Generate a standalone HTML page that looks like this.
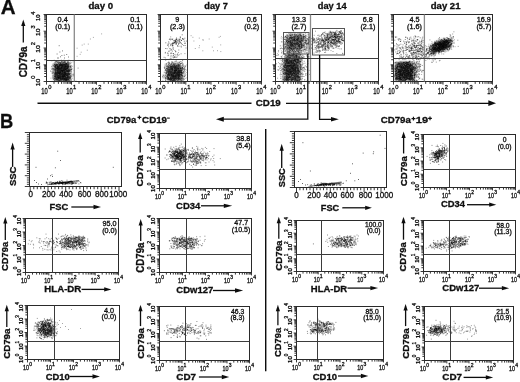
<!DOCTYPE html>
<html><head><meta charset="utf-8"><style>
html,body{margin:0;padding:0;background:#fff;}
svg{display:block;font-family:"Liberation Sans", sans-serif;}
text{stroke:#111;stroke-width:0.3px;}
</style></head><body>
<svg width="520" height="382" viewBox="0 0 520 382" font-family='"Liberation Sans", sans-serif'>
<rect width="520" height="382" fill="#fff"/>
<defs><filter id="gb" x="0" y="0" width="520" height="382" filterUnits="userSpaceOnUse"><feGaussianBlur stdDeviation="0.45"/></filter></defs>
<g filter="url(#gb)">
<defs><filter id="bl" x="-20%" y="-20%" width="140%" height="140%"><feGaussianBlur stdDeviation="1.1"/></filter><filter id="bl2" x="-20%" y="-20%" width="140%" height="140%"><feGaussianBlur stdDeviation="0.6"/></filter></defs>
<path d="M53.5,81 L53.5,66 Q54,62 58,62 L66,62 Q70,62.5 70,66 L70,81 Z" fill="#444" fill-opacity="0.5" filter="url(#bl)"/>
<path d="M60.9 65.9h1M55.3 70.7h1M52.8 76.3h1M61.6 64h1M53.6 79h1M64.5 77.1h1M54.2 78.3h1M58.5 69.5h1M62.9 66.5h1M59.8 73.3h1M57.6 75.5h1M57.9 73.1h1M62 80.1h1M53.8 67.9h1M63.8 70h1M59.9 73.2h1M57.3 69.1h1M61.2 75.7h1M65.1 77h1M70 80.2h1M65.8 76.2h1M57.5 66.4h1M63.6 77.2h1M58.5 64.2h1M58.5 68.2h1M63.8 65.8h1M68.5 79.9h1M58.5 69.8h1M63 79.9h1M63.7 70.7h1M67.5 71h1M55.1 68.9h1M55.6 73.4h1M62.1 76.8h1M56.9 75.9h1M67.9 65.8h1M52.7 73h1M59.5 79h1M57.4 78.2h1M60.9 69.4h1M62.3 80.3h1M63.3 74.5h1M67.1 74.3h1M60.8 76.5h1M66.4 77.3h1M63.2 69h1M58.6 71.4h1M61.8 67.1h1M60.3 79.7h1M63.2 78h1M63.9 69.8h1M56.3 65.5h1M58.3 75.2h1M68.7 71.1h1M62.9 62.5h1M65.5 68.4h1M55.4 71.7h1M56.2 66h1M67.2 62.3h1M55.3 70.4h1M64.8 69.4h1M72 78.2h1M66 75.9h1M51.6 66.3h1M64.6 78.1h1M57.4 72.9h1M67.6 79h1M71 69.2h1M69.2 63.9h1M69.6 78.8h1M51.7 73h1M56.8 76.8h1M65.3 80.6h1M67.6 79.2h1M54 80.3h1M56.1 66h1M54.3 64.8h1M63.6 72.7h1M62.3 68.1h1M60.9 70.9h1M57.1 74.9h1M59.2 64.8h1M62.8 78.8h1M61.4 73.3h1M60.5 77.9h1M60.8 67.7h1M68.4 64.3h1M67.3 71.7h1M63.5 71.1h1M59.2 68.3h1M60.9 70.8h1M59.9 60.4h1M69.6 63.4h1M58.4 66.6h1M55.2 67.4h1M64.4 79.3h1M51 66.4h1M62.9 76.5h1M69.2 70.9h1M56.7 72.7h1M62 72.6h1M64.9 80.2h1M59.8 77.9h1M58.6 72.6h1M56.1 79.9h1M69.8 73.9h1M64.9 73.2h1M62.2 65.5h1M59.7 70.1h1M66 65.4h1M58.9 72.7h1M64.1 66.4h1M68.7 80.3h1M65.4 79.9h1M58.2 65.9h1M65.7 65.6h1M67.4 62.3h1M57.1 75.6h1M71.7 75.8h1M60.1 68.6h1M59.3 76.3h1M67.1 71.5h1M59.3 77.2h1M55.4 74.4h1M63.3 73.2h1M58.1 66.7h1M72.6 61.9h1M67.9 77.8h1M51.8 73.6h1M67.9 67.4h1M66.6 68.9h1M60.8 69.6h1M61.5 65.1h1M63.1 70.6h1M55.5 72.8h1M69.8 78.1h1M63.7 76.4h1M68.1 67.9h1M62.8 76.6h1M55.4 79.1h1M57 72.1h1M66.8 77.1h1M58.7 78.5h1M64.5 71.1h1M65.5 63.1h1M65.9 78.3h1M56.4 78.3h1M57.4 66.7h1M61.5 68.1h1M57.9 72.7h1M65.6 70.1h1M63.1 61.1h1M58.8 70.5h1M55.8 71.8h1M65.5 80.1h1M53.3 66.1h1M57.9 77h1M57.5 62.1h1M69.5 77.9h1M59.1 77.1h1M60.8 79.8h1M57 67.9h1M62.6 70.4h1M70.2 66.5h1M55.5 71.9h1M67.7 78.5h1M57.1 80h1M65.1 74.5h1M60.4 65.3h1M57.3 68.4h1M62 71.1h1M66.1 79.9h1M66.9 64.2h1M51.7 69h1M57.6 77.7h1M67.9 80h1M60 73.1h1M55.1 64.6h1M69.1 70.4h1M60.4 62.5h1M67 68.7h1M61.7 71.8h1M60.7 72.4h1M60.5 69.3h1M56.3 64.6h1M62.4 66.2h1M58.4 72.6h1M60.4 69.7h1M66 75.5h1M64.8 67.5h1M57.6 62.3h1M64.1 74.4h1M56.6 68.6h1M61.4 65.1h1M57.3 71.3h1M68.3 77.2h1M62.5 76.1h1M59.8 74.8h1M64.2 69.9h1M58.8 74.9h1M56.5 74.3h1M68.1 77h1M61.7 68h1M53.2 72.4h1M52.8 68.5h1M60.9 79.1h1M64.3 72.7h1M63.7 79.3h1M63.4 73.2h1M65 67h1M56.8 72.8h1M63.3 67.8h1M54.1 70h1M67.8 76.1h1M65.7 80.6h1M51.4 71.8h1M68.2 78.9h1M62.4 78.9h1M63.7 75.1h1M67.9 66.8h1M60.9 77.9h1M61.3 67.3h1M66.8 66.4h1M68.3 72h1M62.7 72.7h1M68.8 65h1M53.8 75h1M71.6 68.9h1M61.2 67.5h1M68.2 79.7h1M59.7 77.1h1M54.4 72.4h1M65 69.6h1M68.6 73.6h1M70.3 73.6h1M57.6 79.1h1M68.6 70.8h1M67.5 65.6h1M65.7 68.8h1M60.7 65.1h1M58.8 65.3h1M63.4 63.1h1M55.6 64.4h1M60.2 77.3h1M59.3 74.6h1M61.2 64.7h1M67.1 76.1h1M57.9 72.2h1M59.8 72.8h1M58.9 65.3h1M64.7 64.3h1M66.8 73.8h1M62.2 75.4h1M54.6 76.6h1M65.1 66.3h1M64.6 65.4h1M60.6 74.6h1M55.7 77.8h1M59.7 69.2h1M59.4 72.8h1M61.5 63.2h1M54.3 66.5h1M60.3 74.1h1M67.1 66.9h1M70.8 75.8h1M59.2 64.7h1M51.8 73.1h1M56.7 79.4h1M63.1 80.6h1M54.1 80.6h1M62.5 64.4h1M59.6 67h1M54.2 70.2h1M65.1 66.4h1M61.4 78.6h1M68.4 78.1h1M71.2 71.9h1M64.9 69.5h1M62.1 69h1M55.6 64.8h1M60.3 76.9h1M60.2 68.4h1M67.2 74.6h1M56.3 76.1h1M53.9 69.1h1M56.9 68.5h1M64.6 62.4h1M64.9 72.3h1M63.3 77h1M67.2 69.1h1M63.8 75.9h1M58 63.7h1M59.1 73.7h1M68 73.6h1M58.4 67.9h1M66.1 77.7h1M55.2 66.7h1M67.6 79.4h1M65.1 70.5h1M65.3 80.1h1M62.1 70.6h1M59.7 79.3h1M52.9 70.3h1M60.3 72.3h1M66.3 74h1M54.6 74.3h1M65.1 66.3h1M66.7 79.4h1M67.8 71.2h1M67.7 76h1M59.7 78.3h1M58.7 80.7h1M61.8 76.8h1M69.4 77.5h1M59.2 65.9h1M65.7 78.7h1M53 77.7h1M63.4 69.8h1M63.1 74.6h1M60.6 77.4h1M66.2 77.8h1M62 75.4h1M70.7 71.7h1M60.1 66.7h1M59.7 71.8h1M56.1 77.7h1M59.1 79.8h1M68.8 80.4h1M55.1 73.8h1M70.1 75.5h1M69.8 76.1h1M59.4 72.2h1M63.1 63h1M67.7 66.1h1M65.5 66.5h1M60.1 78.9h1M68.2 73.1h1M67.7 74.8h1M58.4 73.1h1M65.5 73.7h1M59.6 72.1h1M66.6 79h1M67.4 61.4h1M63.2 76.2h1M56.3 65.9h1M62.6 73.8h1M62.5 64.8h1M64.8 69.3h1M65.8 63.7h1M52.8 69.4h1M66.5 75.6h1M59.1 73.6h1M57.3 72.2h1M57.9 69.8h1M69.3 66.2h1M66.6 79.1h1M51.9 64.2h1M58.8 62.3h1M56.7 65.8h1M64.4 69.5h1M58.8 65.9h1M64.9 76.6h1M63.1 65.2h1M68.4 72h1M64.8 67.2h1M65 71.1h1M59.4 68.6h1M64.3 72.9h1M69.7 69.9h1M56.2 67.3h1M57.4 77.2h1M56.8 71h1M57.4 72h1M70.8 79h1M58.1 66.8h1M61.1 68h1M55.8 79.6h1M61.1 62.1h1M64.4 70.4h1M64.6 69.5h1M58 62.9h1M57.9 67.8h1M59.9 78.3h1M61.8 66.1h1M61.2 67.2h1M58 77.5h1M65.8 64.4h1M53.4 64.9h1M65.9 79.3h1M64.1 66.8h1M62 66.2h1M63.1 67.6h1M55.5 67.7h1M56.8 66.4h1M58.7 67.5h1M53.7 65h1M56 64h1M57.6 64.1h1M63.5 78.3h1M62.5 62.4h1M62.8 75.4h1M66.8 72.1h1M64.5 74.2h1M53.8 60.7h1M63.9 72.5h1M61.6 65.5h1M66.6 66.5h1M54.8 65.7h1M65.5 80.4h1M61.7 64h1M62 65.6h1M62.9 70.5h1M62.7 76.7h1M66 64.7h1M66.5 78.9h1M58.6 71.3h1M61.2 68.2h1M56 75.5h1M63.5 64.4h1M54.5 78.3h1M56.5 73.4h1M57.5 78.8h1M58.1 71.7h1M56.4 68.7h1M61 70.4h1M61.4 75.9h1M61.6 65h1M61.7 65.7h1M58 80.4h1M52.9 71.4h1M57.4 72h1M68 71.5h1M63.7 64.4h1M65.8 66.6h1M56.3 65h1M64.3 78.7h1M62.5 75.8h1M54.8 67h1M60.8 66.1h1M58.5 74h1M54.7 74.7h1M65.1 74.8h1M59.9 65.2h1M56.9 67.6h1M55.5 80.4h1M56.1 73.5h1M57.8 75.4h1M58.5 72.2h1M58.5 77.2h1M67.1 73.5h1M62.6 67.3h1M54.9 77h1M64.4 79.5h1M71.1 65.6h1M57.9 76.8h1M55.1 64.9h1M59.3 74.9h1M64.7 64.2h1M60.8 61.3h1M67.2 68.2h1M65.6 70.1h1M62.3 76.7h1M52.2 65.8h1M68.9 69h1M60.4 76.4h1M64.4 64.2h1M67.7 79.4h1M54.4 69.6h1M58.3 77.1h1M63.7 68.2h1M70.5 69.8h1M56.5 70.8h1M63.1 78.2h1M64.3 74.6h1M55.6 67.2h1M55.4 78.3h1M67.5 70.6h1M60.5 66.2h1M65.9 63.3h1M56.7 61.1h1M68.5 70.4h1M56.2 68.8h1M64.7 69.1h1M65.2 63.3h1M67.2 76.6h1M67.9 60.2h1M58.5 69.8h1M66 66.8h1M65.5 74.7h1M64.9 78.8h1M59.3 73.6h1M67.1 64.2h1M54.7 70h1M66.4 68.3h1M68.8 74.5h1M59.8 75.6h1M54.9 66.8h1M56.2 78.9h1M69.4 70h1M61 61.4h1M66.9 73.4h1M54 69.8h1M67.5 65h1M67.2 75.8h1M67.3 66.6h1M56.2 64.7h1M59.2 67.8h1M57.5 67.9h1M55.2 65.8h1M61.6 73.3h1M55.3 75.1h1M54.7 66.9h1M63.7 79.4h1M70.2 63.8h1M52.2 76.3h1M55 73h1M60.8 79.3h1M69.4 76.3h1M66.9 67.4h1M63.2 64.8h1M61.7 65.5h1M56.9 62.5h1M58.2 77.5h1M65.9 76h1M55.9 65.4h1M56.8 74.7h1M56.1 72.2h1M63.9 73.7h1M66.3 80.8h1M54.9 76.7h1M65.5 60.9h1M68.2 76.6h1M64 62.1h1M64.8 62.6h1M55.1 63.8h1M58.4 72.6h1M58.6 71.8h1M59.8 69.6h1M61.8 70.9h1M66.2 74.7h1M61.6 78.1h1M60.8 70.8h1M66.8 71.6h1M50.9 60.9h1M65.1 73.7h1M72.7 73.7h1M57.7 80.1h1M58.6 73h1M65 73h1M65 74.8h1M59.1 77h1M63.6 76.2h1M68.3 78.3h1M56.9 79.9h1M60.7 64h1M66.7 79.5h1M62.7 76.2h1M54.7 61.9h1M62.8 77.8h1M56.7 72.6h1M70.9 79.2h1M67.2 80.5h1M67.4 63.5h1M67.1 70.2h1M61.3 67.5h1M66.2 68.7h1M62.6 79.9h1M66.2 78.3h1M54.3 67h1M58.8 69.1h1M64.7 64.9h1M64.3 80.3h1M58 69.7h1M68.5 74.7h1M62 76.1h1M66.1 79.5h1M59.6 64.9h1M60.2 70.6h1M61.2 73.4h1M65.4 64.2h1M65.8 79.8h1M65.1 74.8h1M51.9 77.7h1M57.8 71.6h1M56.3 68.8h1M63.3 67.6h1M66.3 80.3h1M58.9 69.3h1M70.2 70.5h1M54.1 64.9h1M66.6 68h1M70 74.9h1M69.1 60.3h1M71.6 76.1h1M63.1 79.7h1M64.7 79.8h1M54.4 68.4h1M64.2 66.7h1M59.1 65h1M56.6 67.6h1M63.2 72.8h1M61.9 77.2h1M64.1 71.2h1M64.5 69h1M63.5 75.7h1M65.3 63.7h1M64.7 75.8h1M53 66h1M63.4 78.7h1M59.9 63h1M68.5 79.8h1M52.4 70.8h1M59.3 73.3h1M57.3 77.5h1M62.3 76.3h1M64.6 71.2h1M61.9 73.1h1M61.3 77.1h1M57.3 76.7h1M53.3 79.5h1M63.2 71.4h1M66.5 64.6h1M55.9 68.7h1M66.7 80.3h1M67.3 79.6h1M68.3 78.2h1M60.1 62.7h1M63.1 74.8h1M67 77.5h1M63.2 80.6h1M65.3 73.3h1M59.7 65.3h1M62.8 68.2h1M60.5 72.3h1M56.1 78.6h1M66.1 64.7h1M70.6 70h1M62.4 71.2h1M62.6 65.6h1M59.9 77.5h1M70.1 77.5h1M67.4 74.4h1M66.7 65.3h1M64.9 79.7h1M58.5 80.1h1M60.9 64.3h1M63.1 69.8h1M67.2 75.2h1M63.3 77.9h1M62.2 74h1M60.3 76.3h1M63.8 75h1M63.7 68.9h1M67.7 74.2h1M68.2 66.7h1M59.5 69.6h1M66.5 65.9h1M64.1 60.7h1M65.5 73.7h1M57.9 67.5h1M65.2 68.3h1M56.7 73.5h1M61.9 71.8h1M63.4 74.6h1M54.4 66.4h1M63.5 65.8h1M65.1 68.5h1M66.7 75.5h1M58.8 76.4h1M71.1 62.7h1M69.9 77.1h1M65 79.4h1M64.2 78.1h1M59.2 74.8h1M63.1 66.5h1M58.8 67h1M65.1 74.5h1M53.9 78.6h1M69.4 66.8h1M56.6 66.5h1M62.2 79h1M69.9 73.5h1M62 71.5h1M53 68.8h1M64.9 64.5h1M60.3 75.3h1M61.8 76.9h1M67.5 65.9h1M58.8 67.1h1M60.2 78.1h1M63.5 62h1M59.2 64.7h1M53.5 74.7h1M65.1 63h1M68.3 66.3h1M58.2 63.8h1M65.8 74.5h1M67.1 63.3h1M55.1 65.5h1M58.1 67.1h1M63.6 67.8h1M66.7 67.8h1M56.6 76h1M62 64.7h1M53.9 62.9h1M67.9 66h1M65.2 72.1h1M69 78.6h1M66.5 70.8h1M63.9 70.1h1M55.6 73.1h1M57 66.1h1M61.4 65h1M65.3 66.2h1M54.6 79.4h1M52.3 72.6h1M62.7 75h1M63.6 78.1h1M62 70.1h1M59.6 78.7h1M62.5 79.5h1M57.6 79.1h1M68.7 80.2h1M55.6 78.7h1M59.6 76.1h1M69.1 73.8h1M62.1 73.2h1M57.2 75h1M59.8 80.8h1M71 76.1h1M66.7 73.6h1M66.4 74h1M55.8 77.7h1M57 64.8h1M64.2 75.7h1M55.6 66.8h1M67.4 70.6h1M66.6 79.4h1M64.1 76.3h1M58.7 70.1h1M64.2 78.3h1M67 65.1h1M67.3 62.1h1M60.2 64.4h1M58.6 69h1M64.5 66.1h1M68.5 73.3h1M65.5 66.2h1M67.3 68.7h1M69.1 62.4h1M61.2 75h1M68.4 73.6h1M51.7 71.4h1M60.9 71.5h1M67 71.3h1M55.5 70.4h1M62.3 78.1h1M66.1 63.6h1M64 79.2h1M64.7 72.9h1M69.5 66.3h1M59.8 64.1h1M62.8 78.3h1M64.4 76.5h1M65.5 66.7h1M55.9 67h1M59.7 65.4h1M67.1 65.1h1M57 67.3h1M59.4 62.2h1M67.6 79.2h1M61.2 74.3h1M68.1 69.7h1M67.4 77.9h1M57.4 77.3h1M63.3 69.2h1M62.4 67.4h1M56.7 70.7h1M58.5 77.6h1M58.8 68.7h1M63.8 80.6h1M67.6 67.6h1M61.1 65.6h1M57.9 68.1h1M64.9 79.3h1M65 75h1M65.4 79h1M65 79h1M67.1 78.2h1M66.7 69h1M65 71.4h1M61 68h1M65.1 69.4h1M65.8 80.8h1M65.7 69.7h1M59.7 78.2h1M57 71.8h1M63.9 75.7h1M61.9 70.7h1M56.3 74.7h1M59.2 68.8h1M56.8 80.4h1M66.1 78.1h1M57.4 77.5h1M55.8 61.6h1M68.8 77.8h1M58.5 68.5h1M59.3 75.8h1M55.3 62.2h1M65.1 65.3h1M60 79.9h1M70.8 80.4h1M70.7 67.2h1M58.7 68.8h1M70.1 79h1M59.1 65.3h1M68.9 74.8h1M63.6 69.6h1M71 73.8h1M58.1 67.1h1M64 74.3h1M53.6 69h1M61.1 78.9h1M53.5 64.3h1M62.3 68.2h1M66.3 78.7h1M55 71.4h1M70.2 61h1M57.4 62.3h1M60.2 78.9h1M56.9 77.8h1M63.5 60.7h1M58.2 78.7h1M57.9 68.2h1M57.2 78.9h1M69.6 68.7h1M62.3 67h1M63 77.1h1M58.6 71.1h1M63.9 80.2h1M69 74.5h1M62.1 63.8h1M62 63.2h1M58.3 77.3h1M59.7 76.6h1M65.2 77.2h1M58.4 75.2h1M61.5 71.2h1M57.5 65.3h1M55.4 72.3h1M60.7 64.2h1M63 70.3h1M57.6 73.3h1M61.1 64.4h1M57.5 64.5h1M57 79.3h1M64.2 74.9h1M54.3 64.8h1M60.6 69.6h1M71.3 69.1h1M55.4 69.2h1M62.7 71.2h1M58.9 77.5h1M62.7 68.7h1M60.2 65.1h1M61.1 74.9h1M58.9 73.4h1M57.4 76.6h1M57.9 77.9h1M63.6 74.8h1M61.6 61.9h1M63.3 74.7h1M62.2 73.2h1M62 74.6h1M57.6 69.2h1M61.9 75.8h1M55.9 73.1h1M65.8 66h1M54.1 76.1h1M57.6 65.8h1M66.5 68.4h1M65.3 77.6h1M65.2 68.2h1M63.2 79.5h1M64.3 66.6h1M56.7 70.5h1M58.3 62.7h1M58.4 77.2h1M59.2 72.5h1M54.6 76.5h1M55 66h1M60.8 69h1M62.1 70h1M52.4 68.8h1M61.6 67.4h1M63.9 79.6h1M64.3 64.8h1M55.5 72.3h1M54.8 66.3h1M66.9 68.1h1M62.2 71h1M50.8 68.2h1M62.2 71.3h1M55.8 61.7h1M59.2 79.1h1M56.7 78.1h1M58.8 65.9h1M69.6 80h1M55.2 69.4h1M55.7 75.1h1M54.7 72.6h1M54.9 70.3h1M66.1 70.7h1M68.7 76.8h1M58.6 66h1M61.7 61.2h1M62.4 62.1h1M56.2 77.5h1M68.6 69.7h1M67.7 67h1M57.1 67.9h1M67.9 64.2h1M60 63.5h1M67.4 80.4h1M58.8 63h1M54.5 71.4h1M57.1 71.8h1M63.8 70.6h1M54.6 63.1h1M62.5 75.2h1M66.8 78.5h1M57 64.5h1M71 72h1M62.1 79.5h1M57.7 73.6h1M58.6 71.2h1M54 76h1M55.7 74.8h1M63.6 65.8h1M65.2 74.6h1M67.5 71.3h1M61.2 74.5h1M65.8 64h1M59.9 75h1M54.5 75.5h1M57.5 60.5h1M54.6 71.2h1M53.6 73.8h1M67.7 74.4h1M63 75h1M58.5 77.8h1M66.8 70.8h1M65.4 77.9h1M58.6 63.9h1M69.8 71.8h1M58.7 68.8h1M62 76.7h1M62.4 76.5h1M58.8 80.3h1M58.3 77.6h1M55.6 79.1h1M57.8 78.8h1M60.5 65.5h1M56.3 70.8h1M64.5 74h1M69.1 75.4h1M68.2 72.4h1M55.7 78.6h1M63.3 66.6h1M52 75.2h1M68.1 72.6h1M60.2 80h1M68.1 70.1h1M66 79.7h1M55.2 61.8h1M54.4 77.4h1M65.8 76.9h1M59.5 72.4h1M70.6 67.8h1M68.9 71.2h1M57.6 65.3h1M56.7 74.7h1M66.1 70.6h1M67.9 64.4h1M57.2 76.2h1M65 74.8h1M64.2 68h1M58.4 75.6h1M67 70.2h1M61.5 79.6h1M59.1 62.4h1M69.7 72.7h1M63.7 60.3h1M57.4 66.8h1M57.9 75.4h1M68.3 71.4h1M57.6 77.1h1M64.4 77.2h1M63.5 75.3h1M65.2 65.7h1M66.8 72.5h1M71.3 80.2h1M62.1 74.1h1M57.7 69.3h1M67.4 62.5h1M61.4 64.7h1M68.4 70.4h1M54 65.3h1M70.7 76.9h1M56.4 68.8h1M69.1 74.9h1M69.1 77h1M58.9 73.5h1M66.4 75.1h1M67.9 75.3h1M64.3 67.2h1M64 73.6h1M64.9 65.3h1M56.5 64.1h1M60.5 80.4h1M64.9 76.3h1M55.5 70.6h1M69.7 66.8h1M60.3 77.6h1M60.6 71.1h1M57.7 80h1M68.5 76.4h1M58.8 66.7h1M59.6 72.2h1M60.1 72.3h1M57.8 77.2h1M61 60.1h1M61.8 74.7h1M65.7 71.3h1M61.2 68.2h1M56.6 73.4h1M61.9 62.2h1M66.3 80h1M66.4 67.8h1M57.3 66.2h1M55.4 79.1h1M57.3 66.7h1M63.3 60.2h1M62 77.5h1M55.7 73.6h1M66.5 77.9h1M66.2 74.1h1M57.1 70.8h1M62.7 63.3h1M65.2 80h1M55 65.4h1M59 62.9h1M60 67.7h1M66.9 66h1M65.6 67.6h1M61.1 73.2h1M58.1 61.2h1M63 73.2h1M64.4 75.3h1M62.8 79.7h1M63.4 75.8h1M62.5 70.7h1M56.7 78.4h1M60.9 74.7h1M64.1 68.7h1M61.7 78.9h1M62.4 76.2h1M57.3 79.8h1M67.8 66.1h1M56.6 69.1h1M60 71.6h1M64 68.1h1M57.8 73.6h1M67.8 74.1h1M61.8 70.5h1M55.1 75.1h1M55 76.6h1M57.8 75.7h1M59 78.4h1M55.7 76.9h1M58.9 78.7h1M64.5 79.1h1M54.3 74.1h1M50.4 78.2h1M51.1 69.6h1M62.2 78.7h1M69.7 78.5h1M57.8 77.1h1M55.4 61.1h1M65.3 66.6h1M61.2 70.2h1M62.8 69.7h1M57.1 75.8h1M60 74.9h1M55.1 65.2h1M67.5 77.4h1M70 66.8h1M57.3 70.6h1M69.7 68h1M60.9 77.5h1M60.5 73.3h1M54.9 75.5h1M66 79.2h1M68.3 62.9h1M57.5 70.1h1M56.9 73.3h1M60.2 74.2h1M55.7 69.7h1M64.5 78.1h1M68.3 70.1h1M62.4 71.2h1M66.8 70.6h1M53.6 63.5h1M65.5 68.1h1M70.2 77h1M67.4 66.4h1M67.5 66.8h1M62.2 66.5h1M69.6 78.6h1M58.8 74.2h1M58.6 65.6h1M60.9 76h1M56.1 75.3h1M53.9 66.5h1M61 70.4h1M52 69.1h1M59 65.8h1M52.8 72.3h1M58.2 69.1h1M59.7 70.6h1M62.4 77.5h1M67.2 76.4h1M61.8 76.3h1M64.2 65h1M67.9 77.3h1M64.4 69.7h1M65.4 63.6h1M58.6 80.6h1M64.5 60.8h1M59.1 75.6h1M60.2 70.8h1M58.7 69.8h1M64.3 64.5h1M66.2 73.4h1M59.3 72.7h1M66.3 67.3h1M54.6 76h1M63 69.3h1M68.5 63.3h1M61.2 66.6h1M64.4 79.9h1M59.7 74.2h1M64.6 76h1M58.3 76.7h1M56.5 61.3h1M60.4 68.2h1M56.9 69.4h1M65.5 65h1M67.4 69.8h1M58.3 68h1M57.7 72.2h1M61.1 65.6h1M56.5 69.1h1M59.4 67.8h1M55.1 68.8h1M59.6 79.5h1M63.4 64.5h1M54.8 74.7h1M68 70h1M56 76.5h1M68.3 71.4h1M67.4 71.4h1M66.1 63.8h1M61.2 68.2h1M63.8 62.1h1M62.2 74.4h1M56.3 64.7h1M65.1 76.5h1M58.3 73.6h1M55.4 73.3h1M70.1 65.6h1M60.7 65.2h1M69.3 77.6h1M66.8 74.9h1M60.7 66.3h1M62.7 73.9h1M62.7 78.6h1M68.7 77.3h1M63.9 79.1h1M63.3 67.1h1M66.5 64h1M54.9 76.9h1M67.7 65.4h1M66.1 66.3h1M62.4 65.8h1M65.8 75.2h1M54.2 73.5h1M62.2 68.6h1M54.9 80.2h1M65.4 78.3h1M58.6 68.4h1M55.1 68.2h1M64 64.2h1M59.8 64.1h1M62.4 65h1M66.2 79.6h1M61.5 76.7h1M58.7 73.6h1M70.2 69.6h1M63.4 68.9h1M64.9 66.8h1M55.4 73.2h1M56.5 61.6h1M67.1 77.9h1M58.2 75.9h1M59.6 71.5h1M53.2 69.4h1M56 79.5h1M67.9 64.2h1M57.5 66.8h1M60.3 63.1h1M60.7 64.9h1M64 67.9h1M54.4 76.8h1M58.2 78.8h1M58 68.1h1M67.9 61.8h1M59.5 64.8h1M60.4 71.4h1M58.6 71.2h1M53.6 77.3h1M64 62.2h1M65.4 67h1M64.4 64.4h1M60 65.1h1M53.9 64.5h1M59.8 64.3h1M65.2 78h1M58.9 80.5h1M58.1 67.3h1M52.7 65.6h1M60 68.1h1M62 66.1h1M68.2 75h1M57.3 75.3h1M62 64.3h1M58.3 60.8h1M62.9 77h1M63.9 73.1h1M67.9 63.1h1M58.6 72.9h1M64.8 72.8h1M70.1 69.4h1M63.1 64.4h1M61.1 66.6h1M63.5 68.4h1M63.4 64.9h1M62.4 70.1h1M54.9 73.8h1M57.1 72.8h1M57.2 79.9h1M57.9 71h1M61.7 73.2h1M64.1 72.7h1M67.6 64.9h1M55.1 67.3h1M54.5 76.8h1M67.7 62.9h1M66.8 67h1M60.3 67.1h1M63.4 72.8h1M61.9 79h1M64.8 67.6h1M57.1 69.2h1M69.9 62.8h1M60 66.2h1M69.3 67.2h1M65.3 69.8h1M70.6 70.3h1M68.2 76.8h1M67.1 68h1M66 71.7h1M66 71.4h1M63.8 65.4h1M63.4 63.1h1M63.4 76.2h1M60.7 69.7h1M62.1 79.9h1M60.1 73h1M62.6 69.2h1M63.5 71.1h1M61.2 73.8h1M66.5 70.9h1M62.8 70h1M65.5 80.2h1M67.7 68.1h1M61.2 74.7h1M57.6 80.2h1M55 67.8h1M62.5 69.9h1M65.8 64.7h1M63.8 65.1h1M61.9 75.1h1M63.3 68.6h1M60.1 74h1M59.3 64.2h1M65.2 73.3h1M59.2 74.2h1M54 80.1h1M66.6 75h1M58.6 68h1M55.7 64.6h1M60.8 70.6h1M62 78.6h1M71.3 68.2h1M54.7 72.4h1M63.7 76.4h1M64.5 72.6h1M67.7 80.7h1M55.3 75h1M59.2 73.4h1M60.7 70.2h1M63.9 72.8h1M57.6 73.4h1M64.5 67.1h1M62.8 71.7h1M62.9 64.3h1M54.9 77.8h1M53.7 60.2h1M69.7 77.2h1M61 73.6h1M67.4 61.3h1M57.2 67.3h1M65.6 71.9h1M65.9 70.1h1M55.5 76.7h1M62.2 60.7h1M63.6 72.1h1M54.4 76h1M65.9 69.5h1M58.8 71.9h1M62 78.1h1M58.8 70.3h1M66.6 73.8h1M54.3 76.6h1M64.2 76.5h1M67.5 75.4h1M59.4 75.8h1M54.9 66.2h1M57.4 65.8h1" stroke="#000" stroke-width="1" stroke-opacity="0.28"/>
<path d="M58.9 73.5h1M63.5 75.5h1M63.5 78.5h1M61 67.8h1M61.9 72.7h1M68.7 69.9h1M62.7 76.9h1M60.3 68.5h1M62.9 67.8h1M68.2 77.6h1M62.5 76.7h1M68.8 76.9h1M57.8 78.1h1M65.3 80.5h1M55.1 73h1M56.4 73.3h1M59.8 65.4h1M63.6 68.6h1M62 71.6h1M56.1 71.1h1M60.5 73.9h1M65.7 78.4h1M63.6 76.1h1M64.1 68.4h1M67.2 76.2h1M64.9 69.1h1M59 73.9h1M64.5 64.5h1M64.4 72.4h1M66.9 67.5h1M63.7 65.8h1M57 71.2h1M62.8 71.1h1M66.4 69.9h1M60.5 75.1h1M65.2 66.5h1M63.8 70.3h1M61.5 67.2h1M63.9 78.7h1M65.6 71.3h1M65 78.6h1M60.6 65h1M57.6 68.4h1M68.1 72.2h1M67.6 74.7h1M67.3 71.5h1M58.5 66.6h1M64 73.5h1M55.3 79.8h1M63 77.2h1M61.1 80.1h1M61.5 67.8h1M66.8 79.1h1M59.1 76.3h1M61.8 70.2h1M65.9 75.5h1M64.5 76.8h1M54.9 72.9h1M59.2 77.8h1M60 69h1M62.8 75.2h1M59.9 69.6h1M63.2 73.2h1M58.8 70.2h1M54.4 67.4h1M57.9 73.6h1M61.5 67.8h1M60.7 78.1h1M65.6 67.6h1M58.5 74.6h1M59.7 70.5h1M59.6 71.7h1M58.2 69.5h1M67.3 68.7h1M53.6 73.2h1M63.6 78.7h1M66.8 72.2h1M59.8 75.3h1M64.8 79.3h1M64.7 74.1h1M65.8 64h1M64.2 68.7h1M62 70h1M62.4 66.5h1M66.8 69h1M60.4 74.2h1M59.7 72.7h1M53.1 75.6h1M54.2 73.5h1M63 65.9h1M63.8 64h1M61.5 69.7h1M62 78.1h1M63.2 64.1h1M61.6 66.6h1M59.2 66.6h1M58.3 77.7h1M64.9 66.8h1M63.2 74.8h1M65.4 77.4h1M62.3 73.3h1M56.8 67.7h1M67.3 74.1h1M66.2 71.8h1M64.7 74.1h1M66.7 67.6h1M59.3 78.1h1M64.9 75.8h1M58.7 75.8h1M66 68.2h1M65.2 73h1M64 67.8h1M65.5 69.2h1M59.2 68.6h1M67.3 66h1M55.8 68.4h1M59.7 71.1h1M55.1 79.1h1M55.4 78.3h1M57.5 70.5h1M61.4 70.4h1M60.3 72.7h1M69.1 73.7h1M54.7 76.1h1M61.3 78.9h1M58.7 73.4h1M56.6 77.7h1M64.6 69.4h1M60.6 72.4h1M60.7 64.6h1M59.5 70.3h1M66.1 74.8h1M63.7 77h1M66.2 70.1h1M69.7 76h1M58.4 67.3h1M56.9 74h1M61 76.1h1M64.4 78.1h1M57.8 77.5h1M64.3 71.8h1M60.4 76.1h1M64.6 62h1M57.3 72.9h1M57.1 76.2h1M63.9 66.9h1M63.5 76.6h1M67 75.7h1M60.5 63.8h1M62.3 70.3h1M61.9 74h1M56.3 74.8h1M63.9 67.1h1M64.7 73.6h1M59.8 69.9h1M63.8 75.3h1M58.5 75.5h1M59.4 67.3h1M57.3 66.2h1M69.2 69.9h1M60 78.4h1M56.8 68.3h1M60.6 79.1h1M55 73.5h1M64.1 78.9h1M61.4 70.2h1M64.6 73.5h1M64.5 75.1h1M61.2 68.4h1M63.2 70.1h1M61.3 67.7h1M65.5 70.1h1M61.3 67h1M67.6 71.4h1M62.8 72.8h1M60.9 80h1M67.6 73.5h1M58.2 74.2h1M56.6 72.3h1M61.3 67.3h1M62.4 64.8h1M57.4 76.7h1M61.4 70.6h1M55.9 80.6h1M58.8 71.5h1M59.7 77.7h1M63.4 76h1M65.1 71.8h1M68.4 68.8h1M57.6 77.2h1M57.1 69.7h1M57.3 68.6h1M66.8 77.8h1M60.7 79.9h1M56.7 77.8h1M58.1 67.1h1M55.1 69.3h1M64.4 67h1M58.5 69.6h1M65.9 63.7h1M65.6 73.1h1M63.4 76.9h1M65.5 66h1M66.1 63.4h1M65 68.4h1M59.5 76.9h1M61.4 68.2h1M59.8 72.1h1M68.2 73.3h1M68.9 78.3h1M64.2 75.3h1M68.3 68.7h1M62.9 70.1h1M57.8 72.5h1M62.4 64.2h1M56.6 65h1M60.2 68.6h1M57.4 66.7h1M60.7 68.6h1M67.7 70h1M60.5 80.8h1M61.8 66.3h1M55.1 69.1h1M68.8 74h1M69 71.3h1M67.1 76.6h1M63.4 72.4h1M64.1 74.1h1M65.3 68.4h1M66.5 65.7h1M59.7 75.8h1M66.1 72.3h1M64.2 74.9h1M63.7 70.9h1M59.9 63.8h1M57.4 70.4h1M60.5 80.7h1M57.7 78.6h1M62.3 72.9h1M67.9 67.2h1M63.6 71.1h1M54.9 72.1h1M60.7 76.8h1M64.4 72.8h1M61.8 65.9h1M58.2 74h1M60.6 68h1M56.5 68.5h1M64.3 63.9h1M59.4 77h1M65 73.3h1M62.2 72h1M59.3 74h1M59.7 76.7h1M59.2 78h1M59 73.2h1M65 66h1M60 65h1M65.7 70h1M58 77.1h1M54 78.5h1M60.7 71.4h1M66.5 77.4h1M58 77.2h1M64.7 66.1h1M68.4 73.8h1M55.6 70h1M56.8 74.4h1M55.4 65.6h1M57.2 74.7h1M57.4 70h1M56.3 72.6h1M59.8 68.7h1M58.2 68.8h1M68.4 70.6h1M59.9 71.9h1M65.9 68.4h1M56.8 68h1M64.7 67.2h1M64.9 77.9h1M61.7 77.1h1M55.3 77.6h1M59.3 66.9h1M56.3 76.5h1M57.7 73.2h1M64.2 79.9h1M60.3 70.7h1M59.1 80.7h1M60 67.1h1M54.2 74.4h1M65 69.5h1M67.1 77.6h1M60.3 76.6h1M65.9 66.8h1M64.8 72h1M57.5 72.2h1M64.1 75.7h1M64.6 77.6h1M62 68.8h1M66.7 77.6h1" stroke="#000" stroke-width="1" stroke-opacity="0.28"/>
<path d="M71.6 74.5h1M61.4 71h1M66.5 68.6h1M69.9 67.1h1M52.3 60.7h1M70.3 76.9h1M56.5 79.3h1M60.6 71h1M51.9 68.1h1M62.5 73.2h1M58 78.5h1M71.6 66.3h1M64.5 61.5h1M64.6 65.3h1M60.8 73h1M60.2 78.9h1M56.6 68.7h1M64 71.6h1M63.6 70.4h1M56.4 76.3h1M62.4 77.9h1M70.9 69.5h1M56.9 68.8h1M57.5 58.4h1M73 74.6h1M77.6 68.1h1M65.9 73.7h1M61.4 78.5h1M61.9 71.4h1M57 66.9h1M73 75.8h1M67.2 76.1h1M60.5 62.4h1M66.1 79.9h1M62.6 74.4h1M52.6 78.3h1M63.9 72.7h1M53.3 79.2h1M60.6 65.2h1M57.7 70.4h1M62.6 65.8h1M55.7 74.7h1M59.1 76.9h1M73.7 70.6h1M68.6 74h1M55.3 67.9h1M50 71.1h1M68.6 70.2h1M67.5 66.8h1M69.6 71.2h1M61.9 75.8h1" stroke="#000" stroke-width="1" stroke-opacity="0.45"/>
<path d="M58.7 45.7h1M59.4 52h1M62 50.9h1M56.6 54h1M61.4 55.5h1M63.8 55.2h1M66.2 54.5h1M60 56.8h1M64 58h1M57.5 57.7h1M68 57h1" stroke="#000" stroke-width="1" stroke-opacity="0.5"/>
<path d="M76.6 48.2h1M81.7 45.1h1M83.7 44.1h1M87.8 44.1h1M86.8 50.2h1M80.7 52.2h1M79.7 54.3h1M89.9 39h1M92.9 37.4h1M101.1 33.9h1M76.6 56.3h1M75.5 81h1" stroke="#000" stroke-width="1" stroke-opacity="0.35"/>
<path d="M167,81 L167,70 Q168,64.5 174.5,64.5 Q181.5,64.5 182.5,70 L182.5,81 Z" fill="#3a3a3a" fill-opacity="0.5" filter="url(#bl)"/>
<path d="M178.3 75.9h1M174.1 79.8h1M170.2 76.2h1M168.8 66.6h1M172.1 73.7h1M166.9 70.2h1M178.2 66.3h1M170.3 78.9h1M166 72.6h1M168.6 79.7h1M183.8 68h1M177.6 63.4h1M174.3 78.8h1M171.5 71.1h1M170.6 67.2h1M168.1 77.7h1M178 65.6h1M176.6 73.9h1M182.2 67.3h1M178 75h1M165.3 70.1h1M165.9 64.8h1M175.3 61.9h1M171 74.5h1M175.3 74.7h1M176.4 67.9h1M166.6 65.6h1M175.3 78.5h1M169.8 75h1M178.9 74.8h1M181.7 75.2h1M174.6 66.5h1M183.4 65.6h1M168.8 76.1h1M175.7 75.4h1M176.8 75.7h1M170.1 66.3h1M176.7 69.8h1M178.8 73.7h1M162.6 77.6h1M180.5 78h1M173.8 72.1h1M175.4 70h1M176.5 68.2h1M177.6 80.7h1M172.2 67.6h1M169.7 80.1h1M165.7 77h1M170.2 68.8h1M177.5 75.7h1M172.9 73.4h1M184.2 76.7h1M174.3 77.1h1M175.6 68.4h1M179.5 70.7h1M181.5 69.3h1M171.6 62.4h1M175.5 76.1h1M175.1 75.4h1M180.4 68.5h1M175.5 68.1h1M170.5 68.1h1M180.8 72.7h1M171.9 79.1h1M167.4 66.2h1M170.1 67.1h1M171.3 71.9h1M177 69.6h1M174.7 63h1M167.6 67.9h1M174.7 76.4h1M167.9 62.6h1M168.2 62.3h1M179 79.1h1M169.6 64.1h1M177.1 73.8h1M173.6 66.4h1M164.8 79.1h1M177.2 71.8h1M173.4 76.5h1M170.8 74.5h1M180 73h1M171.8 78.2h1M174.8 77.9h1M168.2 74.6h1M181.7 79.8h1M167.2 69.6h1M170.9 70.1h1M179.7 67.7h1M174.7 70.3h1M174.2 71h1M178.5 78.2h1M179.5 66.7h1M175.5 66.4h1M176.6 78.8h1M171.9 62.9h1M177.3 74.3h1M176.3 73.6h1M180.9 75.6h1M175.2 67.1h1M171.7 70.6h1M175.7 75.4h1M164.9 80.6h1M175.7 72.5h1M173.9 80.5h1M166 68.2h1M174.5 78.4h1M179.8 73.4h1M178.8 70.8h1M173.5 78.7h1M180.9 71.3h1M181.1 78.6h1M178.1 71.3h1M167.1 76.2h1M170.8 74.2h1M177.4 67.8h1M172.4 80.1h1M173 75.8h1M171.9 69.1h1M179.1 71.5h1M175.2 79.5h1M167.1 66.7h1M172.7 69.8h1M172.9 66.3h1M181.9 68.1h1M167.4 74.2h1M171.9 69h1M178.6 70.2h1M171.2 64.1h1M177.9 66h1M175.8 78.2h1M176 70.8h1M172 72.5h1M166.1 71h1M174.5 80.5h1M175.7 73.8h1M177.4 77.5h1M172.4 62.8h1M169.5 69.4h1M178.4 76.6h1M168.3 77.2h1M179.1 65.7h1M179.9 69.3h1M179.4 71h1M166.5 70.1h1M174.3 75.7h1M165.1 75.5h1M182.2 76.1h1M181.1 74.7h1M178.3 66.2h1M174.3 76.1h1M171.3 78h1M180.6 69.1h1M181.4 72.9h1M179.4 73.1h1M175.4 76.7h1M171.6 70.1h1M167.9 78.5h1M177 72.9h1M179.1 75.3h1M176.7 73.5h1M176 72.2h1M167.7 66.1h1M174.6 73.5h1M173.8 71.8h1M181.9 68.3h1M166.8 77.6h1M177.9 77h1M177.5 77.6h1M170.5 66.9h1M171.6 72.1h1M185.9 77.9h1M172 69.4h1M177.1 66.3h1M171.3 65.7h1M178.4 77.2h1M165.8 64.2h1M169.2 67.8h1M175.3 66.7h1M166.6 78.4h1M166.9 68.1h1M174.2 73.8h1M168.9 79.4h1M173.9 79.4h1M181 80.6h1M184.5 71.6h1M179.7 74.1h1M173.4 78.3h1M172.7 76.3h1M172.6 75.7h1M182 67.8h1M172.6 78.4h1M180.5 63.7h1M171 79.4h1M173.1 63.4h1M178.3 70.3h1M163.3 75.2h1M175 76h1M181.5 72.2h1M170.4 74.8h1M167.3 71.6h1M176.2 74.2h1M169.5 76.1h1M179.4 64.8h1M171.2 76.3h1M172.6 74.7h1M182.1 75.2h1M178.9 68h1M174.4 72.4h1M176.4 77.1h1M183.4 68.4h1M179.1 80.1h1M178.3 76.9h1M170.6 67.8h1M169.9 77.7h1M168.6 71.1h1M184 75.8h1M178.5 67.6h1M180.2 69.8h1M178 73.3h1M180.6 63.5h1M173.2 76.8h1M175.1 78.4h1M181.6 68h1M176.3 69.1h1M170.5 68.2h1M173.4 80.6h1M175.6 73.8h1M184.5 71.9h1M177.7 78.5h1M182.4 66h1M181.9 67.7h1M180.7 74.9h1M173.1 79.8h1M174.2 78.6h1M177.5 72.2h1M172.8 66.2h1M172.9 73.8h1M180.9 68.4h1M178.3 79.2h1M180.5 74.6h1M176.3 65.8h1M174.5 71.3h1M174.8 68.9h1M178.4 65.3h1M169.1 79.4h1M174.5 76.8h1M170 71h1M175 72.2h1M181.8 69.7h1M182.9 72.6h1M181.7 73.5h1M182.1 67.8h1M171.7 68.2h1M171.6 70.9h1M175.1 75.7h1M167.5 77.9h1M176.2 70.7h1M174.6 67.1h1M176.8 68h1M173.8 64.7h1M169.8 70.6h1M178.3 75.8h1M164.7 78.1h1M182.8 73.3h1M167.6 73.8h1M168.2 66.9h1M182.4 78.6h1M181.7 65.6h1M175.9 73.5h1M168.9 63.6h1M179.8 75.1h1M169.6 79.6h1M170.8 63h1M178.1 70.6h1M173.3 63.5h1M172.9 66.5h1M173.4 75.5h1M171.8 77h1M165.1 69.8h1M169.8 77.3h1M184.8 65.5h1M177.7 68.5h1M174.3 71h1M169.6 74.4h1M171.6 61.5h1M168.2 74.7h1M171.1 80h1M175.9 78.8h1M177.1 74.8h1M171.6 66.9h1M174.4 66.1h1M171.5 75.9h1M172.9 66.6h1M167.4 70.1h1M167 77.7h1M179.6 67.2h1M178.7 72.2h1M181.2 70.7h1M165.7 78.3h1M179 65.9h1M175.1 76.2h1M173.3 73.9h1M167.1 78.1h1M173.2 80.7h1M180.1 70.2h1M171.2 71.7h1M167.3 72.6h1M176.7 70.9h1M174.5 68.4h1M170.4 78.2h1M178.5 71.3h1M172.3 69.1h1M177.5 73.7h1M176.4 66.8h1M177.9 70h1M168.8 78.7h1M173.5 72.6h1M171.3 80h1M174.3 73.6h1M172.1 74.4h1M164.5 72.2h1M173.3 74h1M181.7 69.4h1M166.7 72h1M166.5 67.3h1M167.2 79.5h1M179.1 76.5h1M168.9 71.7h1M174.1 63.2h1M178.6 76.7h1M179.6 70.6h1M181.5 73.4h1M176.3 69.4h1M173.6 78.6h1M174.9 66.2h1M178.6 73.8h1M174 63.8h1M178.7 73.9h1M172.9 78.5h1M169.1 62.6h1M170.1 78h1M178.6 64.8h1M167.2 76h1M174.7 69.1h1M184.5 68.3h1M171.1 75.9h1M170.1 73h1M181.1 72.6h1M166.2 66.7h1M171.3 71.2h1M177.4 64.7h1M166.3 71.1h1M177.5 75.8h1M180 63.4h1M178.2 74.6h1M168.4 78.7h1M179.2 74.5h1M174.9 75.7h1M171.2 75h1M178 75.5h1M174 66h1M172.6 76h1M174.3 66.8h1M175.1 78.1h1M175.6 74.1h1M173.8 67.5h1M168 79.1h1M176.4 66.8h1M169.7 80h1M172.9 67.4h1M166.7 76.6h1M179.2 77.9h1M180.5 72.7h1M170.7 69h1M170.6 75h1M175.4 73.9h1M179.2 65.9h1M180.1 68.7h1M178.3 74.8h1M164.6 77.3h1M183.7 79.7h1M172.3 70h1M173.4 80.4h1M177 69.8h1M172.8 74.9h1M175.5 70h1M163.7 74.1h1M177.4 72.7h1M178.1 68h1M177.2 64.3h1M168.3 61.3h1M171.2 66.3h1M175.3 72.4h1M175.1 74.2h1M176 79.7h1M182.3 80.1h1M167.8 68.8h1M172.6 76.1h1M166 68.9h1M174.8 64h1M180.1 72.5h1M178.4 76.2h1M177.4 74.1h1M167.4 74.5h1M167.9 77.1h1M169.7 67.1h1M166.8 76.8h1M170.9 72.5h1M173.9 68.5h1M173.4 62.6h1M170.9 66.6h1M171.8 62.7h1M178.9 62.6h1M182.5 66.9h1M179.1 78.5h1M180.5 72.3h1M168.6 80.1h1M170.6 74.5h1M181.6 68.3h1M171 67.8h1M169.8 69.9h1M175.8 76h1M174.7 71h1M179.3 69h1M175.8 69.3h1M173.3 71.6h1M179 76.2h1M178.4 71.1h1M171 74.8h1M171.1 77.1h1M170.9 77.6h1M171.4 69.6h1M178 77.7h1M174.5 77.3h1M178.2 76.9h1M173.8 73.5h1M177.7 69.3h1M181.8 78.2h1M169.2 68.6h1M172.3 69.3h1M174.1 79.8h1M175.1 75h1M169.3 73.3h1M179 79.1h1M175.5 69.6h1M168.4 73.8h1M163.6 72.2h1M175.6 72.9h1M171.5 69.3h1M179.8 66.9h1M181.2 72.8h1M172.2 72.6h1M170.4 77.1h1M175.2 71.8h1M178 78.8h1M177.8 68.3h1M168.3 74.5h1M179.2 79.1h1M172.5 65.8h1M172.8 73.9h1M175.6 74.1h1M166.8 75.4h1M178.3 69.9h1M178.6 74.1h1M167.9 78.7h1M180.4 61.5h1M175.9 65.6h1M180.1 65.5h1M172.2 76.4h1M179.7 72.1h1M176.1 70.8h1M173.5 65.1h1M182 62.7h1M171.5 79.1h1M166.6 79.7h1M179.8 71.6h1M171.2 68.3h1M165.1 79.8h1M176.1 67.9h1M170.2 66h1M171 63.3h1M173.1 72.7h1M167.7 69.7h1M166.3 72.3h1M170.7 72.6h1M179.7 72.3h1M174.6 77.1h1M167.9 71.9h1M182.2 63.9h1M178.4 70h1M181.6 70.6h1M179.6 72.3h1M175.4 69h1M170.4 71.9h1M170.2 76.3h1M179.2 75.6h1M172.2 71.3h1M173.9 65.8h1M173.1 79.6h1M179.5 76.9h1M166.5 68.6h1M181.5 62h1M177.6 64.8h1M169.3 69.7h1M169.6 71.2h1M179.3 77.1h1M170.4 78.2h1M181 74.6h1M171 69.1h1M181 70.2h1M174.3 70.6h1M176.4 62.7h1M175.8 70.1h1M178.2 72.3h1M173.4 69h1M175.7 70.5h1M176.6 76.7h1M181.7 76.1h1M179.7 75.8h1M179.8 61.6h1M173.7 65.5h1M171.8 73h1M177.9 79.1h1M175.6 65.3h1M174.6 68.8h1M177.3 63.1h1M176.1 66.1h1M170.4 80.3h1M171.1 78.1h1M183.3 73.8h1M181.1 70.2h1M170.6 78h1M176.1 77.5h1M169.6 73.5h1M173.6 73.4h1M170.3 66.9h1M173.5 67.8h1M171.2 72.9h1M171.9 75.7h1M174.5 71.5h1M182.5 80h1M170.8 76.4h1M179 63.8h1M171.7 66.2h1M180.6 73.9h1M178.2 77h1M175.5 67.9h1M171.8 74h1M180.3 76.5h1M172.6 75.2h1M171.4 73.6h1M169.3 70.3h1M174.7 69.2h1M171 76.7h1M178.6 68.1h1M175 67.9h1M167.9 67h1M172.3 77.8h1M170 78.7h1M168.5 69h1M182.2 65.7h1M175.1 68.1h1M172.9 71h1M174.5 65.3h1M179.8 74.9h1M171.3 61.7h1M174.9 71.1h1M174.7 78.9h1M168.1 70.5h1M171.1 75.4h1M181.3 67.3h1M179.7 64.6h1M172.6 66.9h1M184.3 70.1h1M174 69.7h1M176.7 63.1h1M165.6 69h1M169.1 73.6h1M176.1 69.6h1M172.1 68.9h1M171.5 69.1h1M173.3 76.4h1M166.4 73.2h1M164 76.8h1M171.9 68.2h1M178.9 78.7h1M178.4 79.6h1M177.3 68.2h1M170.1 67.9h1M172.3 76.4h1M168 67.3h1M164.6 64.2h1M175.4 76.6h1M178.4 72.1h1M179.5 72.5h1M169.9 65.7h1M167.2 62.7h1M182.5 63.9h1M164.7 77.9h1M169.3 78.8h1M175 79.9h1M172.9 78.7h1M172.6 75.4h1M168.8 65.7h1M173.3 65h1M168 73.6h1M169.9 73.9h1M167.7 69.2h1M175 70h1M172.1 75.6h1M177.5 64h1M181.2 72.3h1M170.9 79.4h1M175.6 63.9h1M177.8 62.3h1M174.5 72.7h1M166.3 76.7h1M178.7 69.2h1M178.1 68.4h1M169.8 72.1h1M167.2 72.4h1M177 76.8h1M180.7 65.9h1M173.7 77.6h1M173.4 76.3h1M170.7 66.5h1M176.8 76h1M179.8 66.3h1M166.6 68.3h1M172.6 72.2h1M168.8 74.5h1M165.8 66.3h1M169.5 79.2h1M173.8 73.1h1M172.3 76.1h1M178.3 72.4h1M172.5 76.8h1M174.2 71.3h1M178.2 71.7h1M181.6 72.3h1M180.1 67.8h1M167.4 75.9h1M168 77.2h1M180 70.3h1M177.5 79.7h1M174.6 70.5h1M177.5 75.4h1M176.9 71.6h1M166.1 72.9h1M179.7 68.7h1M170.2 73.2h1M168.3 75.6h1M179.7 65h1M169 69.6h1M167.6 70.8h1M172.7 77.1h1M182.7 76.4h1M176.2 77.4h1M177.5 75.4h1M177 65.8h1M171.8 78.5h1M175.7 76.5h1M166.7 74.7h1M177 74.7h1M175.1 64h1M186.2 70.1h1M170.5 74.9h1M177.6 65.2h1M174.1 76.6h1M170 69.8h1M169.1 67.4h1M171.7 63.9h1M168.9 79.3h1M178.6 71h1M166.9 74.3h1M169.6 79.1h1M170.7 79.7h1M178.6 70.5h1M183 71.3h1M172.1 73.9h1M182 64.2h1M172.3 80.5h1M182.8 64.3h1M174.7 80.2h1M181.2 67.9h1M175.9 68.6h1M171.9 78.8h1M172.4 70.6h1M168.8 69.9h1M183.1 78.3h1M168.5 62.9h1M178 68.2h1M173.9 67.7h1M178.2 76.2h1M169.6 67.7h1M169.5 74.3h1M179.3 69.2h1M164.5 70.4h1M169.5 75.8h1M166.7 66.6h1M174.7 77.1h1M171.6 66.4h1M173.1 74h1M179.4 68.2h1M166.6 68.2h1M174.6 75.2h1M171.9 72.4h1M165 80.7h1M176 75.1h1M180.5 74.7h1M175.4 72.4h1M176.7 77.7h1M181 79.7h1M174.8 77h1M179.2 70.8h1M173.7 78.2h1M181.8 75.8h1M182.8 72.1h1M169.7 80h1M173.5 68.8h1M168 77.2h1M179.7 72.6h1M173.7 79.2h1M182.4 79h1M168.2 65.2h1M172 67.9h1M169.4 64.3h1M178.5 69.1h1M173.2 79.3h1M177.3 70.6h1M169.6 77.1h1M176 70.4h1M177.8 72h1M180.1 80.1h1M170.9 66.8h1M175.2 75.9h1M172.3 67.4h1M178.9 73.9h1M172.9 76.7h1M169.8 77.3h1M172.1 76.1h1M175.4 78.3h1M172.5 80.2h1M170.9 75.7h1M168.2 72.7h1M171.6 73.9h1M178.6 72.5h1M171.6 69.7h1M166.5 76.6h1M168.5 72.2h1M175.8 70.9h1M175.6 70.2h1M184.2 70.2h1M175.7 72.5h1M171.8 66h1M173.9 70.5h1M175.5 78.8h1M165.3 75.2h1M173.8 70.6h1M168.7 71h1M173.8 74.8h1M168.5 74.4h1M176.9 72.3h1M175.6 67.4h1M167.6 71.3h1M176.5 68.4h1M182 76.8h1M170.1 80.2h1M180.8 78.5h1M169.9 73.2h1M167.6 64.8h1M178.2 79.4h1M177.1 70.3h1M174 77.6h1M171.6 68.7h1M170.8 67.9h1M175.6 65.2h1M180.2 78.2h1M174.7 74.7h1M168.5 62.8h1M179.8 76.7h1M181.6 70.5h1M180.9 69.8h1M180.4 78.9h1M182.5 76.8h1M178.4 67.3h1M168.2 78.7h1M181.9 67.7h1M179 62.6h1M179 72.9h1M174.9 67.3h1M178.3 76.9h1M177.5 74.4h1M178.2 74.3h1M175.6 78.2h1M168.1 67.1h1M184 67.9h1M175.1 67.2h1M168.5 75.5h1M173.8 73.1h1M177.4 68.3h1M176.4 66.1h1M170.3 78.3h1M180 68h1M174.4 73.5h1M169.1 65.5h1M168.2 68h1M171.8 66.4h1M177.6 76h1M171.7 64.2h1M168.4 65.3h1M170.1 72.1h1M173 74h1M175.2 66.3h1M168.8 78.9h1M178.1 73.7h1M179.1 75.9h1M169.9 66.9h1M177.9 70.4h1M171.5 74.3h1M177.4 80.7h1M173.8 70.2h1M172.3 77.9h1M177.6 65.7h1M172.7 77.4h1M177.6 80.4h1M175.2 77.7h1M183.1 68.7h1M167.7 66.5h1M170.2 79h1M184.8 78.4h1M176.9 80.7h1M166.6 63.9h1M179.5 71.4h1M174.2 76h1M182.4 75.5h1M177.7 78.2h1M174.6 77.1h1M175.6 75.4h1M168 74.1h1M177.2 75.1h1M165.6 72.7h1M176.7 73.6h1M174.7 72.9h1M177.8 72.7h1M172.5 69.8h1M179.8 78.3h1M165.2 78.2h1M184 74.1h1M169 72.7h1M168.6 79.4h1M176.1 67.4h1M166.9 79.2h1M168.4 75.7h1M182.4 78.1h1M177.6 79h1M172.3 78.8h1M179 72.9h1M178.9 73.2h1M182.2 74.9h1M175.5 76.8h1M178.1 78.1h1M177.8 75.7h1M170.6 80.6h1M173.5 77.9h1M181.3 70.7h1M167.4 77.8h1M170.5 78.4h1M183.6 66.3h1M177.9 63.8h1M170.9 68.5h1M181 71.6h1M174.6 71.9h1M178.7 70.1h1M170.6 69.7h1M176.9 67.4h1M171.2 67.2h1M180.5 74.8h1M166.9 68.2h1M171.7 80.4h1M180.1 70.7h1M168 78.9h1M176.5 74.6h1M170.3 79.3h1M178.4 71.1h1M167.9 78.2h1M178.5 66.6h1M171.1 71.5h1M180.8 72.8h1M175.9 70h1M172 65.3h1M177.8 75.2h1M171.9 80.6h1M162.5 76.3h1M174.3 71.3h1M164.4 65.3h1M169.1 63.9h1M165.7 70h1M177.3 78.4h1M175.3 80.7h1M167.2 71.4h1M177.1 72.5h1M175.8 63.8h1M179 65.8h1M173.8 64.7h1M180.2 63.9h1M177.1 73h1M178.1 66.3h1M171.1 74.5h1M171.2 63.4h1M180.7 75.7h1M175.3 69.8h1M182.9 79.9h1M168.3 72.9h1M174.4 80.4h1M176.6 68.7h1M172.3 74.9h1M168.1 64.4h1M165.3 72.3h1M172.5 62.1h1M180.2 80.2h1M175.5 70h1M171.5 68.4h1M174.7 69.4h1M174.3 68.2h1M172.2 80.3h1M168.6 68.1h1M177.2 68.3h1M177.5 65.4h1M164.7 67.9h1M167.5 78.6h1M181.3 77.4h1M178 72.1h1M175 71.3h1M168.5 78.8h1M175.8 68h1M176.3 61.4h1M173.9 72.5h1M171 78.7h1M173.5 72.5h1M168.7 70.5h1M167.7 73.3h1M184.7 75.3h1M175.8 65h1M180.6 72.3h1M169.4 75.4h1M169.6 71.3h1M175.2 67.2h1M170.2 66.5h1M175.2 65.8h1M172.9 79.9h1M166.5 76.1h1M170.3 78.6h1M173 76.8h1M167.8 72.1h1M181.2 66.3h1M168.3 63.3h1M167.1 76h1M179.4 78.4h1M171.7 67.4h1M174.5 72.5h1M168.6 71.8h1M179.1 74.9h1M164.9 70.4h1M164.9 69.6h1M179.7 74.4h1M165.9 73.3h1M173.6 78.4h1M181.1 72.8h1M170.3 69.2h1M176.2 75.7h1M178.9 75.8h1M181.3 72.1h1M180.7 62.3h1M170.5 79.4h1M177.3 76.6h1M182.2 73.6h1M178 74.4h1M175.6 74.4h1M178.2 75.1h1M181.2 80.6h1M183.6 68.2h1M176.4 71.1h1M176.5 76.8h1M170.4 72h1M170.9 73.1h1M181.5 68.2h1M172.1 68.5h1M175.8 72.7h1M173.2 63.8h1M182.2 77.7h1M175.4 72h1M174.1 66.4h1M176.2 76.1h1M168.5 72.5h1M182.8 69.1h1M184.3 76.3h1M176.3 75h1M172.9 77.4h1" stroke="#000" stroke-width="1" stroke-opacity="0.28"/>
<path d="M173.2 67.3h1M179.2 70.8h1M163.9 67.7h1M179.3 71.5h1M173.7 76h1M169.9 64.1h1M174.1 68.9h1M174.2 68.4h1M170.1 64.6h1M167.4 78.8h1M178 68.9h1M168.6 75.4h1M172.3 70.9h1M165.4 74.9h1M184.8 73.4h1M186.2 72.5h1M175.2 76.9h1M170.3 72.7h1M177.5 68.8h1M176.9 78.6h1M167.9 71.9h1M176.6 68.6h1M180 79.4h1M171.3 74h1M170.9 71.9h1M177 71.8h1M175.4 70.2h1M181 77.8h1M171 75.7h1M173.3 77.1h1M162.4 80.3h1M178.1 77.4h1M175.6 78.1h1M180.7 76.7h1M173 71.9h1M174.8 71.6h1M170 65.7h1M174 67.7h1M172.5 65.7h1M167 70.4h1M174.1 78.5h1M177.3 74.4h1M172.9 76.3h1M177.5 65h1M178.2 71.6h1M165.7 68.5h1M178.4 77.9h1M173.9 79.5h1M178.9 64.2h1M168.5 74.7h1M169.6 69.3h1M176.2 71.1h1M170.7 64.9h1M185.9 65h1M172.1 78.8h1M173.9 67.4h1M168.2 79.1h1M178.8 61.8h1M166.8 76.2h1M183.5 69.7h1M179.8 63.8h1M165.2 65.7h1M177.2 73.8h1M178.5 62.8h1M183.7 70.4h1M164.4 72.4h1M175.7 79.6h1M170 68.3h1M175.3 73.1h1M169.2 75.6h1M181 70.7h1M171.6 69.9h1M177.4 71.9h1M176.9 78.8h1M172.7 71h1M173.7 72.9h1M172.7 77.6h1M176.6 66.1h1M179.7 74.8h1M181.1 75.5h1M174 66.9h1M179.9 79.5h1M169.4 72.2h1M177 71.8h1M176.5 70.4h1M170.7 79.4h1M164.8 76.1h1M169.9 72.7h1M170.6 73.4h1M170.9 74h1M166.3 66.5h1M173.5 76h1M172.2 76.9h1M164.1 66.9h1M168.7 65.9h1M165.4 70h1M173.9 74h1M182.9 66.3h1M168.3 68.2h1M182.2 65h1M168.5 63.5h1M175.8 77.2h1M168.8 78.9h1M175.1 67.8h1M177.4 79.6h1M181.4 75.4h1M181.7 72.5h1M173.7 68h1M167.5 69.6h1M163.8 67.3h1M167.9 71.5h1M166.6 71.9h1M174.3 77h1M172.9 64.8h1M178.7 74.8h1M171.9 77.2h1M185.4 74.7h1M172 73.8h1M167.6 66.9h1M180.1 71.5h1M167.5 77.9h1M180.9 63.5h1M178.1 78.2h1M184.8 75.3h1M178.7 73.2h1M178.5 69.2h1M167.5 69.3h1M170.7 80h1M169.5 70.3h1M174.1 75.8h1M177.9 66.2h1M168 64.6h1M180.9 71.2h1M175.4 72.6h1M166.1 63.4h1M172.2 75.4h1M174.9 63.8h1M171.7 74.4h1M180 70.6h1M178.1 74.2h1M175.6 70.3h1M176.5 78.8h1M174.4 70.7h1M178.1 64.5h1M180.5 63.7h1M181.1 74.5h1M171.7 68.8h1M175.3 70.4h1M164.8 78.5h1M165.9 71.6h1M165.8 78.1h1M166.5 68.7h1M168.5 73.7h1M177.5 78.4h1M170.3 75.4h1M173 75.4h1M174 72.4h1M172.5 75.4h1M175 67.1h1M162.7 78.1h1M178.6 72.1h1M180.9 72.3h1M173.7 70.2h1M173.2 69.1h1M180.3 77.6h1M177.9 64.6h1M176.1 73.7h1M172.8 75.1h1M173.6 74.8h1M174.4 71.1h1M183.9 72.4h1M177.9 77.9h1M169.2 71.6h1M169.6 71.7h1M167.9 77.5h1M174.5 65.8h1M177.1 67.1h1M166.5 75h1M174.7 68.6h1M178.4 75.2h1M175.4 78.3h1M176.1 79.6h1M176.4 74.5h1M185.1 69.5h1M173.7 70.2h1M164.5 76h1M173.2 67.8h1M171.5 75.5h1M172.3 77h1M176 65.9h1M168.1 77.3h1M179.2 72.8h1M182.6 72.4h1M172.9 72.5h1" stroke="#000" stroke-width="1" stroke-opacity="0.28"/>
<path d="M174.5 72h1M165.7 63.9h1M184.4 67h1M170.6 78.2h1M166.6 65.6h1M164.6 67h1M183.8 76.7h1M179.2 75h1M178.6 65h1M169.6 71.1h1M164.1 68.6h1M177.5 73.3h1M162.1 76.7h1M181.3 73.3h1M171.1 64.4h1M180.1 68.5h1M166.9 75.1h1M175.7 60.9h1M165.8 73.5h1M172.3 77h1M185.1 66.6h1M173.1 64.5h1M163.4 75.8h1M177.4 72.7h1M176.6 75.4h1M174 73.1h1M183.7 79.1h1M183.3 71.6h1M174.5 61.4h1M171.5 66.2h1M165.8 70.7h1M173.9 65h1M173.3 73.2h1M165.2 60.2h1M167.8 75.3h1M171.4 68.9h1M174.4 76.2h1M167.9 74.1h1M178.3 72.3h1M165.1 73.9h1M171.4 70.6h1M184.1 69.7h1M182.1 60.6h1M182.6 69.2h1M168.2 69.9h1M162.5 75.1h1M165.1 77.8h1M175.4 70.1h1M178.1 68.6h1M172.8 80.2h1M174.4 70.5h1M168.9 74.9h1" stroke="#000" stroke-width="1" stroke-opacity="0.45"/>
<path d="M177.1 54h1M169.8 58.8h1M175.4 51.7h1M178.3 50h1M167.5 53.4h1M167.2 53h1M171.9 51.1h1M172.4 48.1h1M163.6 57.3h1M175.6 57.5h1M170.6 55.7h1M170.9 59h1M167.7 55h1M170.4 56.9h1M172.4 45.8h1M171 49.4h1M173.9 57.5h1M167.7 55.6h1M168.4 51.5h1M172.8 59.1h1M173.9 56.6h1M170.4 53.1h1M174.5 54.4h1M172.8 55.5h1M177.5 55.5h1M169.3 48.6h1M172.8 49.4h1M164.9 52.4h1M180.6 53.8h1M172.8 53.5h1M172.8 47.9h1M173.2 57.3h1M173.2 55.1h1M172.4 57h1M168 45h1M170.4 53.7h1M174.5 50.5h1M172.9 53.6h1M175 51.7h1M174.6 57.1h1M171.2 53.1h1M170.5 50.6h1M169.9 49h1" stroke="#000" stroke-width="1" stroke-opacity="0.45"/>
<path d="M180.2 42.6h1M176.2 42.5h1M177 46h1M180.9 40.5h1M180 37.2h1M174.4 40.5h1M178.3 40.4h1M173 40.8h1M170 39.8h1M172.1 43.8h1M177.9 43.8h1M184.6 43.1h1M168.2 41.9h1M183.8 41.2h1M178.5 42.3h1M170.2 44.3h1M176 39.6h1M178.4 46.2h1M175.8 38.9h1M176.1 39.8h1M165.3 42.8h1M178.4 39.2h1M176.2 41.8h1M174.4 41.4h1M175.1 41.6h1M175.9 43.5h1M174.3 40.3h1M178.9 39.9h1M185.8 41.1h1M178 44.1h1M178.5 41.3h1M175 39.9h1M172.1 45h1M165.2 48.5h1M180.9 40.4h1M184.6 45.5h1M181.7 34.8h1M167.1 45.3h1M170.9 44h1M174.5 43.3h1M174.9 42.2h1M168.5 43.2h1M172.2 45.4h1M173.2 43.7h1M179.1 41.1h1M172.4 43h1M175.7 44h1M171.9 39.6h1M179.5 42h1M181.8 44.5h1M167.5 44.1h1M176.9 42h1M180.6 46.2h1M175.3 41.7h1M179.3 43.3h1M175.6 44.2h1M182.6 39.4h1M182.1 38.8h1M182.2 38.5h1M172.2 39h1M174.6 42h1M175.4 41h1M174.9 40.7h1M174.2 42.5h1M173.4 42.7h1M170.9 39.2h1M179.6 39.1h1M176.4 39.1h1M168.9 39.5h1M171.8 45.9h1M172.6 43h1M174.1 42.4h1M170.2 45.6h1M176.9 40.4h1M179.7 37.1h1M172.5 43.3h1M183.3 39.2h1M184.4 43.4h1M171.8 43.9h1" stroke="#000" stroke-width="1" stroke-opacity="0.5"/>
<path d="M170.2 36.9h1M176 37.9h1M168.6 50.8h1M168.2 46.8h1M164.8 53.1h1M169.5 38.5h1M164.9 57.9h1M178.7 54.7h1M177.9 52.6h1M176.7 56.9h1M177.1 45.8h1M181 43.5h1M184.4 53.6h1M183.1 45.5h1M184.3 38.2h1M166.6 48.7h1M176.7 54.5h1M180.8 47.1h1M179.4 39.3h1M175.4 55.9h1M169.7 59.3h1M185.5 48h1" stroke="#000" stroke-width="1" stroke-opacity="0.4"/>
<path d="M202.3 50.8h1M198.6 47.7h1M198.8 38.1h1M220.2 44.9h1M194.8 48.5h1M199 45.7h1M211.8 47.1h1M202.4 39.7h1M218.6 37.3h1M217 50.7h1M193.4 41h1M208.7 39h1M190.6 35.7h1M220.3 51.6h1M219.9 36.4h1M202.7 40.2h1M192.4 37.3h1M213 50.8h1" stroke="#000" stroke-width="1" stroke-opacity="0.35"/>
<path d="M283,81 L283,64 Q285,58 287,54 L300,54 Q300,60 301,66 L301,81 Z" fill="#3a3a3a" fill-opacity="0.45" filter="url(#bl)"/>
<path d="M286,50 Q285,42 287,37 Q290,34 297,34 Q304,34.5 305,38 Q304,44 300,47 Q295,51 290,51 Z" fill="#3a3a3a" fill-opacity="0.45" filter="url(#bl)"/>
<path d="M286.3 70.4h1M290.3 63.3h1M290.9 69.4h1M300.1 61.5h1M290.9 71.4h1M280.7 74.5h1M294.6 73.3h1M287 79.6h1M292.6 66.4h1M297.4 70.4h1M287.3 69.6h1M292.1 63.9h1M290.2 73.5h1M289.8 67.3h1M293.5 74.4h1M296.7 64.4h1M294.2 67.9h1M286.7 71.2h1M284.2 59.8h1M288.1 65.9h1M287.4 66.6h1M282.8 79.6h1M298.2 76.9h1M297.2 76.4h1M284 78.2h1M295.5 74.2h1M300.3 66.6h1M298 60.1h1M294.6 74h1M287.6 70.9h1M294.9 80.1h1M293.8 73.4h1M290.5 67.1h1M287.5 60.5h1M288.4 63.7h1M291.9 73.5h1M298 79.7h1M287.2 61.3h1M297.5 73.5h1M285.8 66.6h1M292.6 63.9h1M296.9 66.1h1M286 76.1h1M286.6 63.8h1M301.9 75.1h1M288.1 74.1h1M294.6 71h1M293.9 64.1h1M294.1 65.2h1M286.6 73.4h1M285.4 72.5h1M283.6 67.6h1M290.4 61.9h1M294.3 75.7h1M295.2 61.6h1M287.4 63.3h1M283.9 60.6h1M287.4 66h1M292.9 62.8h1M302.2 68.4h1M290 77.6h1M288.2 63.2h1M301.1 60.7h1M289.5 80.1h1M284.3 63.1h1M293.9 60.4h1M289.2 75.9h1M290.9 79.2h1M290.9 65.8h1M295.2 68.2h1M299 80.1h1M293.6 63.9h1M292.5 63.7h1M286.9 80.4h1M286.9 78.6h1M294.2 60.1h1M289.7 71.9h1M296.9 69.7h1M283.7 60.9h1M290.5 74.5h1M288.5 77.6h1M296.1 74.4h1M286.8 60.1h1M288.5 70.4h1M288.4 73.1h1M293.3 70.5h1M296.6 66.8h1M302 62h1M288.1 63.1h1M297.8 65.2h1M285.7 63.8h1M300.8 79h1M286.8 62.7h1M286.8 73.8h1M286.2 72.4h1M294.9 69.6h1M290.3 79.4h1M286.3 69.7h1M294 60.2h1M289.5 65.7h1M296.7 78.9h1M295.8 68.6h1M292.8 75.6h1M297.5 77.2h1M293.9 77.8h1M292.6 79.1h1M286.6 60.3h1M288.3 71.3h1M299.6 79.8h1M285.3 78.7h1M300.5 67.4h1M299.2 66.6h1M295.2 65.1h1M297.2 67.7h1M294 73.1h1M287.1 66.1h1M292.5 67.1h1M288.1 60.8h1M290.2 76.9h1M287.2 74.4h1M285.1 79.3h1M284.2 80.4h1M286 59.7h1M288.5 70.3h1M287.4 79h1M292.6 68.7h1M293.3 65.3h1M293.1 72.8h1M298.3 78h1M300 61.6h1M294.4 59.8h1M291.8 60.1h1M293.4 72.5h1M287.1 77.1h1M293.1 70.2h1M285.2 65.4h1M285.6 71.4h1M298.6 70.1h1M286.5 62.1h1M290.2 60.8h1M287.2 70.7h1M293.9 72.1h1M293.9 78.5h1M289.6 76.4h1M293.4 79.9h1M295.8 61.9h1M296.5 68.9h1M298.5 74.2h1M300 66.2h1M291.2 78h1M290.7 66.1h1M298 74.1h1M290.6 80.3h1M294.1 62.2h1M286.3 66.9h1M297.8 60.6h1M289.1 61.4h1M293.4 65.1h1M292.5 63h1M296.7 77.9h1M300 71.1h1M288.5 70.4h1M296.9 80.3h1M301.6 74.6h1M286.2 70.4h1M298.4 77.2h1M292.9 76h1M298.8 80.6h1M295.2 63.3h1M287.2 62.5h1M294.1 71.4h1M296.1 70.6h1M298.6 79.4h1M290.9 61.9h1M293.4 71.1h1M296.9 68.5h1M293.9 70h1M295.8 78h1M283.7 70.5h1M296.6 75.3h1M288.8 61.9h1M289.6 73.6h1M295.3 67.2h1M284.9 63.2h1M295.3 78.3h1M295.1 79.8h1M290.5 72.6h1M299.5 63.7h1M296.3 76.1h1M284 70.7h1M290.3 76h1M296.9 62.1h1M295.1 67.4h1M293.4 66.9h1M286.5 78.1h1M286.5 65.5h1M291.2 75.3h1M286.4 78.3h1M287.3 72.3h1M290.6 68h1M293 63.8h1M294 68h1M286.4 73.7h1M292.3 71.7h1M292.2 70.9h1M290.7 70.4h1M287.3 74.8h1M296.6 66.7h1M294.2 78.7h1M297.1 69.3h1M285.5 64.5h1M290.7 62.6h1M294.9 62h1M295.3 65.5h1M289.1 72.6h1M294.7 68.8h1M290.4 71.7h1M293.1 78.6h1M292.4 60.6h1M290.3 67h1M294.2 71h1M296.8 70.5h1M290.1 65.6h1M294.1 67.5h1M293.7 72.2h1M286.8 65.1h1M293.6 69.9h1M300.5 69.4h1M303 68h1M303.7 69.8h1M286.4 65.6h1M297.6 68.2h1M281.9 76.5h1M284.1 67h1M290.8 62.3h1M298.2 77.4h1M298.1 63.1h1M286.5 79.4h1M295.2 77.6h1M289.4 72h1M286.4 74.4h1M288.4 77.2h1M295.4 72.6h1M296.7 65.4h1M281.5 60.8h1M285.7 73.2h1M293.5 73.6h1M290.1 71.8h1M287.2 76.2h1M292.4 67.1h1M286.2 71.6h1M288.1 65.6h1M289.5 69.2h1M288.9 75.4h1M283.4 65.7h1M296.6 67.4h1M285.1 65.7h1M291.7 65.1h1M290.4 65.6h1M284.6 70.5h1M293.1 76.7h1M298 72.1h1M299.9 76.6h1M296.2 64.7h1M292.9 72.5h1M289 69.5h1M291.2 80.6h1M296.9 65.9h1M291.8 69.1h1M289.3 76.5h1M290.7 62h1M292.6 79.5h1M291.8 69h1M289 73.8h1M297.9 75.7h1M296.4 67.2h1M282.7 59.5h1M282.4 68.8h1M282.5 63.9h1M297.8 70.1h1M296.4 78.4h1M299.3 77.2h1M287.5 65.4h1M287.5 79h1M289.9 65.5h1M296.9 73.3h1M297.4 62.9h1M288.2 69h1M287.8 75.4h1M282.4 75.6h1M298.3 69.5h1M297.7 76.5h1M294.2 74h1M287.9 62.9h1M288.5 72.5h1M289.5 68.3h1M287.1 68.3h1M294.4 77h1M287.7 65.5h1M291.8 71.9h1M290 64.6h1M292.6 78.6h1M286 65.9h1M284.2 74.3h1M288.7 62.1h1M298.3 68.4h1M296.6 59.5h1M284.7 80.7h1M287.8 73.3h1M286.7 71.5h1M297.6 66.8h1M293.2 79.5h1M285.2 65.1h1M290.3 69.3h1M292.4 67.2h1M284.3 67.3h1M302.7 70.5h1M292.4 80.4h1M289.7 71h1M297.5 80.4h1M292 66.3h1M289.3 63.2h1M285.8 59.7h1M283.5 80.6h1M301.9 70.7h1M287.9 68.4h1M295.7 59.8h1M282.6 71.8h1M286.3 61.5h1M301.4 71.9h1M293 68.3h1M286.3 79.8h1M286.3 73.8h1M294.3 73.8h1M295.6 79.8h1M292.7 70.4h1M288.9 74.2h1M292.5 72.6h1M286.6 77.6h1M297.4 68.6h1M300.1 67.9h1M290.8 61.5h1M287 73.3h1M291.7 65.7h1M299.7 62.2h1M295.3 77.3h1M286.4 78.5h1M287.8 65.6h1M289.5 69.6h1M284.7 61.6h1M285.7 77.4h1M286.3 63.9h1M293.7 73.4h1M281.9 77.4h1M286.8 63.2h1M294.4 76.2h1M289.7 70.7h1M296.5 76h1M292.5 65.4h1M290.8 68.5h1M284.7 64.2h1M288.1 67.4h1M284.5 64.8h1M298.7 64.4h1M289.4 71.5h1M293.9 64.8h1M301.6 69.7h1M292.7 75.5h1M295.7 64.7h1M285.1 73.7h1M286.5 68.1h1M287.9 72.2h1M283.3 79.1h1M293.4 77.1h1M290 61.3h1M291.6 68.3h1M287.7 66.8h1M287.6 69.1h1M291.5 69.2h1M284.9 74.3h1M286.5 76.4h1M299.9 69.6h1M298.4 65.2h1M292.5 60.2h1M288.3 68.6h1M300.9 61.6h1M287.2 74.7h1M289.3 67.7h1M290.7 72.8h1M289 60.3h1M290.3 72.6h1M295.8 76.7h1M286.4 68.3h1M288 79.7h1M293.5 77h1M286 60.9h1M285.4 73.2h1M294.1 80.6h1M295.3 66.3h1M293.2 69.4h1M294.2 64h1M294.4 70h1M295.3 70.9h1M288.7 79.6h1M286 61.9h1M298.6 73.4h1M296.3 63.4h1M290 64.9h1M288.1 71.6h1M282.3 60.9h1M283.3 69.7h1M292.2 68.1h1M291.8 67.2h1M290.6 72h1M284.8 76.5h1M294.8 71.1h1M300.2 75.2h1M286.4 74.1h1M289.4 60.5h1M292.5 73.5h1M296.7 69h1M294 65.6h1M290.6 64.5h1M291.3 67.1h1M280.2 66h1M285.6 67.5h1M293 70.3h1M295.3 71.6h1M300.2 74.5h1M299.9 68.6h1M297.8 62.3h1M291.7 73.9h1M294.4 64.7h1M286.6 72.8h1M290.1 73.8h1M296.2 63.4h1M286.7 63.5h1M289.3 68.1h1M299.5 74.7h1M288.6 66.2h1M290.6 77.5h1M286.8 78.7h1M294.1 80.2h1M297.8 70.5h1M286.4 79.8h1M288.5 72.5h1M292.1 66.6h1M294 63.6h1M297.5 63.6h1M287.3 74.9h1M295.3 72.5h1M287.4 73.5h1M287.9 78.8h1M286.1 69.2h1M285.6 67.7h1M291.4 59.5h1M287.2 71h1M289 64.3h1M288.5 71.6h1M288.4 73.1h1M285.6 75h1M297.2 74.5h1M289.1 66.4h1M292.1 77.8h1M297.1 72.6h1M295.1 61.5h1M298.7 72.9h1M298.2 61.7h1M291.3 78.5h1M297.2 68.8h1M294.3 65.8h1M286 67.9h1M286 78.2h1M288.6 62.6h1M292.1 67.8h1M293.9 69.5h1M296.5 66.8h1M288.7 71.5h1M298.4 62h1M287.5 75h1M280 66.7h1M289.1 69.7h1M282.6 70.4h1M291.6 78.8h1M295.9 64.6h1M291.1 75.4h1M295.3 72.5h1M283.3 77.2h1M280.7 60.3h1M292.9 70.7h1M291.7 63.9h1M288.6 70.9h1M297.7 60h1M294.5 73.8h1M293.5 73.3h1M299.8 79.5h1M284.7 76.7h1M288.2 75.4h1M293 72h1M299.7 77.2h1M290.7 71.5h1M295.2 68.7h1M287.1 65.3h1M292.1 78.9h1M288 77.2h1M297.1 76.6h1M288.1 80.2h1M299.3 77.7h1M284.8 64.7h1M289.5 73h1M294.1 76.1h1M285.7 78.1h1M286.2 75.7h1M295.2 61.5h1M289.2 65.7h1M292.2 62.3h1M290.4 78.1h1M289.9 70.5h1M291.6 68.7h1M300 65.6h1M299.2 77.7h1M286.9 68.7h1M296.6 72.4h1M287.7 68.6h1M291.8 71.6h1M287.1 63.6h1M285.9 61.1h1M285.1 80.1h1M292.4 60h1M289.2 77h1M291.1 70.3h1M283.4 66.5h1M287.7 66.2h1M300.4 64.6h1M288.1 74.4h1M287.5 76.3h1M296.9 77h1M282.2 71.6h1M284.2 72.4h1M286.3 79.9h1M297.6 60.8h1M297.5 62.9h1M298.3 77.2h1M291.7 70.5h1M287.8 76.6h1M292 68.4h1M287.2 65.6h1M289 76.8h1M290.6 64.2h1M294.6 66.7h1M297.4 73.8h1M284.6 67.5h1M297.2 74.4h1M289.2 62h1M291.1 75.3h1M286.8 77h1M297.6 70.2h1M293.9 75.8h1M290.3 72.2h1M295.1 75.7h1M289.5 69.6h1M289.6 79.4h1M290.8 71.1h1M289.8 76.4h1M286.3 65.9h1M302.5 69.5h1M289.5 77.8h1M287.6 67.1h1M285.8 73.2h1M295.2 76.3h1M294.6 80.1h1M288.9 72.7h1M296.7 70h1M289.8 77.9h1M296.1 59.9h1M290.8 79.1h1M290.2 78.6h1M294.2 70.5h1M291.8 66.5h1M286.4 65.1h1M286 76.2h1M288.3 63.5h1M297.9 71h1M292.8 68.6h1M296.5 76.7h1M289.6 66.8h1M293.6 60.5h1M293.3 79.4h1M294 76.8h1M295.2 72.1h1M288.1 67.1h1M288.9 65.3h1M297.3 65.3h1M297.1 62h1M290.6 67.8h1M294.3 61.6h1M283.9 66.9h1M293.3 62h1M291 68.4h1M294.1 74.1h1M292.6 77.5h1M288.6 65.7h1M292 77.8h1M292.7 63.1h1M298.5 72.1h1M283.5 69.7h1M286.2 79.8h1M297.2 76h1M295.2 69.7h1M293.1 65.3h1M283.7 72.7h1M295.9 62.3h1M294.1 68.4h1M291 65.6h1M285.9 78.1h1M296.6 77.8h1M293 71h1M296.3 69h1M291.4 68.4h1M298.4 71.7h1M289.4 68.2h1M288.9 77.8h1M285.3 72.1h1M289.5 73.8h1M294.2 79.2h1M284.1 63.4h1M291.9 74.4h1M284 66.3h1M282.9 62.4h1M285 67.3h1M298.8 79.8h1M291.1 64.7h1M293.9 60.9h1M290.1 61.1h1M299.8 65.4h1M293.5 70.8h1M295 77.9h1M287.4 68h1M292 73h1M287.5 71.5h1M289.5 77.6h1M285.9 70.6h1M283.9 69.6h1M296.5 76.9h1M287.6 63.7h1M285.3 68.5h1M289.5 65.2h1M291.6 63.8h1M291.4 76.2h1M297.5 70.2h1M281.2 64.7h1M282.8 79.7h1M292.5 67.5h1M297.8 73.5h1M288 62.9h1M283.9 80.1h1M294.8 72.8h1M295.9 62.2h1M283.7 78.7h1M293.4 64.1h1M293.7 61.3h1M284.8 80.1h1M286 60.1h1M282.3 66.9h1M299.7 61.5h1M289.1 77.6h1M288.2 65.5h1M293.5 61.1h1M295 76.2h1M285.8 77.8h1M294.3 69.2h1M293.6 70.7h1M287.6 77.7h1M284.4 61.3h1M290.5 70.1h1M286.3 69.9h1M297.9 59.5h1M290.5 64.2h1M296 74h1M282.7 63.6h1M295.6 73.6h1M299.3 79.1h1M290.9 79.4h1M285.2 71.6h1M283 73.6h1M290.6 62.9h1M286.9 77.9h1M279.9 70.5h1M287.1 65.8h1M290.1 72.1h1M290.5 66h1M286.7 64.3h1M299.3 63.2h1M284.5 78.3h1M290.5 62.3h1M286.3 73.3h1M286.9 64.9h1M290.6 72.7h1M285.1 73.7h1M285.4 67.1h1M286.4 67.3h1M297.8 78.8h1M298.7 71.9h1M286.2 69.4h1M288.5 77.3h1M296 79.8h1M296.9 80.8h1M285.7 77.3h1M290.7 79.1h1M293.2 73.5h1M296.6 61.8h1M286.3 68.1h1M293.6 67.4h1M293.4 72.3h1M296.6 73.3h1M296.7 61.9h1M288.6 62h1M288.7 62.8h1M295.9 73.1h1M292.3 64.4h1M289.9 74.3h1M294.4 75.9h1M288.7 63.8h1M293.6 71.5h1M293.6 78.1h1M300.2 78.7h1M294.1 73.3h1M288.8 63.5h1M300.1 61.6h1M286.5 66.4h1M291.6 67.3h1M289.6 64.4h1M287.5 63.2h1M285.8 62h1M295.3 79.7h1M288.6 73.8h1M287.4 71.1h1M300.8 76.6h1M298.5 64.8h1M288.9 75.4h1M298.8 63.8h1M292.8 67.4h1M287.8 68.1h1M288.8 62.8h1M293.2 68.8h1M281 69.8h1M294.8 71.4h1M288 80.3h1M292.4 62.6h1M300.5 69.9h1M293.1 69.7h1M298.3 76.8h1M285.2 63.7h1M292.9 63h1M285.4 79.2h1M296.4 75.8h1M298 71.8h1M284.1 65.3h1M290.2 73.7h1M292 71.7h1M283.6 65h1M289.6 70h1M292.6 75.1h1M289.4 76.4h1M301.5 62.8h1M282.7 69.2h1M301.7 59.6h1M291.5 67.4h1M291.3 77.1h1M282.5 73.7h1M291.1 72.2h1M291.5 79.5h1M294.4 71.3h1M295.2 67.6h1M295.2 68.7h1M291.9 67.6h1M297 72.9h1M290.7 67.9h1M286.3 71h1M286.9 76.8h1M289.8 69.4h1M288.4 71.8h1M295.6 74h1M286.6 80.6h1M290 80.8h1M292.4 68.1h1M296.8 60.9h1M293.5 68.3h1M285.9 70.3h1M285.7 73.7h1M299.9 61.2h1M290.3 73.4h1M288.8 79.7h1M293.5 64.2h1M289 75.9h1M286.4 66h1M288.7 79.8h1M293.5 65.6h1M288.8 71.8h1M286.2 71.7h1M284.6 73.3h1M291.1 72h1M294.7 59.4h1M292.8 64.5h1M288.6 72.3h1M296.4 70.4h1M292.6 74.4h1M299 71.2h1M291.4 74.9h1M289.9 72.4h1M295.1 69.8h1M284.7 79.3h1M297.3 70.8h1M286.4 59.4h1M284.2 77.6h1M296.1 67.2h1M289.2 69.7h1M300.7 76.7h1M291.2 73.9h1M286.3 72.4h1M295.2 73.4h1M290.2 77.6h1M297.8 75.3h1M295.1 68.3h1M298 79h1M288.7 64h1M293.5 67h1M299.1 80.1h1M290 71h1M288.1 74h1M291.7 74.8h1M297 71.6h1M298 76.2h1M292.9 73.4h1M290.5 64.9h1M285.8 79.5h1M290.7 64.8h1M285.1 63.6h1M291.9 72.1h1M284.8 69.9h1M295.3 76.2h1M297.7 76.5h1M290.5 71h1M290.4 75.3h1M302.2 76.5h1M282.9 65.5h1M299.4 79.9h1M298.2 77.1h1M283.5 60.7h1M292.2 74h1M284.8 60.4h1M284.2 70.9h1M292.9 65.9h1M295.2 61.8h1M299.3 76.6h1M285 74.1h1M299.9 79.1h1M295.1 60h1M280.1 78.4h1M294.5 70.5h1M289.3 65.4h1M295.4 78.8h1M296.2 63.3h1M292.3 61.7h1M288.8 66.2h1M286.7 77.4h1M288.6 63.4h1M291.2 71.7h1M294.7 68.6h1M296.6 67.6h1M294.3 64.5h1M280.6 63.9h1M291 77.3h1M289.2 76.9h1M291.3 74h1M282.4 72.9h1M295.9 67.7h1M297 71.3h1M285.4 65.8h1M292.7 71.1h1M295.5 70.6h1M285.5 67.4h1M298.2 74.3h1M295 66.2h1M293.8 63.1h1M293 60.5h1M285.8 77.2h1M288.5 76.9h1M288.4 70.6h1M280.4 71h1M290.2 73.8h1M284.5 62.6h1M294.4 77h1M296.5 75.9h1M287.2 61.8h1M296.1 76.9h1M299 71.5h1M297.4 75.3h1M296.4 80.4h1M290.1 72.3h1M286.3 66.8h1M292.9 77.5h1M290.1 72.2h1M288.2 74.5h1M289.7 61.5h1M283.8 72.9h1M294.8 71.2h1M297.6 60.2h1M296.9 77.9h1M293.4 60.8h1M295.4 79.2h1M293.6 60.8h1M297.5 77.7h1M297 77h1M292.6 65.4h1M290.9 77h1M289.2 76.4h1M297.6 66h1M298.1 69.7h1M291.6 73.9h1M297.7 62.8h1M293.3 65.1h1M288.9 74.5h1M285.3 77.9h1M286.1 80.4h1M291.2 70.7h1M297.5 70.8h1M287.7 78.4h1M284 69.7h1M296.2 80h1M283.4 73.3h1M292.8 63.4h1M281.5 69h1M298 78.7h1M292.7 68.2h1M299.7 72.6h1M296.4 73.3h1M283.5 73.3h1M289.1 70.2h1M284.9 79.4h1M298.5 68.9h1M281.7 72.1h1M296.2 63.2h1M285.3 68.8h1M294.7 64.4h1M291.4 66.2h1M284.8 67.5h1M297.6 74h1M285.5 80.1h1M286.4 62.3h1M299.6 71.6h1M300.6 73.7h1M295.9 63.8h1M302.6 67.4h1M294.2 69.7h1M292.1 79.7h1M294.4 78.7h1M283.5 79.8h1M291 67.2h1M290.5 71.5h1M294.2 79.6h1M290.9 61.9h1M282.1 64.8h1M292.5 67h1M289.2 66.7h1M292.7 61.6h1M284 59.8h1M286 69.2h1M295.1 70.8h1M286.6 72.3h1M289.2 60.8h1M287 62.7h1M287.8 77.4h1M295 74.4h1M286.4 64h1M283 69.9h1M296.6 67h1M288.4 63.4h1M287.8 79.1h1M295 74.9h1M284.6 68.4h1M298.6 71.3h1M285.7 78.7h1M297.8 60.6h1M298.6 77.5h1M290.5 66h1M285.6 68.7h1M299.1 78.3h1M297.7 80.2h1M295.2 70.2h1M292.1 78.1h1M286.6 80.2h1M295 72.1h1M292.8 68.5h1M284.8 73.1h1M283.2 73.5h1M291.3 60.9h1M292.7 61.7h1M295.6 71.4h1M297.3 65.2h1M299.9 69.2h1M297.4 63.4h1M285.3 70.4h1M295.2 68.4h1M293.3 59.5h1M292.5 69.2h1M295.7 71.4h1M286.5 76.4h1M291.9 66h1M298 71h1M293.9 68.1h1M295.4 75h1M293.7 70.1h1M287.3 65.8h1M296.6 80.3h1M286.5 75.8h1M291.6 72h1M296 75h1M292.1 70h1M284.2 59.8h1M293 68.8h1M282 69.7h1M296.7 59.5h1M293.8 75.3h1M285.8 75.7h1M296.5 59.7h1M287.1 80.2h1M293.9 66.9h1M291.2 80.6h1M286.4 60.8h1M285 72.8h1M292.1 67.6h1M289.7 73.6h1M293.8 73.3h1M302.3 76.5h1M281.9 60h1M295 77.9h1M289.1 64.8h1M291.3 79.1h1M292.1 79.6h1M286 75.4h1M288 71.1h1M287.5 74.6h1M289.2 61.5h1M296.3 76.1h1M287.7 72.8h1M300.3 65.8h1M299.5 60h1M289.1 72.2h1M285.7 75h1M292.8 65.9h1M300.4 66.8h1M285 69.1h1M286.6 67.1h1M284.5 69.6h1M294.2 64.9h1M295.1 65.7h1M287.1 70.8h1M284.5 59.7h1M289.3 75h1M295.8 65.6h1M300 68.9h1M297.6 66.4h1M287.9 71.3h1M298.9 74.7h1M284.9 66.4h1M286.2 80.3h1M291.5 73.7h1M288.8 63.1h1M289.5 72.4h1M298.1 61.2h1M295.2 61.3h1M285.4 69.2h1M287.9 77.1h1M298.7 76.6h1M291.5 59.3h1M286.8 73.6h1M290.3 69.6h1M288.1 62.6h1M289.8 66.2h1M292.2 79.7h1M293.6 67.5h1M293.7 75.8h1M287.1 79.7h1M294.1 74.2h1M292.7 66.3h1M290 63.4h1M290.2 61.9h1M291.4 68.2h1M292.8 77.6h1M298.3 66.4h1M291.9 63.1h1M290 71.2h1M286.8 66.7h1M297.7 73.2h1M285.8 73.5h1M295.5 72.6h1M291.2 63.5h1M299.2 71.1h1M296.4 75.9h1M300 64.7h1M294.6 78.4h1M294.9 78.8h1M285.6 59.8h1M287 75.8h1M280.5 78.3h1M286 60.9h1M283.4 78.2h1M294.9 76.9h1M293.3 74.8h1M293 66.7h1M291.4 62.8h1M295.2 64.2h1M299.5 70.5h1M284.9 72.7h1M287.7 79.6h1M293 75.5h1M300.3 60.4h1M291 66.6h1M288 77.4h1M280.3 76.7h1M281.7 64.3h1M292 75h1M286.4 77h1M299.7 63.1h1M286.4 62.4h1M286.7 71.9h1M291.1 75.1h1M295.3 63.9h1M284.8 64.8h1M292.5 73.1h1M295.7 67.6h1M298.1 68.2h1M291 67.6h1M293.3 65.6h1M290.7 67.4h1M299.3 67.1h1M284.2 62.1h1M291.4 60.6h1M297.1 78.3h1M285.7 72h1M290 68.2h1M287.1 60.6h1M300.2 74.9h1M285.7 79.9h1M292 71.3h1M292.1 65.5h1M295.7 67.2h1M294.1 76.7h1M285.9 70.6h1M286 69.1h1M289.1 70.8h1M301.2 66.2h1M291.5 63.6h1M295.4 75h1M288.4 77.2h1M295.5 66.5h1M284.5 64.9h1M288.2 69.3h1M296.7 65.3h1M286 65.9h1M292.2 70h1M299.2 79.3h1M279.5 67h1M293.6 70h1M282.3 80.1h1M281.8 59.8h1M287.9 78.6h1M290.1 60.5h1M289.5 67.2h1M291.8 69.4h1M288.5 77.5h1M295.3 64.9h1M283.6 76.6h1M296.3 62.4h1M293.3 74.8h1M296.9 75.8h1M299.7 67.3h1M295.5 69.9h1M286.5 78.8h1M287 60h1M294.8 60.7h1M287.6 64.1h1M298 70.3h1M286.6 67.1h1M295.9 80h1M291.8 75h1M297.1 60.5h1M284.7 67.1h1M287.7 70h1M286.8 71.2h1M299.7 72.1h1M287.8 74.5h1M297.4 70.3h1M292.4 73.9h1M291.6 63.8h1M293.1 72.1h1M295.1 67.5h1M300.8 67.3h1M291.8 79.6h1M297 62h1M296.9 79.1h1M284.1 67.5h1M285.8 70h1M283.3 69h1M288.3 78.1h1M295.1 78.9h1M296.5 75.9h1M286.2 61.7h1M287.8 69.2h1M295.5 78.4h1M283.5 68h1M293.6 69.3h1M290.7 74.5h1M291.3 74.6h1M290.6 67.3h1M290.8 79.1h1M290 74.6h1M293.4 69.8h1M286.3 77.6h1M288.8 79.3h1M287.7 66.5h1M289.6 71h1M297.5 73.3h1M294.3 79.8h1M289.7 65.4h1M287.3 71.8h1M291.3 71.2h1M288 75.2h1M293.4 79.7h1M297.1 80.1h1M289.5 67.9h1M288.6 62.4h1M287.5 71.1h1M295.2 67.7h1M295.3 69.8h1M284.7 62.7h1M284.5 76.6h1M299.2 63.7h1M283.4 72.4h1M287.9 62.1h1M296.2 62.2h1M295 80.3h1M294.7 75.3h1M285.8 70.8h1M293.3 69.8h1M287 61.6h1M286.2 59.4h1M287.7 77.6h1M297.3 65.6h1M290.9 70.9h1M284.7 62.7h1M294.9 77.9h1M285.8 61.4h1M287.2 70.5h1M287.1 79.4h1M297.2 62.6h1M294.9 79.2h1M298.1 67.6h1M290.6 72.1h1M292.1 70.2h1M294.7 69.1h1M297.3 70.4h1M288.7 73.8h1M294.4 60.7h1M288.1 74.1h1M289.7 65.4h1M294.9 62h1M294.1 77.7h1M296.7 67.4h1M283.7 78h1M297.9 77.1h1M285.6 63.9h1M291.1 65.4h1M289.4 78.7h1M302.6 73.8h1M289.2 74.5h1M296.6 80.3h1M282.5 68.8h1M303.3 71h1M293 72.6h1M294 69.1h1M297.3 59.8h1M284.8 61h1M290.8 60.4h1M294.6 68.7h1M285.5 76.3h1M296.7 72.3h1M291.4 73.9h1M298.2 69.3h1M283.3 73.6h1M288.3 70h1M299.1 67.1h1M298.9 60.2h1M302.2 63.4h1M284.9 60.8h1M291.7 61.7h1M287.5 70.4h1M299.2 70.8h1M290.6 66.8h1M287.2 68.6h1M295 80h1M291.2 75.9h1M283.2 62.9h1M299.5 63.9h1M292.7 79h1M281.2 63h1M287.6 66.8h1M289.8 66.2h1M297 69h1M296.5 62.4h1M290.6 66.9h1M289.8 62.8h1M288.1 61.9h1M284.2 66.2h1M292.5 76.7h1M285.7 67h1M291.4 80.4h1M289.9 70.8h1M297.6 75.7h1M284.3 69.8h1M284.1 70.8h1M291.1 80.4h1M289.2 68.4h1M297.7 71.8h1M291.1 75.8h1M293.5 64.3h1M298 70.5h1M287.8 62.2h1M297.4 73.3h1M286.3 78.3h1M297.2 62.1h1M296.3 76.8h1M283.3 68.1h1M296 65.2h1M297.4 68.4h1M288.4 62.9h1M291.5 76.2h1M287.7 74.2h1M288.1 72h1M291.7 69.2h1M287 61.3h1M291.5 71.4h1M283.6 66.4h1M288.4 73.1h1M288 64.8h1M286.2 79.7h1M283.8 67.9h1M283.8 64.9h1M285.4 60.7h1" stroke="#000" stroke-width="1" stroke-opacity="0.28"/>
<path d="M299.3 49.3h1M290.9 46.2h1M292.6 37.6h1M297.7 38.2h1M301.3 48.8h1M298.6 48.9h1M289.2 35h1M301.8 36.2h1M295.9 37.1h1M297.2 43.1h1M301.2 43.1h1M299.8 41.9h1M302.8 35.6h1M288.6 43.3h1M290.4 45.2h1M306.1 53.3h1M297.1 45.8h1M294.3 44h1M301.7 41.3h1M299.8 41.2h1M286.1 41.5h1M297.9 48.2h1M289.8 38.5h1M304.2 44.4h1M288 41.8h1M290.6 47.1h1M292.8 38.2h1M292.2 42.5h1M286.4 49h1M304 49.2h1M305 33.6h1M292 44.4h1M286 41.3h1M292.1 40.4h1M284.8 43.5h1M298.9 47.9h1M307 50.4h1M300.2 44.6h1M302.5 36.4h1M295.6 34.8h1M294.7 34.9h1M293.2 43.6h1M305.3 38h1M300.3 38.4h1M289.3 44.6h1M298.6 41.6h1M300.5 47.6h1M289 49.7h1M299.9 51.3h1M295.9 44.1h1M290.1 37h1M284.9 37.7h1M294.2 39.3h1M297.8 43.7h1M296.5 50.8h1M299.3 48.5h1M301.1 46h1M297.6 46.5h1M296 41.3h1M298.9 46h1M303.3 40.7h1M309 41.1h1M291.9 45h1M299.6 41.4h1M289.5 47.5h1M293.8 43.4h1M304.5 38.6h1M289.4 50.7h1M305.2 40.2h1M297 40.5h1M286.3 46.9h1M293.5 42h1M299.8 34.8h1M292.5 47.7h1M285.9 44.3h1M300.5 50.6h1M289.8 35.2h1M284.9 47.3h1M306.4 43.5h1M306.5 41h1M297.4 42.4h1M283.8 44.9h1M299.5 47.7h1M285.1 36.9h1M291 41h1M301.2 45.2h1M306 43.9h1M295.2 41.1h1M307.7 42.1h1M293 45.9h1M297.3 49h1M301.7 48h1M296.6 39.2h1M298.4 44.5h1M291.7 50.2h1M290.1 45.1h1M291 35.4h1M299.1 46.4h1M293.4 42.3h1M301.1 43.4h1M283.8 48.9h1M291.5 47.5h1M299.7 44.1h1M293.5 45.7h1M293.2 44h1M299.8 48.5h1M298.1 41.4h1M305.2 39.9h1M283.5 41.6h1M299 41.2h1M296 41h1M291 39.3h1M290.3 41.7h1M285.9 39.2h1M296.7 37.2h1M287.2 41.2h1M300.6 36.2h1M291.8 39.4h1M279.8 48.8h1M304.8 49.1h1M297.1 36.2h1M284 48.8h1M295.2 49.2h1M298.3 37.9h1M283.6 45.2h1M296.9 33.1h1M303.1 39.6h1M292.7 45h1M295 45.5h1M284.3 41.9h1M299.1 41.2h1M294.9 36.4h1M284.6 44.8h1M290.3 44.2h1M289.5 38.7h1M293.7 37.8h1M305.3 40.6h1M295.5 40.4h1M302.8 45.3h1M289.8 44.2h1M302.3 45.2h1M297.3 39.7h1M284.9 36.2h1M298.5 48.1h1M293.1 47.6h1M296.9 48.8h1M290.1 35.7h1M305 37.3h1M305.9 50.6h1M289.4 39.2h1M301.3 46.2h1M285.3 40.9h1M290.4 42.3h1M289.8 41.3h1M292.1 41h1M297.1 47.3h1M290.8 42.8h1M305 43h1M286.2 34.3h1M297.2 37h1M294.4 39.4h1M289 45.4h1M308.7 39.7h1M291.8 46.8h1M303.3 33.8h1M301.7 41.2h1M288.7 33.8h1M300.9 35.6h1M290.6 46.5h1M294.3 36.4h1M293.1 40.4h1M291.5 45.1h1M297.3 52.8h1M299 46.6h1M300 41.2h1M290.4 38.2h1M294.2 39.6h1M287.4 38.8h1M288.5 43.1h1M297.7 45.1h1M296.6 44.3h1M290.1 37.3h1M292.9 48.4h1M300 42.6h1M301 36.3h1M294.5 44.1h1M286.7 46.7h1M304.8 42h1M309 46.3h1M301.6 38.2h1M289.7 48h1M293.8 39h1M299.5 39.2h1M288.5 38h1M286.9 40.6h1M299 46.9h1M298.1 37.1h1M289.8 41.2h1M291.2 37.6h1M296.6 36.4h1M294.5 36.6h1M294.5 34.4h1M299.4 42.4h1M306.4 44.8h1M300.9 47.2h1M293.2 38.9h1M287.7 39h1M300.5 32.9h1M297.3 40.4h1M297.4 45h1M301.5 44.6h1M294.7 38.7h1M289.3 42.3h1M301.7 45.6h1M304.2 40h1M290.7 46.5h1M301.2 47h1M288.4 45.3h1M294.7 48.4h1M285.1 39.5h1M304.1 44.3h1M300.4 41h1M291.9 34.9h1M295.5 46.2h1M291.7 44h1M305.6 42h1M303.3 45.7h1M301.2 46.7h1M294.8 42.7h1M293.1 43.1h1M286.5 49.6h1M293.5 43.4h1M296.1 39.5h1M295 40.6h1M290.4 48.4h1M301 38.4h1M287.3 47.2h1M291.4 42.7h1M303.2 36.8h1M294.3 42.3h1M291.3 34.6h1M284.9 46.8h1M284.8 46.2h1M288.2 41.1h1M305.1 36.9h1M299.9 39.3h1M290.4 37.2h1M300.2 42.4h1M291.1 49h1M303.6 47.4h1M295.7 36.8h1M302.4 40.6h1M287.8 39.1h1M285 36.8h1M290.2 35.6h1M291 41.1h1M300.3 43h1M284.2 46.9h1M288.7 43.8h1M303.9 42.9h1M288 41.8h1M298.5 39.8h1M301 40.5h1M288.8 39.8h1M298 43.7h1M290.5 48.8h1M304.6 47.1h1M297.5 40h1M300.2 38.9h1M297.2 42.9h1M306.7 47.3h1M296.5 37.3h1M282.6 44.1h1M293.5 47h1M282.4 37.6h1M295.3 35.5h1M300.6 48.2h1M289.6 39.8h1M281.7 45.9h1M291.3 44.8h1M289.1 48.2h1M293.9 48.7h1M300.6 39.9h1M294.4 43.1h1M290.4 45.6h1M296 43h1M300.7 35.6h1M299.8 41.5h1M294.9 41.1h1M285.9 41.9h1M299.3 41.9h1M300.3 40.5h1M285.8 43.3h1M297.6 49.1h1M287.1 42.6h1M288.2 49.2h1M285.9 39.9h1M302 47h1M297.7 46.4h1M289.6 43.4h1M294.8 47.5h1M294.5 44.3h1M306.5 38.5h1M281 36.6h1M290.1 37.8h1M291 47.1h1M299.1 44.5h1M295 46.7h1M308 37.6h1M299.5 48.9h1M283.6 37.8h1M301.4 47.4h1M294.1 44.6h1M290.5 42.8h1M292 40.9h1M293.9 39.8h1M303.5 45h1M299.3 37.1h1M296.2 40.6h1M286.1 48.8h1M301.1 46.9h1M297.8 37.4h1M288.8 42h1M288.6 41.9h1M294 39.4h1M294.7 43.8h1M289.4 40.2h1M301 38h1M291 36.8h1M292 42.3h1M304 42.8h1M295.8 48.2h1M292.2 42.6h1M304.9 48.3h1M294.8 51.6h1M295.9 44.1h1M294.4 36.2h1M299.3 41.7h1M289.4 38.4h1M298.7 45.2h1M288.1 41.2h1M298.1 34.1h1M301.1 44.2h1M305.6 46.6h1M297.9 51.1h1M303.4 46.5h1M293.8 45.9h1M288.3 41.7h1M291.2 38.6h1M294.5 41.2h1M297 44.5h1M296.9 39.7h1M298.7 50.3h1M307.8 40h1M294 39.8h1M290.2 34.6h1M297.8 48.9h1M293.3 46.2h1M298.9 45.2h1M297.9 40.1h1M291.5 38h1M286.8 41.1h1M300 46.5h1M299.7 42.3h1M293.5 40.7h1M292.8 39.9h1M292.7 36.5h1M294.6 38.4h1M291.2 38.6h1M294.1 37.7h1M302.1 49.1h1M289.5 37.8h1M304 36.8h1M294.6 40.8h1M289.8 42.5h1M290 45.2h1M283.8 44.3h1M303.5 37.2h1M306.5 45.9h1M300.4 49.1h1M286 41.8h1M287 43.7h1M291.2 40.8h1M286.7 35.7h1M291.3 44h1M285.2 36.7h1M300 46.1h1M284.1 37.9h1M287.4 42.4h1M287.1 39h1M300.8 37.5h1M306.5 47h1M303.2 34.5h1M294.8 37.9h1M289 38.9h1M290.9 43.8h1M307.6 43h1M302 40.6h1M297.7 36.6h1M287.4 35.4h1M281.6 39.1h1M298.3 38.5h1M296 49.2h1M296.1 35.4h1M303.3 37.8h1M291.4 43.8h1M286.3 44.8h1M291.6 49.3h1M297.8 47.3h1M291.5 45.4h1M289.6 47.4h1M286.2 44h1M289.1 37.3h1M300.3 37.9h1M286.6 37.8h1M290.7 37.1h1M297.5 43h1M305.3 50.1h1M294.3 44.1h1M291.6 37.4h1M294.2 34.8h1M303.5 43.2h1M294.1 41h1M298.3 38.7h1M290.3 48.1h1M293.4 36.5h1M286.6 45.1h1M293.9 33.8h1M293.7 38.5h1M287.9 51h1M300.1 35.2h1M289.9 41.3h1M302.8 39h1M292 42h1M293.9 37.6h1M288.6 49h1M295.1 48h1M298.9 46.8h1M297.4 37.8h1M305.3 42.6h1M286.1 37.3h1M296.9 39.9h1M292.2 43.3h1M293.6 40.7h1M296.5 46.9h1M300.4 35.5h1M301.1 38.3h1M292.6 37.8h1M299.7 35.4h1M293.7 45.2h1M292.5 45.7h1M299.6 45.1h1M295.9 44.1h1M299.6 36.5h1M286.4 37.2h1M294.5 40.3h1M300.6 48.5h1M294.2 42.2h1M299.1 41.7h1M295.4 44h1M296.8 40h1M301.2 43.5h1M297.1 39.8h1M306.3 44.3h1M286 37.3h1M288.6 36.3h1M290.1 40.7h1M294.5 35.2h1M286.5 36.8h1M287.6 45.3h1M298.5 38.9h1M297.7 37.7h1M288.5 40.7h1M288.3 46.7h1M287.2 40h1M295.6 46h1M285.8 40.4h1M286.8 48.2h1M306 38.2h1M291 46.2h1M287.8 42.1h1M301.7 34.2h1M290.5 45.8h1M292.4 38.9h1M291.3 38.5h1M291.2 36.7h1M287.5 45.4h1M302.2 44.2h1M296.5 46.4h1M298 38.7h1M284.6 42.4h1M289.5 42.7h1M297.6 50h1M294.9 47.4h1M300.5 45.3h1M298.6 40.4h1M295.6 39.5h1M300.8 47.9h1M298.7 50.4h1M302.5 40.3h1M302.8 49.9h1M300 48.2h1M287.3 43.9h1M285.8 38.8h1M297.5 41.6h1M294.7 43.7h1M294.5 36.7h1M288.5 40.2h1M298.3 38h1M296.3 42.3h1M283.8 39.4h1M292.1 41.4h1M283.3 44h1M301.9 46.4h1M297.8 38.5h1M293.5 45.8h1M295.3 45h1M288.2 36.6h1M304.4 42.9h1M299.3 46.5h1M287.7 44.8h1M303.6 49.5h1M302.6 50.1h1M296.8 36.6h1M301.1 36.8h1M300.9 44.4h1M289.9 40.5h1M285.8 47h1M305.5 43.9h1M290.6 44.7h1M300.1 35.5h1M302.6 34.8h1M294 50.6h1M287.2 43h1M294 43.4h1M293.1 40h1M303.8 42.6h1M301 42.9h1M306.1 49.3h1M293.9 39.6h1M301 38.1h1M292.9 37.1h1M296.7 39.3h1M290.9 43h1M305.2 35.5h1M300.9 45h1M294.7 44.8h1M282.5 48.5h1M301.1 47.5h1M304.3 38.4h1M284 44h1M289 47.3h1M292.3 39.3h1M300.5 47.2h1M303.6 45.4h1M303.4 46h1M303.4 47.7h1M303.7 36.1h1M300.1 38h1M293.5 36.4h1M283.3 39.5h1M304.3 41h1M293.8 47.1h1M287 44.1h1M303.4 48.5h1M301.2 47.2h1M301 48.2h1M289.6 41.3h1M302.9 46.2h1M285.1 36.2h1M300.7 47h1M289.5 41.4h1M299.8 43.4h1M281.4 41.5h1M289.8 42.9h1M297.1 51.5h1M300.7 40.7h1M299.4 39.2h1M292.1 33.1h1M292.9 44.2h1M305.1 36.3h1M301.7 40.9h1M305.6 43.5h1M293.6 37.3h1M301.5 38.7h1M286.6 39.9h1M303.6 46.9h1M290.5 33.9h1M292.1 43.2h1M283.7 36.9h1M294.8 46.8h1M289.6 43.2h1M284.8 44h1M301.5 44.2h1M297.8 35.8h1M287.2 36h1M305.5 35.4h1M300.4 41.9h1M298.3 40.2h1M288.2 33h1M304.7 51h1M291.2 38.1h1M293.7 48.3h1M297.5 43.6h1M289.4 50h1M298.3 49h1M296.1 34.4h1M286.8 42.5h1M294.2 47.5h1M303.8 46.3h1M299.4 34.5h1M284.5 48.3h1M298.1 39.9h1M289.8 40.5h1M298.8 35.4h1M289.8 35.5h1M298.7 44h1M285.9 47h1M298.2 45.4h1M297.9 41.6h1M291.2 38.9h1M296.5 38.4h1M289.7 42.6h1M284.2 39.5h1M301 51.7h1M289.3 47.2h1M307.9 39.1h1M285 46.6h1M293.7 34.3h1M296.1 39.6h1M298.4 45.8h1M289.2 46.7h1M286.5 45.7h1M302.9 37.3h1M286.6 45h1M286.2 40.3h1M286.9 37.3h1M299.8 34.7h1M293.4 43.6h1M282.8 40.9h1M280.6 38h1M302.7 43.9h1M296 43h1M290.6 45.2h1M306.5 47.4h1M288.4 41.5h1M293 44h1M305 43.5h1M297.5 42.7h1M284.3 47h1M302.8 49.8h1M295.7 47.9h1M301.3 51.2h1M298.8 46.8h1M294.2 38.1h1M285.9 41.7h1M291.9 45.7h1M299.5 34.9h1M296.5 48.8h1M301.8 45.9h1M290.4 43.8h1M296.8 37.9h1M289.6 51.3h1M300.6 41.9h1M298.7 48.6h1M287.9 48.2h1M297.2 45h1M284.9 36.5h1M301.4 45.2h1M300.1 41h1M296.9 43.9h1M289.1 49.3h1M295 43.3h1M291.7 41.9h1M300.8 44.6h1M302.4 47.6h1M301.1 39.6h1M298.4 40h1M309 47.8h1M295.5 40.3h1M308.1 43.5h1M303.6 46.9h1M283.8 47.4h1M307.1 36.2h1M296.2 39.6h1M296.7 39.3h1M288.3 45.7h1M296.8 41.3h1M300.3 38.9h1M291.7 37.8h1M296.3 35.3h1M296.3 34.6h1M299 45.9h1M307.1 52.2h1M290.3 46.2h1M306.4 41h1M303.1 38.6h1M301.1 46h1M298.2 36.1h1M299.6 47.9h1M306.9 49h1M288.8 39.1h1M291.3 48.4h1M290.7 39.9h1M298.6 45.3h1M304.1 36.4h1M301.5 45.5h1M297.8 46.6h1M290.2 45.7h1M299.8 44.1h1M288 46.3h1M303.9 49.4h1M292 45h1M287.6 43.5h1M297.6 47.8h1M287.2 47.5h1M284.4 50.2h1M299.1 40.6h1M294.7 47.6h1M290.1 37.2h1M306.6 34.1h1M291.5 48.6h1M292.4 34.7h1M287 34.7h1M305.5 44.8h1M303 43.6h1M293.9 44.8h1M291.1 44.2h1M295.8 43.7h1M291.6 37.9h1M288.9 37.9h1M306.7 46.4h1M301.2 47.3h1M309 44.7h1M302.3 39.1h1M297 40h1M298.4 42.7h1M297.9 36h1M291.6 44.6h1M292.2 37.4h1M286.5 35.3h1M303.1 34.9h1M298.2 35.6h1M302.7 40.3h1M295.6 43.6h1M292.9 40.3h1M301.4 47.5h1M293.5 38.7h1M305.6 40.6h1M301.6 41.3h1M298.8 42.7h1M302.9 39h1M289.6 42.5h1M292.3 48.4h1M290.5 33.6h1M286.7 38.5h1M293.1 40h1M298.9 45.8h1M298.9 33.9h1M300.7 45.6h1M286.9 40.4h1M297.4 38.5h1M292.3 40h1M292.4 46.7h1M293.9 40.8h1M294.9 36.1h1M295.2 42.1h1M297.6 40.1h1M288.7 43.8h1M295.3 37.6h1M288.5 35.3h1M297.1 38.7h1M297.5 42.9h1M288 45.3h1M300.5 33.9h1M294 40.9h1M285 39.3h1M290 35.7h1M294.9 33.1h1M296.3 42.5h1M298.9 37.8h1M304.9 39.8h1M290.8 48.3h1M287.4 36.1h1M291.1 43.5h1M298.1 49.8h1M287.8 40.2h1M302.7 36.8h1M304 36.5h1M300.8 50.3h1M298.8 34.9h1M304.7 49.6h1M305.1 41.3h1M297.7 43.6h1M290.5 41.8h1M288.3 34h1M304.5 39.9h1M292.5 45.8h1M296.5 38.6h1M301.2 42.4h1M290.1 43.4h1M303.9 38h1M308.4 37.6h1M305.7 43.9h1M303.3 36.4h1M288.9 46.7h1M299.7 34.2h1M299.2 36.6h1M287 38.2h1M280.8 41.9h1M299.4 44.9h1M285.1 42.8h1M298.1 46.3h1M296.7 49h1M290 46.7h1M292.7 39.5h1M295 45.2h1M288.9 44.6h1M293.5 39.6h1M294.5 43.6h1M296.7 40h1M304.2 49.6h1M283.9 39.5h1M297.8 43.5h1M285.8 40.9h1M290 44.4h1M292.1 34.6h1M293.9 39.6h1M304.5 34.9h1M301.3 46.1h1M299 49.8h1M291.8 35.4h1M299.1 44.4h1M299.1 42.9h1M292 40.1h1M298.2 44.4h1M300 33.4h1M303 36.9h1M303.1 34.7h1M289.3 47.6h1M301.3 40.8h1M301.9 37.8h1M290.2 37.6h1M283.8 49.3h1M289 37.5h1M299.2 47.8h1M294.6 40.4h1M295.9 39h1M287.5 39.1h1M295.2 45.9h1M291.1 40.3h1M292.4 41.2h1M297.2 42h1M300.4 36.3h1M289.8 33h1M286.1 35.6h1M290.7 35.1h1M289.2 34.3h1M293.3 46.4h1M288.3 39.3h1M302.1 39.7h1M301.5 32.9h1M291.7 45.9h1M292.2 44.6h1M288.8 47.5h1M293.3 37.3h1M296.6 38.8h1M304.9 46.2h1M296.9 36.5h1M293.3 49.5h1M291.3 40.3h1M297.5 34.2h1M284.7 47.9h1M292.5 47.1h1M287.9 48.2h1M289.8 38.1h1M296.5 42.5h1M289.1 46.2h1M286.4 37.2h1M293.3 41.4h1M299 45h1M303.4 45.1h1M296.1 43.4h1M305.3 35.4h1M298.8 33.3h1M296.8 44.6h1M287.5 47.9h1M303.9 47.9h1M307.2 44h1M294.4 41h1M292 46.5h1M297.3 35.5h1M291.7 37.7h1M305.8 48.5h1M283.5 46h1M306.1 44h1M286.4 41.4h1M296.1 41.2h1M303.4 45.3h1M288.3 41.5h1" stroke="#000" stroke-width="1" stroke-opacity="0.28"/>
<path d="M286.5 56.3h1M289.6 58.3h1M295.3 54.3h1M289 58h1M291.9 54.5h1M294.8 59h1M295.1 60.9h1M293 57.6h1M292.5 52.2h1M291.7 58.7h1M298 51.7h1M293.6 59h1M289 55.5h1M290.4 58.6h1M289.1 60.1h1M285.2 60.9h1M295 56.4h1M298.1 54.7h1M296.2 57.8h1M294.6 58.5h1M301 56.7h1M295.6 57.6h1M299.6 59.5h1M291.1 56h1M292.3 55.8h1M288.2 54.7h1M290.9 57.2h1M296.3 53.4h1M295.6 55.6h1M290.3 60.4h1M290.4 48.7h1M284.4 48.3h1M304.9 58.6h1M294.6 57h1M293.7 56.2h1M299.1 53.5h1M293.5 51.1h1M287.8 59.8h1M295.7 56.5h1M286.6 58.5h1M294 58.9h1M295.5 56.3h1M292.7 62.2h1M295.8 59.6h1M286 55.6h1M299.8 52.1h1M286.7 56.2h1M297.1 56h1M294.8 53.2h1M289.3 60.3h1M290.5 49.8h1M289.4 59.7h1M295.7 51.4h1M290.5 50h1M287 56h1M289.4 57.2h1M299.9 61.7h1M286.6 52.3h1M294.1 59.1h1M291.2 49h1M293.7 54.5h1M292.5 54.5h1M296.3 49.6h1M287.9 58.3h1M296.2 60.6h1M297 53.5h1M294.7 54.5h1M290.3 52h1M286.3 59.4h1M291.7 52.7h1M296.1 52.3h1M289.4 49.9h1M282.7 53.2h1M294.9 58.4h1M292.1 59.4h1M289 58.4h1M292.9 53.4h1M284.9 59.1h1M286.1 55.5h1M301.1 59.6h1M286.8 57h1M293.3 53.8h1M294.7 58.1h1M289.8 55.2h1M299.5 52.2h1M301.6 50.6h1M293.4 62.5h1M289.3 52h1M292.3 55.1h1M288.4 57h1M297.4 51.3h1M293.5 53.9h1M291.3 60.3h1M291.9 50h1M287 60.1h1M296.6 59.5h1M293.3 52.2h1M291 56.3h1M290.1 58h1M292.5 56.6h1M300.7 56.2h1M291 55.1h1M294 56.3h1M293.7 54.2h1M293.1 51.3h1M294.1 59.9h1M291.4 51.9h1M284.2 57.9h1M296.6 51.2h1M289.5 57.9h1M292 54.3h1M287.5 59.3h1M298.6 55.2h1M293.5 49.5h1M296 55.7h1M287.3 57.5h1M298.8 53.4h1M298.3 62.6h1M287.5 58.1h1M291.1 54.1h1M287.8 57.8h1M281.9 55.3h1M284.8 55.2h1M297.6 59h1M291.4 55.1h1M300.2 49.5h1M301.6 57.5h1M294.5 56.1h1M297.2 49.9h1M287.9 55.7h1M293.6 59.8h1M299.4 50.1h1M298.9 57.6h1M292.3 51.2h1M303.1 58.5h1M286.6 60.4h1M291.9 62h1M298.5 52.2h1M296.9 59.8h1M287.8 57.5h1M297.7 59.2h1M295.2 51.9h1M294.2 57.7h1M298.2 52.5h1M296 57.1h1M289.8 58.2h1M293.9 55.3h1M290.2 58.3h1M288.8 54.5h1M289.8 58h1M286.3 60.7h1M284.8 63.5h1M289.3 50.5h1M288.4 52.3h1M295.9 53.6h1M299.4 55.2h1M289 60.4h1M293 55.7h1M287.3 59.8h1M294.7 60h1M299.2 52.3h1M297.8 52.6h1M299.3 52.4h1M286.2 57.4h1M294.4 57.6h1M299.5 59.1h1M297 48.5h1M292.9 60.7h1M285.4 57.6h1M290.9 58.4h1M300.1 57.4h1M292.1 55.3h1M293.1 61h1M288.8 57.8h1M289.8 50.6h1M293.1 54.8h1M300.7 52.4h1M296.1 58.2h1M288.4 50.9h1M297.6 57h1M302.3 55.6h1M302.4 51.2h1M288.4 53.1h1M301.3 58.3h1M287.3 60.2h1M285.9 58h1M296.4 56.3h1M285 50.1h1M289.2 51.3h1M302.1 58.6h1M290.7 52h1M296.5 57.5h1M289.7 56h1M284 53.8h1M287.5 59h1M293.1 59.1h1M300.5 54.9h1M287.3 60.1h1M287 51.6h1M293 54.4h1M291.9 56h1M292.5 55.2h1M296.6 56.2h1M296.3 54.1h1M290.5 61.3h1M290.4 58.2h1M288.1 54.7h1M289.4 54.9h1M294.2 58.1h1M293.9 53.3h1M288.4 58.2h1M297.9 59.4h1M298.1 53.8h1M283.8 56.7h1M285.3 61.7h1M297.1 59.2h1M299.1 60.8h1M292.2 56h1M290.1 50.3h1M291.9 50.6h1M297.1 55h1M296.7 48h1M284.2 57h1M284.2 60.1h1M293.9 59h1M298.5 54.2h1M295.7 56.1h1M296.3 52.4h1M296.4 56.9h1M287.2 51.2h1M290.5 55.7h1M300.5 59.1h1M298.8 58.1h1M288.2 60.5h1M300 57.8h1M287.3 53.5h1M286.4 50.7h1M286.2 57h1M293.7 58.7h1M298.7 62h1M286.9 52.3h1M284.9 57.4h1M292.7 57.3h1M300.8 50.4h1M292.4 51.3h1M303.9 53h1M288 61.7h1M287.2 51.6h1M291.6 62.4h1M294.9 48.4h1M297 50.7h1M296.3 55.4h1M293.2 54.1h1M293.2 53.9h1M298 58.9h1M291 60.2h1M298.5 49.7h1M289.3 57.2h1M293.8 56.8h1M293.1 49.7h1M293.9 57.4h1M290.2 53.4h1M297 60h1M299.2 54.2h1M287.4 59.8h1M298.8 57.8h1M286.6 50.8h1M296.8 59.7h1M286.5 57.5h1M284.8 54.6h1M293 55.4h1M293.1 54.6h1M290.6 61h1M298.2 58.8h1M296.5 50.8h1M300.1 50.2h1M287 50h1M298.6 49.3h1M289.1 52.4h1M284.6 56.4h1M298.6 57h1M296 53.8h1M294.4 50.7h1M288.3 49.8h1M292.4 60.5h1M298.9 56.9h1M299.2 50.5h1M288 56.8h1M292.9 48.7h1M298.2 52.2h1M294.3 51h1M288.9 54.4h1M298.5 56.7h1M289.3 52.3h1M293.1 62h1M291 49.3h1M303.5 57.5h1M289.6 58h1M291.8 55.3h1M298.6 56.8h1M285.4 56h1M289.5 58.8h1M288.4 55.5h1M300.4 54h1M297.3 54h1M294.3 52.6h1M285.9 51.1h1M293.8 54.4h1M300.6 59h1M297.1 59.7h1M288.9 53.9h1M290.5 59.1h1M288.8 55.1h1M292.8 51.2h1M295.5 55.3h1M293.5 51.6h1M295.7 53.9h1M294.5 51.9h1M292.5 57.9h1M290.8 48.6h1M290.6 62.6h1M292.5 56.3h1M286.3 58h1M291.3 55.9h1M299.6 62.2h1M295.4 53.7h1M293.3 60.2h1M292.9 52.9h1M288.7 52.7h1M285.1 55.1h1M284.5 50.9h1M296 59.8h1M294.1 52.1h1M289.2 57.4h1M303.1 56h1M296.4 50.6h1M288 58.8h1M294.8 59.9h1M296.2 55.2h1M284 53.8h1M293 52.3h1M294.2 60.3h1M300.3 50.9h1M284.3 61.1h1M293.3 52.7h1M292.1 57.9h1M290 56.1h1M289.2 52.6h1M292.7 51.6h1M297.2 62.5h1M298.6 60.1h1M294.5 52.3h1M286.1 49.2h1M293.7 50.3h1M287.5 55.1h1M287.4 53.4h1M292.9 54.3h1M289.8 56.3h1M301.7 58.2h1M292.4 53h1M285.3 60.6h1M294.7 53.3h1M300.3 54.5h1M298.5 61.5h1M294.8 59.6h1M285.8 60.1h1M295.8 55.5h1M295.4 55.6h1M296.6 55.1h1M289 59.6h1M290.6 55.2h1M296 56.7h1M294.1 54.7h1M297 53.6h1M295.8 54.5h1M302.1 55h1M287.7 59.2h1M288.8 58.4h1M288.8 48.3h1M302.9 57.5h1M292.5 60.2h1M291.9 58.6h1M285.7 59.8h1M295.8 55h1M283.1 53.5h1M295 59.6h1M289.6 61.3h1M300.8 56.8h1M285.8 59.8h1M295.1 55.7h1M290 58.5h1M304.3 50.1h1M288.3 54.6h1M297.6 51.2h1M297.7 56.7h1M288.1 53.9h1M292.1 50.4h1M303.4 51.7h1M298.1 61h1M286.7 49.7h1M294 59.2h1M291.7 57.2h1M289.5 55.2h1M301.1 60h1M294.6 60.1h1M298.3 53.6h1M290.8 48.2h1M293.4 56.5h1M286.9 56.3h1M292 61.9h1M284.3 48.8h1M287.9 56.8h1M292.1 50.8h1M296.3 55.6h1M291.5 54.2h1M290.2 58.6h1M283.3 59h1M296 58h1M295.4 52h1M291.2 51.9h1M300.9 50.8h1M297.9 54.7h1M291.4 55.1h1M296.1 50.6h1M285.1 53.4h1M293 54.4h1M295.6 50.8h1M303.6 52.1h1M287.8 62.1h1M290.5 53.1h1M297.4 53.2h1M298.5 56.3h1M291.1 61.5h1M294.2 54.1h1M284.3 51.5h1M297.7 51.5h1M289.1 56.3h1M291.5 53.6h1M286.3 52.5h1M289.9 57.1h1M294.9 61.2h1M284.3 53.1h1M285.4 51.6h1M298.3 52h1M296.1 59.8h1M288 52h1M292.9 53.7h1M295.1 57.7h1M299.7 54.3h1M299.3 55.1h1" stroke="#000" stroke-width="1" stroke-opacity="0.26"/>
<path d="M287.5 67.2h1M291.9 70.7h1M294.9 70.8h1M287 71h1M302.3 58h1M284.9 44.5h1M281.7 57h1M296.7 48.9h1M287.2 59.5h1M289 53.4h1M290.3 48.8h1M288.8 74.4h1M306 67.2h1M296.2 80.5h1M298.1 72.1h1M286 62.7h1M279.6 59.7h1M286.3 77h1M290.5 62.7h1M290 68.9h1M298.6 57.3h1M288.6 51.5h1M296.5 72.4h1M292.2 44.5h1M285.6 61.9h1M297.5 80.4h1M295 67.6h1M291.8 75.1h1M287.4 53.3h1M298.8 37.2h1M298 72.9h1M284.7 51h1M289.3 70h1M301.8 56.2h1M303.8 67h1M292.8 54.3h1M300.9 69.5h1M288.5 59.6h1M296.9 48.5h1M299.1 61.4h1M289.1 77.1h1M288.3 55.2h1M304 79.9h1M279.5 68.1h1M301.2 45.8h1M292.4 64.2h1M295.3 44.9h1M290.4 54.6h1M301.3 58.4h1M294.4 65.6h1M294.1 55h1M299.4 48.9h1M295.3 66.5h1M297.9 46h1M292.3 60h1M299.5 78.5h1M293.7 73.8h1M303.6 45.1h1M286.7 70.2h1M296.7 68.2h1M295.2 74.2h1M290.9 53.5h1M301.3 65.9h1M289.9 71.8h1M306.8 64.5h1M288.4 67.5h1M286.2 53.1h1M294.3 63.5h1M295 64.9h1M300.2 68.1h1M285.7 74.7h1M304.2 68.6h1M291.2 68.6h1M293.4 56.8h1M302 73.9h1M293.6 80.7h1M286.7 78.2h1M291.4 76.7h1M289.9 61.1h1M299 72.3h1M290.2 58.3h1M283.1 51.8h1M300.1 73.5h1M296.3 57h1M288.2 80.7h1M300.8 73.6h1M278.6 69.6h1M286.8 73.4h1M287.7 51.7h1M294.8 51.6h1M296.4 65h1M291.1 60.9h1M297.8 68.2h1M296.1 58.5h1M300.1 64.5h1M292.8 74h1M293.3 66.2h1M291.1 64.2h1M292.8 78.4h1M297.3 57.2h1M290.8 66.2h1M281.2 53.3h1M291.2 75.9h1M278 62.6h1M293 53.9h1M282.5 60.2h1M286.3 63.3h1M301.7 72.8h1M285.2 64.7h1M299.1 47.7h1M291 51.2h1M295.8 68.7h1M289.5 68.8h1M290.4 62.7h1M291 60.8h1M289.9 76.2h1M288 64.2h1M292.9 71h1M290.7 69.4h1M294.3 64h1M301.5 68.3h1M294.8 69.5h1M290.1 69.6h1M287.4 47.5h1M293.8 48.7h1M297.3 59.1h1M307.7 63.6h1M290.2 63.1h1M283.5 65.3h1M286.6 45.6h1M287.6 61.9h1M298.3 50.9h1M299.7 61.8h1M300.6 64.9h1M292 79.8h1M287.6 59.2h1M298.1 58h1M292.4 45.8h1M300.9 73.6h1M301.2 40h1M294.9 75.8h1M302.9 38.3h1M286.1 73.3h1M302 60.4h1M282.4 51.6h1M304.5 63.2h1M290.7 45.2h1M281.5 74.5h1M286.4 79.8h1M294.2 63.7h1M298.1 58.6h1M298.1 45.7h1M288 78.1h1M303.3 63.3h1M287.9 80.6h1M290.6 59.3h1M292.2 68.2h1M285.9 62.2h1M291.1 80.2h1M295.4 55.8h1M288.3 66.1h1M290.8 73.7h1M276.9 53.7h1M302.1 47.3h1M294.1 35.1h1M289.1 71.2h1M302.8 74.6h1M278 54.6h1M286.7 48.5h1M288.3 65.5h1M283.5 53.3h1M281.6 42.2h1M297.5 59h1M299.3 62.2h1M295 38.2h1M284.4 54.6h1M297.2 64.6h1M295.1 51.8h1M291.3 79.6h1M295.9 44.8h1M294.6 78.8h1M306.5 38.2h1M289.4 65.5h1M287.7 56.4h1M281 57.8h1M295.2 60.5h1M301.5 57.6h1M298.2 65.1h1M287.1 69.3h1M294.5 58.5h1M300 67.8h1M300.6 41.1h1M295.7 71.7h1M296.5 71.7h1M282.5 68.3h1M291.4 68.1h1M295.9 74.6h1M293.4 66.1h1M293.7 65.9h1M296.1 47.8h1M290.8 61.6h1M294.2 63.3h1M280.8 70.4h1M287.6 52.3h1M294.6 72.7h1M294.4 68.9h1M295 69.9h1M292.4 49.8h1M292.6 54.7h1M294.7 63.3h1M289.5 41.5h1M284.9 70.8h1M290.6 63h1M292.7 69.2h1M280.9 50.9h1M296.8 79.8h1M281.2 65.2h1M295.5 77.4h1M280.8 56.4h1M281 47.9h1M287.6 32.5h1M291.1 62.5h1M301.8 45.3h1M304.2 58.4h1M295.3 62.5h1M292.1 49.7h1M294.6 70.9h1M300.8 42.7h1M285.5 65.9h1M295.5 66.8h1M301.1 69.1h1M287.6 42.1h1M288.5 52.1h1M286.2 69.5h1" stroke="#000" stroke-width="1" stroke-opacity="0.3"/>
<path d="M293.6 76.9h1M306.5 48.4h1M280.8 81.3h1M301.5 53h1M299.1 52.1h1M289 47.7h1M307.5 56.5h1M300.1 54.6h1M285.7 74.3h1M296.3 71.5h1M302.1 57.7h1M303.8 68.9h1M281.2 52.5h1M280.8 56.7h1M302 78.3h1M288.2 74.9h1M298.1 81h1M287.6 54.2h1M305.5 73.7h1M295.9 74.2h1M283.7 74.6h1M281.2 67.4h1M293.8 49h1M295.5 49.2h1M282.9 71.2h1M287.1 42.3h1M302.7 50.8h1M307.6 43.8h1M281.5 48.5h1M281.5 69h1M290.8 72.9h1M279.8 45.8h1M300.4 64.8h1M292.1 77.6h1M308.5 40.7h1M279.3 63.5h1M292.5 65.8h1M282.1 79h1M277.9 66.6h1M293.7 58.2h1M303.5 56.5h1M306.7 70h1M298.4 45.3h1M287.4 67.1h1M303.6 67.5h1M302.6 58.4h1M306 55.9h1M279.6 68.5h1M283 66.5h1M297.5 67.1h1M304.4 79.8h1M299.8 48.5h1M305.2 74.1h1M296.6 42h1M290.1 55.3h1M305.3 42.3h1M295.6 56.8h1M301.3 44.1h1M300.6 52.7h1M293.6 71.8h1M277.4 69.7h1M304.2 71.3h1M293.4 65.9h1M306.4 52.6h1M309 48.4h1M284.7 55.7h1M291.9 68.9h1M303.7 61.3h1M293 62.3h1M287.3 69.8h1M310 65.5h1M283.9 79.7h1M307.5 57h1M305.4 49.8h1M305.1 69.6h1M289.6 48.3h1M288.9 65.5h1M283.5 74.3h1M277.2 58.6h1M307.9 41.2h1M305.3 52.1h1M280.1 73h1M306.2 81.2h1M303.5 76.5h1M304.8 65.8h1M292.8 48.3h1M291.6 74h1M294.1 66h1M293.9 46.5h1M307 72.9h1M291.5 63.6h1M296.9 44h1M287.7 73.9h1M285.8 59.3h1M290.3 42.5h1M305.8 47.6h1M287.2 60.8h1M279.7 74.8h1M282.7 49.1h1M289 66.4h1M298.3 57.7h1M298.7 80.4h1M291.2 43h1M301.8 65h1M307.4 61.2h1M279.9 48.4h1M286.7 79.4h1M277.9 51.8h1M305.3 75.4h1M309.2 74.4h1M288.9 69.2h1M308.7 56.9h1M295.6 55.1h1M293.9 60.5h1M307 74.5h1M300.1 72.7h1M288.8 51.6h1M300.1 43.9h1M289.5 79.8h1M282.2 59.6h1M308.7 70.4h1M277.1 78.2h1M276.2 55.4h1M287.7 48.5h1M287.2 52.7h1M278.1 50.6h1M297.6 41h1M287.3 76.2h1M279.7 64.9h1M284.8 65.5h1M301.4 57.7h1M283.2 53.9h1M301.8 67.8h1M305.8 66.7h1M289 54.8h1M290.4 65.6h1M282 61.5h1M289.9 52.5h1M298.1 50.9h1M291.7 45.1h1M283.7 62.1h1M296.5 42.9h1M277.5 55.3h1M302.3 64.4h1M292.7 53.9h1M307.1 69.3h1M277.8 70.3h1M290.3 45h1M302.8 67.4h1M287.5 55.8h1M299.2 76.9h1M300.1 55h1M276.1 63.8h1M292.6 65.4h1M308.9 49h1M299.5 47h1M291.2 43.9h1M296.3 49.9h1M301.4 79.9h1M292.6 68.7h1" stroke="#000" stroke-width="1" stroke-opacity="0.4"/>
<path d="M313.7 41.3h1M302.9 36.9h1M310.8 47.4h1M307.9 44.4h1M312.8 42.9h1M301.2 39.3h1M308 42.7h1M304.9 42.4h1M310.5 44.5h1M309.7 37.1h1M313.7 39.6h1M306 39.9h1M307.4 39.8h1M306.8 43.7h1M309.8 38.8h1M308.9 36.9h1M313.7 35.3h1M312.8 40.2h1M309.5 47.3h1M310.7 44.9h1M305.6 36.4h1M312 45.7h1M308.3 43.2h1M311.4 44h1M313.4 38.7h1M307.8 34.7h1M307.7 42.8h1M303.1 45h1M310 36.8h1M312.4 40.8h1M305 37.8h1M313.4 39.7h1M313.1 39.2h1M312.2 39.9h1M306 40.6h1M311.5 38.4h1M312.9 40.3h1M308 42.1h1M310.2 41.6h1M305.2 40.6h1M308.2 39.7h1M306.8 43.9h1M312.9 37.9h1M310.1 41h1M311.5 38.6h1M311.1 48.5h1M309.5 41.9h1M307.3 38.5h1M309.2 37.5h1M306.5 45.4h1M307.6 40.3h1M307.2 39.3h1M302.9 41.8h1M307.6 43.4h1M311.8 38.9h1M305.8 41.6h1M308.7 38h1M309.3 41.9h1M306.6 42.3h1M310.6 41.2h1" stroke="#000" stroke-width="1" stroke-opacity="0.4"/>
<path d="M332.2 45.2h1M319.2 40.3h1M335 43.8h1M317.7 44.1h1M329.8 46h1M330.7 36h1M318.1 46.4h1M339 41.7h1M336.1 33.7h1M330.1 41.9h1M323.2 42.8h1M328.3 39.1h1M333.1 32.3h1M341.7 43.6h1M330.7 35.4h1M339.3 38.5h1M326.1 50h1M342.3 40.6h1M314.7 40.3h1M334.6 33.8h1M332.2 33h1M322.9 40.8h1M324.1 44.2h1M339.2 32.8h1M334.9 33.8h1M331.2 40.8h1M335.4 42h1M333 44.2h1M335.3 37.7h1M318.3 46.5h1M320.9 38.8h1M338.6 41.2h1M320.9 40.3h1M325.2 46.3h1M325.4 47h1M334.1 44h1M321.2 47h1M331.8 40.1h1M321.4 45.7h1M325.7 44.6h1M339 45.7h1M327.8 39.5h1M327.5 48.6h1M330.8 42.6h1M324.4 43.5h1M327.3 45.6h1M328.9 38.2h1M331.2 38.2h1M320.3 44h1M336.8 40.1h1M318 41.8h1M318.9 50.7h1M325 33.7h1M330.3 43.1h1M338.3 42.1h1M319.7 38.8h1M331.1 36.9h1M339.1 39.6h1M340.9 39.7h1M323.4 45.4h1M334.7 45.5h1M337.6 48.3h1M335.3 39.8h1M322.3 47h1M342.1 40.6h1M330.1 31.8h1M326.3 39.8h1M329.1 41.3h1M330.5 41.8h1M328.7 34h1M336.9 36.3h1M336.7 46.1h1M334.7 42.1h1M335.5 31.3h1M338.1 34.3h1M329.7 44.6h1M339.2 37.7h1M329.6 45.7h1M316.6 50.5h1M332.6 43.1h1M333.8 35.1h1M341.2 36.2h1M316.5 37.8h1M331.5 32.1h1M333.6 34h1M322.2 33.7h1M316.5 39.3h1M325.1 42.1h1M323.8 35.8h1M340.7 31.9h1M329.7 35.9h1M315.1 42.9h1M331.2 43.5h1M314.8 41.5h1M343.3 41.6h1M322 39.4h1M343 40.5h1M335.9 46.5h1M320.5 46.4h1M323.1 44.9h1M334.9 39.7h1M322.5 34.5h1M317.6 51.3h1M329.7 42.9h1M334 36.5h1M330 32.3h1M316.5 46.5h1M335.4 37.4h1M334.1 36.5h1M321 45.3h1M316.1 42.4h1M339.5 41.7h1M339.1 38.8h1M326.7 40.1h1M326.8 33.9h1M323.5 41.9h1M332.2 46.3h1M324.9 49.3h1M326.7 35.7h1M326.5 37h1M328.1 38.9h1M332.3 42.9h1M340.2 36.7h1M327 37.2h1M323.7 48.6h1M317.8 47.6h1M322.9 45.9h1M332.5 43.3h1M327 47.2h1M330.8 45.1h1M329.5 45h1M325.1 46.7h1M339.8 39.9h1M333.1 40.8h1M340.5 33.1h1M332.1 39.3h1M323.8 41.1h1M317.3 42.2h1M334 41.6h1M317.2 35.4h1M333.4 43.8h1M329.8 37.1h1M334.7 33h1M330.6 34.4h1M317.2 45.2h1M324.6 32h1M330.5 50.6h1M332.1 40.8h1M322.5 40.4h1M328.4 38.5h1M334 39.1h1M316.7 45.2h1M338.9 42.2h1M328.5 43.5h1M343.2 39.2h1M323 43.2h1M324 32.6h1M338.9 39.2h1M331 37h1M334.5 39.1h1M324.4 47.3h1M341.6 39.2h1M328.9 47.8h1M331.3 42.6h1M315.9 40.6h1M326.6 38.9h1M325.9 40.1h1M322.3 45.1h1M332.6 42.5h1M341.4 39h1M317.4 44.7h1M329.1 35.7h1M321.5 37.8h1M317.7 47.1h1M340.2 37.6h1M315.1 47.5h1M328.3 48.8h1M336 44h1M320.1 43.8h1M333.3 37.3h1M332.9 44.7h1M335 32.8h1M320.7 44.2h1M323.7 50.1h1M325.3 48.8h1M314.9 52h1M342.6 33.5h1M341.5 34.8h1M329 37.2h1M324.2 39.9h1M328.3 34.9h1M322.5 42.2h1M321.3 39.2h1M324.3 46h1M320.6 42.4h1M325.4 40.4h1M332.2 36.8h1M336.9 41.3h1M340.2 33.5h1M337.6 38.1h1M326.8 38.4h1M337.4 46.4h1M335.3 34.8h1M323.4 45h1M341.4 38.8h1M334.8 34.6h1M336.8 37.3h1M327.1 37.7h1M334 44.7h1M325.5 45.8h1M339.3 31.5h1M327.7 42.6h1M323.9 35.4h1M325.1 52.3h1M329.6 31.1h1M321.1 40.7h1M328.7 49h1M334.9 35.5h1M326.1 35.9h1M334.3 42.4h1M337.6 34.8h1M325.8 39.9h1M334.5 33.8h1M332.9 40.4h1M326.4 37.6h1M340.5 31.9h1M334.3 36.2h1M322 33.3h1M314.4 45.7h1M319.3 39.4h1M334.4 39.4h1M317.7 47.3h1M331.2 32.5h1M337 36.5h1M324.8 36.9h1M335.6 34.9h1M318.1 37.8h1M320.7 36.3h1M318.4 49.2h1M327.8 47.7h1M324.1 41.8h1M335.3 43.9h1M332.2 39.3h1M330.8 33h1M336.4 40.9h1M330.1 37.5h1M330.7 34.2h1M322.8 44h1M337.5 34.6h1M333.1 33h1M325 44.9h1M342.1 33h1M319.8 42.3h1M326.1 37.6h1M331.9 36.7h1M320.7 35.4h1M322.1 45.9h1M331.4 45.1h1M318.8 36.3h1M317.7 48.3h1M322.8 44.4h1M328 34.8h1M336.6 39.2h1M338.7 41.7h1M331.8 46.5h1M331.2 46.2h1M326.2 42.8h1M341.8 38.7h1M339.9 33.3h1M324.6 41.8h1M332.7 41.7h1M342 40.4h1M322.7 41h1M336 41.2h1M318.5 38.5h1M316.7 46.3h1M331.1 36.4h1M326.4 38.7h1M324.7 39.7h1M337.4 41h1M331.1 46.1h1M339.4 42.8h1M321.9 50.5h1M318.4 48.4h1M327.1 35.7h1M320.2 39.3h1M313.9 38.6h1M321.7 39.9h1M324.7 49.5h1M329.9 32.1h1M321.1 34.7h1M325.5 46.2h1M326.1 37.9h1M327.8 42.7h1M322.2 44.8h1M336.4 40h1M335.2 42.1h1M324.3 43.4h1M321.7 47.8h1M328.1 41.4h1M328.2 46.2h1M328 46.1h1M322.1 47.8h1M328.6 33.8h1M333.6 39.5h1M322.9 32.6h1M329.5 43.3h1M336 45.5h1M340.9 33.5h1M323 41h1M319.6 41.4h1M316 43h1M339.4 36.3h1M327 44.8h1M319.1 40.9h1M330.2 46.8h1M316.6 41.9h1M323.4 34h1M320.7 47.1h1M330 34h1M326.9 39.9h1M327.2 35.4h1M322.4 48.1h1M332.4 39.3h1M334 32.7h1M324.9 48.8h1M326.9 47.1h1M332.2 37.1h1M340.5 42.3h1M337 43.1h1M327.1 36.1h1M317.1 52h1M334.2 33.2h1M324.8 48.2h1M334 33.2h1M331.5 47.7h1M319.7 36.1h1M325.6 39.9h1M318.3 50.5h1M319.8 47.4h1M341 30.8h1M327.2 45.7h1M333 32.3h1M318.9 50.9h1M313.5 49.3h1M336.5 34.9h1M321.5 34.4h1M316.1 51.1h1M321.1 35h1M331.9 43.4h1M336 40.7h1M318.6 47h1M322.5 45.9h1M326.6 46.4h1M322 49.7h1M317.7 41.8h1M339.4 36.7h1M336.8 42.8h1M336.1 37.7h1M334.7 40.3h1M327.8 37.3h1M317.5 39.3h1M335.6 43.9h1M327.6 44.1h1M335.2 33.1h1M330.6 41.7h1M313.6 40h1M337.2 42h1M322.6 41.3h1M342.6 35.3h1M336.6 36h1M318.4 38.8h1M335.9 40.8h1M326.9 43.9h1M333.4 35.3h1M340.2 31.9h1M338.1 42.2h1M334.8 35.3h1M336.1 38.5h1M336.6 36.1h1M318.3 43.9h1M321.7 45.2h1M327.7 47.7h1M335.8 42.6h1M333.6 36.3h1M341.8 42.9h1M323.6 50h1M339.9 32.6h1M335.3 38.1h1M324.1 37.8h1M333.1 37.4h1M324.7 39.1h1M338.8 41.3h1M329.3 38.6h1M317.8 45.1h1M333.7 42h1M342.2 32.9h1M320.8 44.1h1M327.9 50.3h1M317.3 39.3h1M335.4 36.7h1M316 46.9h1M333.5 48.2h1M332.9 43.3h1M332.5 35.1h1M336.6 41.5h1M319.7 51h1M321.2 41.4h1M315.7 48.3h1M332.2 35.3h1M315.9 38.7h1M337.6 36.4h1M324.6 48.4h1M326.3 34h1M330.8 34.5h1M319.4 44.3h1M336.9 32.1h1M342.6 38.1h1M324.1 52.5h1M338.2 35.9h1M328.3 39.5h1M327.2 46.3h1M326.8 45.6h1M324.4 42.5h1M334.6 42.7h1M333.1 39.6h1M323.2 42.4h1M324.6 35.5h1M342.4 37.3h1M322.8 49.6h1M321.8 40.9h1M340.9 39.5h1M340.5 44h1M332.6 48.5h1M338.2 46h1M338.5 32.2h1M315.8 48.9h1M321.2 40.3h1M314.3 42.5h1M316.9 51h1M334.1 40.4h1M336.4 35.1h1M339.7 32.1h1M338.6 31.6h1M315.5 49.6h1M327.9 41.1h1M335.3 37.6h1M341.4 40.1h1M318.7 51.3h1M319.6 47.2h1M330.1 42.5h1M316.8 47.8h1M323.1 40.4h1M339.6 42h1M338.3 43h1M328.5 40.6h1M319.3 46.6h1M340.4 37.6h1M336.9 41.4h1M330.3 36.3h1M337.7 36.8h1M335.5 47.2h1M317.6 42.1h1M331.7 32.1h1M335 44.4h1M325.1 38h1M335.5 44h1M334.1 36.8h1M329.2 43.2h1M318 43.3h1M327.2 34.7h1M334.4 34.7h1M318.4 42.5h1M331.5 33.6h1M334.7 45.7h1M327.9 42.4h1M316.1 45.6h1M328 42.5h1M328.1 48.3h1M330.2 32.6h1M325.1 48.7h1M325.1 50.7h1M340.2 30.5h1M326.7 50.1h1M332.8 47.9h1M328.5 47h1M326.8 34.1h1M340 41.7h1M340.5 36.3h1M331.7 39.9h1M326.5 33.4h1M328.8 32.8h1M328 38.6h1M324.6 36.9h1M336.4 43.7h1M318.8 43.6h1M316.8 40.2h1M324 44.5h1M327.6 42.1h1M336.5 40.8h1" stroke="#000" stroke-width="1" stroke-opacity="0.4"/>
<path d="M324.7 39.2h1M318.8 43.9h1M338.5 33.9h1M334.2 40.3h1M334.1 34.8h1M332.1 43.3h1M333 37.3h1M327.5 36.3h1M341.5 36.4h1M329.6 40.5h1M324.3 38.3h1M334.5 42.5h1M327.2 39.1h1M335.8 34.2h1M338.1 33.9h1M331.9 36h1M337.3 36.9h1M343.1 40.5h1M318.2 39.4h1M335.2 36.9h1M327 43.1h1M336.5 37.1h1M334.6 38.5h1M327.8 44.7h1M338.3 40.7h1M334.1 40.3h1M328.1 37.2h1M334.1 34.9h1M341.4 40.4h1M325.7 39.7h1M332.4 39.9h1M335.6 34h1M330.2 44.5h1M337.8 36.9h1M324.5 47.7h1M330.9 40.1h1M339 36.8h1M336.4 30.4h1M334.6 32.2h1M338.7 31.8h1M333.5 43.7h1M326.8 42.1h1M329.8 37.7h1M329 37.5h1M340.6 37.6h1M327.7 39.8h1M332.6 36.2h1M330.4 40.2h1M338 39h1M339.3 37.3h1M337.9 40.1h1M332.5 35.8h1M326.8 41.6h1M322.8 39.9h1M324.8 43.3h1M335 39.3h1M335.2 39.3h1M331.2 42.5h1M322.4 39.7h1M327.9 42.5h1M322.2 40.6h1M336 41.7h1M338.3 38.8h1M337.2 34.5h1M334.5 41.2h1M333.3 39.5h1M338.6 41.4h1M322.3 40.2h1M336.8 38h1M327.9 39.5h1M330.6 42.1h1M329.8 38.9h1M328.8 37h1M333.9 34.6h1M334.8 38.2h1M341.7 37.1h1M332.4 40.2h1M329.5 40.7h1M324.9 40.4h1M333 39.4h1M336.3 35.6h1M339.4 43.5h1M338.9 36.2h1M334.6 34.7h1M335.4 37.2h1M339.2 32.8h1M343.1 34.6h1M329.8 37.7h1M331.2 39.3h1M313.7 41.9h1M337.4 38.4h1M338.1 34.9h1M342.1 33.1h1M330.8 38.3h1M323.5 36.1h1M334.1 34h1M331.9 37.8h1M330.8 33.3h1M330.8 42.9h1M338 40.2h1M341.1 33.9h1M330.9 41.4h1M338.2 39.8h1M338.1 38.7h1M322.2 38.5h1M336 37h1M325.3 38.1h1M334.1 37.3h1M321.3 37.3h1M332.9 39.2h1M332.5 34.6h1M341 35.4h1M326.7 34.5h1M334.9 37.5h1M318.3 35.2h1M324.9 43.8h1M324.7 41.1h1M333.3 41.3h1M334.8 36.7h1M324.3 41.5h1M338.1 39.9h1M335.5 32.2h1M328.4 41.2h1M330.2 36.7h1M331.5 39.3h1M328.5 39.5h1M321.9 46.4h1M334.1 36.5h1M334 43.5h1M320.6 42.3h1M328.6 38.7h1M326.8 40.6h1M335 36.8h1M326.1 40.4h1M325.5 39.7h1M326.7 36.8h1M335.5 47.7h1M339.2 34.5h1M340.2 36.1h1" stroke="#000" stroke-width="1" stroke-opacity="0.45"/>
<path d="M327.5 47.4h1M323.3 40.3h1M313.8 42.8h1M339 46.4h1M338.7 34.4h1M337.1 45.1h1M323.9 38.1h1M328.7 32.1h1M318.8 52.8h1M319.5 40.7h1M316.1 52.4h1M340.5 44.2h1M323.5 46.5h1M320.8 46.5h1M342.4 53.8h1M340.5 42.2h1M336.3 53.5h1M318.8 45.2h1M327.2 36h1M339.4 48.9h1M314.1 40h1M343.8 30.8h1M342 53.3h1M338 46.6h1M340.5 34.9h1M328.4 33.4h1M325 43.7h1M338 41.2h1M320 51.1h1M315 31.2h1M318.1 44.6h1M319 47.6h1M341 48.9h1M328.8 34.5h1M330.4 35.3h1M313.5 53.1h1M320.1 43.7h1M314.6 47.8h1M337.7 36.8h1M332.5 51.5h1" stroke="#000" stroke-width="1" stroke-opacity="0.4"/>
<path d="M395,81 L395,64 Q397,61.5 404,61.5 Q411,61.5 412.5,64 L413.5,81 Z" fill="#3a3a3a" fill-opacity="0.6" filter="url(#bl)"/>
<ellipse cx="440.5" cy="45.5" rx="9.5" ry="5.0" transform="rotate(-28 440.5 45.5)" fill="#3a3a3a" fill-opacity="0.7" filter="url(#bl)"/>
<path d="M399.2 75.2h1M409.7 80.4h1M398.5 63.4h1M397 66.8h1M395.3 78.5h1M409 79.2h1M397 68.5h1M402.7 80.2h1M410.9 71.5h1M406.8 76.3h1M414.3 72.5h1M400.5 75h1M400.1 75.7h1M405.2 80.3h1M403.1 74.2h1M397.9 63.5h1M407.4 63.7h1M407.3 73.6h1M397.8 76.7h1M412.7 71h1M416.2 71.8h1M409.4 65.9h1M398 72.8h1M404.4 63.2h1M409.4 66.7h1M409.8 74.5h1M397.7 70.7h1M412.5 78.9h1M402.8 69.3h1M414.3 78.1h1M406.7 78.5h1M411.5 77.1h1M407.3 77.3h1M412 66.1h1M395.5 65.4h1M409.9 78.2h1M408.1 70.5h1M396 71h1M403.9 71.6h1M405.5 74h1M407.1 78.4h1M410.9 66h1M411.4 75.7h1M400.8 75.7h1M406.6 64.8h1M413.2 66.5h1M409.9 64.6h1M399.5 71.3h1M415.2 74.7h1M413.8 74h1M408.4 68.5h1M410.1 65.4h1M401.1 75.8h1M409.8 65.2h1M404.2 73h1M413.5 79.1h1M402.4 70.3h1M401.4 69.4h1M407.7 79.2h1M415.4 68.4h1M400.4 69.6h1M395.8 78.4h1M409.7 76.8h1M407.5 64.7h1M399.8 80.3h1M406.1 77.5h1M412.1 71h1M412.5 78.3h1M407.9 69.9h1M402.3 76.8h1M400.5 74.2h1M412.2 65.3h1M405.9 76.5h1M406.5 79.1h1M417.1 67.1h1M395.8 64.4h1M405.4 66.2h1M403.5 69.2h1M404.2 62h1M405.4 72.7h1M404.7 71.4h1M406.8 71.3h1M405.6 79.5h1M414.7 65.2h1M396.3 70.8h1M402.4 76.7h1M402.8 77.1h1M410.4 69.6h1M417.6 64.5h1M407.6 71.7h1M414.3 77.8h1M403.9 62.9h1M406.2 74.7h1M403.6 76.7h1M409.6 63.7h1M407.5 68.9h1M403.4 79.9h1M398.5 78.3h1M399.5 67.4h1M403.9 76.9h1M418.6 65.7h1M410.6 72.1h1M403.9 74.6h1M399.8 76.3h1M406.9 70.7h1M406.6 67.2h1M397.5 74.1h1M411.6 79.1h1M400.5 64.7h1M408.3 75.3h1M411.9 80.5h1M410.7 65.9h1M404 77.2h1M404.1 72.6h1M398.3 79h1M399.5 76.4h1M401.3 67.9h1M405.2 80.2h1M394.7 79.3h1M402.9 71.6h1M401.6 63.5h1M401.2 70.7h1M402.2 67.4h1M405.8 66.3h1M395.8 80h1M406.2 62.9h1M404.8 70.9h1M394.8 79.9h1M403 68.3h1M398.4 78.3h1M406.3 66.3h1M403.2 67.7h1M399.9 78.4h1M415.5 76h1M403.8 72.7h1M397.1 71.7h1M399.9 74.3h1M409.2 79.4h1M402.7 66h1M397.4 65h1M408.6 75.3h1M410.5 73.7h1M408.2 72.4h1M411.6 75.6h1M405 77.9h1M404.8 73.2h1M409.4 79.6h1M405.8 70.3h1M412.3 72.9h1M403.9 76.3h1M412.1 72.3h1M414.6 78.1h1M404.2 77.5h1M399.5 63.7h1M397.8 69.8h1M406.4 65h1M413.3 67.1h1M401.6 73.4h1M401.2 72.9h1M402 75.7h1M402.9 75.8h1M397.4 66.4h1M408.5 75.1h1M412 75.7h1M401.7 65.6h1M402.4 80.4h1M401.9 78.2h1M412.1 72.2h1M408.7 70.6h1M415.7 67.9h1M398.3 74.9h1M405.4 67.2h1M409 72.6h1M396.5 66.3h1M411.9 77.4h1M402.8 79.7h1M398.9 66.4h1M409.5 71.4h1M409.5 77.2h1M406.5 72.7h1M412.2 63.5h1M404.2 75.5h1M400.3 73.8h1M397.9 78.4h1M413.8 77.9h1M401.2 76.8h1M405.2 65.5h1M406.9 76.3h1M400.4 70.3h1M401.1 79.3h1M408.7 63.2h1M396.4 76.3h1M404.6 69.6h1M399.5 66.4h1M396 70.5h1M410.2 67.9h1M401.2 74.3h1M394.5 74.3h1M412.2 77.4h1M407.6 66.8h1M403.9 70.5h1M396 73.2h1M416.3 77.3h1M395.2 69.5h1M410 70.2h1M396 69.7h1M399.6 65.4h1M407.7 71.1h1M396.7 79.8h1M403.2 67h1M405.8 71.9h1M396.2 78.3h1M400.3 66h1M407.6 66.5h1M407.4 71.4h1M410.4 79.2h1M394.9 74.4h1M411.6 62.3h1M402.2 70.6h1M400.1 71.4h1M405.1 77h1M411.6 61.5h1M402.3 72.7h1M407.7 74.6h1M399.9 66.1h1M406 69.3h1M406.5 73.7h1M401.3 71.7h1M401.1 79.3h1M401.4 64.4h1M415.3 72h1M408.1 78.9h1M410.4 65.1h1M396.9 75h1M395.1 68.7h1M402.7 73.2h1M410.1 64.5h1M416.1 62.4h1M401.8 66.4h1M415.1 69.2h1M415.3 70h1M397 78.6h1M413.1 75.2h1M409.6 74.6h1M408 68.4h1M396.6 67.9h1M402.6 63.6h1M413.5 69.7h1M406.5 75.9h1M397 72.8h1M395.7 74.1h1M398.5 76.5h1M406 70.8h1M408.6 76h1M405.7 67.5h1M396.6 65.1h1M394.5 63h1M412.6 69.6h1M402.3 70h1M400 80h1M399.9 73.7h1M402.4 77.6h1M408 62h1M399.3 65.8h1M407.9 71.9h1M411.3 73.9h1M400.4 73.4h1M410.8 78.5h1M419 78.3h1M399.4 67.6h1M406.4 79.7h1M407.5 64.9h1M402.5 74h1M402.7 77.6h1M404 80.5h1M402.4 67.2h1M412.7 77.6h1M403.6 77h1M415.9 76.5h1M405.4 62.3h1M405.7 78.7h1M401.8 74.4h1M404.6 68h1M400.4 66.2h1M411.6 68.8h1M408.2 69.4h1M409.1 78.4h1M415.4 76.2h1M398.4 72h1M408.4 75.9h1M405 69.4h1M408.1 71.1h1M409.1 72h1M399.6 67.2h1M398.9 74.5h1M399.9 74.1h1M406.4 69.5h1M408.7 78.9h1M400.9 69.6h1M398.8 67.1h1M403.4 77h1M400.5 66.1h1M402.3 70.1h1M409.1 69.7h1M410.8 74h1M402.4 64.2h1M402.2 67h1M407.7 70h1M397.8 69.8h1M411.7 70.9h1M410.8 70.8h1M395.3 67.1h1M399.2 75.3h1M407.7 63.5h1M408.3 62.5h1M399.3 73.7h1M399.3 75.9h1M396.1 77.6h1M399.2 64h1M396.7 73.8h1M410.2 76.9h1M414.4 67.1h1M407.8 72.1h1M403.8 75.9h1M398.7 79h1M415.9 75.1h1M403.9 78.5h1M412.3 69.3h1M413.2 68h1M401.4 79h1M419.1 67.6h1M409.7 72.8h1M396.2 71.1h1M398.6 64.3h1M405.4 79.7h1M398.7 69.6h1M410 65.1h1M398.5 70.3h1M405.7 73.2h1M410.5 74.9h1M405.7 71.2h1M407.2 68.4h1M408.6 78.8h1M396.9 66.3h1M408.3 76.3h1M396.6 67.1h1M396.5 78.5h1M403.7 74.1h1M414.1 68h1M408 78.8h1M402.4 80.7h1M398.4 71.5h1M403.7 68.1h1M395 72.5h1M399.3 66.4h1M412.3 62.1h1M395 77h1M403.6 65.9h1M412.3 64.1h1M402.5 71.6h1M411.3 78.6h1M403.8 65.1h1M412.3 67.6h1M406.7 67.5h1M410 68.8h1M406.3 75.4h1M402.6 62.5h1M414.2 74.5h1M404.4 70.3h1M405.4 63.5h1M398 65h1M409.2 72h1M401.4 68.9h1M408.8 76.4h1M399.9 68.4h1M406.2 74.6h1M407.3 66.3h1M400.8 64.2h1M411.3 69.5h1M412.5 75h1M408.7 80.3h1M402.2 72.6h1M395.8 73.8h1M406.2 62.8h1M403.5 64.5h1M398.6 74.4h1M397.8 78.4h1M412.5 67.7h1M399.5 70.6h1M402.9 62.3h1M407.6 72.3h1M402.7 77.1h1M419.4 68.2h1M404.8 74.8h1M410 65.5h1M396.6 77.1h1M399.1 71.3h1M397.9 64.2h1M404.3 74.3h1M414.8 69h1M400.4 70.8h1M403.3 64.7h1M405.9 71h1M407.6 74h1M408.1 78h1M406.9 66.6h1M404.8 77.2h1M409.7 72.1h1M409 73.1h1M396.4 77.5h1M397.5 74.7h1M408.2 73.7h1M406.1 79.4h1M395.8 79.9h1M415 73.7h1M394.7 71.3h1M397.5 64.5h1M410.3 78.3h1M398.7 71.3h1M400.4 73.8h1M413.6 71.8h1M402.4 76.5h1M396.7 69h1M409.1 61.5h1M407 78.4h1M408.3 78.2h1M394.7 62.7h1M399.2 77.4h1M405.5 70.6h1M409.8 66h1M396 71.4h1M406 71.5h1M396.4 67.6h1M395 65.9h1M409.3 73.5h1M395 70.8h1M409.4 76.1h1M417.3 69.8h1M406.8 62h1M408.3 73.7h1M408 73.9h1M412.8 64.9h1M396.4 75.3h1M408.8 79.2h1M402.3 74h1M411.6 72.2h1M398.1 72.6h1M409 75h1M400.9 65.1h1M404.8 70.7h1M410.5 77.2h1M401.8 75.4h1M408.8 74.2h1M398.1 66.4h1M401.7 70.1h1M408.8 70.9h1M403.4 78h1M401.4 77h1M402.8 70.8h1M418.6 74.8h1M405.3 62.3h1M398.3 65.8h1M402 66h1M399.9 71.2h1M414.9 74h1M398.8 66.6h1M398.5 78.7h1M396.4 71.8h1M407.5 72.5h1M411.9 80.3h1M398.5 72.9h1M395.4 79.5h1M401 80.2h1M404.8 65.2h1M415.6 72.4h1M410.7 62.9h1M411.9 75.1h1M417.2 71.9h1M399.5 79.5h1M400.5 74h1M410.5 74.5h1M407.4 75.4h1M401.3 75.6h1M399 79.9h1M401.3 65h1M413.2 68.4h1M395.9 67.4h1M404.1 71h1M402.5 67.8h1M402.1 69.2h1M404.3 64.3h1M397.4 72.5h1M413.8 73.9h1M415.5 65h1M410.8 67.6h1M403.8 70.4h1M400.2 80h1M412.5 66h1M399.5 79h1M398.9 80.2h1M411.7 68.2h1M400.4 65.1h1M404.1 78.1h1M411.5 76.8h1M405.5 67.6h1M414.1 75.2h1M399.9 74.4h1M411.4 75.3h1M410.3 63h1M398.7 66.2h1M410.7 76.6h1M395.5 74.6h1M404.5 68.4h1M406.9 66.9h1M397.7 77.6h1M413.4 72.6h1M403.1 68.2h1M401.7 66.1h1M408.4 77.9h1M404.7 67.2h1M399 69.1h1M409.8 63.7h1M398.5 79.4h1M403.9 77.2h1M414.4 70.7h1M395.1 75.5h1M404 69.7h1M403.1 62.5h1M406.2 68.3h1M405.6 61.4h1M408.9 76.4h1M399.6 78.7h1M396.6 66.6h1M404 65.3h1M399 79h1M407.7 76.8h1M402.1 67.7h1M396.7 77.8h1M404.4 67h1M411.6 70h1M406.1 70h1M395 73.6h1M405.6 75.3h1M414.1 77.3h1M413.7 72.3h1M408.1 78.8h1M400.5 66.4h1M406.6 73.9h1M397.3 79.5h1M399 70.6h1M403.8 70.6h1M412.3 68.6h1M405.4 66.2h1M404.9 69.4h1M410.3 63.7h1M397.4 68.8h1M400.3 77.5h1M414.1 70.3h1M414.8 80.4h1M405.8 64.6h1M394.9 74.3h1M411.3 74.9h1M411.7 72.4h1M406.9 65.8h1M399.5 71.9h1M405.3 68.1h1M403.3 78.2h1M395 66.8h1M402.8 78.8h1M403.4 68.2h1M402.4 74.5h1M412.7 67.1h1M405.3 72.3h1M412 68.8h1M407.3 74.4h1M405.2 74h1M406.5 65.9h1M399.4 72.1h1M406.8 63.1h1M399.6 69.5h1M394.7 66.2h1M412.3 72.5h1M410.2 71.7h1M406.8 74h1M411.6 69.1h1M414.1 73.8h1M409.8 76.5h1M405.4 79.4h1M405.7 79h1M406.8 73.2h1M403.7 78.1h1M414.6 67.6h1M414.8 64.1h1M404.5 78.7h1M405.9 67.3h1M397.1 77.9h1M415.2 64.7h1M410.4 71.5h1M418.2 77.2h1M404.9 75.3h1M413.2 73.3h1M409.7 73.6h1M399.2 78.9h1M416.2 66.2h1M396.8 69.2h1M403.6 73.6h1M404 69.2h1M400.2 74.7h1M399.2 76.5h1M414.6 72h1M413.6 69.7h1M396.7 73.2h1M407.7 74h1M414.3 64.6h1M405 71.8h1M404.9 76.7h1M414 68.9h1M407.4 71.6h1M398 68.1h1M414.5 70.4h1M401 67.5h1M412.5 78h1M406.6 79.3h1M399.8 77.9h1M406 65.3h1M409.5 64.4h1M400.7 67.4h1M396.9 76.3h1M398.4 71.7h1M398.6 71.5h1M401.4 74.6h1M394.9 73.8h1M405.3 72.2h1M407.6 75.1h1M400.6 68.8h1M409.8 70.8h1M414.5 62.1h1M400.7 71h1M405.9 66.2h1M407 69.9h1M401.9 64.9h1M407.9 66.9h1M406.8 69.2h1M412.2 80.2h1M412 73.2h1M401.7 68.3h1M398.1 72.3h1M397.7 62.2h1M409.4 63.4h1M403.4 65.2h1M401.2 77.3h1M405.2 73.6h1M409.6 75.5h1M402.8 71.6h1M402.8 70.5h1M398.4 62.8h1M411.9 65.9h1M398.8 73.9h1M395.5 75.2h1M417.4 61.3h1M409.8 65.7h1M400.1 66.9h1M406.7 66.7h1M395.7 73.3h1M410.1 75.6h1M404.8 63.6h1M413.1 66.5h1M412.3 61.7h1M417.1 76.9h1M404.9 66.3h1M414.8 73h1M400.6 67.6h1M410.3 69.9h1M408.3 63.4h1M397.2 72.4h1M399.9 73.8h1M406.5 68.8h1M410.3 68.8h1M397.8 62.7h1M405.6 65.6h1M421.1 74.5h1M412 76.4h1M404.9 63.4h1M406.6 68.9h1M413.2 64.2h1M404.2 65.5h1M405.2 66.8h1M407.5 70.2h1M401 74h1M407.7 76.9h1M396.4 63.5h1M414 75.4h1M401.3 67.9h1M407.5 75.6h1M404.5 68.5h1M404.2 79.2h1M407.3 71.7h1M412.5 75.8h1M404.7 65.4h1M409.3 69.1h1M419 78.3h1M403.9 64.9h1M396 75.9h1M410.4 62.9h1M406.5 63.4h1M395.2 71.5h1M408.3 66.1h1M400.6 72.2h1M403.3 79.5h1M409.6 78.6h1M401.8 62.2h1M404.3 67.3h1M401 70.8h1M406.8 75.8h1M413.3 73.4h1M402.5 73.2h1M410.5 72.4h1M402.3 72.2h1M396.8 67.9h1M398.6 70.2h1M402 75.6h1M408.5 68.5h1M415.9 62.4h1M395.8 71h1M403.2 71.8h1M409.9 66.5h1M402.2 68.4h1M403.4 77.4h1M395.6 62.6h1M396.3 77.7h1M399.7 67.5h1M413.3 62.7h1M400.6 78.9h1M410.3 76h1M406.6 77.6h1M403.4 75.1h1M403.5 66.6h1M403 72.2h1M403.2 69.5h1M410.8 70.2h1M406.6 66.4h1M408.4 72h1M405 80.3h1M400.1 64.9h1M395.5 78.2h1M409.8 69.5h1M410.5 71.9h1M415.7 68.3h1M400.1 65.1h1M410.5 75.6h1M399.2 64.3h1M410.2 80.8h1M401.8 78.1h1M399.2 74.4h1M410 75h1M400.9 66.9h1M394.5 68.7h1M402.7 66.8h1M406.8 66.8h1M399.5 78.6h1M408.1 65.4h1M415.9 69.7h1M397.2 72.6h1M415.4 66.2h1M400.4 63.8h1M395.8 73.6h1M403.2 77.3h1M409.7 73.6h1M403.8 74.6h1M414.1 75.5h1M407.8 68.4h1M396.3 79.6h1M404.8 65.6h1M404.5 63h1M398.8 71h1M401.1 77.5h1M412.1 79.4h1M398.6 76.7h1M406.9 64.2h1M414.5 70h1M405.9 71.7h1M404.1 74.1h1M410.6 65.8h1M405.2 66.1h1M396.5 74.5h1M399.5 69.7h1M407.3 68h1M402.4 73.5h1M399.2 77.9h1M400.5 70.8h1M394.9 75.1h1M411.5 64.3h1M410.8 67.6h1M397.4 69.5h1M413.6 75.1h1M408 64.3h1M403.2 62.9h1M415.8 64.1h1M401.7 75.9h1M413.1 79.4h1M414.5 67.7h1M402.1 78.4h1M406.7 73.4h1M399.9 69.2h1M407.9 71.4h1M401.9 64.8h1M410.9 65h1M414.3 75h1M403.3 66.9h1M395.4 77.3h1M401 71.2h1M410.6 78.7h1M404 62.3h1M402.9 80.5h1M418.3 63.1h1M412.7 68h1M399.4 76h1M400.2 72.7h1M397.3 62.8h1M397.2 64.2h1M409.9 70.1h1M409.1 72.8h1M411.8 66h1M400.1 73.2h1M401.2 63.2h1M403.8 73.5h1M399.8 70.8h1M408.1 64.4h1M399.1 69.4h1M396.5 76.3h1M407.4 63.9h1M413.8 75.5h1M400.1 72.8h1M406.2 64.6h1M397.6 71.5h1M401.4 79.9h1M404.2 69.8h1M404.1 72.2h1M396.4 73.7h1M410.4 79.5h1M394.4 69.6h1M394.6 66.3h1M412.4 68.3h1M406.8 67.1h1M402.6 67.6h1M416.1 80.4h1M407.7 78.2h1M402.4 74.1h1M398.2 72.3h1M404 64.5h1M409.3 69h1M412.6 79.7h1M403.8 73.8h1M395.9 65.1h1M395.5 62h1M407.1 72.6h1M402.2 65.9h1M415.2 66h1M397.2 77h1M411.7 70.4h1M397.4 66.8h1M396.5 76.4h1M398.2 74.4h1M400 78.2h1M402.9 71.2h1M396.3 76.9h1M416.4 62.2h1M401.9 75.7h1M405.9 73.2h1M401 69.7h1M406.1 74.1h1M401.9 68.3h1M404.7 73.4h1M418.7 69.5h1M410.4 74.2h1M406 66.1h1M405.5 78.7h1M398 74.4h1M408.7 65.9h1M406.1 73.9h1M406.9 78.5h1M397.6 78.7h1M406.8 78.3h1M406.8 69.5h1M407.3 77.8h1M408.4 74.1h1M405.2 77h1M415.4 74.9h1M409.3 67.4h1M406.3 68.1h1M411.9 72.2h1M402.7 71.9h1M400.6 67.9h1M399.9 79.5h1M406.8 68.8h1M395.8 72.7h1M403.6 80.6h1M406.5 67.8h1M400.8 67.2h1M405 71.1h1M409.1 67.4h1M409.1 77.1h1M408.7 74.4h1M398.9 63.2h1M404.4 63.5h1M397 65.9h1M395 65.1h1M408.3 67.4h1M397.1 72.6h1M405.4 74.7h1M413.6 70h1M404 68.5h1M410.4 71.9h1M399.1 64.9h1M405.4 61.8h1M412.5 71.3h1M405 75.3h1M397 65h1M406.6 70.9h1M396.7 66.7h1M395.4 77h1M404.9 68.3h1M411.8 75.5h1M414.5 68.2h1M402.5 73.2h1M395.5 68.2h1M408.1 74.5h1M411.4 73.9h1M407.1 71.2h1M409.5 67.2h1M396 73.7h1M404.8 66.5h1M410.6 68.4h1M410.3 75.3h1M401.2 68.8h1M404.4 67h1M402.4 64h1M409.6 75.2h1M408.6 63.9h1M399.8 62.2h1M401.6 80.5h1M410.7 70.6h1M405 75.8h1M409.1 77.7h1M400.6 74.7h1M407.9 73h1M408.6 61.4h1M401.8 71.1h1M402.6 75.9h1M404.6 79.8h1M410 74h1M404.6 75.7h1M413.5 75.8h1M407.4 76.2h1M410.2 75.4h1M403.6 70.7h1M399.5 80.7h1M401.8 69.2h1M403.7 66.2h1M403.8 64.7h1M414.9 74.5h1M400 63.3h1M411.1 68.4h1M406.8 77.7h1M395.3 72.7h1M398 80.1h1M402.2 64.9h1M414.3 79.5h1M398.9 76.9h1M400.9 72.6h1M404.1 75h1M394.9 69.5h1M400.8 67.5h1M404.9 78.1h1M402.3 74.7h1M412.6 71.4h1M398.8 73.7h1M398.9 76.6h1M401.7 70.2h1M413.2 80.3h1M406.7 70.7h1M398.2 69.7h1M410.2 78.8h1M416.6 69.9h1M395.1 68.3h1M409.5 77.9h1M405.3 74.7h1M399.1 71.7h1M398.2 75.7h1M402.9 77.6h1M400.1 71.6h1M400.4 77.3h1M410.5 69.2h1M418.1 67h1M397.3 66.6h1M413.3 67.6h1M401 79.7h1M400.4 72.1h1M410 64.9h1M395.8 70.6h1M404.3 65.8h1M400.3 64.9h1M410.9 79h1M402 74.8h1M405 63.2h1M411.4 75.6h1M395.3 75.3h1M396.7 67.7h1M410.1 79.7h1M405.5 75.7h1M409.9 67.2h1M410.6 68.8h1M413.6 70.1h1M398.3 76.8h1M406.6 69.4h1M405.2 70.4h1M410.8 66.7h1M410.9 75.2h1M397.5 74.4h1M407.1 74.4h1M409.2 67.5h1M409.4 71.7h1M399.6 78.1h1M404.7 78.3h1M407.9 72.4h1M399.1 65.6h1M414 71.1h1M411.7 69.1h1M410.5 75.7h1M406.2 76.3h1M401.1 73.8h1M399.6 65.8h1M396.7 65.1h1M414.3 80.2h1M406 63.3h1M399.7 78.1h1M394.7 67.6h1M413.5 80.1h1M412.4 63.1h1M420.2 69.8h1M394.3 76h1M403.2 72.2h1M409.3 75.5h1M408.6 72.6h1M405 72.2h1M415.6 65.4h1M396.8 74h1M407 75.6h1M401.4 63.5h1M408.3 64.6h1M401 75.4h1M404.5 76.8h1M400.9 67.5h1M404.1 75.5h1M394.4 77h1M405.5 70.8h1M418.7 62.9h1M402.6 80h1M399.8 78.8h1M408.2 76.2h1M413.9 80.4h1M409.8 69h1M409.9 72.3h1M401 77h1M398.3 72h1M398 76.5h1M407.4 67.3h1M412 69.9h1M405.4 79.5h1M405.2 72.9h1M414.6 68.7h1M404.8 71h1M396.8 63h1M394.3 68.4h1M407.9 70.8h1M400.9 66.2h1M395.6 79.2h1M406.3 77.1h1M399.8 77.6h1M409.7 64.8h1M410.9 65.8h1M408 73.9h1M407.7 62.1h1M416.3 77h1M406.9 75.9h1M412.5 72.9h1M415 64.8h1M410.6 71.2h1M406.7 70h1M405.3 65.6h1M407.7 74.1h1M404.4 69.1h1M402.4 63.4h1M405.2 77.5h1M405.5 69.2h1M401.3 75.7h1M401.9 75.4h1M406.5 75.6h1M404.4 74.4h1M399.9 68.7h1M400.8 62.8h1M399.5 72.1h1M402 74h1M398.5 80.4h1M416.9 72h1M411.6 71.6h1M412.1 71.3h1M407.8 67h1M409.9 73.8h1M408.1 74.9h1M395.9 78.3h1M411.8 66.6h1M404.7 68.4h1M398.5 73.9h1M398.9 77.9h1M403.7 67.6h1M402.3 72.8h1M408.8 72.1h1M413.6 78.7h1M403.4 72.4h1M413.9 74.2h1M410.6 71.1h1M403.6 70.2h1M402.5 74.9h1M401.4 79.4h1M400.9 68.4h1M409.1 66.8h1M399.4 68.9h1M398.1 71.1h1M398.8 77.6h1M394.5 71.6h1M409.3 70.6h1M399.8 69.5h1M406.3 62.8h1M396.5 75.2h1M409 66.3h1M405.3 63.8h1M395.7 69.1h1M409.4 62.4h1M409.4 61.5h1M401.7 76.4h1M403.7 72.1h1M402.1 80.4h1M407.9 66.9h1M408.8 66.9h1M399.7 78.6h1M408.5 71h1M402.9 77.1h1M413.8 74.8h1M402.4 71.9h1M395.3 77.9h1M409.7 68.4h1M398.7 70.9h1M411.2 70.9h1M414.1 73.9h1M394.3 75.4h1M406.9 77.8h1M407.4 64.9h1M413.5 76.2h1M406.2 76.6h1M400.2 74.1h1M400.8 71.5h1M408.9 78.4h1M400 71h1M400.3 73.2h1M398.7 63.7h1M408.9 62.1h1M404.9 66h1M406.7 73.4h1M406.4 65.7h1M408.3 64.7h1M418.6 67.8h1M405.3 68.4h1M402.8 75.9h1M408.3 70.3h1M400.2 79.4h1M405.9 73.8h1M417.8 74.7h1M402.9 68.4h1M405.5 75.6h1M399 64.7h1M400.6 70.7h1M397.4 64.3h1M399.8 71.3h1M408.8 66.1h1M409.3 78.5h1M404.4 74.5h1M416.4 80.6h1M418.9 66.5h1M409.4 61.4h1M405.9 62.5h1M407.8 72.4h1M410.3 75.5h1M403.7 70.4h1M404.8 67.9h1M399.4 63.2h1M411.9 78.5h1M403.3 66.2h1M409.1 61.6h1M398.4 74.9h1M394.7 71.4h1M399.5 72.5h1M417.3 66.6h1M395.1 71.8h1M412.9 68.9h1M406.7 73.7h1M402.2 66h1M415.9 61.7h1M407.9 72.9h1M395.2 70.8h1M412.1 78.9h1M396.3 77.9h1M406.2 64.4h1M395.7 68.4h1M414.5 64.7h1M405 75h1M395.4 73.6h1M403.5 72.9h1M398.6 64h1M408.3 79.8h1M410.5 73.6h1M401.8 69.9h1M401.4 62.2h1M399.3 71.8h1M404.1 68.2h1M401.8 63.4h1M409.6 69.7h1M409.5 69.2h1M405.9 65.1h1M403.4 79.4h1M411 77h1M410.7 71.9h1M398.4 70.2h1M412.2 69.2h1M405.1 71.8h1M404.3 69.1h1M398.1 63.2h1M413.3 79.6h1M400 77.6h1M403 63.4h1M409.9 69.2h1M406.8 73.3h1M415.9 80h1M408.9 79.7h1M411.6 67.3h1M401 71.4h1M410.6 70.1h1M406.5 70.4h1M399.4 74.8h1M404.8 79.6h1M405.8 75.5h1M410.1 80.1h1M402.2 74h1M406.6 71.1h1M398.5 63.8h1M404.2 62.6h1M411.6 65.3h1M416.8 70.4h1M408.5 78h1M398.3 80.6h1M410.8 65.3h1M405.5 67.3h1M403.3 72.6h1M400.7 80.5h1M406.2 67.5h1M401.7 68.8h1M413.2 68.3h1M412 73.1h1M397.2 77.8h1M401.4 72.8h1M409.7 69.3h1M399.5 68.1h1M412 74.1h1M409 72.8h1M414.9 68.5h1M394.6 62.7h1M399.6 70.4h1M410.6 69.8h1M407.7 75.9h1M410.6 70.7h1M414 68.9h1M396.2 68.2h1M406.2 76.8h1M402.2 78.1h1M406.8 74h1M407.9 70.5h1M398.5 75.7h1M405.7 74.9h1M406.4 78.8h1M415.9 71.8h1M409.2 74.7h1M399.7 77.1h1M398.2 72.7h1M404 68.8h1M406.1 73.7h1M416 67.2h1M400.1 75.3h1M407.7 76.3h1M406 78.3h1M413.3 74.8h1M397.6 79h1M410.8 77.5h1M415 72.2h1M400.2 79.6h1M398.2 71.6h1M410.9 77.5h1M397.8 69.5h1M402.3 78.2h1M398.7 71.4h1M403 71.2h1M398.4 71.3h1M408.2 65h1M411.6 63.2h1M404.9 69.5h1M413.8 75.2h1M404.2 80.1h1M400.1 77.9h1M407.1 70.5h1M402 70.2h1M396.3 62.1h1M410.2 71.9h1M404.3 77.5h1M400.8 79.1h1M398.4 72.7h1M410.6 80h1M414 70.3h1M411.6 76.2h1M403 67.6h1M408 69.6h1M401.8 75.6h1M412.7 79.7h1M408.5 65.8h1M409.6 75.2h1M414 62.5h1M409.2 77.2h1M399 78.1h1M411 73.6h1M399.5 61.4h1M398.7 69.9h1M398.7 62.9h1M411.6 67.8h1M398.1 78.2h1M401 66.6h1M407.2 73.2h1M399.5 62.9h1M395.3 78.5h1M398 64.7h1M415.7 72.7h1M420.6 70.3h1M401.4 66.3h1M408.5 72.7h1M409.1 65.5h1M401.1 74h1M405.9 71h1M414.8 67.9h1M395.8 73.1h1M396.8 79.5h1M404.7 72.7h1M401.5 70h1M395.5 79h1M411.8 66.8h1M407.5 73.3h1M412.6 68.9h1M408.1 74.8h1M409.9 68.5h1M400 72.5h1M399.7 75.1h1M409.3 73.1h1M404.9 79h1M399.7 76.8h1M399.6 73.7h1M394.9 62.9h1M400.7 78.9h1M406.8 67h1M414.3 67.8h1M410.7 65.2h1M404.8 64.3h1M397.1 78.8h1M398.1 69.5h1M409.2 76.8h1M412.6 63.5h1M397.3 70.2h1M406.3 62h1M400.4 67h1M404.3 79.7h1M398 71.6h1M411.7 76.3h1M402.9 72.4h1M409.7 69.4h1M413.5 76.9h1M400.8 66.4h1M407.5 74.8h1M405.3 70.4h1M405.5 62.3h1M407.8 66.2h1M398.5 69.6h1M400.7 69.1h1M413.4 71.5h1M418 77.4h1M405.9 77.9h1M399.6 75.4h1M410.6 74.2h1M410.2 71.1h1M396.8 68.8h1M419.4 78.1h1M395.1 69.6h1M400.2 74.4h1M413.8 78h1M410.8 76.6h1M411.9 77.5h1M400.5 63h1M410.7 75h1M400.1 70.8h1M401.3 76.8h1M417 67.4h1M402.4 67.8h1M408.2 67.8h1M403.8 67.4h1M397.8 66.4h1M416.7 75.6h1M411.5 69.6h1M398.6 75.8h1M412.7 72h1M412.9 69.3h1M415.6 72.8h1M411.4 67.7h1M397 67h1M414.2 76h1M406.1 76.6h1M411.4 69.7h1M410 74.3h1M406.7 72.1h1M403.9 72.5h1M415.9 71.4h1M398.8 73.3h1M408.8 73.3h1M405.8 65h1M401.2 74.8h1M401.9 65h1M401.8 67.7h1M398.9 78.1h1M410.7 61.6h1M407.7 72.8h1M406.8 62.6h1M398.3 67.8h1M413.9 80.5h1M415.4 74.9h1M396.9 75.7h1M413.8 67h1M406.6 62.7h1M401.2 63.6h1M395.3 78.6h1M402.1 79.4h1M399.1 72.8h1M419.1 74.4h1M400.6 64.3h1M398.6 66.6h1M405.1 69.4h1M402.1 74.9h1M411.6 65h1M404.7 77.8h1M398.4 75.9h1M399.2 78h1M414.2 65.2h1M406.4 77.3h1M398.3 74.6h1M404.1 75.6h1M394.5 70.1h1M395.9 68.4h1M395.4 73.2h1M403.1 73.6h1M400.4 72.1h1M404.3 70.8h1M396.5 69.8h1M408.6 65.5h1M405 72.9h1M400.5 75.8h1M408.2 78.3h1M411.6 74.2h1M411.9 72.2h1M409.4 73.4h1M405 66.4h1M400.5 79.6h1M406 75.4h1M416.5 74.9h1M402.9 66.4h1M407.2 63.1h1M403 66.5h1M394.4 76.3h1M408.3 67.7h1M417.4 63.9h1M416.3 63.7h1M394.4 68.1h1M402.6 73.6h1M395.9 76.3h1M399.5 72.6h1M418.6 68.8h1M408.3 62.9h1M410.3 75.6h1M412.5 70.8h1" stroke="#000" stroke-width="1" stroke-opacity="0.3"/>
<path d="M411.1 71.2h1M418.5 65h1M406.9 62.7h1M407.8 62.8h1M417.3 61.8h1M412.5 78.3h1M400.5 61.8h1M410.8 79.1h1M407.1 64.7h1M418.9 64.1h1M411.4 71h1M413.5 66.4h1M414.3 76.8h1M412.9 60.8h1M409.3 64.9h1M415.5 63.7h1M413.8 66.8h1M403.5 76.9h1M405.7 76.1h1M403.2 70.3h1M407.6 74.2h1M419.4 59.7h1M405.9 77.4h1M420.1 70.2h1M417.3 67.2h1M407.3 62.7h1M421.8 65.5h1M410.9 73.2h1M416.9 70h1M412.7 63.9h1M422.8 70.3h1M413.8 63.5h1M415.1 67.1h1M401.9 74.2h1M404.1 72.1h1M413.5 63.4h1M415.9 73.1h1M411.2 64.3h1M396.4 67.3h1M416.1 71.4h1M422.2 70.4h1M405.1 76.6h1M403.8 78.4h1M412.2 58.8h1M410.6 79.4h1M406.3 65.3h1M413.1 67.6h1M407 65h1M406.2 73.4h1M421.3 71.6h1M414.3 77.4h1M418.3 66.4h1M414.4 75.7h1M415 69.9h1M406.4 72.2h1M412.4 70.1h1M410 76.7h1M411.8 78.7h1M407.9 70.5h1M408.5 62.5h1M420.2 64.3h1M411.4 70.7h1M413.9 68.7h1M411.5 71.3h1M416.3 59h1M400.3 75.3h1M417.6 71.7h1M409 65h1M413.8 80.5h1M410.5 70.1h1M415.1 67.8h1M403.2 62.5h1M413.9 61h1M403.1 64.4h1M404.5 80.3h1M416.2 68.5h1M409.2 58.7h1M412.1 69.3h1M422.8 70.5h1M410.1 76.5h1M417.9 70h1M399.4 76.1h1M419 71.1h1M416.1 66.3h1M411.3 65.9h1M403 62.2h1M418.1 59.6h1M414.3 72.7h1M409.8 64.4h1M411.9 64.8h1M407 68.7h1M410.8 70.4h1M402.6 71.1h1M408.9 68.3h1M413.8 66h1M418.3 79.2h1M409.4 60.9h1M398.8 71.6h1M407.2 68.7h1M416.8 68.4h1M409.7 77.3h1M405.9 71.3h1M409.2 66h1M419.7 66.6h1M410.6 77.8h1M416.8 58.7h1M412.7 69.4h1M421.6 79.1h1M416.8 63.8h1M406.2 69h1M418 59h1M418.1 76.4h1M416.7 74.4h1M409.7 72.4h1M402.7 68.2h1M415.6 70.6h1M415.5 67.2h1M419.9 66.3h1M416.5 80.4h1M411.9 67h1M404.6 68.2h1M406.4 69.4h1M404.1 74.1h1M409 79.1h1M401 67h1M408 64.5h1M410.8 69.4h1M419.7 64.6h1M411.3 69h1M422.3 79.3h1M402.1 59.3h1M419.4 65.9h1M396.2 75.5h1M413.4 67.9h1M406.1 63.2h1M413.9 76.9h1M411.9 75.4h1M404 75h1M403.2 63.8h1M406.9 64.3h1M414.2 73.8h1M411.8 72.7h1M403.3 67.9h1M409.9 66.3h1M414.4 63.2h1M413.1 67.6h1M405.3 59.3h1M407.6 64.2h1M398.6 59.6h1M408.4 68h1M418.4 73.5h1M402.6 58.6h1M410.9 75.2h1M421.4 72.1h1M418.5 71.2h1M416.4 65.6h1M418.2 63.7h1" stroke="#000" stroke-width="1" stroke-opacity="0.4"/>
<path d="M403.2 41.2h1M413.4 54.5h1M417 50.3h1M396.7 48.1h1M397.6 39.2h1M413.9 53.2h1M396.2 53.9h1M405.7 47h1M411.7 50.4h1M402.2 57.7h1M409.4 58.1h1M411.9 57.4h1M416.2 46.2h1M414.9 47.3h1M400.1 41.5h1M410.1 58.5h1M410 50.4h1M398.6 39.1h1M411.4 50h1M419.4 48.8h1M408.6 50.3h1M405.9 50.3h1M395.3 52h1M414.3 47.6h1M411 47.3h1M404.7 48.1h1M409.3 55.9h1M399.8 39.3h1M399.2 55.8h1M405.4 37.2h1M399.8 41.5h1M410.3 53.1h1M414.7 52.7h1M416.6 57h1M400.5 56.4h1M418.5 53.2h1M405.1 37.3h1M417.4 42.9h1M405.7 48.9h1M409.8 45h1M407.6 56.3h1M395.4 58.8h1M418 51h1M421.8 38.2h1M405.7 52.8h1M421 45.7h1M412.5 59.4h1M422.4 46.8h1M413.1 41.9h1M416.1 45.9h1M407.6 57.5h1M413 40.6h1M408.9 51.2h1M412.1 48.3h1M416.1 41.3h1M420.2 47h1M397.9 53.7h1M397.4 44.9h1M419.1 41.2h1M400.4 54.3h1M408.7 57.6h1M410.4 53.1h1M403 54h1M404.4 50.6h1M403.1 50.8h1M396.5 46.8h1M422.9 53.1h1M396.2 37h1M401.9 48.1h1M400.2 51.3h1M396.8 53.4h1M412.3 55.9h1M421.7 57h1M398.1 45.9h1M416.8 39.7h1M406.8 49.3h1M396.4 49.2h1M402.9 57h1M406.8 37.8h1M412.6 58.1h1M405.5 41.7h1M394.3 40.2h1M402.5 44.9h1M413.9 46h1M398.6 47.7h1M413.4 37h1M417.4 51.8h1M418.5 42.6h1M411.4 55.8h1M398.2 40.2h1M402.4 58.5h1M411.5 54.4h1M421.2 46h1M406.2 44.5h1M422.5 42.3h1M417.7 54.4h1M407 38.7h1M414.1 43.6h1M398.7 38.7h1M406.1 42.4h1M400.9 49.8h1M413 52.4h1M403.3 53.2h1M411 55h1M399.7 51.9h1M422.3 37.1h1M407.2 47.4h1M399.7 47.7h1M416.5 54.9h1M403.8 42.1h1M412.8 39.2h1M410.3 37.2h1M401.3 57h1M396.5 44.8h1M405.8 43.7h1M413.6 40.6h1M397.1 53.5h1M409 55.6h1M399.6 48.3h1M406.2 49.3h1M400.4 44.2h1M395.5 48.9h1M411.6 40.4h1M414 42.6h1M407.3 56.2h1M415.8 55.2h1M417.8 51.9h1M414.7 50.4h1M421.3 51.5h1M417.3 39.7h1M408.6 56.6h1M400.9 57.9h1M413.4 44.8h1M394.3 49.9h1M419.7 57.4h1M415.6 58.5h1M416.8 49.3h1M400.4 40h1M408.8 39.2h1M398.8 50.4h1M404.8 39.5h1M399.1 45h1M404.7 46.3h1M395.1 37.4h1M417.4 43.7h1M400.8 54.9h1M402.9 48.9h1M399.9 48.8h1M408 58.7h1M420.8 43.7h1M397.5 50.8h1M412 44.1h1M409.4 51.4h1M409.2 38h1M408.1 42.8h1M415.9 47.1h1M408.1 46.1h1M422.6 40.5h1M421.3 54h1M408.9 39.5h1M394.3 45.8h1M399.3 58.4h1M402.6 47.4h1M401.7 46.8h1M401.7 47.9h1M421 41.5h1M414 45.8h1M416.4 59h1M410.6 38.9h1M421.7 40h1M396 43.7h1M414.2 47.3h1M415.1 36.9h1M416.7 36.9h1M414.3 38.8h1M418.2 36.7h1M418.3 51.3h1M394.8 36.8h1M397.1 51.9h1M402.9 50.8h1M418.4 43.7h1M405 57.6h1M413.6 45.3h1M415.1 36.7h1M419.7 37.8h1M399 53h1M415.4 52.1h1M421.4 41.6h1M413.5 43.8h1M419.6 50.9h1M405.3 54.6h1M411.6 45.9h1M403.2 56.2h1M415.1 40.8h1M422.5 50.5h1M399.5 57.3h1M403.6 59.5h1M423 57.5h1M405.8 47.2h1M407.9 42h1" stroke="#000" stroke-width="1" stroke-opacity="0.45"/>
<path d="M409.7 51.2h1M405.8 42.3h1M413.1 50.7h1M425.4 57.2h1M414.6 47.4h1M420.1 48.2h1M405.8 56.4h1M417.5 51.4h1M417.3 48.4h1M417.8 56.5h1M411.2 52.9h1M419.8 54.4h1M413 52.2h1M402.8 51.9h1M414.7 43.5h1M408.7 41.9h1M415 57.2h1M419.8 42h1M413.8 50.7h1M406.7 54.4h1M407.1 41.1h1M414.6 41.7h1M401.8 58h1M413.1 49h1M416.1 52.9h1M422.7 48h1M404.1 43.5h1M413.9 52.8h1M415.3 55.2h1M402.8 52.4h1M415.6 49.3h1M418.4 51h1M419.6 45.1h1M416.6 39.8h1M408.5 51h1M427.2 53.4h1M420.9 48.5h1M415.5 56.4h1M426.6 48.3h1M411.5 48.7h1M420.3 49.4h1M412.8 42.8h1M411.4 50.4h1M416.5 51.2h1M402.1 51.1h1M414.6 55.8h1M411.3 41.6h1M399.4 52h1M408.4 46.6h1M413.8 46.5h1M409.4 50.2h1M416.4 50.3h1M412.7 54.3h1M416.8 45.5h1M413.3 52.3h1M407 58.3h1M411 49.4h1M419.5 48.3h1M419 49h1M416.8 45.5h1M407.1 49.5h1M410.6 48.1h1M408.9 47.4h1M418 47.4h1M412.5 56h1M413.1 45.8h1M406.6 47.4h1M422.1 55.5h1M415.8 45.2h1M416.3 58h1M411.1 50.6h1M408.9 42.1h1M399.1 52.6h1M415.7 47.2h1M408.5 48.9h1M415.6 49.7h1M420.9 57.7h1M405.4 45.9h1M421.2 42.8h1M415.7 46.7h1M405.9 55.8h1M414.6 50.1h1M419.8 45.4h1M418.2 45.5h1M405.2 50.4h1M422.1 53.1h1M411 47.2h1M408.7 51.7h1M419.6 44.4h1M415.7 53.4h1M420.8 52.6h1M415 52.6h1M410.6 48.7h1M414.6 35.8h1M415 48.1h1M423.4 45h1M409.5 45.5h1M416.6 57.9h1M411.8 46.9h1M414.3 58.2h1M411.9 44.3h1M411.4 53.7h1M428.3 51.8h1M410.8 48.5h1M412.3 48h1M418.3 49.3h1M413.2 53.3h1M405.7 44.6h1M410.5 48.7h1M419.2 48.5h1M411.5 40.6h1M411.8 54h1M413.4 56.5h1M407.8 57.3h1M416.1 56.6h1M416 58.2h1M419.2 54.1h1M410.8 48.1h1M417.1 39.9h1M416.7 53.2h1M420.2 48.4h1M408.4 47.8h1M421.1 54.7h1M421.8 51.9h1M415.6 45.7h1M414.2 45.5h1M411.1 43.8h1M410 58.2h1M412.8 46.1h1M414.6 53.9h1M421 40.2h1M411.5 54h1M416.7 47.2h1M409.9 47.2h1M412.4 52.6h1M413 58h1" stroke="#000" stroke-width="1" stroke-opacity="0.45"/>
<path d="M422.9 47.3h1M422.7 54.4h1M416.2 59.7h1M421.3 44.1h1M427.4 57.4h1M414.7 58h1M423.3 54.9h1M424.8 56.6h1M425.2 45.8h1M421.7 49.6h1M424.6 51.2h1M426 49.9h1M418.2 53.8h1M427.3 53.2h1M429.3 54.4h1M428.5 56.9h1M423.3 54.2h1M417.2 51.1h1M419.2 51.4h1M419.8 52.9h1M425.5 56.8h1M418.6 56.7h1M428.1 52.9h1M424.2 53.1h1M425.8 49.2h1M424.4 58.7h1M421.1 51.4h1M428.6 50.4h1M429.5 51.2h1M420.9 46.7h1M426.7 49.2h1M420.3 51.1h1M425.7 54.8h1M426.4 53.4h1M415.3 57.6h1M421.2 51.7h1M418.1 45.1h1M418.7 45.8h1M420 50.2h1M419 61.3h1M424.2 47.7h1M425.4 54.7h1M424.1 51.7h1M425.8 55.1h1M426.6 53.9h1M425.8 51h1M422.4 49.7h1M425.3 54.2h1M425.6 55.2h1M426.9 52.4h1M421.9 48.4h1M430.7 55.9h1M423.9 52.4h1M420.9 55.7h1M424.2 56h1M425.6 51.1h1M419 51.3h1M422.8 49.3h1M420 58.7h1M420.4 54.8h1M418.5 49.2h1M416.6 51.4h1M426.2 49.1h1M421.8 46.9h1M421.9 55.9h1M430.3 49.3h1M419.7 45.2h1M418.2 56h1M421.9 47.4h1" stroke="#000" stroke-width="1" stroke-opacity="0.45"/>
<path d="M437.8 51.7h1M446.9 49.3h1M431.6 53.7h1M444 41h1M448.6 42.5h1M439.7 46.4h1M431.6 49.6h1M445.8 47.5h1M447.1 41.4h1M441.6 50.2h1M448.4 38.3h1M446.1 48h1M431.6 50.7h1M449 46.2h1M438.8 46.7h1M433.9 42.3h1M440.8 48.2h1M441.6 42h1M450.6 41.5h1M445.6 41.7h1M430.9 53.9h1M436.6 43.1h1M443.5 46h1M427 52.9h1M450.6 47.1h1M447.1 44.5h1M444.6 48.2h1M446.5 44.6h1M454 39.8h1M443.7 41.4h1M445.8 47.7h1M436.5 49.3h1M438.4 44.9h1M446.9 49.5h1M427.9 54h1M439.6 43.5h1M435.1 49.8h1M441.9 46.2h1M428.5 56.7h1M435.3 49.8h1M436 48.2h1M446.9 47.5h1M437.1 50.8h1M446.6 41.1h1M440.4 49.8h1M439.5 44.8h1M436 48.8h1M447.3 41h1M446.4 42.2h1M443.2 49.4h1M437.4 50.5h1M437.5 44.7h1M443.2 45.8h1M436.5 51.8h1M430.5 53h1M445.8 42.2h1M438.2 44.7h1M446 47.8h1M440.7 42.6h1M446.6 41.7h1M437.8 48.4h1M442.3 44.6h1M442.9 48.8h1M451.7 39.4h1M442.7 45.8h1M431 52.8h1M448.7 40.6h1M435.6 46h1M449.9 39.6h1M435.3 54.1h1M445.6 49.1h1M446.2 44.3h1M438.4 48.8h1M439.1 46.5h1M441.6 43.5h1M436.4 51.8h1M446.8 43.9h1M434.6 53.9h1M449.9 44.6h1M431.4 50.4h1M448.8 42h1M442.3 45.8h1M451.4 37.8h1M442.8 46.6h1M448 43.1h1M430 46.6h1M439.3 42.4h1M438 44.3h1M443.1 43.4h1M435.7 46.8h1M436.1 42.2h1M433.6 49.8h1M443.7 41.6h1M439.7 43.9h1M436.7 46h1M451.1 39.3h1M448.9 41.7h1M439.4 45.3h1M433.4 49.6h1M447.8 50.9h1M436.4 44.1h1M434.3 47.2h1M442.7 50.9h1M440.7 44.6h1M447.4 50.7h1M437.2 49.9h1M442 41.1h1M446.8 38.7h1M436.6 43.9h1M436.9 49.2h1M437.3 46.7h1M448 42.3h1M444.2 51.9h1M445.1 40.1h1M444.8 45.5h1M450.1 46.2h1M437.2 48.3h1M440.4 49.8h1M439.6 47.3h1M446.3 40.3h1M450.2 39.8h1M441.9 44.2h1M434.4 47.9h1M433.3 48h1M435 43.3h1M443.7 42.5h1M430.9 53.7h1M441.4 44.6h1M443 49.2h1M430.5 47h1M445.2 51.9h1M446.3 48.9h1M440.9 41.3h1M434.2 49.6h1M426.8 50.7h1M445.9 42.3h1M437.5 44.1h1M430.7 53.4h1M435.1 48.9h1M438.6 46.2h1M436 45.4h1M440.3 43.2h1M438.8 44.3h1M439.8 44.7h1M435.3 49.1h1M446.6 43.3h1M449.1 42.8h1M434.1 46.9h1M450 40h1M446.7 40.3h1M439 39.9h1M432.1 53h1M446.3 45.4h1M440.3 41.2h1M436.8 41.3h1M434.6 46.4h1M443.4 43.2h1M436.6 47.5h1M431 50h1M448.9 46.8h1M444.5 43.1h1M440.9 43.2h1M435.6 45.3h1M436.9 48.9h1M433.8 49.3h1M440 47.9h1M433.5 45.5h1M442.3 48.9h1M448.3 46.1h1M440.1 45.3h1M441.3 49.5h1M448.6 44.9h1M441.3 43.2h1M441.8 49.8h1M434.1 43.9h1M435 48.3h1M435.1 51h1M440.3 44h1M437.7 45.5h1M449 45.2h1M437.3 51.5h1M433.9 48.4h1M439.3 49.8h1M449.4 40.7h1M447.7 40.3h1M433.6 52h1M440.3 51.3h1M434 44.8h1M433.2 46h1M442.3 46.4h1M428.3 46.1h1M439.7 49.2h1M441.8 49.4h1M440.2 49.3h1M440.4 45.1h1M433.8 48.5h1M445.6 47h1M444.7 44.3h1M451.1 38.1h1M433.4 52.3h1M449.9 40.5h1M432.1 52.8h1M445.2 48.7h1M434 47h1M428.5 55.2h1M435.9 50.8h1M445.2 40.1h1M433 44.7h1M437.8 50.1h1M444.4 42.2h1M449.1 48.1h1M441 41.2h1M448.5 44h1M439.4 45h1M448.5 49.6h1M440.4 43.7h1M434 48.9h1M441.2 46h1M434.8 44.8h1M445.5 46.7h1M443 46.9h1M447.3 41.3h1M448.7 39.9h1M443 43.9h1M440.3 42.5h1M448 43.5h1M435.5 48.4h1M435.6 46.8h1M437.3 50.7h1M433.7 49.3h1M429.5 49.6h1M442.8 46.8h1M447.4 43.4h1M429 49.4h1M442.8 45.5h1M438.6 52.3h1M434.9 43.5h1M434.5 55.4h1M445.7 48.6h1M445.3 46h1M437.5 50.6h1M439.3 43.6h1M433.8 49h1M442.3 47h1M446.3 51.1h1M443.4 46.7h1M448.5 47.1h1M439.5 44.6h1M443.4 46.1h1M433.8 54.9h1M447.7 47.3h1M447.3 44h1M438.4 41.2h1M441 51.5h1M433.1 46.7h1M448 43.4h1M443.6 48.3h1M444.9 40.7h1M438.4 42.4h1M439.9 40.5h1M441.5 41.7h1M441.4 47h1M452 40.7h1M434.7 44.8h1M433.2 46.6h1M444 44.6h1M445.9 44.6h1M432.9 48.1h1M430.2 45.1h1M446.6 45.2h1M430.9 47.4h1M442.7 45.4h1M438.4 44.5h1M442.5 51.4h1M447 41.3h1M447.2 48.6h1M435.2 43.5h1M444.3 43.4h1M442.7 49.2h1M442.8 44.2h1M436 41.1h1M442.6 43h1M437.8 44.4h1M443.7 47.2h1M441.2 39.8h1M430 51.9h1M431.9 45h1M438.8 48.4h1M446.4 44.6h1M441.2 45.4h1M439.2 46.6h1M435 51h1M443.2 45.6h1M435.3 46.1h1M450.9 40.7h1M439.9 45.3h1M434 47.6h1M443.3 44.5h1M435.2 42.5h1M438.8 41.9h1M447.6 42h1M437.5 47.9h1M441.9 46.8h1M446.7 45.2h1M446.5 45.5h1M440.8 46.6h1M448.4 49.4h1M434.5 41.2h1M450.9 44.6h1M433.9 43.5h1M441.5 44.2h1M443.3 49.8h1M433.7 48.9h1M446.2 48.1h1M446 42.6h1M442.2 42.7h1M438 43h1M436.6 48.7h1M442.2 40.3h1M442.6 46.2h1M432.8 52.8h1M441.2 41.9h1M445.1 46.1h1M436.6 51h1M448.7 38.7h1M450.5 43.3h1M431.5 50.4h1M438.3 47.1h1M446.3 40.1h1M441.2 50.9h1M439.2 48.7h1M446.3 41.3h1M440.1 45.2h1M441.9 50h1M429.6 49.9h1M435 47.9h1M439.9 49.5h1M445.3 50.8h1M428.8 51.1h1M442.8 45.2h1M443.6 49.1h1M442.1 49.8h1M447.9 43.9h1M444.2 42h1M441.7 45h1M449.8 38.1h1M438.9 47.1h1M432.6 47.2h1M444.3 45.5h1M444.1 49.5h1M427.8 52.5h1M440 50.3h1M441.8 47.4h1M443.6 39.5h1M431.2 49.8h1M438.5 42.3h1M439.7 49.7h1M437.6 44h1M439.9 48.8h1M440.4 42.6h1M450.4 45.4h1M437.4 44.4h1M449.7 45.1h1M449 45.1h1M441.9 48.9h1M434 45.1h1M437.1 44.4h1M443 46.9h1M435.5 41.9h1M440.6 52.5h1M439.4 45.9h1M449.4 46.6h1M438.4 49.8h1M445.3 40.7h1M437 44h1M444.6 44.7h1M433.4 45.1h1M441.6 45.4h1M438.1 49.6h1M441.4 44.3h1M434.8 45.6h1M441.1 48.6h1M443.3 44.6h1M439.8 44.6h1M439.8 45h1M431.4 52.2h1M435.9 45.8h1M430.3 49.5h1M438 48.3h1M436.6 49.6h1M440.1 49h1M436.1 45.1h1M441.4 40.8h1M442.2 45h1M446 42.9h1M447 49.7h1M448.5 46.3h1M435.3 51.1h1M440.5 52.1h1M442 40.9h1M440.3 49.4h1M450.9 44h1M445.9 44.4h1M444.3 47.7h1M442.9 47.5h1M435.4 49.3h1M447.8 38.6h1M437.3 44.6h1M449.7 41.2h1M440.6 47.1h1M437.8 51.2h1M430.2 45.3h1M445.6 45.3h1M452.1 41.3h1M431.9 54.2h1M448.4 45.8h1M442 45.9h1M448.1 38.8h1M451.5 43.7h1M443.8 43h1M444.3 43.6h1M439.2 44.4h1M439.3 50.8h1M438.1 45.7h1M433.1 44.2h1M433 50h1M443.5 47.9h1M439 47h1M433.9 53.3h1M442.8 41.2h1M441.1 39.6h1M439.1 47.7h1M450.4 40.6h1M448 42.6h1M447.8 46.4h1M439 43.3h1M434.1 51.8h1M432.8 52h1M445.9 42.9h1M433.9 48.3h1M443.9 51.2h1M449.9 45.8h1M440.9 44.4h1M444.4 45.3h1M428.2 52.6h1M438.6 44.8h1M452.7 47h1M441.3 48.5h1M433 51.6h1M448 40h1M434.7 47.5h1M446 37.5h1M450.9 43.9h1M443.7 38.4h1M428.5 48h1M430.8 52.9h1M431.8 48.7h1M443.6 41.7h1M435.5 50.3h1M432.4 44.7h1M447.2 41.9h1M447.7 45.1h1M443.3 47.6h1M449.6 42.1h1M440 46.6h1M445.6 46h1M430.6 53.9h1M432.5 47.4h1M435.8 50.2h1M436 43.5h1M439.8 45.1h1M442.1 46.2h1M446.9 49.6h1M443.6 41.8h1M453 45.8h1M432.3 45.7h1M449.8 46h1M442.3 46.1h1M429 50.7h1M450.3 46.8h1M449.3 48.7h1M444.8 42h1M447.9 42h1M433.1 45.9h1M442.9 46.6h1M450.5 44.8h1M443.9 39.3h1M439.9 47.3h1M442.6 48.2h1M442.4 46.8h1M438.2 48.4h1M445.4 45.9h1M435 45.5h1M442.8 43.6h1M452 41.8h1M427.7 53.6h1M443 44.2h1M435 47.7h1M445.2 45.5h1M441.3 51.7h1M445.2 44.6h1M449.3 47.1h1M452.6 43.4h1M435.9 49.6h1M439.5 48.3h1M430.8 43.6h1M436.3 50.4h1M448.4 43h1M450.6 44h1M445.4 41.3h1M448.9 48.9h1M444.4 43.3h1M437.2 49.1h1M437.5 44.4h1M447.1 47.5h1M431.6 47.4h1M443.6 41.7h1M439.5 48.6h1M443.9 44.6h1M439.2 45.2h1M437.2 47.5h1M444 45.8h1M435 44.6h1M441.7 47.2h1M446.9 41.4h1M443.4 43.6h1M446.4 41.3h1M430.7 45.2h1M436.4 47.6h1M448.4 45.8h1M442.7 40.8h1M447.2 40.3h1M440.7 47.6h1M448.5 46.8h1M441.8 51.2h1M442.1 42.9h1M438.6 46.6h1M442.9 41.6h1M436.8 49.4h1M433.4 51.4h1M429.5 47h1M445.3 42.9h1M453.4 42.1h1M431.9 52.6h1M443.1 41.7h1M441.4 51.2h1M434.1 45.1h1M442.2 44.6h1M442.8 41.6h1M428.9 49h1M446.1 40.5h1M446.8 46.7h1M439 49.4h1M441.6 45.1h1M430.9 54h1M440.6 43.2h1M442.5 51.3h1M432.2 47.9h1M437.2 46.7h1M447.6 43.5h1M433.7 49h1M439.2 47.9h1M440.8 44.1h1M444.3 42.2h1M436 44.6h1M434.3 41.8h1M445.9 45.8h1M431.5 49h1M435.2 52.7h1M445.1 44.8h1M444.9 47.6h1M438.4 41.8h1M429.6 49.5h1M439.2 48.6h1M434.2 50.1h1M440.4 43.5h1M444.6 43.5h1M444.8 47.1h1M435.4 44.1h1M431.9 45.9h1M448.2 38.6h1M438.5 48.6h1M444.5 41.5h1M438 50.8h1M445 43.1h1M446.2 46.7h1M449.8 42.6h1M444.4 41.3h1M449.8 35.9h1M441 45.3h1M449.8 41.1h1M444.4 41.2h1M439.5 42.3h1M435.1 48h1M438.7 49h1M442.4 48.9h1M438.3 52.5h1M436.7 46.7h1M444.9 47.5h1M444.1 50h1M450.6 44.5h1M447 37.5h1M433.9 42.9h1M427.3 52.5h1M446.3 41.3h1M439.4 49.2h1M446.7 43.8h1M445.4 49.1h1M449.4 38.9h1M430.2 53.2h1M446.8 46.2h1M438.2 47.8h1M438.2 50.6h1M435 55h1M448.5 45.2h1M443.1 47.1h1M450.9 43.6h1M444.5 40.1h1M437 43.8h1M443.5 47.9h1M445.9 47.4h1M434.5 42.8h1M446.7 43.6h1M435.6 49.3h1M449.6 39.2h1M446.5 48.4h1M442.3 42.9h1M429.6 46.6h1M441.5 40h1M432 43.2h1M435 45.4h1M438.5 44.3h1M430.8 46.2h1M445.1 41.8h1M444.5 47.2h1M436.9 48.5h1M447.1 42.5h1M433.1 45.5h1M444.6 45.1h1M440.3 44.3h1M445.7 45.6h1M434.7 52.7h1M448.5 46.9h1M448.7 41.5h1M452 40.9h1M447.5 48.1h1M431.4 46.7h1M447 42.8h1M448.8 42.7h1M451.2 43.4h1M432.6 50.5h1M449.6 36.7h1M442.5 43.6h1M434.8 50.4h1M428.9 47.9h1M449.5 40.6h1M448.3 40h1M434.6 44.2h1M446.7 40.7h1M435.7 51h1M433.2 52.3h1M449.3 40.4h1M440.2 40.1h1M439.8 50.9h1M433.6 53.3h1M438.7 46.7h1M451.4 38.4h1M444 43.1h1M445.9 40h1M441.9 47h1M441.8 43.2h1M452.1 45.8h1M441.7 46.2h1M444.6 46.9h1M440.4 44h1M442.3 46.6h1M432.8 47.7h1M445.1 50h1M447.3 44.4h1M441.9 46h1M439.6 46.3h1M434.3 46.7h1M437.4 44.7h1M450.2 35.3h1M440.5 47.8h1M430.9 46.1h1M437.9 41.3h1M435.6 45.9h1M434.3 51.2h1M438.7 51.8h1M447.9 46.7h1M438.9 51.1h1M430.8 46h1M443.9 38.3h1M438.6 50.8h1M452.5 42.8h1M426.3 46.5h1M450.6 48.7h1M433 49.6h1M439 43.6h1M427.8 52.8h1M445.5 45h1M452.6 38.3h1M443.6 42.9h1M442.3 48.9h1M447.1 41h1M433.2 51.5h1M429.5 47.9h1M439 51.7h1M444.6 45.3h1M439.4 51h1M431.9 53.4h1M434.8 45h1M442.5 48.9h1M449.3 40.1h1M441.7 48.4h1M445.1 47.5h1M435.6 51.4h1M433.6 52.2h1M444.4 48.7h1M443 40.4h1M432.9 47.2h1M434.9 47.2h1M449.3 44.5h1M430.4 53.8h1M437.8 43.8h1M434.9 49.5h1M450.7 37.2h1M431.8 46.8h1M433.5 49.8h1M440.7 39.7h1M434.9 45.8h1M441 47.7h1M431 55.6h1M435.2 49.3h1M438.8 47.3h1M449.8 44.6h1M443.3 50.7h1M436.9 44.4h1M431.1 51.7h1M441.8 44.5h1M439.4 47.9h1M438.8 45.3h1M434.2 52.4h1M434.5 48.2h1M445 42.9h1M436 50.4h1M439.9 42.6h1M433.8 51.1h1M441.1 45h1M438.7 45.9h1M444.4 49h1M429 55.3h1M444.7 43.6h1M431.6 48.8h1M433.2 49.3h1M432.9 52.4h1M449.2 45.9h1M435.8 50.8h1M451.2 49.3h1M444.3 45.9h1M443 47.6h1M431.1 53.2h1M433.7 47.8h1M435.4 47.3h1M440.1 41.6h1M434.8 48h1M448.9 42.7h1M441.1 43h1M438.1 40.1h1M443.2 45.8h1M435.6 53.1h1M438 48h1M445.5 40.5h1M432.5 53.8h1M433.2 53.5h1M444.6 46.2h1M445.5 43.4h1M442 41.9h1M447.9 44.6h1M438.3 43h1M440.7 44.7h1M435.5 48.7h1M441.6 45.4h1M429.5 51.5h1M427.7 48.7h1M447.6 41.1h1M431.4 46.3h1M430.9 51h1M449 48.2h1M429.3 50.6h1M441.8 50.9h1M439.1 46.7h1M431.9 55.7h1M445.1 48.7h1M450.6 42.9h1M443.8 41.5h1M446.9 38.3h1M454.6 46.7h1M450.1 44.7h1M440 49.4h1M444.9 40.9h1M438.6 48.5h1M442.2 47.7h1M440.3 47.6h1M430.5 53.5h1M438.5 49h1M435.8 51.4h1M440.5 50.1h1M447.4 39.2h1M436.6 43.2h1M434 51.8h1M440.1 46.5h1M430.6 49.5h1M440.1 41.3h1M426.1 54h1M445.9 44.7h1M433.4 51.1h1M445.1 45.6h1M439 51.3h1M432.9 50.3h1M449.3 48.6h1M436.4 40.6h1M439.1 44.5h1M441 45.7h1M432.5 47h1M447.2 40.9h1M441.9 43.5h1M448.2 40.8h1M444.2 41.4h1M434 43.5h1M442.6 47.6h1M447.7 46.3h1M442.7 43.3h1M432.1 50.6h1M433 46.3h1M429.8 54h1M442 45.8h1M435.5 42.8h1M443.5 43.4h1M440.7 44.3h1M437.9 45.1h1M439.5 43.3h1M446.9 41.9h1M441.1 43.7h1M444 49.5h1M444.7 38.3h1M444.4 48.9h1M438.3 44.7h1M429.4 47.9h1M446.2 42.6h1M433.2 44.7h1M445.4 41.4h1M441.9 48.4h1M447.8 44.8h1M438.1 50.7h1M442.2 45.6h1M443.6 43.2h1M438.9 47h1M442.8 48.6h1M440.5 47.1h1M440.5 49.1h1M435.7 43.7h1M443.3 41.9h1M432.5 48.1h1M448.3 47.7h1M443.2 48.1h1M432.5 45.6h1M437.5 50.5h1M438.4 49.1h1M438.8 48h1M436.8 49.9h1M447.8 38.6h1M431.8 45.7h1M432 45h1M448.1 43.8h1M437.2 44.7h1M436.8 42.1h1M441.7 46.5h1M435.3 47.5h1M447.4 43.6h1M446.1 40.6h1M438.5 46.7h1M437.6 48h1M437.8 43.7h1M444 48.8h1M443.9 49.2h1M447.3 48h1M448.7 43.2h1M442.6 46.8h1M445.9 46.6h1M444 44.8h1M444.9 47.6h1M432.4 48.1h1M435.5 50.8h1M439.1 42.5h1M443.4 49h1M451.3 41.6h1M446.7 48.8h1M445.4 48.1h1M438.2 44.3h1M441.6 46.8h1M443.1 44.8h1M432.1 51.2h1M436.8 48.8h1M445.5 42.4h1M444.6 46.5h1M443.2 42.2h1M428.8 48.1h1M450.3 42.8h1M439.9 43.9h1M435.3 52h1M450.1 41.8h1M441.2 48.6h1M439.6 42.2h1M446.3 46.4h1M446 40h1M431.2 50.6h1M436.1 46h1M446.7 45.6h1M449.9 47.2h1M432.8 49h1M444.2 42.3h1M443.9 47.1h1M449 46h1M446.6 41.7h1M434.5 48.8h1M444.2 46.4h1M442.3 40.4h1M435.6 44.3h1M436.1 45.8h1M450.1 44.2h1M439.2 41.9h1M441.3 47.2h1M437.2 49.4h1M454 43.1h1M431.8 51.3h1M438.3 47.1h1M439.2 49.1h1M446 42.8h1M445.7 43.2h1M433.3 48.8h1M440.2 49.8h1M441.4 49.4h1M440.4 49.4h1M431.8 44.9h1M449.8 40.2h1M433.7 48.7h1M428.4 44.2h1M449.8 40h1M437.3 49.1h1M441.7 47.2h1M428.2 50.2h1M451 46.8h1M442.8 45.1h1M447.6 39.6h1M444 39.5h1M445.3 46.6h1M448.9 46.7h1M433.3 49.2h1M437.9 51.3h1M432 48.8h1M439.2 47.1h1M437 48.1h1M435.6 51.9h1M449.4 49.2h1M431 51h1M447.8 43.6h1M437.4 42.5h1M430.7 49.8h1M445.4 45h1M441.4 48.4h1M447.5 46.5h1M444.5 39.6h1M426.3 56.9h1M445.7 44.3h1M439 50.6h1M436.4 49.9h1M444.6 40h1M450.5 39.4h1M444.2 46h1M434.4 50.6h1M439.5 49.1h1M436.5 49.4h1M434.9 47.9h1M449.1 42.3h1M440.5 43.5h1M430.1 48.5h1M445.5 40.8h1M440.2 47.6h1M434.7 47.6h1M433.6 48.8h1M442.9 47.1h1M441.7 42.6h1M444.6 48.1h1M436.6 49.7h1M448.4 50.3h1M435.3 49.7h1M426.3 50.7h1M429.9 45.5h1M450.3 44.9h1M447.5 45.9h1M437.6 48.3h1M443.6 46.1h1M431.9 49.2h1M440.7 41.1h1M440 50.6h1M447.7 40.9h1M431.5 51.1h1M449.1 42.8h1M444.6 47.4h1M431.5 51.9h1M450.8 40.9h1M437.7 42h1M441 44.4h1M438.8 49.4h1M433 54.1h1M434.9 51.3h1M432.6 49.1h1M435.9 45.1h1M442.6 40.7h1M442.3 43.6h1M452.9 40.4h1M436.1 46.6h1M445.8 49.1h1M439.1 52.3h1M441.2 44.5h1M449.6 41h1M447.9 47.3h1M451.3 44.4h1M438.9 48.9h1M445.2 42h1M429.1 48h1M435.3 49.6h1M441.3 47.7h1M435.3 53.2h1M435.2 42.5h1M439.7 42.3h1M429.4 48.4h1M452.8 46.5h1M450.5 43.5h1M437.5 43.2h1M432.1 51.6h1M439.9 45.2h1M429.5 54.5h1M432.5 47.3h1M443.2 44h1M442.9 46.3h1M436.9 43.3h1M439.1 46.6h1M447.4 46h1M447.9 40.7h1M439.9 45.7h1M438.5 42.9h1M432.9 49.4h1M447.1 46.7h1M440.1 43.3h1M446.3 42.1h1M444.1 39.5h1M448 42.4h1M449.9 42.9h1M446.5 46.7h1M444.6 42.6h1M432.7 49.8h1M446.5 44.6h1M445.9 46.5h1M447.9 42.4h1M440.3 47h1M429.6 49.8h1M438.3 47.9h1M448.4 40.3h1M450.9 45.5h1M443.1 47.4h1M435.3 46.7h1M448.5 46h1M441.2 46.5h1M436.6 47.1h1M439.7 45h1M434.3 45.1h1M448.3 42.1h1M438.6 41.5h1M433.3 47.4h1M438.6 50.7h1M437.4 50.7h1M451.4 43.2h1M447.4 43h1M443.8 42.6h1M438 47.3h1M434.7 43.1h1M434.2 51.7h1M444 44.7h1M448.4 47.1h1M433.8 53.9h1M446.3 39.5h1M429.3 51.8h1M438.2 51h1M430.2 51.3h1M443.6 40.2h1M439.2 48.5h1M452.7 37.4h1" stroke="#000" stroke-width="1" stroke-opacity="0.32"/>
<path d="M442.2 46.6h1M438 47.3h1M438.1 53.4h1M436.4 43.4h1M449.8 45.2h1M452.9 36.7h1M448.5 49.2h1M434 49.2h1M439 37.6h1M457.3 40.2h1M433.2 53.3h1M452.7 36.6h1M438.6 48.5h1M442.3 48h1M452.2 34h1M446.3 44.1h1M444.4 44.2h1M441.9 48.5h1M434.2 50.9h1M450.3 47.2h1M432.9 49.9h1M443.1 51.2h1M443.3 42.3h1M439.4 49h1M438.1 50.5h1M437.8 47.4h1M439.5 45.5h1M441.7 47.2h1M441.1 44.8h1M441.3 53.9h1M438.7 45.9h1M443.1 43.1h1M426 49.2h1M438.6 48.6h1M439.1 51.1h1M443.3 47.3h1M442.6 49.1h1M437.1 44.4h1M443.6 42.7h1M438.5 51.9h1M442.5 46.3h1M439.4 46.7h1M441.1 49.3h1M434.9 44.1h1M445.7 47.1h1M435.6 51h1M431.7 48.5h1M451.5 41.8h1M446.3 40.7h1M428.3 51.2h1M438.5 45.7h1M435.4 43.3h1M436.3 45.6h1M453.4 31.8h1M438.2 45.2h1M436.2 44.3h1M432.4 51.1h1M439.1 46.6h1M447.2 46.4h1M431.9 47.9h1M441.2 46.7h1M451 40.5h1M440.5 46.1h1M442.4 43.1h1M439.7 49.6h1M439 44.3h1M443.6 44.3h1M437.2 47.2h1M443.1 44.3h1M429.3 48.2h1M439.3 44h1M433.7 53h1M432 50.6h1M448.6 45.2h1M438.5 49.6h1M440.4 44h1M438.4 51.9h1M443.9 47.2h1M431.4 41.8h1M442.7 49.2h1M436.1 48.6h1M449.3 45.6h1M433 44.5h1M438 47.4h1M443.5 47.4h1M437.8 45.6h1M434.2 44.2h1M444.2 47.7h1M431.3 48.5h1M444.8 42.2h1M433.7 49.7h1M444.1 45h1M444.9 44.6h1M438.4 38.6h1M449.5 40.7h1M442.5 45h1M434.8 45.3h1M433.2 53.3h1M448 46.2h1M444.5 46.5h1M440.6 46.9h1M443.2 54h1M451 40.7h1M438.5 54h1M437.5 43.2h1M449.5 41.3h1M441.9 45.6h1M449.6 34.7h1M430 51.8h1M440.9 48.6h1M434.9 43.1h1M443.1 38.2h1M446.4 41.4h1M434.3 48.4h1M442.9 45.4h1M440.9 44.4h1M439.6 44.7h1M441.2 47.8h1M457.7 46.4h1M433.9 43.1h1M443.1 50.9h1M446.4 45.5h1M433.4 55.2h1M432.1 45h1M436.5 48h1M431.3 49.5h1M428.6 52.9h1M434 47.1h1M428.4 46.3h1M447.8 42.7h1M435.3 44.8h1M433.1 54.1h1M439.5 42.3h1M438 43.4h1M432.6 54.3h1M439.3 42.6h1M445.7 45.9h1M438.2 44.8h1M450.9 42h1M447.4 47.4h1M429.5 54.9h1M443.9 41h1M429.7 47.2h1M429.4 39.9h1M433.5 56.8h1M448.5 39.5h1" stroke="#000" stroke-width="1" stroke-opacity="0.4"/>
<path d="M439.5 60.4h1M433.5 59.7h1M427.1 58.9h1M431.5 62.2h1M435.8 62.1h1M431.5 62.3h1M434.9 59.6h1M428.8 59.1h1M425.3 60.5h1M431.8 59.9h1M438.9 60.8h1M433 61h1" stroke="#000" stroke-width="1" stroke-opacity="0.4"/>
<path d="M47,184.4 L60,182.2 L79,180 L79.3,181 L61,183.4 L47,185.2 Z" fill="#333" fill-opacity="0.7"/>
<path d="M67.3 182.8h1M52.3 183.1h1M63.1 182.6h1M66.4 183.2h1M72.6 183.1h1M59.3 182h1M70.7 182.8h1M70.7 184.5h1M61.7 183.3h1M65.4 182h1M59.5 182.3h1M76.1 183.2h1M71.9 183.6h1M58.4 182.9h1M75.3 182.9h1M61.4 180.7h1M65.2 182.6h1M59.5 183.2h1M58.8 183.1h1M71.1 182.1h1M61.9 182.4h1M54.8 183.4h1M62 184.7h1M65.5 183.2h1M58 183h1M75.3 183.2h1M55.7 182.7h1M65.2 184.2h1M64.1 182.9h1M59.4 183h1M72.5 183.3h1M60.7 180.9h1M73.7 182h1M51.9 183.8h1M70.9 183h1M52.7 182.5h1M61.3 182.5h1M71.7 183.8h1M72 183.1h1M54.6 182.3h1M66.9 183.2h1M58.5 183.4h1M60.5 182.5h1M50.4 181.9h1M78.5 181.6h1M67.4 184.1h1M58.7 183.9h1M57.4 183.2h1M69.7 183.2h1M55.4 182.4h1M68.7 183.8h1M70.1 181.6h1M66 183.2h1M64.6 182.6h1M51.3 183.2h1M64 182.4h1M62.5 182.9h1M70.6 181.5h1M52.2 182.5h1M62.9 182.7h1M69.8 182h1M69.1 182.9h1M61.6 183.4h1M67.5 181.8h1M58.4 184h1M61.5 183h1M66.5 180.2h1M59.5 183.6h1M56.5 182.6h1M71.3 183.5h1M56.9 182.4h1M62.4 184.2h1M71.9 182.7h1M70.6 182.4h1M68 182.4h1M48.8 182.2h1M71.8 182.1h1M56.3 182.7h1M59.5 182.4h1M52.9 183.1h1M65 183.6h1M57 181.8h1M68.1 183.1h1M51.6 183.9h1M72.1 181.7h1M57.2 182.3h1M73.2 183.1h1M67.3 182.8h1M60.2 182.7h1M64.4 183.3h1M67.5 182.3h1M63.4 182.4h1M69.7 183.2h1M53 182.6h1M74.6 182.1h1M57.2 182h1M58.7 182.7h1M48.8 183h1M50.7 184.2h1M69.1 181.6h1M53.9 183.7h1M56.2 182.6h1M65.2 182.9h1M45.9 182.6h1M65.2 182.7h1M65.4 183.1h1M65.2 182.7h1M50.5 182.1h1M54.7 183.1h1M55.2 182.9h1M61.1 183.3h1M57 183.3h1M56.2 184.2h1M65.7 182.5h1M61.7 182.4h1M62.1 183.6h1M68.1 182h1M54.9 184.2h1M76.6 181.9h1M63 182.7h1M71.5 181.9h1M55.2 183.5h1M61.1 183.1h1M50.9 183.4h1M80.4 182.9h1M45.9 181.9h1M65.2 183.3h1M45.7 183.3h1M67 182.8h1M54.6 183.8h1M54 183.5h1M68.5 182.5h1M61.4 183.2h1M70.7 181.3h1M76.3 181.2h1M54.6 183.5h1M58.4 183.7h1M63.6 182h1M59.8 181.6h1M61.9 182h1M68.1 182.5h1M66.6 181.6h1M80 182.5h1M78.4 183.9h1M63.8 184.3h1M68.2 182.6h1M46.7 182.6h1M62.9 182.8h1M67.2 182.9h1M71.8 182.1h1M61.3 183.3h1M65.9 183.4h1M66.5 182.9h1M65.4 182h1M61.3 183.3h1M50.8 184.6h1M59.9 182.8h1M71.6 184h1M63.3 183.9h1M69.1 181.4h1M66.6 182.7h1M61.2 182.6h1M47.1 183.2h1M73.2 182.9h1M62 183.2h1M54.6 182.9h1M65 184h1M60.3 183.6h1M65.5 183.9h1M51.4 184h1M68.6 182.1h1M49.8 182.9h1M53.1 184.2h1M63.6 183.7h1M64.9 182.9h1M69.9 181.2h1M67.6 183.1h1M58.1 183.7h1M69.1 183.2h1M68.4 181.5h1M62.5 182.4h1M62.3 181.3h1M62 183.5h1M49.3 184.1h1M58.9 181.2h1M54.6 183.3h1M73.3 183.1h1M46 182.8h1M54.5 183.8h1M59 181.9h1M70.7 181h1M54 183.1h1M56.3 182.4h1M74.6 183.6h1M68.2 182.5h1M51.3 183h1M55.6 183.2h1" stroke="#000" stroke-width="1" stroke-opacity="0.5"/>
<path d="M35.5 167.3h1M60 160.5h1M54.9 167.8h1M51.5 174.8h1M112.8 167.3h1M57.2 151.2h1M36 182.5h1M38 184h1M41 184.5h1M34 180.5h1M52 176.5h1M50 175.7h1M47 179h1" stroke="#000" stroke-width="1" stroke-opacity="0.6"/>
<path d="M308.5,186 L322,184 L341.5,181.5 L341.8,183 L323,185.2 L308.5,186.8 Z" fill="#333" fill-opacity="0.7"/>
<path d="M330 183.6h1M320.7 185.6h1M324.5 184.5h1M335.9 183.8h1M325.8 184h1M316 185.9h1M323.4 184.6h1M327.2 184.7h1M323.2 183.2h1M324 183.5h1M333.5 184.2h1M333.7 184.4h1M326.2 184.1h1M327 183.6h1M326 185.5h1M309.8 185.1h1M320.2 184.4h1M329.1 184.7h1M330 185.3h1M322.9 184.6h1M322.5 184.1h1M321.1 184.4h1M338.4 184.1h1M316.9 184.3h1M342.4 183.5h1M333.4 185.3h1M337.2 183.5h1M328.2 185.4h1M307.1 184.6h1M321.2 184.2h1M332.4 184h1M322.7 183.7h1M323 185.5h1M317.5 185.5h1M338.8 185.2h1M332.8 184.7h1M314.5 185.8h1M318.3 185.7h1M331.2 183.6h1M325.7 183.4h1M337.8 183.9h1M328.7 184.6h1M336 184.8h1M317.5 183.6h1M328.8 184.8h1M319.9 185.2h1M332.2 184.5h1M319.4 184.7h1M333.3 183.4h1M315.3 185.4h1M330.8 184.2h1M321.6 184.6h1M319 184.7h1M318.2 184h1M328.5 184.6h1M319.5 185.6h1M322.6 185.8h1M324.7 184.6h1M325.1 183.4h1M325 184.1h1M316.3 185.1h1M334.2 183.9h1M329.6 184.6h1M333.9 184.3h1M324.1 185.3h1M334.4 184.2h1M331.8 184h1M313.8 183.6h1M330 183.9h1M322.5 183.9h1M320.5 184.5h1M329.3 183.2h1M342.9 183.2h1M310.9 184.7h1M340.3 183.8h1M332.9 184.2h1M322.1 183.4h1M325.6 184h1M339.2 183.9h1M332.2 185.4h1M338.7 183.6h1M320.9 184.2h1M330 184.7h1M323 183.9h1M325.7 185.2h1M331.3 182.9h1M334.1 184.6h1M322.7 184.8h1M334.8 183.5h1M336.2 183.5h1M326.5 184.8h1M324.9 184.5h1M320.7 182.7h1M313.8 184.6h1M323.3 184.4h1M310.3 186.1h1M321.7 183.4h1M327.8 184.7h1M330.6 184h1M340.5 184.1h1M319.3 185.7h1M323.9 185.9h1M324 183.3h1M311.3 186.2h1M323 185.6h1M317.3 185.1h1M336.8 184.3h1M319.9 184h1M332 183.4h1M336.3 185.3h1M328.6 183.7h1M321.4 185.4h1M321.3 183.6h1M318.3 185.4h1M326 183.9h1M324.3 186.2h1M334.4 184h1M329.8 184.3h1M324.9 185.3h1M333.1 184.7h1M340.2 185.3h1M330.1 185.3h1M320.6 184.3h1M320.3 184.6h1M328.2 184.1h1M326.3 184.8h1M338.4 183.4h1M326.3 184.6h1M328.5 184.9h1M316.9 185.3h1M315.5 185.5h1M328.7 184.1h1M333.6 185h1M325.1 184.5h1M317.4 184.6h1M328.3 184.8h1M317.9 186.1h1M325.2 183.4h1M314.6 185.5h1M331.8 185.7h1M339.6 184.9h1M321 184.9h1M316.5 185.6h1M332.1 184.9h1" stroke="#000" stroke-width="1" stroke-opacity="0.5"/>
<path d="M302.4 142.7h1M309.9 171h1M362.7 153.1h1M373.1 151.8h1M372.8 153.7h1M384.5 148.4h1M379.7 135.2h1M352 163.8h1M350 173.3h1M358 179.5h1M354.3 180.8h1M345.8 180.8h1M300 179.5h1M302 183.5h1M305 185h1M298 181.5h1" stroke="#000" stroke-width="1" stroke-opacity="0.6"/>
<path d="M164.7 149h1M182.8 153.2h1M188.2 157.7h1M175.8 158.7h1M177.6 151.1h1M180.2 157.1h1M177.2 153.7h1M188.3 156.4h1M180.5 154.9h1M179.4 164.5h1M181.2 157.8h1M176.9 155.2h1M184.6 149.4h1M171.5 154.4h1M175.5 150.7h1M180.8 144.1h1M177.5 157.4h1M177.4 152.9h1M179.6 165.6h1M176.8 156.6h1M176.5 158.4h1M175.7 157.9h1M169.9 148.3h1M180.8 156.4h1M175.3 151.4h1M179.7 152.1h1M175.7 164.4h1M175 155.8h1M173.9 152.2h1M184.4 153.1h1M179.9 160.9h1M178.3 161.8h1M175.9 156.7h1M173.5 155.5h1M178.7 152.2h1M171.5 157.1h1M181.8 157.3h1M180.8 157.6h1M173.7 151.9h1M181.4 151h1M171.9 151.3h1M185.3 157.2h1M183 150.7h1M183.7 159.6h1M178.1 147.9h1M171.9 161.4h1M179.1 153.6h1M189 156.8h1M173.8 153.8h1M179.9 158.9h1M174.7 155.3h1M177.4 157.2h1M188 160h1M182.9 156.9h1M183.6 156.4h1M180.9 161.6h1M178.3 152.6h1M179.4 150.8h1M170.8 156.3h1M182.3 160.2h1M179.2 153h1M175.5 155.5h1M179 152.2h1M178.3 149.3h1M182.5 157h1M179.6 159.4h1M185.1 157.5h1M174.3 153.5h1M171.2 160.9h1M174.3 161.6h1M176.9 157.2h1M170.4 155.1h1M175.9 152.6h1M177.1 149.2h1M183.8 154.5h1M176.3 157.3h1M173.3 157.7h1M179.1 163.3h1M184 147.9h1M182.9 157.1h1M167.8 158.9h1M177.2 153.6h1M181.4 152.2h1M181.2 160.7h1M174.2 160h1M174.2 154.2h1M179.3 159.4h1M179.6 160.4h1M175.6 156.9h1M181.4 154.9h1M176 155.9h1M177 152.4h1M179.1 152.5h1M189.7 154.5h1M178.4 154h1M176.5 157.6h1M181.2 154.3h1M179.9 158.2h1M178.9 153.2h1M183.6 161.5h1M181.7 155.6h1M174.9 160.4h1M176 157.9h1M180.5 150.4h1M170.1 154.5h1M182.2 149.3h1M185.1 155.2h1M174.4 155.5h1M182.8 155.5h1M176.7 156.1h1M178.4 154.2h1M179.6 155.4h1M179.9 153.7h1M177.5 157.3h1M179.1 153.6h1M181.1 153.1h1M182.6 157.9h1M185.8 153.7h1M169.1 151.7h1M176.1 159.1h1M179.9 162h1M176.1 158.6h1M173.2 150.9h1M177.4 158.5h1M184.6 158.3h1M178.8 156h1M174.6 148.8h1M175.6 159.1h1M178.5 156.1h1M180.3 155.8h1M178 153.7h1M175 157.8h1M185.8 150.6h1M179.1 156h1M179.2 156.4h1M176.9 158h1M176.3 149.3h1M179.5 159.1h1M174.3 152.2h1M176.8 156.1h1M172.9 152.4h1M184.6 159.6h1M175.7 151.7h1M172.3 161.3h1M181 152.4h1M173.8 164.2h1M182.4 156h1M185.5 159.1h1M172.2 156.6h1M177.8 158h1M174.3 154.6h1M170.8 155.9h1M168.9 154.6h1M177.8 162.7h1M175.3 152.2h1M184.5 151.4h1M178.7 158.3h1M178.8 149.7h1M180.3 156.6h1M171.3 160.8h1M180.6 158.3h1M179.9 154.8h1M186.8 154h1M171.2 155.6h1M176.2 154.7h1M176.4 152h1M172.5 156.3h1M180.7 155.9h1M169.1 150.9h1M180 152.9h1M176.7 158.2h1M179.4 147.5h1M173.4 152.7h1M182.3 151.8h1M175.3 160.1h1M175.3 160.1h1M183.8 156.2h1M170.9 152.7h1M177.1 152.2h1M179.2 162.1h1M175.9 156.3h1M179.6 160h1M183.3 160.9h1M176.5 152.4h1M179.6 159.9h1M175.7 156.2h1M183.2 150.6h1M176 161.3h1M177.4 157h1M180.1 158.5h1M179.8 153.2h1M180.1 156.5h1M178.9 150.4h1M186.1 153.9h1M175.9 156.5h1M185.9 151.9h1M172 153.5h1M180.7 156h1M182.1 150.8h1M173.7 153.9h1M177.2 151.9h1M181.1 154.2h1M182.4 147h1M169 156.4h1M179.4 160.3h1M173.9 153.8h1M182.1 162.8h1M172.4 153.5h1M176.5 156.8h1M183.4 157.9h1M172.2 159.2h1M173.4 155.3h1M171 161.5h1M180.6 159.4h1M180.5 152.2h1M185.9 156.5h1M171.9 149.3h1M183.2 150.6h1M174.3 160.1h1M180.3 157.8h1M173.7 155h1M175.9 154.9h1M182.8 158.7h1M175.6 150.9h1M180 150.6h1M181.7 157.1h1M179.8 150.2h1M175.9 163.3h1M178 155.5h1M178.3 159.9h1M176.7 155.8h1M181.6 154.1h1M181.1 158.3h1M173.9 159h1M177.1 156.4h1M180.3 158.6h1M173.6 154.8h1M172.2 156.4h1M176.4 162.9h1M177.2 150h1M176.7 154.8h1M176.2 148.4h1M176.6 152.4h1M173.2 161.1h1M172.9 154.2h1M183.2 154.7h1M175.9 149.7h1M171.2 158.3h1M186.4 152.6h1M171.5 152.5h1M180 153.4h1M181.3 158.6h1M173 151.2h1M174.9 159.6h1M170.2 155.9h1M178.7 155.7h1M180.7 151.7h1M174.4 154.4h1M178.7 156.3h1M173.2 161.6h1M173.9 160.8h1M172 151.7h1M180.2 158.3h1M178.6 157h1M170.3 154.3h1M178.3 154.1h1M171.5 155.2h1M175.6 155.9h1M180.9 158.1h1M177.7 158.8h1M170.5 149.9h1M179.3 145.8h1M173.7 153.3h1M177.8 157.9h1M178.1 157.1h1M181.3 154.6h1M181.7 151.9h1M174.8 157.6h1M176.1 155.6h1M180.8 156.9h1M178.2 156.9h1M180.2 151.7h1M176.4 154.5h1M177.9 153.8h1M178.2 153.6h1M178.4 153.5h1M180.7 158.6h1M177 157.5h1M178.6 153.6h1M174.9 156.1h1M171.9 157.1h1M182.6 154.5h1M175.4 156.3h1M181.2 157.1h1M173.2 156.1h1M180.2 162h1M178.9 155.6h1M171.2 149h1M186 162.7h1M175.3 151.5h1M180.6 160.2h1M179.5 152.1h1M170.5 147h1M176.4 156.8h1M181.2 153.7h1M177.1 151.4h1M175.4 155.1h1M183.8 153.1h1M180 160.1h1M179.2 156.1h1M183.7 159.6h1M182.8 156.8h1M179.2 149.9h1M178 159.5h1M173.9 151.7h1M187.8 155h1M182.1 155.6h1M175.6 152.1h1M175.1 152.3h1M174.7 156.6h1M174.9 160.8h1M185.5 149h1M178.3 148.8h1M169.5 151.6h1M180.9 162.9h1M176.7 159.4h1M172.9 154.1h1M169.6 151.6h1M170.7 155.1h1M182.6 150.5h1M182.1 155.7h1M181.2 149.5h1M175.5 151.1h1M175.3 158.7h1M179.8 154.8h1M183.1 152.5h1M177.4 153.5h1M176.9 156.1h1M178.8 156.8h1M179.7 155h1M178 157.7h1M185.1 151.2h1M183.3 157.4h1M173.7 151.3h1M185.5 156.4h1M182.9 156.9h1M176.7 155.7h1M180.5 156.8h1M179.8 154.3h1M166.4 155.4h1M184.6 156.2h1M177.8 163.6h1M183.1 154.8h1M181.3 155.5h1M175.2 151.3h1M178.6 157.2h1M179.2 151.6h1M182.2 156h1M183.3 157.5h1M181.6 147.2h1M173.2 147.3h1M169 151.1h1M176.4 155.4h1M176.9 152.8h1M178.1 155.3h1M174.5 150.2h1M183.9 150.9h1M183.8 149.7h1M172.6 157h1M185.5 151.2h1M175.2 155.5h1M173.6 162.5h1M177 153h1M174.8 151.2h1M180.7 151.5h1M174.9 150.1h1M174 156.4h1M173.6 158.3h1M176.3 154.2h1M169.8 158.2h1M179.8 156.7h1M173.8 154.2h1M172.5 155.8h1M176.9 161.6h1M176.9 155.7h1M177.9 154.6h1M184.4 157.2h1M183 148.8h1M184 157.2h1M172.8 154.1h1M181.8 152.9h1M180 160.1h1M180.7 151.1h1M176.6 154.2h1M176.8 156.8h1M174.1 153.6h1M170.1 155h1M187.9 150.4h1M177.6 154.7h1M173.3 153.3h1M177.7 157.8h1M178.3 148.9h1M182.4 156.1h1M171.6 155.8h1M180.2 154.5h1M183.7 151.2h1M178.3 152.7h1M185.5 149.6h1M177.5 156.5h1M175.3 156.3h1M179.6 158.8h1M178.5 152.9h1M176 154.7h1M183.9 149.9h1M177.5 151.2h1M182.9 158.9h1M177.6 155.9h1M168 152.1h1M179.3 154.5h1M184.8 155.2h1M182.4 155.7h1M185.9 159.7h1M174.9 152.5h1M182.1 158.8h1M177.3 156.3h1M183.9 161.1h1M178.2 157.9h1M184 156.5h1M176.3 157.3h1M177.1 151.5h1M176.1 152h1M184.6 160.8h1M181.5 155.8h1M182.6 154.5h1M179.7 154.4h1M177.1 159.9h1M181.6 155.9h1M182.6 151.9h1M172.9 157.2h1M174.9 153.4h1M179.9 153.6h1M171.3 151.9h1M164.6 158h1M174.6 161.6h1M175.5 146.4h1M172.6 158h1M182.6 155.1h1M172.2 158h1M174.7 158.7h1M180.6 158.4h1M180.8 152.6h1M174.5 155.4h1M182.4 153.3h1M180.9 157.6h1M180.2 151.8h1M183.9 148.3h1M179.3 158.8h1M182.3 155.1h1M176.5 152.5h1M178 153.3h1M181.3 154h1M172.3 150.1h1M174.2 155.4h1M176.9 158.8h1M176.6 150.8h1M180.5 151h1M180.3 151.3h1M179.2 164.9h1M172.3 154h1M185.9 155.7h1M170 157.7h1M174.6 158.4h1M172 156.8h1M179.5 152.2h1M179.7 151.9h1M172.5 158.9h1M182.6 154.6h1M179.6 153.3h1M173.5 156.9h1M175.1 156.3h1" stroke="#000" stroke-width="1" stroke-opacity="0.45"/>
<path d="M198.8 161.7h1M200.5 159.2h1M205.7 157.8h1M201.2 160h1M205.8 153.9h1M194 155.4h1M183.8 156h1M192.9 164.4h1M205.4 155.9h1M193.8 160h1M191.7 153.6h1M198.2 154.6h1M194.7 160.3h1M180.9 157.6h1M190.3 150.5h1M194.6 165.2h1M189.6 157.5h1M191.9 162.3h1M204.8 162.8h1M196.3 154.4h1M194.7 160.6h1M190 157.4h1M206.1 148.5h1M201.2 153.9h1M192 161.5h1M191.6 157.6h1M181.3 164h1M190.5 161.3h1M195.9 160.6h1M172.6 160.3h1M206.5 159.9h1M205.8 155.7h1M184.2 155.4h1M184.1 158.1h1M200.2 163.2h1M187.4 159.4h1M194 159.1h1M189.9 156h1M191.6 160.6h1M194.4 153.4h1M199.4 149.8h1M195.7 158h1M197.1 153.1h1M190.7 154.4h1M188.7 158.3h1M205.4 165.5h1M188.4 155h1M189.5 154.6h1M195.9 157.1h1M184.6 159h1M198.4 162.6h1M191.9 152.4h1M188.7 157.2h1M196.8 148.7h1M196.3 161.5h1M213.5 148.6h1M200.4 156.3h1M196 157.8h1M201.1 154.4h1M202.7 154.9h1M205 155.1h1M203.6 152.1h1M196.4 157.1h1M195 158.5h1M193.1 161.6h1M202.7 153.4h1M194 152.5h1M199.5 158.2h1M189.9 157.6h1M198.6 155.2h1M200.7 151.6h1M195.4 162.6h1M196.2 152.6h1M199.9 157.5h1M207 157.6h1M200 152.5h1M195.1 161.5h1M190.6 154h1M195.8 163.1h1M200.9 157.3h1M199.7 162.5h1M192.1 154.9h1M199 156.7h1M190.4 154.9h1M198.3 153.3h1M203.2 159.1h1M204.8 159.7h1M195.1 159.3h1M188.9 155.5h1M200.1 153.6h1M206.4 157.1h1M197.7 160.2h1M199.5 156.5h1M192.1 158.9h1M197.3 149.8h1M192.8 160.2h1M197.8 154.2h1M186.1 159.2h1M213.2 158.5h1M199.9 159h1M213.5 155.1h1M199.5 155.9h1M199.1 157.6h1M195.7 163.8h1M194.5 156.7h1M197.4 154.5h1M205.4 158.7h1M202.3 153.7h1M187.1 149.7h1M197.5 159.6h1M189.2 156.5h1M199 156.3h1M194.5 153.8h1M195.7 165.2h1M203.5 156.7h1M190.8 162h1M198.7 154.3h1M184.9 156.8h1M194.9 160.1h1M199.4 159.2h1M201.7 158.2h1M196.3 158.9h1M203.9 156h1M196.5 163.9h1M193.3 154.5h1M199.2 159.9h1M191.3 154.5h1M203.8 155.6h1M201.9 154.9h1M210.1 160h1M199.9 158.6h1M202 156.9h1M205.6 162.8h1M190.9 161.6h1M184.2 161.1h1M203.1 160.9h1M181.3 153.3h1M189.7 156.9h1M209.2 151.5h1M201.4 155.5h1M197.2 150h1M197.3 147.2h1M194.4 156.6h1M195.5 155.4h1M198.1 163.5h1M201.2 158.2h1M213.7 162h1M191.2 158.1h1M201.2 155.2h1M205.6 157.5h1M193.1 154.2h1M196.9 163.5h1M190.3 157.1h1M205.4 158.2h1M192.9 160.9h1M187.2 162.2h1M196.3 161.1h1M195.6 161.6h1M193.7 154.1h1M193.1 154.7h1M186.4 158.5h1M214.2 165h1M197.6 152h1M190 159.9h1M195.6 154.5h1M192 157h1M189.1 154.8h1M183.2 150.3h1M185.1 160.1h1M196.7 154.6h1M191.7 153.9h1M207.9 158.6h1M210.6 158.8h1M192.8 153.5h1M208 156h1M176.8 154.5h1M196.6 156.8h1M191.4 157.2h1M195.7 158.3h1M199.1 157.3h1M197.4 148.9h1M195.7 155.9h1M201.5 159.2h1M192.2 156h1M193.5 158.6h1M191 154.1h1M205.3 158.7h1M195.8 165.1h1M206 157.1h1M188.9 152.8h1M192.4 156h1M199.1 155.9h1M187.9 149.4h1M202.5 156.1h1M204.9 147.4h1M200.2 158.5h1M212.2 156.6h1M200.1 161.7h1M179.7 158.6h1M203.2 156.2h1M203 158.4h1M193.5 156.4h1M200.7 155.9h1M202.3 150h1M192.8 154.6h1M196.5 152.9h1M193.6 154.6h1M198.2 156.1h1M197.4 154.2h1M193.8 155.2h1M205.9 157.4h1M190.7 158h1M192.1 157.5h1M189.9 155h1M194.1 162.2h1M195 153.9h1M178.2 159.2h1M185 163.8h1M200.7 165.6h1M201.8 155.5h1M202.6 155.9h1M203.1 157.3h1M207.6 153.7h1M196.4 156.6h1M196.6 153.6h1M190.4 158.5h1M192.1 167.1h1M193 154.2h1M182.9 159.3h1M181.2 160.8h1M188 156.9h1M185.8 159.6h1M196.4 159.3h1M206.9 152.9h1M203.6 157.1h1M195.6 152.5h1M212.5 160.6h1M197.3 157h1M196.1 146.4h1M201.3 148.4h1M207.3 155.3h1M206.8 154.2h1M188.2 161.4h1M197.3 162.8h1M197.5 160h1M200.2 155.9h1M195.2 153.1h1M193.7 161.6h1M202 160.4h1M193.1 164h1M193.1 164.2h1M189.7 154.7h1M190.6 158.1h1M182.6 153.9h1M201.6 155.9h1M192.7 156.9h1M193.8 157.9h1M202.5 148.9h1M197.7 155.4h1M194.7 158.3h1M193.1 151.2h1M200.4 158.1h1M192.9 156.4h1M189.2 153.5h1M196.3 152.7h1M190.4 157.2h1M197.4 159.2h1M208.5 162h1M192.2 156.4h1M197.4 155.9h1M186.9 161.6h1M203.5 156.7h1M194.9 151h1M200.5 153.6h1M197.3 156.3h1M192.5 156.1h1M185.2 158.6h1M193.3 156h1M196.2 162.2h1M193.7 159.3h1M186.2 152.9h1M193.6 161.8h1M219.8 158.6h1M192.5 151h1M189.8 160.8h1M188.3 158.3h1M187.8 157.3h1M196.8 152.7h1M194.7 157.5h1M203.1 160.1h1M182.4 162.6h1M205.1 153.3h1M196.1 155.8h1M193.5 158.9h1M200.2 162.6h1M205.9 155.4h1M202.6 155.7h1M197.2 161.8h1M205.4 157.4h1" stroke="#000" stroke-width="1" stroke-opacity="0.42"/>
<path d="M185.7 150.8h1M197.2 161.6h1M171 157.4h1M181.8 154.2h1M189.1 164.3h1M195 152.2h1M188.7 157h1M185 154.6h1M174.6 153.7h1M190.8 165.5h1M208.5 155.7h1M166.3 159.7h1M198.7 160.5h1M191.9 148.3h1M196.2 158.3h1M183.8 161.5h1M197.7 162h1M191.9 147.8h1M174.2 164.8h1M177.3 158h1M174.7 156.3h1M183.6 151.4h1M179.1 156.5h1M191.3 151.4h1M198.5 160h1M166.4 154.6h1M193.6 149.5h1M178.7 158.9h1M196.2 163h1M174.2 158.2h1" stroke="#000" stroke-width="1" stroke-opacity="0.45"/>
<path d="M439.1 154.3h1M445.5 155.3h1M436.2 154.3h1M434 157.1h1M438.1 161h1M441.7 155.8h1M437.1 155.4h1M437.1 157.8h1M439 153.5h1M434.9 157.6h1M441.1 154.6h1M440.4 159.2h1M436.1 156.4h1M433.3 153.3h1M436.4 154.3h1M438.3 152.3h1M444 150.7h1M435.7 159h1M437.4 151.9h1M439.2 156.2h1M437.2 152.7h1M433.6 157.7h1M444.5 150.9h1M438.8 150.8h1M446.1 156.5h1M436 156h1M438.5 150.9h1M441.6 154.9h1M444.5 150.4h1M431.9 161.6h1M437.9 161.6h1M436.3 154.2h1M438.6 156.5h1M436.3 157.5h1M444 148.7h1M437.3 158.5h1M436.5 153.6h1M435.2 154h1M441.2 151.2h1M444 147.4h1M441.6 150.2h1M440.4 155.1h1M435.4 157h1M441.9 148.4h1M429.9 163.3h1M436.1 156.8h1M434.1 160.3h1M436.7 152.2h1M435.3 153.2h1M434.5 153.7h1M437.7 156.4h1M440.2 145.5h1M435 157.4h1M441.1 156.1h1M434.9 152h1M438.6 153.5h1M446 149.2h1M446 150.3h1M444.6 146.1h1M437.9 151.9h1M433 152.3h1M435.7 152.5h1M430.1 159.8h1M438.4 150.3h1M437.2 158.4h1M433.9 155.7h1M436.9 145.2h1M432.7 155.7h1M436.7 152h1M439.1 151.1h1M441.3 148.1h1M437.6 156.7h1M432.2 159.6h1M439.3 154.2h1M437.7 149.3h1M439.1 156h1M441.5 155.9h1M432.2 152.5h1M436.1 153.9h1M434.8 153.4h1M437.5 152.6h1M437.5 159.1h1M431.6 158.1h1M437.4 157h1M444.2 159.5h1M438.7 150.1h1M433.1 161.7h1M437.1 157h1M434.3 154.1h1M442.1 153.2h1M431.4 150.6h1M437.7 153.8h1M436.1 154.5h1M441.7 153.9h1M439.2 151.6h1M433.4 157.6h1M438 153h1M435.8 152.2h1M436 153.6h1M446.2 152.5h1M435.9 161.8h1M438.2 154.5h1M442.5 156.2h1M438.3 164.5h1M432.7 157.5h1M440.2 150.4h1M439.1 149.4h1M437.7 161.8h1M445.2 160h1M444.7 150.1h1M440.3 154.3h1M438.1 158.6h1M440.7 152.6h1M444.2 152.6h1M435.7 146.4h1M438.3 156.1h1M438.3 150.4h1M440.8 152.4h1M444 151.2h1M438.9 155.9h1M434.9 154.7h1M434.6 154.1h1M443.1 152.3h1M429.4 159.1h1M440 151.4h1M435.3 159.8h1M435.8 153h1M440.3 160.1h1M432.9 154.2h1M439.7 153.8h1M440.7 156h1M443.7 157.4h1M438.3 152.1h1M442.6 153.3h1M440.1 150.3h1M433.7 156.9h1M434.8 155.4h1M444.4 149.4h1M430.6 157.4h1M431.5 145.4h1M437.2 153.5h1M440.7 155.9h1M438.6 155.1h1M436.8 157.3h1M442 152.2h1M443.5 150.7h1M434.5 154.9h1M444.4 152.1h1M446.5 150.2h1M441.1 151.5h1M434.2 155.6h1M436.1 156h1M443.9 153.4h1M437.3 153.5h1M445.9 153.2h1M434.4 154h1M435 160.6h1M441.9 154.3h1M435.4 155.5h1M433.8 162.4h1M441.9 152.1h1M441.4 156.2h1M438.8 154.6h1M437.5 158.9h1M437.9 159.1h1M434.7 160.5h1M442.1 149.5h1M436.1 155h1M443.9 148.2h1M441.1 158.6h1M430.9 154.1h1M439 152.5h1M440.8 152.3h1M436.3 152h1M435 159.4h1M436.7 152.1h1M438.7 157h1M440.8 151h1M444.4 152.4h1M438.6 156.3h1M437.4 153.3h1M442.8 151.8h1M434.4 156.7h1M432 153.9h1M438.2 158.6h1M444.1 155.7h1M446.8 151.9h1M437.9 151.7h1M434.8 155.6h1M440.2 151.8h1M434.4 158h1M432.2 161.6h1M442.1 151.8h1M439.3 151h1M436.7 156.2h1M433.3 153.9h1M440.9 154.3h1M429.3 154.8h1M431.4 157.7h1M435.8 158.8h1M440.5 152.2h1M442.4 154.9h1M438.9 151.7h1M433.5 152.7h1M438.9 148.5h1M435.9 159.2h1M438.7 150h1M445.9 154.2h1M436.2 156.5h1M441 151.8h1M438.3 150.4h1M435.2 156.8h1M443 150.9h1M444 148.6h1M439.7 150.7h1M436.9 158.8h1M443.2 153.4h1M442.3 155.6h1M447.7 150.9h1M438.4 155h1M435 154.1h1M437.2 156.1h1M434.6 153.8h1M443.8 152.4h1M439.9 157h1M438.2 157.7h1M439 153.1h1M438.8 153.8h1M429.6 160.5h1M440.5 150.3h1M434.2 157.5h1M438.9 156.8h1M441.6 151h1M439 156.1h1M436.8 158.8h1M446.6 147.8h1M437.1 151.5h1M436.7 160.2h1M443.9 149.5h1M440 153.4h1M430.6 153.8h1M434.6 158.1h1M439.6 152.2h1M437.4 153.8h1M440.4 150.4h1M436.4 150.6h1M445.2 154h1M438.6 159.2h1M438 153.3h1M435.8 152.7h1M431.9 154h1M437.1 146.5h1M437.9 146.8h1M444.1 155.8h1M437.1 158h1M438.1 157.5h1M437.2 156.5h1M436.9 162h1M439.1 154.5h1M438.7 153.5h1M439.6 153.1h1M441.4 154h1M443.7 147.7h1M439.5 152.8h1M442.3 150.8h1M441.9 148.9h1M441.8 156.9h1M435 151.5h1M433.5 153.1h1M437.1 156.3h1M441.6 150.8h1M436.1 162.3h1M436 153.6h1M438 160.4h1M426.6 156.4h1M436 150.9h1M442.6 157.7h1M440.1 155h1M447.2 151.1h1M442.4 150.9h1M435 157h1M431.2 159.5h1M445.7 153h1M439.8 157.2h1M439.9 152h1M434.9 153.5h1M438 158.2h1M436.4 155.7h1M435.8 155h1M444.4 144.8h1M442.4 143.4h1M435.2 160.8h1M438.3 153.6h1M442.5 155h1M431.3 152.4h1M443.4 154.5h1M437.7 152.1h1M434 155.5h1M438.9 151h1M438.2 155.4h1M441.6 158.3h1M434.7 154.1h1M433.1 152.3h1M435.7 157.4h1M445.2 153.6h1M443.3 151h1M435.3 153.9h1M440.6 155.9h1M437.8 157.3h1M434.2 154.1h1M442.9 147.4h1M439.2 155.8h1M436.4 154.7h1M443.8 150.7h1M435.3 154h1M433.6 161.8h1M445.9 146h1M446.5 148.5h1M432.3 156.1h1M446.4 149.9h1M429.1 157.4h1M439 155.4h1M443 158.2h1M441.9 147.9h1M438.4 156.6h1M442 146.2h1M436.7 156.9h1M441.2 150.8h1M437.5 158.9h1M442.1 162h1M441.1 153.5h1M447.6 149h1M440.4 156.9h1M441.2 154.8h1" stroke="#000" stroke-width="1" stroke-opacity="0.45"/>
<path d="M74.4 238.5h1M73.3 245.2h1M81.4 243.5h1M68.2 246.2h1M77.9 239.6h1M83.5 238h1M69.1 237.3h1M67.8 240h1M83 241.2h1M77.1 240.9h1M79.3 244.6h1M77.8 241.2h1M74.2 247h1M58 234.1h1M64.4 240.8h1M72.3 241.7h1M67.4 244.1h1M75.9 246.1h1M75 240.4h1M77.8 240.2h1M73.5 248.3h1M75.3 248.1h1M66.1 249.7h1M67.8 241.9h1M76.5 238.2h1M60.7 241.1h1M82.1 238.7h1M73.8 240h1M67.9 240.9h1M78.6 244.2h1M80.1 240.7h1M80.4 243h1M68.7 246.5h1M76.7 244.2h1M83.9 246.4h1M66.1 248.9h1M68 246.5h1M67.3 242.9h1M74.5 238.6h1M66 240.4h1M73.4 240.2h1M70.1 238.3h1M77.8 244.9h1M75 241.8h1M78.5 235.9h1M75.7 239.3h1M70.6 246.4h1M77.9 242.3h1M71.6 242.6h1M70 247.5h1M75.3 237.5h1M69.4 241.2h1M65.6 242.3h1M84.4 243.3h1M64 247.8h1M85.9 244.6h1M71.8 238.1h1M75.7 237.2h1M67.9 238.7h1M73.5 250h1M76.4 248.9h1M81 240.2h1M64.1 241.4h1M82.6 244.1h1M76 242.5h1M72.9 241h1M84.6 245.9h1M73.5 238.4h1M77.7 243.5h1M68.9 246.8h1M75.2 241h1M72.2 244.2h1M82.7 246.3h1M65.7 241.9h1M66.3 243.9h1M67.4 240.7h1M82.8 237.8h1M84.4 245.7h1M67.8 246.6h1M79.3 243.7h1M60.1 243.4h1M66.9 243.3h1M76.5 241.1h1M80.5 246.8h1M79.2 247.7h1M66.2 245.1h1M70.9 239.1h1M64.3 241h1M74.6 241.9h1M79.9 243.2h1M69.2 246h1M81.7 241h1M78.1 246.4h1M71.8 243.9h1M81.3 238.1h1M78.4 236.3h1M69.5 240.6h1M72.1 247.5h1M65.3 239.2h1M85.5 249h1M57.1 242.5h1M75.4 236.7h1M77.1 239.9h1M75 246.7h1M68.2 245.5h1M78.6 242.7h1M81.4 243.6h1M76.4 248.3h1M60.9 243.6h1M65.4 240.8h1M76.4 238h1M74.1 241.6h1M64.1 246.2h1M71.1 240.9h1M66.8 246.3h1M82 244.9h1M65.6 245.2h1M72.9 248.6h1M72.3 245.7h1M84.3 246.1h1M77.4 240.5h1M81.6 237.5h1M74.5 239.7h1M88.4 242.8h1M71.3 244.2h1M78.2 238.4h1M79.5 247.8h1M78.9 243.3h1M83.8 240.7h1M78.5 239.1h1M78.2 244.2h1M77.9 243.1h1M76.7 241.7h1M79.4 242.3h1M70.5 238.5h1M68.5 240.6h1M79.8 243.9h1M63.4 246.9h1M78.1 242.1h1M79.1 237.2h1M64.3 245.6h1M60.4 243.9h1M69.1 240.3h1M65 239.4h1M76.2 240.6h1M68 246.6h1M81.7 246.8h1M74.7 246.7h1M81.7 238.6h1M82 240h1M67.6 239.4h1M76.4 237.5h1M70.2 244.3h1M80.1 246.7h1M72.3 242.5h1M69.6 240.9h1M72.1 242.4h1M67.1 244.2h1M69.7 246.8h1M67.6 239h1M72.5 246.3h1M87.2 238.9h1M72.1 248.3h1M83.3 238.2h1M83.1 244.9h1M74.8 237.4h1M73.3 247.2h1M81.3 240.1h1M66.6 239.2h1M80 246.7h1M67.9 240.7h1M76.9 241.4h1M72.5 243.8h1M73.3 241.1h1M68.3 239.6h1M70.5 239.7h1M81.8 240h1M68 241.8h1M70.1 245.5h1M66.1 238.6h1M82.8 248.1h1M72.3 249.6h1M61.4 244.8h1M63.8 242.9h1M71.6 247.5h1M75.8 241.6h1M71.7 241.6h1M84.1 237.7h1M69.6 238.3h1M75.9 243.4h1M77 242.6h1M82.6 244.2h1M68.5 243.1h1M66.2 247.8h1M60.4 236.8h1M66.9 241.9h1M79.7 242.7h1M72.8 244.2h1M73.4 239.8h1M64.3 246.3h1M63 246.7h1M76.1 244.3h1M77.5 237.2h1M81.2 243.8h1M78.9 247.5h1M70 242.6h1M77.8 241.7h1M67.2 235.7h1M76.2 237.6h1M83.1 241.2h1M67.5 249.1h1M82.1 242.3h1M68.7 243.9h1M71.5 238.7h1M68.4 246.9h1M80.8 241.7h1M68.3 243.9h1M69.9 242.2h1M80.4 244.5h1M62.4 239.1h1M69.5 247.6h1M65.7 244.4h1M84.1 240.9h1M68.1 238.9h1M83.2 245.6h1M69.6 244.5h1M72.7 243.6h1M87.7 245.9h1M69.6 241.9h1M78.3 239h1M67.9 238.2h1M67 246.5h1M66.9 239.5h1M63 242.4h1M78.8 244.8h1M68.3 237.4h1M74.5 241.6h1M70.4 242.1h1M63.6 238.5h1M66 248.1h1M79.2 242.8h1M82 248.2h1M73.9 245.4h1M69.8 247.2h1M81.8 243.2h1M81.9 244.9h1M64 237.6h1M74.6 238.3h1M72.6 242.7h1M68.6 241.2h1M79 245.1h1M81.6 242.1h1M80.9 244.8h1M60.4 242.2h1M84.5 243.8h1M63.8 245.3h1M62.5 243.9h1M61.2 239h1M76.6 237.2h1M68.1 239.7h1M60.1 241.9h1M65.9 242h1M75.8 242.5h1M79.3 244.6h1M77.5 240.2h1M75.8 242.1h1M82.6 237.4h1M71.9 243.2h1M74.9 241.8h1M79.1 244.7h1M64.7 238.9h1M63.6 245.3h1M82.7 239.1h1M79.3 237.3h1M69.9 243.9h1M71.7 247.7h1M88.7 242.1h1M61.2 249.2h1M70.7 237.9h1M66.1 236.6h1M79.9 247.3h1M65.2 246.2h1M64.6 244.8h1M59.1 241.5h1M74.5 238.8h1M79.2 243.2h1M74.7 246.3h1M75.6 241.3h1M75.4 242.4h1M66.3 238.5h1M87.1 241.7h1M80.1 240h1M70.1 241.1h1M78.8 244.3h1M82.9 236.2h1M61.9 242.5h1M74.6 247.8h1M62.9 236.1h1M55.1 247.1h1M69.5 249.9h1M74.3 245.7h1M64.5 235.8h1M73.5 242.5h1M68.5 237.9h1M75.5 241.7h1M79.3 239.9h1M65.2 239.9h1M76.2 244.5h1M71.7 245.4h1M70.1 240.1h1M61.4 242.8h1M78 237.9h1M69.6 246.2h1M78.2 240.2h1M71.9 239.3h1M71.6 238.1h1M71.3 244.5h1M83.9 237.3h1M67.9 238.7h1M69.3 241.9h1M64.3 243.2h1M81.5 246.1h1M76.4 244.9h1M65 234.4h1M63.5 242.7h1M79.4 238.3h1M66.5 237.9h1M73.3 239.2h1M68.8 243h1M73.4 237.8h1M78.3 237.9h1M63.5 243.3h1M71.3 239.9h1M74.7 245.7h1M79.6 242.4h1M61.8 240.1h1M67.6 242.1h1M79.5 244.8h1M76.6 237.6h1M72.8 238.8h1M67.6 244h1M74.4 236.7h1M75.5 243.1h1M73.8 242.8h1M79.3 239.2h1M66.5 240.6h1M66.5 242.7h1M67.9 241.9h1M81.1 239.6h1M76.6 247.8h1M76 242.5h1M65.9 245.7h1M76.8 241.2h1M86.3 245.3h1M67.2 239.7h1M70.9 246.5h1M73.7 240.5h1M75.7 241.5h1M72.8 235.9h1M70.6 239.4h1M72.9 236.2h1M83.2 245.5h1M78.8 241.2h1M72.3 246.6h1M65.6 237.8h1M67.1 245.9h1M80.3 241.4h1M71.1 241.4h1M64.9 243h1M61.5 244h1M70.2 244.2h1M64.8 246.7h1M81.5 239h1M68.2 244.7h1M67.5 249.3h1M68 243.5h1M70.6 245.8h1M79.9 239h1M72.5 242.4h1M61.6 239.6h1M73.8 245.3h1M66.9 246.3h1M68.8 243.9h1M71.5 241.8h1M64.5 238.1h1M73.6 246.2h1M61.3 247.8h1M68.1 245.5h1M84.7 245.9h1M69.7 247.6h1M69.9 240.3h1M79.2 245.8h1M64.7 246.6h1M66.8 244.6h1M80.5 249.5h1M66.2 236.9h1M68.7 247.4h1M73 241.8h1M64.2 247.3h1M76.1 245.3h1M79.6 240.3h1M78.9 242h1M76.3 244.6h1M72.8 246.1h1M84.9 244.3h1M78.3 236.5h1M87.2 240.1h1M83.6 239.8h1M80.6 240.4h1M63.2 238.5h1M65.7 243.5h1M80.4 248.4h1M60 240.6h1M69.3 243.1h1M69.4 241.6h1M76.1 245.6h1M66.2 243.3h1M68.2 237.7h1M79.1 241.8h1M64.8 248.2h1M77.9 242h1M58.8 243.4h1M85.4 247.7h1M68.2 245.5h1M64.1 245h1M80.2 247.5h1M81.4 237.6h1M81.7 240.4h1M61 236.3h1M83.4 243.6h1M77.4 240.6h1M83.2 248.1h1M84.5 238.1h1M79.3 245.8h1M76.2 248.8h1M59.7 241.5h1M75.6 237.9h1M79.1 239.1h1M83.6 243.5h1M64 243.5h1M66.3 240.7h1M61.1 239.2h1M83.5 240.7h1M81.8 243.8h1M77.4 245h1M80.8 237h1M74.3 241.1h1M80.7 241.9h1M77.8 237.9h1M68.3 242.7h1M76.8 238.9h1M66.4 242.9h1M82 241.1h1M83.1 250.6h1M82.5 236.5h1M83 244.7h1M80.8 249.2h1M64.7 243.8h1M71.4 246.7h1M87.5 244.4h1M73.4 246.4h1M69.9 237.8h1M60.8 245.9h1M70.8 236.7h1M78 243.4h1M74.4 243.8h1M73.7 238.2h1M81.7 239.6h1M73.6 244.4h1M73 240.2h1M65.7 238.9h1M74.8 238.3h1M71.3 238.3h1M73.5 242.6h1M74 242.7h1M73.9 245.9h1M83.3 243.3h1M62.5 244.9h1M65.4 244.3h1M75.2 246.2h1M76.2 249.6h1M80.6 244.3h1M63.3 239.3h1M78.8 240.3h1M77.4 245.8h1M75.6 239.5h1M61.9 236h1M66.8 235.4h1M64.4 239.2h1M68.8 240.2h1M73.1 237.9h1M83.4 238.5h1M71.7 244.9h1M70.3 234.9h1M65.2 240.3h1M75.3 239.4h1M71.5 245.2h1M84.9 241h1M68.4 243.8h1M86 250.6h1M81 241.7h1M79.3 238h1M63 248h1M75.5 242.9h1M66.7 246.5h1M74.4 242h1M59.8 243.4h1M64.5 239.1h1M77.5 244.8h1M76.2 241.3h1M78.9 239.6h1M73.4 247.3h1M71 241h1M65.3 241.4h1M68.8 237.8h1M62.7 244.9h1M79.7 236.8h1M66.5 243.2h1M61.5 247.5h1M61.1 245.3h1" stroke="#000" stroke-width="1" stroke-opacity="0.42"/>
<path d="M56.8 239.4h1M47.4 244.1h1M65.2 241.5h1M64.8 242.5h1M56.2 238.5h1M53.5 247.9h1M39.8 238.8h1M48.7 243.8h1M41.1 241.1h1M31.6 240.7h1M52.3 242.1h1M43.6 241.5h1M52.2 240.4h1M50.6 250h1M59.5 243.4h1M49.5 249.7h1M59.7 252.1h1M53.5 244h1M49.5 241.3h1M40.8 246.5h1M56 241.6h1M61.7 240.8h1M48.3 242.9h1M36.3 237.8h1M48.1 244.2h1M56.9 245.6h1M38.5 241.7h1M56.5 242.8h1M61.7 246.7h1M42.2 248.4h1M43.7 245.3h1M51.5 242.3h1M43.1 243.1h1M45.3 242.3h1M46.1 237.7h1M42.3 250.1h1M44.3 249.3h1M62.1 246.4h1M48.5 245.9h1M50.8 238.6h1M61.9 242.6h1M49.4 241.8h1M30.8 241.7h1M42.7 241.7h1M59.2 243.9h1M59.9 242.5h1M32.8 244.2h1M45.5 234.1h1M61.5 247.5h1M55.4 237.7h1M29.9 244.3h1M50.8 248.2h1M62.3 241.7h1M58.6 250.9h1M58.3 238.3h1M53.4 249.8h1M53 243.6h1M45.8 243.3h1M33.1 245h1M50.1 241.4h1M55.6 244.6h1M53 241.6h1M45.1 245.6h1M48.2 238.7h1M51.7 241.7h1M52.8 240.7h1M56.2 251.5h1M51.2 247.1h1M54.9 247.2h1M56.1 241.5h1M56.4 239.7h1M64.9 243.9h1M28.8 240.3h1M43.4 241.6h1M48.6 243.7h1M33 247.9h1M49.1 241.9h1M45.3 245.4h1M49.6 239.9h1M27.8 243.9h1M66.7 242.1h1M52.6 243.4h1M57.5 245.9h1M56.7 241.8h1M44.5 238.8h1M47.2 242.8h1M67 238.7h1" stroke="#000" stroke-width="1" stroke-opacity="0.4"/>
<path d="M47 245.9h1M53.3 240.3h1M46.5 249.8h1M49.1 241.7h1M46.3 241.8h1M39 247.8h1M50.3 241.3h1M47.1 241.8h1M53.9 242.5h1M53.5 242.3h1M48.7 244.1h1M38.6 242.5h1M55.8 245.7h1M55.8 238.5h1M38.8 238.6h1M51.7 238.2h1M47.6 250h1M39.1 240.2h1M47.2 247.2h1M39.7 243.1h1" stroke="#000" stroke-width="1" stroke-opacity="0.4"/>
<path d="M171.4 239.9h1M185.2 239h1M174.5 242.7h1M184.9 247.4h1M192 243.2h1M188.1 243.6h1M185.1 247.5h1M191.9 244.4h1M199.6 240.3h1M191.3 248h1M188 242h1M184.7 240.7h1M189.2 238.5h1M179.8 243.1h1M197 239.1h1M189.1 245.5h1M183.5 245h1M190.5 238.5h1M179.1 242.5h1M178.7 239.1h1M175.2 243h1M180.9 238.8h1M190 238.9h1M179.9 239.9h1M187.2 242.1h1M192.5 239.9h1M176.9 238.8h1M174.8 236.6h1M186 240.7h1M195.4 240.6h1M188.4 241.1h1M182.8 241.6h1M184.7 246.2h1M183.1 248.6h1M173 237.7h1M171.7 240.7h1M192.2 242.7h1M187.7 248.5h1M177 238.6h1M187 243.5h1M176.3 241.2h1M173.1 246.4h1M179.7 239.2h1M179.3 239.8h1M181.4 245.1h1M176.8 245h1M187.2 238.6h1M183.9 246.7h1M178.5 244.2h1M184.7 242.1h1M185.5 241.5h1M188.3 239.5h1M182.1 242.1h1M183 244h1M174.2 240.7h1M182.3 242.2h1M190.9 242.8h1M189.2 243.5h1M194 245.6h1M179.3 240.8h1M184.2 241.7h1M186.4 241.7h1M173.4 248.1h1M185.8 245.3h1M185.4 239.3h1M176.8 243h1M184 240.9h1M189.8 244.1h1M189.6 242.6h1M181 243.1h1M185.8 242.9h1M194.9 241h1M179.7 239.4h1M191.2 238.1h1M191 246.4h1M178.5 244.7h1M172.2 240.8h1M195.8 240.8h1M191.2 246.3h1M179.5 242.8h1M195.8 239.4h1M184.4 245.8h1M193.2 240.3h1M175.6 241h1M187.1 246.9h1M179 243h1M197.9 240.9h1M183.9 237.7h1M176.5 246h1M184.9 240.4h1M178.8 238.6h1M172 238.4h1M191.5 248.7h1M188.4 238.5h1M182.1 247h1M182.1 238.2h1M183.7 237.4h1M185.5 247.3h1M182.2 247.3h1M193.7 242.9h1M187 248.2h1M182.2 242h1M191.4 246.1h1M189.2 240.4h1M193.1 239.9h1M187.1 242.1h1M191.5 242.5h1M179.8 245.6h1M192.5 241.9h1M190.3 246.5h1M190.4 242.3h1M181.2 239.4h1M179.6 241.2h1M189 247.9h1M196.1 236.7h1M185.7 239.4h1M177.3 244.8h1M192.9 237.9h1M177.2 247h1M174 242.1h1M170.4 243.5h1M174.9 238.3h1M174.5 244.6h1M184.7 249.3h1M184.1 241.5h1M191.7 238.4h1M179.6 246.7h1M182.5 242.8h1M179.5 243.5h1M184.9 246.9h1M173.3 241.2h1M183.8 239h1M179.6 240.3h1M172.8 242.1h1M190.9 245.6h1M177.4 238.3h1M201.5 245.6h1M177.4 247.2h1M192.2 241.2h1M184.7 244.1h1M180.7 243h1M178.5 239.3h1M182 245.1h1M184.1 240.6h1M177.4 239.9h1M173.6 246.9h1M195.8 245.1h1M177.3 247.8h1M183.3 243.4h1M187.8 243.6h1M194.1 247.6h1M176.3 242.1h1M181.1 239.1h1M187.6 244h1M190.9 240.5h1M186.4 245.5h1M173.9 240.3h1M176 247.6h1M194.7 244h1M171.6 238.1h1M183 240.3h1M186.3 244.4h1M199.6 236.7h1M186.5 244.4h1M190.7 241.5h1M188.7 241.9h1M187.7 243.6h1M182.5 239.5h1M188.6 246.4h1M177.6 247.1h1M180.8 245.5h1M175.6 245.1h1M193.6 247.8h1M195.7 242.8h1M182.1 237.4h1M171.2 239h1M183.2 240.2h1M186.4 240h1M190.6 238.7h1M199.6 244.7h1M195.2 242.5h1M174.2 244.2h1M184.1 243.8h1M185.5 249h1M185.2 241.5h1M180.8 237.2h1M173.2 241.1h1M197.6 247.8h1M175.2 249h1M190.9 239.3h1M176.7 241.2h1M193.3 247.6h1M176 241h1M190.6 237.8h1M181.3 238.6h1M191.9 242.5h1M181.2 243.3h1M177.2 239.1h1M184.8 241.7h1M190.3 239.1h1M188 244.1h1M186.2 239.2h1M174.1 238.2h1M185.9 240h1M192.4 247.5h1M197.9 245.1h1M183.2 245.7h1M185.8 245h1M179.2 239.6h1M195.1 239.5h1M187.6 238.8h1M189.4 240.8h1M192.3 239.4h1M179.5 248.8h1M202.1 243.7h1M183.3 240h1M190.8 240.2h1M185.6 245h1M190.3 238.9h1M197.3 241.3h1M179.2 246.2h1M190 247.2h1M181.2 244.8h1M181.2 240.3h1M194 243.1h1M201.1 245.7h1M169.2 240.9h1M182.1 239.4h1M186.5 242.8h1M172.6 248.4h1M185.5 245h1M185.7 244.4h1M174.8 241.1h1M175.3 243.2h1M183 246.7h1M178.6 247.1h1M190 240.4h1M182.2 244.3h1M196 244.8h1M173.4 238.7h1M196.4 243.3h1M185 241.6h1M171.5 248.1h1M188 239.3h1M192.8 246.6h1M191.7 242.8h1M180.1 246.5h1M192.4 244.2h1M170.3 246h1M186 241.5h1M179.2 243.3h1M174.6 241.8h1M180.7 241.7h1M188.7 238.4h1M186.2 240.1h1M188.2 239.8h1M176 239.2h1M180.9 242.5h1M181.7 236.9h1M176.4 239.4h1M174.4 238.9h1M182.3 240.3h1M185.6 245.6h1M193.6 239h1M177.9 241.1h1M177.8 244.8h1M186 242.5h1M172.8 237.7h1M185.9 239.5h1M173.4 243.7h1M180.8 242.2h1M186.7 244.3h1M170.8 247.1h1M192.7 244.7h1M179.5 240.2h1M183.8 239.8h1M190.8 249.3h1M188.5 237.5h1M174.5 241.5h1M181.1 246.5h1M179.5 242.6h1M179 242.7h1M192.5 239.5h1M191.8 244.7h1M191.4 247.4h1M194.2 241.3h1M187.2 242.4h1M176.1 248.1h1M176.6 243.8h1M176.5 239h1M188.7 236.6h1M182 241.9h1M187.1 240h1M195.7 242.9h1M172.9 244.8h1M172.8 243.4h1M195.6 239.8h1M193.2 243.1h1M178.7 242.4h1M184.1 246.5h1M190.4 240.7h1M185.7 241.7h1M174.2 243.7h1M190.3 246.9h1M192.3 244.7h1M193.7 244.5h1M185.8 243.4h1M190.2 246h1M186.1 244.5h1M190.1 242.8h1M184 248.7h1M179 243.5h1M187.6 243.4h1M194.8 239.2h1M189.7 244.4h1M192.2 241h1M186.6 241h1M194.2 239.3h1M175.9 238.3h1M193.7 245.3h1M187.1 243h1M189.5 239.4h1M179.9 241h1M176.5 240.7h1M189.8 244.5h1M197.1 243.6h1M190.4 243h1M187.5 248.5h1M171.1 247.3h1M179.9 240.7h1M191.8 244.5h1M186.6 245.8h1M184.6 245.4h1M180.2 243.6h1M193 245.7h1M189.1 242.7h1M185.3 243.4h1M189.9 245.4h1M177 248.7h1M176.5 241.3h1M176.1 244.9h1M189 246.7h1M178.6 237.9h1M186.7 242.6h1M183.5 239.7h1M182.7 241.9h1M187.3 239.2h1M175.1 237.8h1M176.3 244.8h1M188.6 240.3h1M181.3 241.2h1M189.6 246.3h1M183.7 245.4h1M192 249h1M179.2 245.2h1M188.4 248h1M198 241.6h1M197.8 244.4h1M181.5 247.3h1M182.1 238.3h1M189 244.7h1M178 243.9h1M179.1 239h1M187 241.8h1M182.6 237.1h1M184.8 237.9h1M174.1 238h1M196.3 243h1M191.4 246h1M193.4 243.7h1M183.3 242.4h1M191.8 241.9h1M183.5 241.8h1M176.8 242.1h1M186.8 248.8h1M180.1 246.5h1M189.2 242.8h1M174 246.5h1M183.4 246h1M185.4 245.5h1M183.7 240h1M180.1 239.8h1M180.8 238.6h1M188.3 238.1h1M193.5 247.9h1M183.7 239h1M182.1 244.4h1M188.9 241h1M177.2 245.8h1M181.1 241.6h1M179.5 242.6h1M176.5 245.1h1M181.6 238.4h1M186.4 243h1M181.6 235.5h1M180.1 236.8h1M183.2 241.2h1M178.7 246h1M190 248.6h1M191.2 238.5h1" stroke="#000" stroke-width="1" stroke-opacity="0.42"/>
<path d="M172 240.7h1M204.4 236.2h1M185.9 237.2h1M168.8 240.8h1M169.3 248.8h1M204.6 239.5h1M203.9 241.1h1M188.8 239.3h1M169.3 240.7h1M196.4 238.5h1M171.3 246h1M183.5 246.2h1M175.7 241h1M185.3 245.8h1M195.8 241.8h1" stroke="#000" stroke-width="1" stroke-opacity="0.45"/>
<path d="M345 240.8h1M348.4 246.5h1M332.9 242.6h1M336.8 244.3h1M338.7 242.1h1M338.3 240.6h1M345.5 239.2h1M353.6 239.9h1M332.4 237.9h1M334.7 238.5h1M332.6 243.7h1M354.8 238.1h1M350.1 239.6h1M341.8 242.3h1M346.2 242.1h1M344.9 240.2h1M351.2 239.2h1M349.3 240.3h1M341.6 240.1h1M351.5 243.5h1M344.7 245.7h1M335.7 246.8h1M341.6 239.5h1M349.1 236.3h1M334.3 244h1M350.1 237.9h1M334.4 244.2h1M343.6 237.5h1M339.4 236.1h1M349.6 243.6h1M354.6 243.7h1M340.2 244.4h1M343.7 245.9h1M333.4 241.1h1M351.1 242.8h1M345.3 240.2h1M337.2 238.6h1M336.1 238h1M337.8 245.2h1M354.8 244.3h1M347.2 244.7h1M337.9 241.5h1M347.2 242h1M330 241.2h1M336.7 236.4h1M352 245.1h1M332.1 240.1h1M350.6 247.5h1M329.7 237.3h1M339.2 241.5h1M349.2 237.6h1M346.4 240.8h1M339.1 242.1h1M349.1 244.2h1M351.9 238h1M339.7 241.5h1M331.6 236.7h1M346.1 246.2h1M340.1 245.7h1M340.4 238.7h1M355.8 244.7h1M341.5 241.5h1M347.6 239h1M347.2 244.7h1M344.1 241.6h1M347.6 247.3h1M331.6 247.2h1M345.6 244.8h1M341 237.8h1M345.7 242.2h1M331.5 241.3h1M350.2 240h1M340.5 243.9h1M350.6 237.8h1M341.6 239.2h1M344.3 236.9h1M334.6 242.5h1M334.4 244.4h1M335.3 242.5h1M331.8 245.7h1M347.6 247.9h1M345.2 247.1h1M350.5 242.3h1M344.9 240.2h1M339.5 240.2h1M351.5 240.3h1M333.2 243.3h1M347.7 246.4h1M343.3 240.7h1M346.8 246.4h1M341.5 244.5h1M344.8 243.1h1M330.8 239.9h1M330.2 244.6h1M349.9 236.4h1M345.4 239.6h1M348.9 239.6h1M350.5 238.4h1M342.3 239.4h1M327.9 246.5h1M330.9 242h1M349.5 236.4h1M343.9 238.6h1M325.3 241.4h1M338.5 241.2h1M341.4 239h1M349 242.1h1M339.6 238.3h1M336.9 244.4h1M350.4 240.2h1M335.8 239.4h1M349.7 242.6h1M350.4 246h1M349.6 245.6h1M346.3 243.5h1M345.7 240.3h1M339.2 245.7h1M346.3 244.6h1M336.1 247.1h1M346.1 245.8h1M346.5 245h1M338.5 245.7h1M346.9 237.5h1M352.7 237.7h1M353.8 245.4h1M346.9 239.9h1M353.3 242.7h1M343.5 240.9h1M343.8 238.5h1M350.6 239.5h1M340.2 240.1h1M338.5 238h1M339.6 243.9h1M334.6 242.6h1M337.7 238.3h1M352.7 239h1M353.4 241.1h1M354.6 236.3h1M338.2 245.1h1M339.7 244h1M343.7 243.7h1M348.9 245.2h1M350 245.2h1M336.5 244.8h1M347.4 244.3h1M334.4 244h1M343.3 240.3h1M332.2 240.8h1M337.5 243.1h1M335.1 242.2h1M344.8 241.2h1M344.8 243.8h1M342.7 243.5h1M351.9 244.8h1M347.6 237.6h1M343.1 245.1h1M350.8 242.9h1M336.8 238.2h1M332.8 239.8h1M347.1 236.1h1M350 245.2h1M353.6 236.1h1M355 239.7h1M335.8 240.1h1M340.2 243.8h1M350.5 239.5h1M337.2 242.9h1M345.3 243.3h1M343.4 241.4h1M338.2 246.9h1M341.6 239.4h1M341.9 238.6h1M334.3 242h1M333.1 245.6h1M352 240.1h1M344.4 246.5h1M350.5 240.8h1M337.3 246.8h1M339.5 242.5h1M354.3 241.6h1M338.3 239h1M346.1 241.4h1M345.8 242.2h1M345.4 237.1h1M343.7 241.7h1M339.5 238.4h1M343.7 236.5h1M331.6 244h1M350.5 245.5h1M340.9 245.7h1M338.4 240.2h1M336.5 247.7h1M350.3 245h1M337.9 244.9h1M343.8 239.7h1M334.5 246.5h1M355.7 243.2h1M343 237h1M338.5 238.5h1M331 240.6h1M336.1 240.1h1M344.7 247.3h1M335.7 239.8h1M346.7 243.7h1M346.9 236.2h1M357.9 236h1M336.8 238.7h1M337.1 239.6h1M344.3 245.3h1M341.3 244.2h1M338.3 246.1h1M347.2 243.3h1M335.1 242.2h1M350.1 239.7h1M338 239h1M350 238.1h1M341.3 240.4h1M333.9 244.6h1M338 242.9h1M346.2 237.4h1M339 243.3h1M347 243.5h1M351.9 245.1h1M351.9 237.6h1M347.5 240.1h1M343.2 240.7h1M348.3 241.1h1M337 243.7h1M332.5 240.6h1M355 242.3h1M352.2 244.3h1M344.2 241h1M349.2 242.1h1M341.6 246h1M350.1 242.1h1M351 244h1M344.9 242.5h1M339.4 245.2h1M344.1 240h1M353.7 242.6h1M350.4 235.9h1M348 241.4h1M357.2 238.4h1M344.3 241.9h1M340.4 242.5h1M338.7 242.6h1M343.3 240.2h1M343.6 245.4h1M327.2 242.3h1M336.6 243.5h1M351.3 240.3h1M339.4 244.3h1M336.2 240.9h1M341.4 239.1h1M349.6 240.4h1M329 238.6h1M341.9 243h1M340.6 246.8h1M340.8 241.1h1M341.7 245.6h1M347.2 237.9h1M347.2 237.8h1M346 237h1M335.1 238.5h1M338.9 235.8h1M335.7 243.6h1M346.3 242.3h1M337.9 245.8h1M344.7 244.2h1M336 243h1M345.6 243.3h1M340.7 246.4h1M347 244.9h1M330.9 243.3h1M335.5 243.4h1M336.9 243.9h1M357.3 241.1h1M356.5 239.2h1M345.9 245.2h1M344.4 239.6h1M351 242.9h1M345.4 244.8h1M345.3 239.4h1M341 244.7h1M333.6 243.6h1M339.8 238.4h1M349.1 243.9h1M343.3 241h1M338.5 239.1h1M331.8 245.7h1M343.3 243.8h1M347.9 242.1h1M340.6 238.1h1M338 240.4h1M335.4 245.6h1M348.7 241.5h1M344 245.4h1M341.3 245.8h1M344.4 247.3h1M350 241.3h1M336.1 244.5h1M341.3 239.2h1M332.9 243.3h1M351.3 240.4h1M346.4 244.5h1M347.4 238.2h1M348.4 236.9h1M341.1 243.9h1M347 247.2h1M344.8 239.6h1M356.5 235h1M349.1 240.6h1M354.5 240.9h1M341 240.6h1M331.9 244.5h1M340.3 240.2h1M337.2 240h1M353.3 244h1M343 245.7h1M343.6 240.4h1M351.1 237.4h1M347.7 241.1h1M340.8 243.2h1M337.9 243.2h1M332.2 246.2h1M334.2 245.7h1M345.9 241.8h1M345.2 242.5h1M336.4 242.3h1M336.2 240.8h1" stroke="#000" stroke-width="1" stroke-opacity="0.42"/>
<path d="M326.5 239.9h1M346.8 239.5h1M333 245.7h1M353.5 241.7h1M329.4 240.9h1M343.9 241.1h1M341.3 237.7h1M343.5 246.6h1M353.5 245.4h1M328.4 238.3h1M333.6 241.9h1M327 235h1M337.8 238.7h1M343.6 238.1h1M351.6 247.7h1" stroke="#000" stroke-width="1" stroke-opacity="0.45"/>
<path d="M312.9 243.9h1" stroke="#000" stroke-width="1" stroke-opacity="0.5"/>
<path d="M453 237.4h1M446.9 244.4h1M459.5 245.2h1M445.1 242.4h1M452 243.4h1M460.3 238.5h1M455.8 244.9h1M455.5 241.3h1M451.5 242.5h1M460 240.7h1M452.8 240.6h1M452.5 245.3h1M448.9 245.2h1M457.2 238.2h1M451.3 242.3h1M464.1 241h1M445.9 244.5h1M465.1 237.4h1M459.8 246.4h1M463.6 243.6h1M446.9 240.6h1M465.4 244.2h1M448.1 249.3h1M448.8 238h1M452.9 244.3h1M458.5 242.9h1M450.6 243.9h1M463.2 241.5h1M448.6 247.9h1M464.9 244.6h1M458.7 241.4h1M460.2 236.9h1M463.8 245.1h1M459.6 238.4h1M458.2 244.9h1M451 243.3h1M454.2 239.9h1M454.2 242.5h1M449.3 241.1h1M460.4 239.6h1M452.7 237.6h1M460.2 240.8h1M455.8 237.6h1M461.4 237.2h1M457.7 246.1h1M453.9 241.7h1M457.2 246.8h1M462.3 245.2h1M452.5 242.8h1M462.1 244.7h1M459.9 239.9h1M454.9 243.9h1M464 244.2h1M457 244.6h1M469 237h1M467.7 239.4h1M453 239.2h1M452.1 238.7h1M456.2 241.1h1M462.5 239.2h1M461.7 244h1M450.8 240.2h1M455.7 236.7h1M451 247.5h1M448.1 246.9h1M456.5 239.3h1M444 239.8h1M451.4 242.4h1M465 243.5h1M462.3 241.4h1M458.5 238.3h1M459.6 239.5h1M462.4 241.5h1M450.6 239.9h1M462.7 241.9h1M466.1 239.8h1M460.3 243.5h1M463.1 238h1M445.1 245.2h1M464.4 238h1M459.3 240.4h1M458.9 242.3h1M453.5 239h1M459.3 245h1M449.3 248.6h1M465 241h1M457.7 238.1h1M449.2 246.2h1M458.6 241.1h1M446 237.6h1M449.6 245.2h1M461.8 238.1h1M453.4 238.7h1M454.5 244.2h1M460.5 238.5h1M454.5 239.5h1M452.8 246.2h1M449.8 240.7h1M451.4 247.2h1M462.3 238.6h1M464.8 241h1M457.6 243.6h1M450.7 242.1h1M452.7 246.7h1M464.5 244.2h1M452.1 238.5h1M451.9 240.9h1M459.6 243.5h1M457.7 247.5h1M456 241.7h1M444.3 242.1h1M453 242.4h1M452.2 238.8h1M455.8 242.6h1M449.6 244.6h1M450.4 248.3h1M454.9 239.7h1M457.9 245.1h1M460 241.3h1M455.9 245.7h1M460 240.9h1M459.1 246.5h1M450.9 242.5h1M455.1 238.9h1M462.2 244.7h1M450.9 247.4h1M462.6 244.2h1M461.2 240.4h1M451.6 243h1M461 239.8h1M457.8 239.4h1M459.5 244.6h1M447.6 241h1M465.3 236.1h1M450.8 245.8h1M454.9 241.1h1M460.9 241.9h1M458.5 245.2h1M449.7 243.6h1M452.8 239.9h1M462.8 242.4h1M450.9 239.2h1M453.4 245.1h1M448.1 240.8h1M463.8 244h1M463.2 245h1M454 241.5h1M460.5 243.9h1M465.8 241.5h1M460.8 237.3h1M462.3 244.3h1M461.6 244.4h1M459.4 238h1M445.7 237.3h1M465.1 240.5h1M448.5 245.2h1M453.9 244.3h1M456.2 240.7h1M463.6 240.1h1M458.3 243.8h1M449.8 244.3h1M453 242.7h1M464.4 237.8h1M442.9 244.6h1M454.3 241.8h1M464 237.8h1M458.7 238.9h1M448.2 243.6h1M463.7 244.1h1M459.9 245.5h1M454.6 236.6h1M463.7 236h1M461.6 243.3h1M457.9 241.8h1M449.4 237.5h1M451.9 243h1M461.5 244.3h1M453.8 243.5h1M455 245.8h1M458.8 247.8h1M454.7 238.3h1M459.9 239.2h1M451.6 244.4h1M460.6 243.5h1M462 238.6h1M453.4 242.5h1M450.4 245.9h1M455.2 241.4h1M466.9 241.6h1M455.5 246.5h1M453.4 246.7h1M456 244.2h1M453.8 242.6h1M455.2 237.8h1M452.6 242.2h1M457.6 238.9h1M452.1 247.7h1M458.9 241.1h1M443.6 238.9h1M458.6 242.8h1M452.6 240.5h1M465 239.9h1M454 241h1M453.5 245.8h1M450.9 241.9h1M460.6 246.1h1M467.4 244.3h1M464.7 241.7h1M452.9 237.9h1M449.6 245h1M455.6 236h1M463.7 243.5h1M447.4 238.7h1M446 241.8h1M451.2 240.7h1M449.3 245.2h1M464.5 245.1h1M452.1 239.2h1M453.6 240.7h1M454.5 238.4h1M461.8 239.7h1M455.7 241.2h1M448.7 241.6h1M452.4 243.8h1M459.8 245.4h1M455.4 241.4h1M454.7 244h1M453.5 240.2h1M451.5 243.9h1M456 237.6h1M446.8 238.4h1M452 243.8h1M450.8 243.8h1M457.1 246.6h1M458.2 238.1h1M459.5 237.9h1M463.6 241.3h1M460.1 241.2h1M462.2 243.1h1M452.1 243.9h1M454.3 240.6h1M458.4 241.9h1M447.8 239.4h1M460.4 244h1M457.6 241.6h1M449.9 246h1M461.4 245.3h1M448.5 238h1M467.4 239h1M462.4 239.6h1M447.2 239.1h1M456.8 239.7h1M448.5 237h1M454.4 247.4h1M453.6 246.4h1M452.7 247.4h1M455.9 242.4h1M455.3 247h1M450.8 243.6h1M445.1 240.8h1M467 241.2h1M451 242.3h1M450.2 242.4h1M461.5 242.5h1M444.8 241.1h1M452.4 244.6h1M465.1 241.1h1M466.5 243.2h1M451.5 247.9h1M450.4 246.1h1M460.3 243.8h1M461.3 238.6h1M453.7 244.8h1M457.3 244h1M454.9 237.2h1M452.6 247.3h1M453.4 242.2h1M456.4 242.9h1M455.1 242.6h1M449 240.9h1M460 245.5h1M458.5 242.8h1M468.4 236.6h1M464.1 243.4h1M457.7 237.5h1M465.4 241.1h1M459.3 237.8h1M454.8 245.7h1M453.3 238.1h1M465.4 242.4h1M465.8 237.4h1M452 238.6h1M450 240.5h1M466.6 239.8h1M459.5 238.2h1M465.2 241.6h1M462.8 239.7h1M459.1 240.2h1M459.5 238.6h1M452.3 241.3h1" stroke="#000" stroke-width="1" stroke-opacity="0.42"/>
<path d="M443.1 243.6h1M434 248.9h1M433 242.7h1M437.5 246.8h1M446.1 251.1h1M433.1 243.7h1M443 246.1h1M454.8 242.7h1M440.8 244.7h1M430.3 244.3h1M443 241.8h1M445.5 243.2h1M425.7 248.2h1M445.7 245.1h1M435.5 245.6h1M430.3 246h1M433.2 240.4h1M441.1 247.4h1M437.3 243h1M436.6 247.6h1M439.2 248.4h1M447.7 245.6h1M436.8 246.3h1M435.3 244h1M434.6 246.9h1M431.4 248h1M440.3 244.8h1M449.2 247.7h1M435.6 247.6h1M442.7 244.6h1M432.9 247.8h1M437.5 241.1h1M438.4 244.8h1M444.1 246.5h1M454.9 248h1M435.1 245.7h1M441.6 244.4h1M429.1 245.8h1M446.1 249.9h1M435 243.1h1M435.5 247.2h1M440.6 243.4h1M441.8 243.7h1M451 248h1M436.1 244.1h1M451.4 241.2h1M439.8 243.1h1M439.6 245.6h1M440.2 244.6h1M440.9 244.7h1M436.4 245.5h1M443.3 248.2h1M439.6 243.1h1M437.4 244.3h1M434.1 246.4h1M444.9 244.9h1M433.8 244.3h1M443 242.1h1M443.2 246.3h1M432.6 247.2h1M437.1 240.8h1M443.1 245.1h1M438.9 245.7h1M449.8 246.3h1M440.7 249.5h1M437.1 244.1h1M440.6 245.6h1M432.8 245.9h1M439.2 246.4h1M441.3 240.7h1M440.5 240.8h1M444.2 247.5h1M437.5 245.9h1M437.1 247.1h1M429.9 245.6h1M451.6 250.9h1M431 247h1M434 243.7h1M441.9 244.9h1M443.7 244.4h1M441.3 247.7h1M440 244.3h1M448.4 247.5h1M435.5 243.3h1M431.7 247.2h1M438 244.1h1M448.7 247.2h1M442 244.4h1M437.3 248h1M434.6 244.6h1M435 244.9h1M434.2 243h1M441.2 239.4h1M435.1 245.6h1M439.3 248.2h1M430 245.8h1M439.5 243.7h1M440.3 246.4h1M432.8 242.6h1M443.8 242.5h1M428.2 247.3h1M439.3 244h1M440.3 245.1h1M440 245h1M438.3 244.8h1M444.1 243.4h1M435.5 245.1h1M444.6 247.9h1M446.8 247.3h1" stroke="#000" stroke-width="1" stroke-opacity="0.42"/>
<path d="M47.5 333.2h1M42.8 325.1h1M40 329.4h1M50 324.8h1M42.8 329.7h1M41 324.4h1M39.2 330.9h1M47.5 330.4h1M44 328.8h1M42.4 329.3h1M47.8 322.5h1M45.3 325.7h1M37.6 325.7h1M44.8 324.5h1M47.4 324.9h1M46.3 324.8h1M44.7 329.5h1M41 338.8h1M41.2 324.6h1M46.4 325.4h1M44.8 330.8h1M50.5 328.1h1M37.8 330.4h1M49.2 327.1h1M50.6 323.5h1M45.6 330.8h1M44.9 331.4h1M48.3 320.8h1M46.7 323.8h1M51.5 332.6h1M39.8 326.2h1M51.1 321h1M50.5 334.8h1M42.6 326h1M50 329.9h1M41.2 327.1h1M47.5 336.1h1M42.1 327.5h1M47.3 332.4h1M48.5 319.6h1M40.3 327.8h1M48.2 329.9h1M46.4 327.4h1M50.8 335.7h1M48.7 333.6h1M50 328.1h1M38.6 328.4h1M56 333.3h1M45.3 321.3h1M40.5 330.1h1M45.7 334.4h1M51.7 338.1h1M39.3 328.8h1M48.2 331h1M50.3 334h1M35.4 329.9h1M46.9 324.1h1M46 329.5h1M47.6 326.3h1M47.9 331.5h1M46.5 336.5h1M51.3 330.1h1M46.5 335.1h1M44 337.8h1M45 335.3h1M50.1 333.9h1M51.1 333.4h1M52.9 333.9h1M50 318.1h1M56.4 333.4h1M56.5 325h1M41 328.5h1M40.1 332.5h1M53.5 330.8h1M46.9 333.7h1M39.7 325.2h1M48.6 326.1h1M47.9 329.5h1M35.3 326.4h1M44.8 332.6h1M47 336.6h1M40.1 332.3h1M42.7 339.4h1M42.2 330.8h1M45.2 325.9h1M49.5 325.6h1M51.3 332h1M36.4 337.9h1M50.5 326.6h1M40.1 332.9h1M41.3 321.3h1M53.5 334.7h1M50.7 328.8h1M43.2 322.2h1M48.2 331.8h1M47.3 322.9h1M36 332.4h1M39.4 328.7h1M42 322.8h1M43.3 320.8h1M49 326.8h1M49.8 322.3h1M47.1 319.8h1M47.5 320.3h1M44.1 323h1M47.1 328.1h1M44.4 323.7h1M40.1 332.8h1M40.6 329.1h1M41.5 328.4h1M52.3 321.7h1M44.9 325.2h1M37.7 326.3h1M49.4 335.5h1M53.3 331h1M52.2 327.4h1M51.6 333.7h1M45 333.8h1M43.8 326.9h1M36.8 324h1M43 327h1M40.9 333.8h1M51.7 325.8h1M49.8 326.6h1M37.3 330.3h1M45.9 332.4h1M50.8 321h1M41.2 334.6h1M37.8 332.3h1M46.2 333h1M44.1 319.8h1M44.7 324.9h1M43 326.3h1M49.3 323.9h1M46.8 321.7h1M45.2 334.4h1M44.2 330.6h1M45.7 333.2h1M46.6 337.8h1M37.5 335.7h1M44.9 330.1h1M44.6 332.3h1M43.8 330.3h1M44.4 324.5h1M48.9 326.4h1M43.1 326.5h1M39.3 337.5h1M41.3 336.3h1M45.6 325.7h1M45 330.6h1M51.5 328.4h1M44.6 331.6h1M48.9 330.5h1M43.9 329.9h1M46.8 320.6h1M44.6 325.3h1M48.5 333.9h1M43.3 329.7h1M44.9 331h1M50.5 334.4h1M50.9 327.6h1M41.2 335.1h1M44.8 332h1M37.5 333.4h1M47.8 325h1M39.5 334.9h1M51.7 328.6h1M42.8 329.9h1M52.9 329.8h1M45.2 326h1M42.9 326.4h1M55.3 335.4h1M50.5 326.5h1M46.1 329.2h1M36.3 333.4h1M42.9 324.2h1M48.5 326.1h1M53.8 333.1h1M41.4 330.7h1M49.7 331.9h1M41.4 331h1M40.2 332.6h1M46.7 333.2h1M45 330h1M49.2 323.8h1M52.8 328.5h1M49 319.8h1M42.5 330.1h1M36.5 325.8h1M44.5 334.2h1M46.2 333.9h1M42.9 328.4h1M38.3 329.7h1M48.9 330.2h1M40.8 331.6h1M44.3 332h1M46.6 330.3h1M50.6 327.7h1M46.7 333.1h1M48.7 323.6h1M49.2 325.6h1M50.2 319.8h1M48.9 331.6h1M49.8 332h1M43.5 329.3h1M52.9 326.5h1M43.7 333.4h1M34.8 323.2h1M44.1 327.2h1M42.4 325.4h1M45.2 323.9h1M52.7 328.2h1M50.1 332.8h1M50.5 328.6h1M49.2 332.5h1M49.2 324.8h1M47.6 325.5h1M49.6 331.5h1M44.9 320.8h1M39.7 338.3h1M47.4 323.7h1M45.8 328.1h1M47.3 328.7h1M43.8 329.5h1M54.1 331.1h1M42.7 327.4h1M40.7 329.7h1M50.3 331.4h1M43.4 325.5h1M48.6 327.7h1M52.3 329.8h1M45.1 322.7h1M52.4 336h1M41.6 334.1h1M50.5 331.5h1M38.6 323.3h1M47.6 320.6h1M43.6 335.2h1M49.1 328h1M51.1 329.5h1M40.9 323h1M45.1 334.7h1M33.4 330.4h1M48.4 331.8h1M50 331h1M53.5 329.6h1M53.7 330h1M51.2 322.2h1M50.9 329.5h1M47 330.5h1M44.5 334.6h1M55.2 326.6h1M49.7 335.9h1M37.2 329.6h1M40.9 334.7h1M55.2 322.9h1M41.2 335.3h1M36 323.9h1M53.7 324.4h1M49.4 326h1M36.6 326.2h1M43.4 335.1h1M46.5 334.6h1M41.3 331.1h1M52.9 326.9h1M49.4 327h1M46.3 320h1M44.8 326h1M35.6 332.8h1M49.6 325.5h1M53.1 333.1h1M48.9 331.6h1M40.1 326.1h1M51.7 325.2h1M42.7 333.9h1M46.3 334.3h1M50.8 331.7h1M51.6 324h1M46.4 333.2h1M49.6 332h1M45.1 328.5h1M44 322.6h1M45.9 335.5h1M41.4 331h1M43 323.5h1M45.6 325.9h1M42.9 329.9h1M46.8 329.9h1M45.4 324.7h1M47.9 327.8h1M46.8 319.9h1M49.9 323.3h1M33.7 328.1h1M40.4 338.4h1M40.5 323.3h1M48.7 330.5h1M48.9 324.5h1M38.2 325h1M49.5 326.5h1M47.3 336.8h1M47.6 329.3h1M56.3 332.4h1M44.2 324.6h1M42.5 324.3h1M42.6 321.1h1M50.9 327.7h1M52.9 329.9h1M50.3 327.7h1M45.5 323.8h1M46.6 330.8h1M48.2 336.4h1M43.4 328.5h1M44.5 327.2h1M38.1 324.5h1M40.7 327h1M39.3 334h1M47.2 323.6h1M47.4 331.8h1M35.9 328.1h1M44.9 328.5h1M49.5 328.2h1M42.4 333.2h1M49.7 331.3h1M55.2 329h1M40.7 321.6h1M34.7 326h1M52.9 326.6h1M40 321.4h1M52.2 331.7h1M50.7 330.6h1M42.7 321.6h1M39.4 323.7h1M39.1 331.6h1M45.3 323.6h1M45.2 325.6h1M45.6 336.9h1M47.8 332.4h1M39.7 335h1M53.3 333.6h1M44.8 332.7h1M42.8 325.9h1M50.3 320h1M49.9 335h1M51 332.6h1M41.2 334.6h1M42.3 324.7h1M45.3 331.2h1M47.9 334.3h1M43.9 328.9h1M50.5 328.5h1M49.4 337.1h1M43.6 326.4h1M52.7 332h1M47.2 329.5h1M44.1 333.5h1M41.8 328.7h1M42.8 334.8h1M46.6 324.6h1M37.1 333.1h1M38.6 330.1h1M43.9 318.7h1M54.6 331.8h1M48.2 328.3h1M52.2 331.5h1M47.1 336.7h1M47 334.1h1M45.9 335.3h1M38.7 322.6h1M54.4 321.9h1M48.1 324.6h1M43.6 325.4h1M47.6 334.6h1M38.2 328.5h1M45.1 325.2h1M48.4 334.6h1M49 331h1M33.7 330.1h1M44.1 329.3h1M53.4 333.1h1M44.9 330.2h1M51.1 330.5h1M45 326.3h1M48 323.2h1M38.9 322.4h1M46.4 335.1h1M44.3 323.7h1M44.7 333.8h1M42 322.7h1M50.5 332.2h1M37.5 322.3h1M43.4 327.8h1M46.3 332.7h1M38.2 330.3h1M48.5 333.2h1M44.7 333.6h1M56.9 322.9h1M40.8 328.6h1M48.8 331.1h1M43.1 329.3h1M47.7 333.1h1M41.9 321.5h1M42.7 326.8h1M49.3 324.8h1M50 335.2h1M51 331.1h1M39.5 329.7h1M48.2 323.5h1M49.4 328.8h1M44.6 336.8h1M39.3 337.4h1M49.3 329.4h1M48.4 323h1M51.4 333.8h1M51.6 332.7h1M36.8 318.4h1M44.6 321.9h1M45.8 326.6h1M45.6 322.1h1M49.4 325.3h1M38.3 328.2h1M45.6 326.2h1M47 331h1M43.5 332.6h1M42 326.5h1M40.3 331.2h1M48.3 333.3h1M54.8 327h1M45 325.3h1M45.5 325.2h1M54.5 330.2h1M38.4 328.8h1M50.3 328.9h1M41.1 331.2h1M45.4 330.6h1M39.6 328.4h1M46.8 333.1h1M44.8 326.5h1M43.2 332.1h1M38.3 331.4h1M40.1 333.6h1M51.5 328.8h1M43.2 332.9h1M40.7 324.8h1M55.3 335.8h1M37 324.6h1M49.1 326.3h1M40.7 338.6h1M41.8 323.1h1M43.1 328.7h1M49.3 323h1M43.1 331.6h1M48.7 329.2h1M43.5 324.8h1M39.5 336h1M46.5 329.6h1M39.5 330.2h1M52.7 333.7h1M41.5 330.2h1M48.6 331.8h1M43.4 331.3h1M37.7 326.5h1M37.6 333.5h1M44.2 329.8h1M46.4 332h1M43.9 330.2h1M44.3 325.7h1M51.3 335.5h1M46.6 322.9h1M44.7 327h1M51.4 333.6h1M43.7 329.6h1M50.2 333.8h1M46.3 329.1h1M36.1 326.7h1M43.2 331.5h1M48.1 325.1h1M47.5 332.3h1M39.5 332.7h1M45.1 323.8h1M46.9 319.3h1M43 327.8h1M43.2 328.4h1M45.6 326.7h1M36.3 325h1M40.5 327h1M37.2 323.9h1M47.2 328.5h1M51.5 319.2h1M42 326.6h1M47.2 331.2h1M43.2 324.8h1M50.5 328.7h1M42.7 325.5h1M47.1 332.7h1M51.5 330.6h1M44.9 335.1h1M49.8 323.5h1M45.9 322.1h1M41.8 328.5h1M37 327h1M43.6 331.7h1M40.5 330.1h1M46.4 334.1h1M45.3 332.9h1M48.7 326.5h1M38.4 328.8h1M38.9 331h1M48 325.5h1M46.1 327.5h1M51.7 322.3h1M46.4 330.5h1M43.9 331.7h1M37.9 330.6h1M43 331.7h1M45.8 330.9h1M47.7 335.4h1M51.2 337.5h1M52.3 325.4h1M45 320.9h1M47.8 333.5h1M44.9 328.8h1M50.1 327.3h1M41 327.6h1M37.5 327.9h1M52.2 330.3h1M50.7 329h1M46 323h1M47.1 333.7h1M45.3 325.2h1M56.4 329h1M39.6 321.9h1M37.7 327h1M42.5 330.8h1M48.5 320.4h1M50.4 335.2h1M43.1 335.7h1M40.4 329.5h1M53.1 328.4h1M42.9 327.6h1M51.2 333h1M42.8 337.3h1M50 323.5h1M47.6 332.9h1M44.2 322.5h1M43 331.9h1M42.8 329.2h1M38.1 329.7h1M51.6 338.6h1M44.1 333.7h1M41.5 332.8h1M39.3 330.3h1M41.2 326.7h1M42 326h1M44.1 336.2h1M42.4 324.1h1M42.6 331.4h1M48.3 329.5h1M42 322.7h1M48.7 332.6h1M48.5 330.1h1M43.7 325.8h1M48.3 330h1M46.9 325.2h1M51.2 321.3h1M49.4 325.9h1M41.5 323h1M37.8 322h1M47.5 325.4h1M49.4 331.2h1M44.2 337h1M41.1 331.6h1M47.4 329.1h1M43 330h1M44.1 334.8h1M52.5 337h1M48.5 335h1M41.5 325.2h1M48.8 325.3h1M49.8 330.7h1M35.1 322.8h1M46 332.8h1M49.1 324.1h1M53.6 326.3h1M51.8 330.2h1M49.1 325.2h1M46.5 326.4h1M47.9 324.5h1M42.7 333.4h1M38.9 330.5h1M41.1 324.6h1M47 329h1M51.7 324.8h1M54.9 332.8h1M53.4 334.9h1M52.9 335.7h1M36.5 335.1h1M33.9 326.2h1M52.3 329.6h1M43.4 324.8h1M45.6 328.1h1M39.3 332.2h1M37 331.5h1M39 326.5h1M40.3 331h1M48.5 329.8h1M42.7 333.1h1M42.5 333h1M41.2 324.5h1M41 327.2h1M45.6 322h1M43.4 332.4h1M50.1 323.3h1M52.8 325.2h1M49.3 330.6h1M40.1 330.5h1M38.1 325.6h1M47.7 327.1h1M51.4 327.7h1M51.6 326.5h1M42.1 323.6h1M43.6 324.5h1M44.5 332.8h1M48.6 335.9h1M44.7 337.3h1M40.2 328.6h1M54.4 324.7h1M48.5 333.8h1M40.9 327.6h1M43.3 326.7h1M53.9 329.3h1M51.4 335h1M50.7 331.6h1M46.3 330.2h1M46.6 327.3h1M40.6 325.2h1M46.8 332.1h1M41.9 321.6h1M49.7 332.5h1M42 325h1M49.9 330.4h1M47.1 323.7h1M49.9 329.9h1M41.8 327.9h1M50.8 330.6h1M44.1 337.1h1M50.2 329.7h1M48 322.3h1M47.9 331h1M37.2 328.2h1M47.6 323.2h1M42.8 326.3h1M56.4 333.9h1M51 334.7h1M48.1 330.2h1M45.1 332.7h1M44.1 325.2h1M41.5 323.8h1M47.1 330.8h1M40.8 330.9h1M45.1 333.1h1M49 334.4h1M46.8 328.9h1M44.3 330.2h1M45.1 332.7h1M48 326.6h1M40.8 323.9h1M39.8 329.1h1M42 329.9h1M45.8 335.4h1M39.8 329.1h1M44.4 334.5h1M51.4 326.2h1M48.4 333.9h1M42 329.7h1M47.6 332.8h1M44 324.2h1M42.2 329.1h1M42.5 330.2h1M49.3 320.5h1M44.2 335.2h1M38.7 329.7h1M37.5 324.6h1M52.3 327.6h1M49.7 329.3h1M48.1 327.5h1M50.7 330.9h1M49.4 334.6h1M53.5 322.1h1M42.1 332.3h1M50.5 330.4h1M48.4 327.7h1M41.7 329.9h1M42.9 332.8h1M54 326.8h1M47.5 333.2h1M42.2 327.3h1M48.4 322.8h1M44 327.9h1M38.5 331.3h1M52.6 332.6h1" stroke="#000" stroke-width="1" stroke-opacity="0.42"/>
<path d="M58 324.5h1M60 327.5h1M62 323.5h1M65 326.5h1M68 329.5h1M71 309.5h1M80 328.5h1M57 331.5h1M59 320.5h1" stroke="#000" stroke-width="1" stroke-opacity="0.35"/>
<path d="M188.7 326.7h1M170.5 329.2h1M173.6 329.4h1M194.8 332.2h1M207.1 328h1M173.6 329h1M198.2 331.9h1M208.2 329.2h1M175.5 333.2h1M178.7 329.8h1M191.4 332.6h1M208.2 335h1M203.4 330.8h1M210.9 329.2h1M187.2 329.5h1M202.5 322.7h1M189.4 327.6h1M205.5 325.2h1M206 339.4h1M176.5 336.9h1M206.1 328.2h1M210.4 326.6h1M191.1 328.4h1M169.4 328.6h1M191.7 327.4h1M174 332.1h1M178.7 328.5h1M198.5 332.5h1M182.4 332.3h1M187 333.6h1M168.4 332.4h1M193.2 329.5h1M202.1 328.5h1M186.5 327.2h1M166.2 334.2h1M170.3 325.1h1M189.7 329.3h1M197.5 328.6h1M189.7 333.6h1M182.5 333.1h1M198.4 326.6h1M195.7 325.4h1M193.9 334.3h1M175.3 329.8h1M207.7 327.4h1M185.8 330.4h1M202.9 333.1h1M187.5 324.6h1M167.4 325.2h1M196.4 321.5h1M180 326.8h1M181.4 332.4h1M193.9 333.3h1M167.5 331h1M190.2 327.5h1M176 330.4h1M210.7 333.2h1M199.9 332.5h1M193.9 332.3h1M166.8 327.3h1M202.1 327.3h1M189.3 330.7h1M197.2 332.9h1M173.3 335.5h1M180.5 328.3h1M171.8 328.7h1M199.8 335.8h1M203.7 334.5h1M210.3 328.1h1M188.1 330.7h1M180.7 327.3h1M190.9 330.5h1M189.6 325.7h1M199.7 326h1M166.1 325.8h1M205.2 335.9h1M167.6 330.4h1M209.9 330.5h1M173.7 330.1h1M185.4 329.2h1M168.7 328.9h1M196.6 338.1h1M183.8 333.9h1M182.3 327h1M171.6 333.3h1M204.2 333h1M184.5 330.2h1M187.3 327.6h1M183.9 334.7h1M195 330.4h1M175.8 329.3h1M187.7 327.3h1M185.2 329.1h1M210.4 332.4h1M210.3 325h1M177.1 336.1h1M176.9 334.8h1M179.5 331h1M166.4 333.6h1M180.4 327h1M200.9 325.2h1M170.1 332.6h1M176.4 330.1h1M184.5 333h1M188.6 325.3h1M181.6 326.7h1M200.8 326.7h1M177.3 331.3h1M189.6 324.8h1M207.6 331.4h1M202 327.9h1M194.7 332.9h1M207.8 333.5h1M206.7 328.4h1M193.7 331.7h1M195.7 329h1M201.7 324.6h1M180.2 326.5h1M172.7 332h1M209.7 328h1M198.3 338.8h1M205.5 326.7h1M179.4 330.6h1M191.1 329.7h1M190.3 331.4h1M208.7 331.8h1M209.3 332.9h1M189.8 331.3h1M194.4 330.6h1M169.6 331.2h1M192.7 327.7h1M167.7 334.1h1M185.7 335.5h1M202.4 326.1h1M166.4 332.7h1M187.1 325.3h1M171 332.1h1M200.3 335.8h1M181.3 325.6h1M203.9 329.1h1M196 333.4h1M200.2 331.4h1M167 330h1M182.4 330.1h1M171.3 328.5h1M200.1 332.6h1M175.7 328.6h1M179.7 337h1M199.4 330.7h1M192.7 329.7h1M199.4 333h1M173.9 330.3h1M181 334.7h1M208.7 329.1h1M181.5 325.6h1M177.1 328.8h1M187.6 326.7h1M208.7 329.5h1M204.1 333.9h1M185 329.4h1M170.9 330.5h1M176.5 330.2h1M196.9 332.1h1M186 323.8h1M198.2 331.5h1M193.4 332h1M194.6 331.1h1M172.7 328.6h1M192.6 330.2h1M171.1 328.8h1" stroke="#222" stroke-width="1" stroke-opacity="0.5"/>
<path d="M182 329.7h1M191.1 330.3h1M177 331.9h1M178.4 330.9h1M174.3 331.8h1M182.1 332.8h1M177.6 325.8h1M186.8 329.9h1M174.8 330h1M188.5 332.8h1M178.6 328.3h1M183.9 334.5h1M177.3 327.5h1M187 332.8h1M184 330.2h1M176.3 327.9h1M190.4 323.6h1M184.4 327.2h1M186.4 326h1M186.7 329.4h1M188.3 327.6h1M190.4 328.2h1M178.8 333.4h1M170.6 337.6h1M174.4 331h1M177.5 327.9h1M175.6 332.8h1M176.9 330.3h1M183.1 328.6h1M174.2 331.9h1M175.8 331.4h1M173 332.6h1M184.5 330.8h1M183.9 328.7h1M174.2 333.1h1M182.2 332.6h1M180 329.5h1M172.5 329.3h1M183.5 329.1h1M185.2 332h1M177 337.5h1M182.1 333.6h1M179.5 327.3h1M182 327.8h1M181.9 333.3h1M182.2 332.3h1M182.7 330.3h1M186.1 328.1h1M194.9 325.4h1M197.7 333.6h1M183.9 333.9h1M187.2 330h1M181.3 331.5h1M182.4 323.2h1M194.1 330.3h1M179.4 336.3h1M187.3 327.1h1M169.8 328.8h1M163.9 330.7h1M172.3 333.4h1" stroke="#000" stroke-width="1" stroke-opacity="0.5"/>
<path d="M318.2 328.6h1M311.3 330.5h1M322.8 325.4h1M317.4 329.1h1M332.9 326.8h1M327.4 326.9h1M320.1 330.8h1M329.4 322.3h1M321.2 330h1M307.1 333.4h1M313.4 322.5h1M318.2 327.3h1M317 331.1h1M330.1 333.7h1M314.9 329.8h1M325.9 328.8h1M318.8 320.7h1M326.2 327.1h1M313.2 329.3h1M320.8 326.9h1M326 330.2h1M326.9 323.4h1M325.6 324.1h1M328.4 329.6h1M331.1 324.6h1M313.5 329.5h1M313.9 324.9h1M329.8 331.7h1M331.1 329.9h1M320.2 332.2h1M319.6 325.8h1M320.1 329h1M319.7 329h1M329.1 326.6h1M324 326.4h1M318.8 323.9h1M318.9 330.9h1M328.8 330.6h1M317.6 319.9h1M325.1 327.9h1M328.8 324.5h1M310.9 331.5h1M317.2 320.6h1M325 334.8h1M329.9 323.6h1M319.2 327.1h1M320.6 330.2h1M312.1 331.1h1M318.4 323.9h1M324 324.3h1M330 329.7h1M330.2 323.9h1M322.9 324.4h1M314.3 328.9h1M326.3 327.5h1M316.9 329.3h1M313.6 322.1h1M326.3 332.2h1M321.4 333.1h1M322.7 330.8h1M318.4 332.3h1M313.7 330h1M323.3 323.8h1M314 327.3h1M309.8 329.8h1M312.9 323.4h1M323.6 326h1M314.2 329.5h1M319.1 330.1h1M329 329.3h1M323 323.3h1M318.9 325.2h1M321.5 328h1M321.6 330.7h1M323.8 326.7h1M325.7 325.2h1M324.7 325.9h1M329.3 324.2h1M328 328.1h1M315.9 324.7h1M314.9 333.8h1M321.2 330.5h1M327.3 331.4h1M327.8 333.6h1M319.4 324.2h1M322 329.3h1M315.2 326.4h1M312.5 325.9h1M315.7 324.2h1M311.2 322.6h1M326.5 322.2h1M312.5 330h1M319.6 322h1M322.8 333.9h1M319.5 325.9h1M331.5 324.3h1M315.2 324.7h1M329.3 323.9h1M322.3 327.2h1M322.3 328.8h1M330.4 328.3h1M327.1 332.9h1M320.1 327.3h1M323.9 333.1h1M318.4 328.3h1M316.5 330.4h1M324.3 325.4h1M312.8 331.4h1M330.9 323.2h1M326.6 330.2h1M309.5 320.7h1M324.8 325.4h1M315.2 324.2h1M320 328.7h1M311.8 332.1h1M312.5 331.8h1M317.2 318.4h1M320.8 329h1M327.2 330.4h1M315.7 327.4h1M328.1 324.3h1M315.9 330.2h1M322.1 330.3h1M313.4 333h1M330.6 330h1M317.2 329.4h1M310.4 330h1M321 329.2h1M329.6 331h1M316.2 330.6h1M318.9 328.1h1M312.4 331.8h1M324.9 330.7h1M324.4 328.7h1M323.4 324.5h1M314.7 328h1M332.8 325.2h1M326.9 323.6h1M315.2 325.1h1M314.3 331.2h1M316.1 328.7h1M315.9 332h1M324.8 323.6h1M312.3 329h1M309.6 325.8h1M327.9 332.3h1M321.2 331.7h1M327.7 329.9h1M325.6 328.8h1M325.9 332.5h1M319.6 331.1h1M325 332.2h1M318.8 333.7h1M323 326.9h1M332.7 329.9h1M327.6 328.3h1M322.8 332h1M315.7 330.2h1M313.5 330.1h1M333.6 324.7h1M326.7 325.4h1M333.7 327.7h1M326.6 329.6h1M320.7 327.1h1M324 325.2h1M314.1 329.5h1M314.9 329.6h1M335.4 322.4h1M319.2 324.8h1M313.5 332.7h1M323.1 326.1h1M313.3 330.6h1M311 325h1M330.3 326.9h1M320.6 325.4h1M318.6 321.6h1M316 330h1M314.9 322.5h1M312.1 332.1h1M325.4 326.3h1M333.2 330.1h1M317.7 331h1M311.7 329.8h1M325.2 330.5h1M316.7 325.4h1M310.6 324.5h1M318.3 323.9h1M321.5 330.6h1M325.7 322.2h1M311.6 326.9h1M322.4 334.8h1M317.2 324.9h1M320.3 332.4h1M319.6 330.8h1M321.9 332.1h1M314.6 329.4h1M330.4 324.6h1M318.3 324.3h1M317.4 332.2h1M327.4 322h1M315.5 330.7h1M324.8 330.4h1M317 331.3h1M321.8 325.7h1M329.4 323.6h1M309.4 321.6h1M321.6 326.4h1M326 324.2h1M323.8 326.6h1M311.6 328.4h1M321 331.4h1M315.6 323.7h1M315.4 322.6h1M334.1 329h1M313 323h1M328.2 329.7h1M318 326.7h1M332.6 329h1M323.3 323.3h1M310 329.6h1M328.8 323.7h1M316.8 324.6h1M318.2 329.5h1M313.3 322.2h1M321.7 333.4h1M320.4 322.1h1M326.1 324h1M321.1 322.2h1M320.7 331.3h1M308.6 326.8h1M310.4 331.9h1M319.5 325.3h1M313.3 329.1h1M318.7 331.2h1M324.4 324.4h1M316.6 329.3h1M324.8 330h1M327.7 327.8h1M323.2 331.5h1M309.7 325.4h1M322.7 330.1h1M319.3 328.2h1M314.8 327.4h1M326 327.6h1M326.6 331.8h1M330.6 327h1M311.4 330.5h1M325.5 328.9h1M318.4 325.4h1M316.4 323.4h1M326.3 328h1M318.7 331.1h1M326 324.7h1M325.3 328.3h1M324.7 328.4h1M316 324.1h1M313.4 330.7h1M315.9 325.9h1M323.9 330.2h1M323.1 325h1M307.6 325.3h1M313.3 331.6h1M322.8 322.3h1M317.8 332.1h1M332.2 323.1h1M315.2 325.6h1M316.8 322.3h1M317.3 328.1h1M320.8 324.2h1M311.3 329.7h1M328.6 332.3h1M323.9 328h1M317.9 327.7h1M324.4 325.6h1M328 321.5h1M310.8 325.6h1M307.4 324.7h1M306.9 331.4h1M324.8 330.3h1M332.5 323.8h1M318.4 330.5h1M313.9 323.5h1M312.9 327.5h1M316.2 332.1h1M321.1 322.8h1M321.7 323h1M319.7 321h1M310.9 323.3h1M319.3 322.2h1M318.5 329.9h1M310.9 333.6h1M321.3 322.8h1M317.2 330.5h1M309.7 327.4h1M309.8 333h1M322.3 324.3h1M327.9 331.1h1M328.5 324.4h1M330.2 324h1M326 323.1h1M315.6 329.5h1M315 329.5h1M310.4 334h1M326.7 324.3h1M315 329.9h1M328.6 328.4h1M326.2 326.1h1M329.8 332.2h1M325.2 331.9h1M328.4 322.9h1M319.7 324.6h1M327.7 328.8h1M317.9 328h1M314.8 324h1M327.2 321.9h1M324.1 323.8h1M321.6 331.2h1M322.9 323.3h1M315.3 330.2h1M322.8 331.3h1M312.2 331.5h1M324.4 331h1M333.2 328.8h1M319 329.8h1M319.4 332.6h1M321.6 322.8h1M308.5 322.7h1M322.3 329.7h1M327.3 324.7h1M320.9 322.9h1" stroke="#000" stroke-width="1" stroke-opacity="0.45"/>
<path d="M440.9 330.4h1M443.9 330.4h1M441.6 331.5h1M454.4 329.3h1M432 330.9h1M438.9 335h1M429.6 332.8h1M441.4 331.1h1M445.2 326.1h1M436.2 328.7h1M433.9 331.7h1M438.2 328.9h1M439.2 327.8h1M444.4 328.4h1M435.3 331h1M427.5 326.8h1M437.1 333.6h1M430.6 331.5h1M430.4 329h1M443 328.5h1M432.8 335.6h1M440.1 323.2h1M431.4 331.7h1M437.4 332.2h1M431.4 329.5h1M434.7 333h1M443.6 329.8h1M433.7 331.4h1M437.3 327h1M436.4 329.3h1M434.4 328.8h1M430.4 329.2h1M431.8 328.8h1M430.3 332.2h1M432.9 330.6h1M431 331.3h1M429.8 330.4h1M435.1 327.3h1M440 324.9h1M436.3 331.5h1M439.9 330.1h1M442.5 331.7h1M443.8 326h1M435 327.1h1M435.5 320.3h1M438.5 329.2h1M445.8 324.8h1M433.6 334.6h1M443.7 325.8h1M437.4 328.6h1M437.3 328.8h1M435.5 328.4h1M436.6 326.5h1M436.8 330.2h1M439.8 332.8h1M436.5 334.4h1M441.6 332h1M433.2 332h1M447.6 330.5h1M429.1 330.9h1M440.7 329.7h1M436.2 332.5h1M438.6 327.6h1M437.5 334.8h1M440.6 326h1M436.5 327.9h1M447.5 329.4h1M436.9 326.9h1M438.1 336.1h1M436.1 327.1h1M430.2 330.6h1M441.2 332.7h1M432.2 332h1M432.8 326.7h1M435 332h1M431.9 333.4h1M442.6 333.2h1M431.1 329.7h1M436.9 332.3h1M442.5 329.8h1M434.3 331.2h1M438.3 327.2h1M437.8 326.8h1M436.6 329.1h1M436.4 328.1h1M448.7 327.6h1M434.3 325.5h1M433.1 331.5h1M445.4 335.3h1M434.4 330.1h1M435.3 331h1M432.1 331.3h1M441.6 332.3h1M436.4 329.7h1M429.9 332.8h1M436.8 330.2h1M430.1 327.7h1M435.6 328.4h1M444 325.6h1M440 328.2h1M434.3 329.1h1M452.4 329h1M440.6 328.1h1M442.8 329.9h1M435.3 325.7h1M430.4 332.1h1M435 330.1h1M441.3 328.9h1M443.4 327.2h1M445 327.7h1M435.6 332.4h1M436.7 333.2h1M440.1 331.4h1M431.3 333h1M434.3 334.4h1M435.6 332.6h1M440.4 329.5h1M435.3 332.3h1M438 333.2h1M439.4 327.2h1M430 328.3h1M443.7 328.1h1M438.4 329.1h1M428 332.1h1M445 328.2h1M441.1 330.9h1M436.2 328.6h1M436.3 329.4h1M441.6 331h1M434.2 329.8h1M442.6 325.1h1M435.3 328.6h1M430.1 332.4h1M436.1 330.8h1M447.4 326.1h1M433.6 331.5h1M432.9 328.9h1M440.7 331.2h1M445.3 332.6h1M433.6 325.1h1M442.6 333.8h1M443 326.5h1M434.4 328.3h1M441.8 329.9h1M429.9 327.7h1M429.7 331.4h1M434.8 330h1M438.8 328.8h1M440.8 327.4h1M432.9 333.8h1M435.9 333.4h1M449.3 325.7h1M439.9 331.5h1M435.9 331h1M441 331.8h1M437 335.1h1M438.1 328.9h1M430.7 328.1h1M440.3 333.5h1M433.4 330.1h1M434.4 329.7h1M436.2 335.4h1M436.2 326.1h1M439.2 330.5h1M438.5 332.3h1M436 329h1M439.6 332.7h1M434.8 332h1M438.2 327.2h1M442.6 328.1h1M438.3 327h1M434.9 334.4h1M439.3 328.8h1M446.6 328.5h1M437.7 329.4h1M447.9 326.2h1M444.6 328.3h1M430.2 328.7h1M448.2 330.1h1M439.6 321.9h1M431.7 328.6h1M434.1 330.9h1M434 330.1h1M434 329.7h1M440.1 328.4h1M445 327h1M449.5 332.2h1M441.8 329.6h1M435.8 328.6h1M432 329.5h1M435.4 328.4h1M437.9 332.5h1M438.9 332.1h1M446.1 326.2h1M437.9 328.3h1M430.7 330.7h1M433.6 330.5h1M441.5 328.7h1M433.5 331.9h1M438.2 328.5h1M426.4 327.3h1M438.1 330.8h1M433.1 326.9h1M432.9 332.3h1M438.5 332.2h1M427.4 330.6h1M439.6 327.6h1M429.4 330.6h1M436.1 329.6h1M435.2 327.1h1M430 333.8h1M429 329.4h1M429.6 330.3h1M440.8 329.4h1M434.2 327.2h1M431.3 331.9h1M438.3 325.9h1M435.6 334h1M446.3 334.1h1M434.5 329.6h1M434.2 326.6h1M444.7 330.6h1M439.2 327.8h1M437 332.6h1M436.5 324.8h1M438.9 334.3h1M449.2 327.4h1M438.6 326.6h1M444.2 331.8h1M435.5 330.2h1M430.3 335.4h1M445 332.1h1M441.5 330.8h1M440.8 330.4h1M441.7 328.1h1M441.3 330.1h1M439.3 328.9h1M432 332.9h1M430.8 339.1h1M426.1 335.2h1M443.7 330.4h1M429.1 332.9h1M439.6 329.8h1M439.3 330.7h1M435.7 328.9h1M430.7 328.2h1M427.8 330.7h1M431.5 326.7h1M438.5 324.4h1M448.4 331.7h1M437.5 329.1h1M439.4 331.5h1M450.7 331.9h1M443.5 327.7h1M446 331.8h1M434.3 328.2h1M442.1 331h1M443.9 333h1M435.8 330.1h1M428.4 332.6h1M434.9 328.5h1M444.6 329h1M431.3 325.2h1M433.9 333.9h1M438.7 328.8h1M433.3 329.2h1M430.9 333.8h1M435.6 330.5h1M447 333.6h1M438.1 329h1M448.6 329h1M440.2 332.3h1M435 326.6h1M441.9 332.5h1M433.4 326.6h1M430.8 327.5h1M440 326.3h1M440 333.8h1M439.7 326.2h1M437.5 330.6h1M445.8 330h1M441.1 329.3h1M434.5 330.1h1M435.9 331.4h1M436.9 330.8h1M430 328.5h1M443.3 329.3h1M447.5 328h1M434.1 333h1" stroke="#000" stroke-width="1" stroke-opacity="0.48"/>
<path d="M461.9 326h1M469.9 329.3h1M463 332.8h1M466.3 331.4h1M453.9 330.9h1M475.6 331.1h1M450.2 333.3h1M475.9 333.1h1M455.1 330.3h1M461.5 327.9h1M466.3 325.6h1M471.7 335.8h1M458.4 328.1h1M471 336.4h1M467 339.1h1M453 330h1M461.2 327.4h1M460.3 333.6h1M453.7 326h1M475.1 327.8h1M456.1 329.6h1M461.9 329.5h1M458.6 332.9h1M475.7 330.9h1M453.9 330.6h1M464 332h1M467.5 331h1M463.6 326.7h1M468.5 326.8h1M450.2 332.2h1M457.3 328.4h1M472.1 329.1h1M472.6 328.5h1M451.4 327h1M470.9 325.6h1M453.6 329.1h1M469.4 332h1M475.4 329.9h1M475 329.4h1M469.9 327.3h1M455 323.5h1M461.7 330.1h1M459.3 330.8h1M450.6 333.5h1M473.7 334.5h1M465.4 331.3h1M474.5 326.8h1M475.8 331.3h1M460.8 330.8h1M462.7 328.2h1M468.5 326.6h1M466.2 327.3h1M475.2 330.7h1M466.5 331h1M469.9 330.5h1M469.7 328.2h1M453.8 327.4h1M473.8 325.3h1M454.9 331.3h1M453.5 321.3h1M474 333.1h1M450.9 332.5h1M454.5 323.2h1M466.8 331.3h1M467.2 326.7h1M458.8 326.2h1M450.8 333.3h1M451.6 332.7h1M452.8 327.3h1M455.8 332.7h1" stroke="#222" stroke-width="1" stroke-opacity="0.4"/>
<text x="0.69" y="14.40" font-size="19.48" font-weight="bold" fill="#111" textLength="14.85" lengthAdjust="spacingAndGlyphs" stroke="#111" stroke-width="0.4">A</text>
<rect x="46.50" y="14.50" width="100.00" height="67.00" fill="none" stroke="#2a2a2a" stroke-width="1"/>
<line x1="74.30" y1="14.50" x2="74.30" y2="81.50" stroke="#8a8a8a" stroke-width="1.3"/>
<line x1="46.50" y1="60.50" x2="146.50" y2="60.50" stroke="#3a3a3a" stroke-width="1"/>
<path d="M46.0 81.5h-2.4M46.0 76.5h-1.8M46.0 73.5h-1.8M46.0 71.4h-1.8M46.0 69.8h-1.8M46.0 68.5h-1.8M46.0 67.3h-1.8M46.0 66.4h-1.8M46.0 65.5h-1.8M46.0 64.8h-2.4M46.0 59.7h-1.8M46.0 56.8h-1.8M46.0 54.7h-1.8M46.0 53.0h-1.8M46.0 51.7h-1.8M46.0 50.6h-1.8M46.0 49.6h-1.8M46.0 48.8h-1.8M46.0 48.0h-2.4M46.0 43.0h-1.8M46.0 40.0h-1.8M46.0 37.9h-1.8M46.0 36.3h-1.8M46.0 35.0h-1.8M46.0 33.8h-1.8M46.0 32.9h-1.8M46.0 32.0h-1.8M46.0 31.2h-2.4M46.0 26.2h-1.8M46.0 23.3h-1.8M46.0 21.2h-1.8M46.0 19.5h-1.8M46.0 18.2h-1.8M46.0 17.1h-1.8M46.0 16.1h-1.8M46.0 15.3h-1.8M46.0 14.5h-2.4" stroke="#222" stroke-width="0.9"/>
<path d="M46.5 82.0v2.6M54.0 82.0v1.9M58.4 82.0v1.9M61.6 82.0v1.9M64.0 82.0v1.9M66.0 82.0v1.9M67.6 82.0v1.9M69.1 82.0v1.9M70.4 82.0v1.9M71.5 82.0v2.6M79.0 82.0v1.9M83.4 82.0v1.9M86.6 82.0v1.9M89.0 82.0v1.9M91.0 82.0v1.9M92.6 82.0v1.9M94.1 82.0v1.9M95.4 82.0v1.9M96.5 82.0v2.6M104.0 82.0v1.9M108.4 82.0v1.9M111.6 82.0v1.9M114.0 82.0v1.9M116.0 82.0v1.9M117.6 82.0v1.9M119.1 82.0v1.9M120.4 82.0v1.9M121.5 82.0v2.6M129.0 82.0v1.9M133.4 82.0v1.9M136.6 82.0v1.9M139.0 82.0v1.9M141.0 82.0v1.9M142.6 82.0v1.9M144.1 82.0v1.9M145.4 82.0v1.9M146.5 82.0v2.6" stroke="#222" stroke-width="0.9"/>
<text x="41.36" y="93.50" font-size="8.45" fill="#111" textLength="6.47" lengthAdjust="spacingAndGlyphs">10</text>
<text x="48.28" y="88.50" font-size="5.73" fill="#111" textLength="3.19" lengthAdjust="spacingAndGlyphs">0</text>
<text x="66.36" y="93.50" font-size="8.45" fill="#111" textLength="6.47" lengthAdjust="spacingAndGlyphs">10</text>
<text x="73.06" y="88.50" font-size="5.81" fill="#111" textLength="3.23" lengthAdjust="spacingAndGlyphs">1</text>
<text x="91.36" y="93.50" font-size="8.45" fill="#111" textLength="6.47" lengthAdjust="spacingAndGlyphs">10</text>
<text x="98.21" y="88.50" font-size="5.73" fill="#111" textLength="3.19" lengthAdjust="spacingAndGlyphs">2</text>
<text x="116.36" y="93.50" font-size="8.45" fill="#111" textLength="6.47" lengthAdjust="spacingAndGlyphs">10</text>
<text x="123.28" y="88.50" font-size="5.73" fill="#111" textLength="3.19" lengthAdjust="spacingAndGlyphs">3</text>
<text x="141.36" y="93.50" font-size="8.45" fill="#111" textLength="6.47" lengthAdjust="spacingAndGlyphs">10</text>
<text x="148.37" y="88.50" font-size="5.81" fill="#111" textLength="3.23" lengthAdjust="spacingAndGlyphs">4</text>
<rect x="160.50" y="14.50" width="101.00" height="67.00" fill="none" stroke="#2a2a2a" stroke-width="1"/>
<line x1="187.50" y1="14.50" x2="187.50" y2="81.50" stroke="#3a3a3a" stroke-width="1"/>
<line x1="160.50" y1="59.50" x2="261.50" y2="59.50" stroke="#3a3a3a" stroke-width="1"/>
<path d="M160.0 81.5h-2.4M160.0 76.5h-1.8M160.0 73.5h-1.8M160.0 71.4h-1.8M160.0 69.8h-1.8M160.0 68.5h-1.8M160.0 67.3h-1.8M160.0 66.4h-1.8M160.0 65.5h-1.8M160.0 64.8h-2.4M160.0 59.7h-1.8M160.0 56.8h-1.8M160.0 54.7h-1.8M160.0 53.0h-1.8M160.0 51.7h-1.8M160.0 50.6h-1.8M160.0 49.6h-1.8M160.0 48.8h-1.8M160.0 48.0h-2.4M160.0 43.0h-1.8M160.0 40.0h-1.8M160.0 37.9h-1.8M160.0 36.3h-1.8M160.0 35.0h-1.8M160.0 33.8h-1.8M160.0 32.9h-1.8M160.0 32.0h-1.8M160.0 31.2h-2.4M160.0 26.2h-1.8M160.0 23.3h-1.8M160.0 21.2h-1.8M160.0 19.5h-1.8M160.0 18.2h-1.8M160.0 17.1h-1.8M160.0 16.1h-1.8M160.0 15.3h-1.8M160.0 14.5h-2.4" stroke="#222" stroke-width="0.9"/>
<path d="M160.5 82.0v2.6M168.1 82.0v1.9M172.5 82.0v1.9M175.7 82.0v1.9M178.1 82.0v1.9M180.1 82.0v1.9M181.8 82.0v1.9M183.3 82.0v1.9M184.6 82.0v1.9M185.8 82.0v2.6M193.4 82.0v1.9M197.8 82.0v1.9M201.0 82.0v1.9M203.4 82.0v1.9M205.4 82.0v1.9M207.1 82.0v1.9M208.6 82.0v1.9M209.8 82.0v1.9M211.0 82.0v2.6M218.6 82.0v1.9M223.0 82.0v1.9M226.2 82.0v1.9M228.6 82.0v1.9M230.6 82.0v1.9M232.3 82.0v1.9M233.8 82.0v1.9M235.1 82.0v1.9M236.2 82.0v2.6M243.9 82.0v1.9M248.3 82.0v1.9M251.5 82.0v1.9M253.9 82.0v1.9M255.9 82.0v1.9M257.6 82.0v1.9M259.1 82.0v1.9M260.3 82.0v1.9M261.5 82.0v2.6" stroke="#222" stroke-width="0.9"/>
<text x="155.36" y="93.50" font-size="8.45" fill="#111" textLength="6.47" lengthAdjust="spacingAndGlyphs">10</text>
<text x="162.28" y="88.50" font-size="5.73" fill="#111" textLength="3.19" lengthAdjust="spacingAndGlyphs">0</text>
<text x="180.61" y="93.50" font-size="8.45" fill="#111" textLength="6.47" lengthAdjust="spacingAndGlyphs">10</text>
<text x="187.31" y="88.50" font-size="5.81" fill="#111" textLength="3.23" lengthAdjust="spacingAndGlyphs">1</text>
<text x="205.86" y="93.50" font-size="8.45" fill="#111" textLength="6.47" lengthAdjust="spacingAndGlyphs">10</text>
<text x="212.71" y="88.50" font-size="5.73" fill="#111" textLength="3.19" lengthAdjust="spacingAndGlyphs">2</text>
<text x="231.11" y="93.50" font-size="8.45" fill="#111" textLength="6.47" lengthAdjust="spacingAndGlyphs">10</text>
<text x="238.03" y="88.50" font-size="5.73" fill="#111" textLength="3.19" lengthAdjust="spacingAndGlyphs">3</text>
<text x="256.36" y="93.50" font-size="8.45" fill="#111" textLength="6.47" lengthAdjust="spacingAndGlyphs">10</text>
<text x="263.37" y="88.50" font-size="5.81" fill="#111" textLength="3.23" lengthAdjust="spacingAndGlyphs">4</text>
<rect x="275.50" y="14.50" width="103.00" height="67.00" fill="none" stroke="#2a2a2a" stroke-width="1"/>
<line x1="310.50" y1="14.50" x2="310.50" y2="81.50" stroke="#8a8a8a" stroke-width="1.3"/>
<line x1="275.50" y1="58.50" x2="378.50" y2="58.50" stroke="#3a3a3a" stroke-width="1"/>
<path d="M275.0 81.5h-2.4M275.0 76.5h-1.8M275.0 73.5h-1.8M275.0 71.4h-1.8M275.0 69.8h-1.8M275.0 68.5h-1.8M275.0 67.3h-1.8M275.0 66.4h-1.8M275.0 65.5h-1.8M275.0 64.8h-2.4M275.0 59.7h-1.8M275.0 56.8h-1.8M275.0 54.7h-1.8M275.0 53.0h-1.8M275.0 51.7h-1.8M275.0 50.6h-1.8M275.0 49.6h-1.8M275.0 48.8h-1.8M275.0 48.0h-2.4M275.0 43.0h-1.8M275.0 40.0h-1.8M275.0 37.9h-1.8M275.0 36.3h-1.8M275.0 35.0h-1.8M275.0 33.8h-1.8M275.0 32.9h-1.8M275.0 32.0h-1.8M275.0 31.2h-2.4M275.0 26.2h-1.8M275.0 23.3h-1.8M275.0 21.2h-1.8M275.0 19.5h-1.8M275.0 18.2h-1.8M275.0 17.1h-1.8M275.0 16.1h-1.8M275.0 15.3h-1.8M275.0 14.5h-2.4" stroke="#222" stroke-width="0.9"/>
<path d="M275.5 82.0v2.6M283.3 82.0v1.9M287.8 82.0v1.9M291.0 82.0v1.9M293.5 82.0v1.9M295.5 82.0v1.9M297.3 82.0v1.9M298.8 82.0v1.9M300.1 82.0v1.9M301.2 82.0v2.6M309.0 82.0v1.9M313.5 82.0v1.9M316.8 82.0v1.9M319.2 82.0v1.9M321.3 82.0v1.9M323.0 82.0v1.9M324.5 82.0v1.9M325.8 82.0v1.9M327.0 82.0v2.6M334.8 82.0v1.9M339.3 82.0v1.9M342.5 82.0v1.9M345.0 82.0v1.9M347.0 82.0v1.9M348.8 82.0v1.9M350.3 82.0v1.9M351.6 82.0v1.9M352.8 82.0v2.6M360.5 82.0v1.9M365.0 82.0v1.9M368.3 82.0v1.9M370.7 82.0v1.9M372.8 82.0v1.9M374.5 82.0v1.9M376.0 82.0v1.9M377.3 82.0v1.9M378.5 82.0v2.6" stroke="#222" stroke-width="0.9"/>
<text x="270.36" y="93.50" font-size="8.45" fill="#111" textLength="6.47" lengthAdjust="spacingAndGlyphs">10</text>
<text x="277.28" y="88.50" font-size="5.73" fill="#111" textLength="3.19" lengthAdjust="spacingAndGlyphs">0</text>
<text x="296.11" y="93.50" font-size="8.45" fill="#111" textLength="6.47" lengthAdjust="spacingAndGlyphs">10</text>
<text x="302.81" y="88.50" font-size="5.81" fill="#111" textLength="3.23" lengthAdjust="spacingAndGlyphs">1</text>
<text x="321.86" y="93.50" font-size="8.45" fill="#111" textLength="6.47" lengthAdjust="spacingAndGlyphs">10</text>
<text x="328.71" y="88.50" font-size="5.73" fill="#111" textLength="3.19" lengthAdjust="spacingAndGlyphs">2</text>
<text x="347.61" y="93.50" font-size="8.45" fill="#111" textLength="6.47" lengthAdjust="spacingAndGlyphs">10</text>
<text x="354.53" y="88.50" font-size="5.73" fill="#111" textLength="3.19" lengthAdjust="spacingAndGlyphs">3</text>
<text x="373.36" y="93.50" font-size="8.45" fill="#111" textLength="6.47" lengthAdjust="spacingAndGlyphs">10</text>
<text x="380.37" y="88.50" font-size="5.81" fill="#111" textLength="3.23" lengthAdjust="spacingAndGlyphs">4</text>
<rect x="393.50" y="14.50" width="99.00" height="67.00" fill="none" stroke="#2a2a2a" stroke-width="1"/>
<line x1="424.40" y1="14.50" x2="424.40" y2="81.50" stroke="#8a8a8a" stroke-width="1.3"/>
<line x1="393.50" y1="58.50" x2="492.50" y2="58.50" stroke="#3a3a3a" stroke-width="1"/>
<path d="M393.0 81.5h-2.4M393.0 76.5h-1.8M393.0 73.5h-1.8M393.0 71.4h-1.8M393.0 69.8h-1.8M393.0 68.5h-1.8M393.0 67.3h-1.8M393.0 66.4h-1.8M393.0 65.5h-1.8M393.0 64.8h-2.4M393.0 59.7h-1.8M393.0 56.8h-1.8M393.0 54.7h-1.8M393.0 53.0h-1.8M393.0 51.7h-1.8M393.0 50.6h-1.8M393.0 49.6h-1.8M393.0 48.8h-1.8M393.0 48.0h-2.4M393.0 43.0h-1.8M393.0 40.0h-1.8M393.0 37.9h-1.8M393.0 36.3h-1.8M393.0 35.0h-1.8M393.0 33.8h-1.8M393.0 32.9h-1.8M393.0 32.0h-1.8M393.0 31.2h-2.4M393.0 26.2h-1.8M393.0 23.3h-1.8M393.0 21.2h-1.8M393.0 19.5h-1.8M393.0 18.2h-1.8M393.0 17.1h-1.8M393.0 16.1h-1.8M393.0 15.3h-1.8M393.0 14.5h-2.4" stroke="#222" stroke-width="0.9"/>
<path d="M393.5 82.0v2.6M401.0 82.0v1.9M405.3 82.0v1.9M408.4 82.0v1.9M410.8 82.0v1.9M412.8 82.0v1.9M414.4 82.0v1.9M415.9 82.0v1.9M417.1 82.0v1.9M418.2 82.0v2.6M425.7 82.0v1.9M430.1 82.0v1.9M433.2 82.0v1.9M435.5 82.0v1.9M437.5 82.0v1.9M439.2 82.0v1.9M440.6 82.0v1.9M441.9 82.0v1.9M443.0 82.0v2.6M450.5 82.0v1.9M454.8 82.0v1.9M457.9 82.0v1.9M460.3 82.0v1.9M462.3 82.0v1.9M463.9 82.0v1.9M465.4 82.0v1.9M466.6 82.0v1.9M467.8 82.0v2.6M475.2 82.0v1.9M479.6 82.0v1.9M482.7 82.0v1.9M485.0 82.0v1.9M487.0 82.0v1.9M488.7 82.0v1.9M490.1 82.0v1.9M491.4 82.0v1.9M492.5 82.0v2.6" stroke="#222" stroke-width="0.9"/>
<text x="388.36" y="93.50" font-size="8.45" fill="#111" textLength="6.47" lengthAdjust="spacingAndGlyphs">10</text>
<text x="395.28" y="88.50" font-size="5.73" fill="#111" textLength="3.19" lengthAdjust="spacingAndGlyphs">0</text>
<text x="413.11" y="93.50" font-size="8.45" fill="#111" textLength="6.47" lengthAdjust="spacingAndGlyphs">10</text>
<text x="419.81" y="88.50" font-size="5.81" fill="#111" textLength="3.23" lengthAdjust="spacingAndGlyphs">1</text>
<text x="437.86" y="93.50" font-size="8.45" fill="#111" textLength="6.47" lengthAdjust="spacingAndGlyphs">10</text>
<text x="444.71" y="88.50" font-size="5.73" fill="#111" textLength="3.19" lengthAdjust="spacingAndGlyphs">2</text>
<text x="462.61" y="93.50" font-size="8.45" fill="#111" textLength="6.47" lengthAdjust="spacingAndGlyphs">10</text>
<text x="469.53" y="88.50" font-size="5.73" fill="#111" textLength="3.19" lengthAdjust="spacingAndGlyphs">3</text>
<text x="487.36" y="93.50" font-size="8.45" fill="#111" textLength="6.47" lengthAdjust="spacingAndGlyphs">10</text>
<text x="494.37" y="88.50" font-size="5.81" fill="#111" textLength="3.23" lengthAdjust="spacingAndGlyphs">4</text>
<text x="88.40" y="8.50" font-size="8.56" font-weight="bold" fill="#111" textLength="24.69" lengthAdjust="spacingAndGlyphs">day 0</text>
<text x="204.32" y="8.50" font-size="8.56" font-weight="bold" fill="#111" textLength="23.58" lengthAdjust="spacingAndGlyphs">day 7</text>
<text x="317.82" y="8.50" font-size="8.56" font-weight="bold" fill="#111" textLength="28.83" lengthAdjust="spacingAndGlyphs">day 14</text>
<text x="430.81" y="8.50" font-size="8.56" font-weight="bold" fill="#111" textLength="29.66" lengthAdjust="spacingAndGlyphs">day 21</text>
<text x="57.64" y="21.60" font-size="6.29" fill="#111" textLength="10.05" lengthAdjust="spacingAndGlyphs">0.4</text>
<text x="55.27" y="28.60" font-size="6.29" fill="#111" textLength="14.86" lengthAdjust="spacingAndGlyphs">(0.1)</text>
<text x="130.21" y="21.60" font-size="6.29" fill="#111" textLength="10.05" lengthAdjust="spacingAndGlyphs">0.1</text>
<text x="127.77" y="28.60" font-size="6.29" fill="#111" textLength="14.86" lengthAdjust="spacingAndGlyphs">(0.1)</text>
<text x="175.39" y="21.60" font-size="6.29" fill="#111" textLength="4.02" lengthAdjust="spacingAndGlyphs">9</text>
<text x="169.97" y="28.60" font-size="6.29" fill="#111" textLength="14.86" lengthAdjust="spacingAndGlyphs">(2.3)</text>
<text x="246.69" y="21.60" font-size="6.29" fill="#111" textLength="10.05" lengthAdjust="spacingAndGlyphs">0.6</text>
<text x="244.27" y="28.60" font-size="6.29" fill="#111" textLength="14.86" lengthAdjust="spacingAndGlyphs">(0.2)</text>
<text x="291.85" y="21.60" font-size="6.29" fill="#111" textLength="14.07" lengthAdjust="spacingAndGlyphs">13.3</text>
<text x="291.57" y="28.60" font-size="6.29" fill="#111" textLength="14.86" lengthAdjust="spacingAndGlyphs">(2.7)</text>
<text x="362.85" y="21.60" font-size="6.29" fill="#111" textLength="10.05" lengthAdjust="spacingAndGlyphs">6.8</text>
<text x="360.47" y="28.60" font-size="6.29" fill="#111" textLength="14.86" lengthAdjust="spacingAndGlyphs">(2.1)</text>
<text x="409.54" y="21.60" font-size="6.29" fill="#111" textLength="10.05" lengthAdjust="spacingAndGlyphs">4.5</text>
<text x="407.07" y="28.60" font-size="6.29" fill="#111" textLength="14.86" lengthAdjust="spacingAndGlyphs">(1.6)</text>
<text x="476.76" y="21.60" font-size="6.29" fill="#111" textLength="14.07" lengthAdjust="spacingAndGlyphs">16.9</text>
<text x="476.47" y="28.60" font-size="6.29" fill="#111" textLength="14.86" lengthAdjust="spacingAndGlyphs">(5.7)</text>
<g transform="translate(40.40,85.80) rotate(-90)">
<text x="-0.53" y="0.00" font-size="5.73" fill="#111" textLength="7.81" lengthAdjust="spacingAndGlyphs">10</text>
</g>
<g transform="translate(35.30,78.50) rotate(-90)">
<text x="-0.22" y="0.00" font-size="5.59" fill="#111" textLength="3.11" lengthAdjust="spacingAndGlyphs">0</text>
</g>
<g transform="translate(40.40,69.05) rotate(-90)">
<text x="-0.53" y="0.00" font-size="5.73" fill="#111" textLength="7.81" lengthAdjust="spacingAndGlyphs">10</text>
</g>
<g transform="translate(35.30,61.75) rotate(-90)">
<text x="-0.43" y="0.00" font-size="5.67" fill="#111" textLength="3.15" lengthAdjust="spacingAndGlyphs">1</text>
</g>
<g transform="translate(40.40,52.30) rotate(-90)">
<text x="-0.53" y="0.00" font-size="5.73" fill="#111" textLength="7.81" lengthAdjust="spacingAndGlyphs">10</text>
</g>
<g transform="translate(35.30,45.00) rotate(-90)">
<text x="-0.28" y="0.00" font-size="5.59" fill="#111" textLength="3.11" lengthAdjust="spacingAndGlyphs">2</text>
</g>
<g transform="translate(40.40,35.55) rotate(-90)">
<text x="-0.53" y="0.00" font-size="5.73" fill="#111" textLength="7.81" lengthAdjust="spacingAndGlyphs">10</text>
</g>
<g transform="translate(35.30,28.25) rotate(-90)">
<text x="-0.21" y="0.00" font-size="5.59" fill="#111" textLength="3.11" lengthAdjust="spacingAndGlyphs">3</text>
</g>
<g transform="translate(40.40,20.60) rotate(-90)">
<text x="-0.44" y="0.00" font-size="5.73" fill="#111" textLength="6.47" lengthAdjust="spacingAndGlyphs">10</text>
</g>
<g transform="translate(35.30,14.50) rotate(-90)">
<text x="-0.13" y="0.00" font-size="5.67" fill="#111" textLength="3.15" lengthAdjust="spacingAndGlyphs">4</text>
</g>
<g transform="translate(27.30,76.90) rotate(-90)">
<text x="-0.41" y="0.00" font-size="10.17" font-weight="bold" fill="#111" textLength="30.94" lengthAdjust="spacingAndGlyphs">CD79a</text>
</g>
<line x1="23.30" y1="42.40" x2="23.30" y2="23.30" stroke="#111" stroke-width="1.3"/>
<path d="M23.30,19.40 L21.20,25.90 L25.40,25.90 Z" fill="#111"/>
<rect x="283.50" y="32.50" width="25.50" height="21.50" fill="none" stroke="#555" stroke-width="1"/>
<rect x="312.50" y="28.50" width="32.00" height="26.50" fill="none" stroke="#555" stroke-width="1"/>
<line x1="37.50" y1="103.30" x2="251.50" y2="103.30" stroke="#111" stroke-width="1.4"/>
<text x="255.80" y="106.40" font-size="9.88" font-weight="bold" fill="#111" textLength="24.96" lengthAdjust="spacingAndGlyphs">CD19</text>
<line x1="286.00" y1="103.40" x2="489.00" y2="103.40" stroke="#111" stroke-width="1.4"/>
<path d="M496,103.3 L488.3,100.3 L488.3,106.1 Z" fill="#111"/>
<polyline points="307.8,53.8 307.8,119.2 223,119.2" fill="none" stroke="#111" stroke-width="1.3"/>
<path d="M216,119.2 L223.8,116.8 L223.8,121.7 Z" fill="#111"/>
<polyline points="319.6,55 319.6,119.3 332,119.3" fill="none" stroke="#111" stroke-width="1.3"/>
<path d="M338.8,119.3 L331,117.1 L331,121.5 Z" fill="#111"/>
<text x="-0.03" y="128.40" font-size="20.93" font-weight="bold" fill="#111" textLength="13.26" lengthAdjust="spacingAndGlyphs" stroke="#111" stroke-width="0.1">B</text>
<text x="106.71" y="122.50" font-size="8.88" font-weight="bold" fill="#111" textLength="29.53" lengthAdjust="spacingAndGlyphs">CD79a</text>
<path d="M137.50 117.30H141.30M139.40 115.40V119.20" stroke="#111" stroke-width="1.2"/>
<text x="142.10" y="122.60" font-size="8.88" font-weight="bold" fill="#111" textLength="24.96" lengthAdjust="spacingAndGlyphs">CD19</text>
<line x1="167.10" y1="118.10" x2="169.80" y2="118.10" stroke="#111" stroke-width="1.1"/>
<text x="380.70" y="122.70" font-size="8.88" font-weight="bold" fill="#111" textLength="30.14" lengthAdjust="spacingAndGlyphs">CD79a</text>
<path d="M411.50 118.60H415.40M413.45 116.65V120.55" stroke="#111" stroke-width="1.2"/>
<text x="415.80" y="122.70" font-size="8.88" font-weight="bold" fill="#111" textLength="12.31" lengthAdjust="spacingAndGlyphs">19</text>
<path d="M428.10 118.30H431.90M430.00 116.40V120.20" stroke="#111" stroke-width="1.2"/>
<line x1="265.70" y1="128.90" x2="265.70" y2="371.25" stroke="#111" stroke-width="1.4"/>
<rect x="29.50" y="132.50" width="92.00" height="54.00" fill="none" stroke="#2a2a2a" stroke-width="1"/>
<path d="M29.0 186.5h-4.2M29.0 184.3h-2.1M29.0 182.2h-2.1M29.0 180.0h-2.1M29.0 177.9h-2.1M29.0 175.7h-4.2M29.0 173.5h-2.1M29.0 171.4h-2.1M29.0 169.2h-2.1M29.0 167.1h-2.1M29.0 164.9h-4.2M29.0 162.7h-2.1M29.0 160.6h-2.1M29.0 158.4h-2.1M29.0 156.3h-2.1M29.0 154.1h-4.2M29.0 151.9h-2.1M29.0 149.8h-2.1M29.0 147.6h-2.1M29.0 145.5h-2.1M29.0 143.3h-4.2M29.0 141.1h-2.1M29.0 139.0h-2.1M29.0 136.8h-2.1M29.0 134.7h-2.1M29.0 132.5h-4.2M30.2 187.0v4.0M33.8 187.0v2.2M37.3 187.0v2.2M40.8 187.0v2.2M44.4 187.0v2.2M48.0 187.0v4.0M51.5 187.0v2.2M55.0 187.0v2.2M58.6 187.0v2.2M62.1 187.0v2.2M65.7 187.0v4.0M69.2 187.0v2.2M72.8 187.0v2.2M76.3 187.0v2.2M79.9 187.0v2.2M83.5 187.0v4.0M87.0 187.0v2.2M90.5 187.0v2.2M94.1 187.0v2.2M97.7 187.0v2.2M101.2 187.0v4.0M104.8 187.0v2.2M108.3 187.0v2.2M111.8 187.0v2.2M115.4 187.0v2.2M119.0 187.0v4.0" stroke="#222" stroke-width="0.9"/>
<text x="28.57" y="197.40" font-size="8.29" fill="#111" textLength="4.47" lengthAdjust="spacingAndGlyphs">0</text>
<text x="42.05" y="197.40" font-size="8.29" fill="#111" textLength="13.41" lengthAdjust="spacingAndGlyphs">200</text>
<text x="59.26" y="197.40" font-size="8.29" fill="#111" textLength="13.41" lengthAdjust="spacingAndGlyphs">400</text>
<text x="77.85" y="197.40" font-size="8.29" fill="#111" textLength="13.41" lengthAdjust="spacingAndGlyphs">600</text>
<text x="95.08" y="197.40" font-size="8.29" fill="#111" textLength="13.41" lengthAdjust="spacingAndGlyphs">800</text>
<text x="109.31" y="197.40" font-size="8.29" fill="#111" textLength="17.88" lengthAdjust="spacingAndGlyphs">1000</text>
<g transform="translate(15.70,185.80) rotate(-90)">
<text x="-0.27" y="0.00" font-size="9.02" font-weight="bold" fill="#111" textLength="19.43" lengthAdjust="spacingAndGlyphs">SSC</text>
</g>
<line x1="12.60" y1="166.90" x2="12.60" y2="146.80" stroke="#111" stroke-width="1.3"/>
<path d="M12.60,142.60 L10.50,149.60 L14.70,149.60 Z" fill="#111"/>
<text x="49.57" y="209.80" font-size="9.02" font-weight="bold" fill="#111" textLength="18.79" lengthAdjust="spacingAndGlyphs">FSC</text>
<line x1="71.30" y1="207.00" x2="94.50" y2="207.00" stroke="#111" stroke-width="1.3"/>
<path d="M101.00,207.00 L93.50,204.85 L93.50,209.15 Z" fill="#111"/>
<rect x="159.50" y="133.50" width="92.00" height="55.00" fill="none" stroke="#2a2a2a" stroke-width="1"/>
<line x1="185.50" y1="133.50" x2="185.50" y2="188.50" stroke="#3a3a3a" stroke-width="1"/>
<line x1="159.50" y1="169.50" x2="251.50" y2="169.50" stroke="#3a3a3a" stroke-width="1"/>
<path d="M159.0 188.5h-2.4M159.0 184.4h-1.6M159.0 181.9h-1.6M159.0 180.2h-1.6M159.0 178.9h-1.6M159.0 177.8h-1.6M159.0 176.9h-1.6M159.0 176.1h-1.6M159.0 175.4h-1.6M159.0 174.8h-2.4M159.0 170.6h-1.6M159.0 168.2h-1.6M159.0 166.5h-1.6M159.0 165.1h-1.6M159.0 164.1h-1.6M159.0 163.1h-1.6M159.0 162.3h-1.6M159.0 161.6h-1.6M159.0 161.0h-2.4M159.0 156.9h-1.6M159.0 154.4h-1.6M159.0 152.7h-1.6M159.0 151.4h-1.6M159.0 150.3h-1.6M159.0 149.4h-1.6M159.0 148.6h-1.6M159.0 147.9h-1.6M159.0 147.2h-2.4M159.0 143.1h-1.6M159.0 140.7h-1.6M159.0 139.0h-1.6M159.0 137.6h-1.6M159.0 136.6h-1.6M159.0 135.6h-1.6M159.0 134.8h-1.6M159.0 134.1h-1.6M159.0 133.5h-2.4" stroke="#222" stroke-width="0.9"/>
<path d="M159.5 189.0v2.4M166.4 189.0v1.6M170.5 189.0v1.6M173.3 189.0v1.6M175.6 189.0v1.6M177.4 189.0v1.6M178.9 189.0v1.6M180.3 189.0v1.6M181.4 189.0v1.6M182.5 189.0v2.4M189.4 189.0v1.6M193.5 189.0v1.6M196.3 189.0v1.6M198.6 189.0v1.6M200.4 189.0v1.6M201.9 189.0v1.6M203.3 189.0v1.6M204.4 189.0v1.6M205.5 189.0v2.4M212.4 189.0v1.6M216.5 189.0v1.6M219.3 189.0v1.6M221.6 189.0v1.6M223.4 189.0v1.6M224.9 189.0v1.6M226.3 189.0v1.6M227.4 189.0v1.6M228.5 189.0v2.4M235.4 189.0v1.6M239.5 189.0v1.6M242.3 189.0v1.6M244.6 189.0v1.6M246.4 189.0v1.6M247.9 189.0v1.6M249.3 189.0v1.6M250.4 189.0v1.6M251.5 189.0v2.4" stroke="#222" stroke-width="0.9"/>
<text x="154.89" y="198.60" font-size="6.73" fill="#111" textLength="6.02" lengthAdjust="spacingAndGlyphs">10</text>
<text x="161.20" y="194.80" font-size="5.01" fill="#111" textLength="2.79" lengthAdjust="spacingAndGlyphs">0</text>
<text x="177.89" y="198.60" font-size="6.73" fill="#111" textLength="6.02" lengthAdjust="spacingAndGlyphs">10</text>
<text x="184.01" y="194.80" font-size="5.09" fill="#111" textLength="2.83" lengthAdjust="spacingAndGlyphs">1</text>
<text x="200.89" y="198.60" font-size="6.73" fill="#111" textLength="6.02" lengthAdjust="spacingAndGlyphs">10</text>
<text x="207.15" y="194.80" font-size="5.01" fill="#111" textLength="2.79" lengthAdjust="spacingAndGlyphs">2</text>
<text x="223.89" y="198.60" font-size="6.73" fill="#111" textLength="6.02" lengthAdjust="spacingAndGlyphs">10</text>
<text x="230.21" y="194.80" font-size="5.01" fill="#111" textLength="2.79" lengthAdjust="spacingAndGlyphs">3</text>
<text x="246.89" y="198.60" font-size="6.73" fill="#111" textLength="6.02" lengthAdjust="spacingAndGlyphs">10</text>
<text x="253.28" y="194.80" font-size="5.09" fill="#111" textLength="2.83" lengthAdjust="spacingAndGlyphs">4</text>
<g transform="translate(154.50,191.50) rotate(-90)">
<text x="-0.46" y="0.00" font-size="5.44" fill="#111" textLength="6.69" lengthAdjust="spacingAndGlyphs">10</text>
</g>
<g transform="translate(150.50,185.10) rotate(-90)">
<text x="-0.18" y="0.00" font-size="4.58" fill="#111" textLength="2.55" lengthAdjust="spacingAndGlyphs">0</text>
</g>
<g transform="translate(154.50,178.38) rotate(-90)">
<text x="-0.46" y="0.00" font-size="5.44" fill="#111" textLength="6.69" lengthAdjust="spacingAndGlyphs">10</text>
</g>
<g transform="translate(150.50,171.97) rotate(-90)">
<text x="-0.35" y="0.00" font-size="4.65" fill="#111" textLength="2.59" lengthAdjust="spacingAndGlyphs">1</text>
</g>
<g transform="translate(154.50,165.25) rotate(-90)">
<text x="-0.46" y="0.00" font-size="5.44" fill="#111" textLength="6.69" lengthAdjust="spacingAndGlyphs">10</text>
</g>
<g transform="translate(150.50,158.85) rotate(-90)">
<text x="-0.23" y="0.00" font-size="4.58" fill="#111" textLength="2.55" lengthAdjust="spacingAndGlyphs">2</text>
</g>
<g transform="translate(154.50,152.12) rotate(-90)">
<text x="-0.46" y="0.00" font-size="5.44" fill="#111" textLength="6.69" lengthAdjust="spacingAndGlyphs">10</text>
</g>
<g transform="translate(150.50,145.72) rotate(-90)">
<text x="-0.17" y="0.00" font-size="4.58" fill="#111" textLength="2.55" lengthAdjust="spacingAndGlyphs">3</text>
</g>
<g transform="translate(154.50,139.00) rotate(-90)">
<text x="-0.46" y="0.00" font-size="5.44" fill="#111" textLength="6.69" lengthAdjust="spacingAndGlyphs">10</text>
</g>
<g transform="translate(150.50,132.60) rotate(-90)">
<text x="-0.11" y="0.00" font-size="4.65" fill="#111" textLength="2.59" lengthAdjust="spacingAndGlyphs">4</text>
</g>
<g transform="translate(143.10,186.00) rotate(-90)">
<text x="-0.41" y="0.00" font-size="9.31" font-weight="bold" fill="#111" textLength="31.15" lengthAdjust="spacingAndGlyphs">CD79a</text>
</g>
<line x1="140.20" y1="152.60" x2="140.20" y2="136.50" stroke="#111" stroke-width="1.3"/>
<path d="M140.20,132.60 L138.10,139.10 L142.30,139.10 Z" fill="#111"/>
<text x="176.11" y="209.10" font-size="9.60" font-weight="bold" fill="#111" textLength="24.24" lengthAdjust="spacingAndGlyphs">CD34</text>
<line x1="201.00" y1="205.80" x2="224.80" y2="205.80" stroke="#111" stroke-width="1.3"/>
<path d="M232.20,205.80 L223.80,203.65 L223.80,207.95 Z" fill="#111"/>
<text x="236.31" y="140.80" font-size="6.86" fill="#111" textLength="14.01" lengthAdjust="spacingAndGlyphs">38.8</text>
<text x="235.90" y="147.80" font-size="6.86" fill="#111" textLength="14.80" lengthAdjust="spacingAndGlyphs">(5.4)</text>
<rect x="25.50" y="218.50" width="93.00" height="54.00" fill="none" stroke="#2a2a2a" stroke-width="1"/>
<line x1="52.50" y1="218.50" x2="52.50" y2="272.50" stroke="#3a3a3a" stroke-width="1"/>
<line x1="25.50" y1="254.50" x2="118.50" y2="254.50" stroke="#3a3a3a" stroke-width="1"/>
<path d="M25.0 272.5h-2.4M25.0 268.4h-1.6M25.0 266.1h-1.6M25.0 264.4h-1.6M25.0 263.1h-1.6M25.0 262.0h-1.6M25.0 261.1h-1.6M25.0 260.3h-1.6M25.0 259.6h-1.6M25.0 259.0h-2.4M25.0 254.9h-1.6M25.0 252.6h-1.6M25.0 250.9h-1.6M25.0 249.6h-1.6M25.0 248.5h-1.6M25.0 247.6h-1.6M25.0 246.8h-1.6M25.0 246.1h-1.6M25.0 245.5h-2.4M25.0 241.4h-1.6M25.0 239.1h-1.6M25.0 237.4h-1.6M25.0 236.1h-1.6M25.0 235.0h-1.6M25.0 234.1h-1.6M25.0 233.3h-1.6M25.0 232.6h-1.6M25.0 232.0h-2.4M25.0 227.9h-1.6M25.0 225.6h-1.6M25.0 223.9h-1.6M25.0 222.6h-1.6M25.0 221.5h-1.6M25.0 220.6h-1.6M25.0 219.8h-1.6M25.0 219.1h-1.6M25.0 218.5h-2.4" stroke="#222" stroke-width="0.9"/>
<path d="M25.5 273.0v2.4M32.5 273.0v1.6M36.6 273.0v1.6M39.5 273.0v1.6M41.8 273.0v1.6M43.6 273.0v1.6M45.1 273.0v1.6M46.5 273.0v1.6M47.7 273.0v1.6M48.8 273.0v2.4M55.7 273.0v1.6M59.8 273.0v1.6M62.7 273.0v1.6M65.0 273.0v1.6M66.8 273.0v1.6M68.4 273.0v1.6M69.7 273.0v1.6M70.9 273.0v1.6M72.0 273.0v2.4M79.0 273.0v1.6M83.1 273.0v1.6M86.0 273.0v1.6M88.3 273.0v1.6M90.1 273.0v1.6M91.6 273.0v1.6M93.0 273.0v1.6M94.2 273.0v1.6M95.2 273.0v2.4M102.2 273.0v1.6M106.3 273.0v1.6M109.2 273.0v1.6M111.5 273.0v1.6M113.3 273.0v1.6M114.9 273.0v1.6M116.2 273.0v1.6M117.4 273.0v1.6M118.5 273.0v2.4" stroke="#222" stroke-width="0.9"/>
<text x="20.89" y="282.60" font-size="6.73" fill="#111" textLength="6.02" lengthAdjust="spacingAndGlyphs">10</text>
<text x="27.20" y="278.80" font-size="5.01" fill="#111" textLength="2.79" lengthAdjust="spacingAndGlyphs">0</text>
<text x="44.14" y="282.60" font-size="6.73" fill="#111" textLength="6.02" lengthAdjust="spacingAndGlyphs">10</text>
<text x="50.26" y="278.80" font-size="5.09" fill="#111" textLength="2.83" lengthAdjust="spacingAndGlyphs">1</text>
<text x="67.39" y="282.60" font-size="6.73" fill="#111" textLength="6.02" lengthAdjust="spacingAndGlyphs">10</text>
<text x="73.65" y="278.80" font-size="5.01" fill="#111" textLength="2.79" lengthAdjust="spacingAndGlyphs">2</text>
<text x="90.64" y="282.60" font-size="6.73" fill="#111" textLength="6.02" lengthAdjust="spacingAndGlyphs">10</text>
<text x="96.96" y="278.80" font-size="5.01" fill="#111" textLength="2.79" lengthAdjust="spacingAndGlyphs">3</text>
<text x="113.89" y="282.60" font-size="6.73" fill="#111" textLength="6.02" lengthAdjust="spacingAndGlyphs">10</text>
<text x="120.28" y="278.80" font-size="5.09" fill="#111" textLength="2.83" lengthAdjust="spacingAndGlyphs">4</text>
<g transform="translate(20.50,275.50) rotate(-90)">
<text x="-0.46" y="0.00" font-size="5.44" fill="#111" textLength="6.69" lengthAdjust="spacingAndGlyphs">10</text>
</g>
<g transform="translate(16.50,269.10) rotate(-90)">
<text x="-0.18" y="0.00" font-size="4.58" fill="#111" textLength="2.55" lengthAdjust="spacingAndGlyphs">0</text>
</g>
<g transform="translate(20.50,262.62) rotate(-90)">
<text x="-0.46" y="0.00" font-size="5.44" fill="#111" textLength="6.69" lengthAdjust="spacingAndGlyphs">10</text>
</g>
<g transform="translate(16.50,256.23) rotate(-90)">
<text x="-0.35" y="0.00" font-size="4.65" fill="#111" textLength="2.59" lengthAdjust="spacingAndGlyphs">1</text>
</g>
<g transform="translate(20.50,249.75) rotate(-90)">
<text x="-0.46" y="0.00" font-size="5.44" fill="#111" textLength="6.69" lengthAdjust="spacingAndGlyphs">10</text>
</g>
<g transform="translate(16.50,243.35) rotate(-90)">
<text x="-0.23" y="0.00" font-size="4.58" fill="#111" textLength="2.55" lengthAdjust="spacingAndGlyphs">2</text>
</g>
<g transform="translate(20.50,236.88) rotate(-90)">
<text x="-0.46" y="0.00" font-size="5.44" fill="#111" textLength="6.69" lengthAdjust="spacingAndGlyphs">10</text>
</g>
<g transform="translate(16.50,230.47) rotate(-90)">
<text x="-0.17" y="0.00" font-size="4.58" fill="#111" textLength="2.55" lengthAdjust="spacingAndGlyphs">3</text>
</g>
<g transform="translate(20.50,224.00) rotate(-90)">
<text x="-0.46" y="0.00" font-size="5.44" fill="#111" textLength="6.69" lengthAdjust="spacingAndGlyphs">10</text>
</g>
<g transform="translate(16.50,217.60) rotate(-90)">
<text x="-0.11" y="0.00" font-size="4.65" fill="#111" textLength="2.59" lengthAdjust="spacingAndGlyphs">4</text>
</g>
<g transform="translate(7.70,270.70) rotate(-90)">
<text x="-0.39" y="0.00" font-size="9.02" font-weight="bold" fill="#111" textLength="29.23" lengthAdjust="spacingAndGlyphs">CD79a</text>
</g>
<line x1="5.30" y1="240.00" x2="5.30" y2="221.00" stroke="#111" stroke-width="1.3"/>
<path d="M5.30,217.10 L3.20,223.60 L7.40,223.60 Z" fill="#111"/>
<text x="44.36" y="291.80" font-size="8.72" font-weight="bold" fill="#111" textLength="36.94" lengthAdjust="spacingAndGlyphs">HLA-DR</text>
<line x1="81.50" y1="289.40" x2="105.20" y2="289.40" stroke="#111" stroke-width="1.3"/>
<path d="M111.40,289.40 L104.20,287.25 L104.20,291.55 Z" fill="#111"/>
<text x="102.57" y="225.50" font-size="6.86" fill="#111" textLength="14.01" lengthAdjust="spacingAndGlyphs">95.0</text>
<text x="102.20" y="232.70" font-size="6.86" fill="#111" textLength="14.80" lengthAdjust="spacingAndGlyphs">(0.0)</text>
<rect x="159.50" y="218.50" width="92.00" height="54.00" fill="none" stroke="#2a2a2a" stroke-width="1"/>
<line x1="186.50" y1="218.50" x2="186.50" y2="272.50" stroke="#3a3a3a" stroke-width="1"/>
<line x1="159.50" y1="254.50" x2="251.50" y2="254.50" stroke="#3a3a3a" stroke-width="1"/>
<path d="M159.0 272.5h-2.4M159.0 268.4h-1.6M159.0 266.1h-1.6M159.0 264.4h-1.6M159.0 263.1h-1.6M159.0 262.0h-1.6M159.0 261.1h-1.6M159.0 260.3h-1.6M159.0 259.6h-1.6M159.0 259.0h-2.4M159.0 254.9h-1.6M159.0 252.6h-1.6M159.0 250.9h-1.6M159.0 249.6h-1.6M159.0 248.5h-1.6M159.0 247.6h-1.6M159.0 246.8h-1.6M159.0 246.1h-1.6M159.0 245.5h-2.4M159.0 241.4h-1.6M159.0 239.1h-1.6M159.0 237.4h-1.6M159.0 236.1h-1.6M159.0 235.0h-1.6M159.0 234.1h-1.6M159.0 233.3h-1.6M159.0 232.6h-1.6M159.0 232.0h-2.4M159.0 227.9h-1.6M159.0 225.6h-1.6M159.0 223.9h-1.6M159.0 222.6h-1.6M159.0 221.5h-1.6M159.0 220.6h-1.6M159.0 219.8h-1.6M159.0 219.1h-1.6M159.0 218.5h-2.4" stroke="#222" stroke-width="0.9"/>
<path d="M159.5 273.0v2.4M166.4 273.0v1.6M170.5 273.0v1.6M173.3 273.0v1.6M175.6 273.0v1.6M177.4 273.0v1.6M178.9 273.0v1.6M180.3 273.0v1.6M181.4 273.0v1.6M182.5 273.0v2.4M189.4 273.0v1.6M193.5 273.0v1.6M196.3 273.0v1.6M198.6 273.0v1.6M200.4 273.0v1.6M201.9 273.0v1.6M203.3 273.0v1.6M204.4 273.0v1.6M205.5 273.0v2.4M212.4 273.0v1.6M216.5 273.0v1.6M219.3 273.0v1.6M221.6 273.0v1.6M223.4 273.0v1.6M224.9 273.0v1.6M226.3 273.0v1.6M227.4 273.0v1.6M228.5 273.0v2.4M235.4 273.0v1.6M239.5 273.0v1.6M242.3 273.0v1.6M244.6 273.0v1.6M246.4 273.0v1.6M247.9 273.0v1.6M249.3 273.0v1.6M250.4 273.0v1.6M251.5 273.0v2.4" stroke="#222" stroke-width="0.9"/>
<text x="154.89" y="282.60" font-size="6.73" fill="#111" textLength="6.02" lengthAdjust="spacingAndGlyphs">10</text>
<text x="161.20" y="278.80" font-size="5.01" fill="#111" textLength="2.79" lengthAdjust="spacingAndGlyphs">0</text>
<text x="177.89" y="282.60" font-size="6.73" fill="#111" textLength="6.02" lengthAdjust="spacingAndGlyphs">10</text>
<text x="184.01" y="278.80" font-size="5.09" fill="#111" textLength="2.83" lengthAdjust="spacingAndGlyphs">1</text>
<text x="200.89" y="282.60" font-size="6.73" fill="#111" textLength="6.02" lengthAdjust="spacingAndGlyphs">10</text>
<text x="207.15" y="278.80" font-size="5.01" fill="#111" textLength="2.79" lengthAdjust="spacingAndGlyphs">2</text>
<text x="223.89" y="282.60" font-size="6.73" fill="#111" textLength="6.02" lengthAdjust="spacingAndGlyphs">10</text>
<text x="230.21" y="278.80" font-size="5.01" fill="#111" textLength="2.79" lengthAdjust="spacingAndGlyphs">3</text>
<text x="246.89" y="282.60" font-size="6.73" fill="#111" textLength="6.02" lengthAdjust="spacingAndGlyphs">10</text>
<text x="253.28" y="278.80" font-size="5.09" fill="#111" textLength="2.83" lengthAdjust="spacingAndGlyphs">4</text>
<g transform="translate(154.50,275.50) rotate(-90)">
<text x="-0.46" y="0.00" font-size="5.44" fill="#111" textLength="6.69" lengthAdjust="spacingAndGlyphs">10</text>
</g>
<g transform="translate(150.50,269.10) rotate(-90)">
<text x="-0.18" y="0.00" font-size="4.58" fill="#111" textLength="2.55" lengthAdjust="spacingAndGlyphs">0</text>
</g>
<g transform="translate(154.50,262.62) rotate(-90)">
<text x="-0.46" y="0.00" font-size="5.44" fill="#111" textLength="6.69" lengthAdjust="spacingAndGlyphs">10</text>
</g>
<g transform="translate(150.50,256.23) rotate(-90)">
<text x="-0.35" y="0.00" font-size="4.65" fill="#111" textLength="2.59" lengthAdjust="spacingAndGlyphs">1</text>
</g>
<g transform="translate(154.50,249.75) rotate(-90)">
<text x="-0.46" y="0.00" font-size="5.44" fill="#111" textLength="6.69" lengthAdjust="spacingAndGlyphs">10</text>
</g>
<g transform="translate(150.50,243.35) rotate(-90)">
<text x="-0.23" y="0.00" font-size="4.58" fill="#111" textLength="2.55" lengthAdjust="spacingAndGlyphs">2</text>
</g>
<g transform="translate(154.50,236.88) rotate(-90)">
<text x="-0.46" y="0.00" font-size="5.44" fill="#111" textLength="6.69" lengthAdjust="spacingAndGlyphs">10</text>
</g>
<g transform="translate(150.50,230.47) rotate(-90)">
<text x="-0.17" y="0.00" font-size="4.58" fill="#111" textLength="2.55" lengthAdjust="spacingAndGlyphs">3</text>
</g>
<g transform="translate(154.50,224.00) rotate(-90)">
<text x="-0.46" y="0.00" font-size="5.44" fill="#111" textLength="6.69" lengthAdjust="spacingAndGlyphs">10</text>
</g>
<g transform="translate(150.50,217.60) rotate(-90)">
<text x="-0.11" y="0.00" font-size="4.65" fill="#111" textLength="2.59" lengthAdjust="spacingAndGlyphs">4</text>
</g>
<g transform="translate(144.10,272.30) rotate(-90)">
<text x="-0.40" y="0.00" font-size="10.03" font-weight="bold" fill="#111" textLength="30.14" lengthAdjust="spacingAndGlyphs">CD79a</text>
</g>
<line x1="140.70" y1="240.90" x2="140.70" y2="222.80" stroke="#111" stroke-width="1.3"/>
<path d="M140.70,218.90 L138.60,225.40 L142.80,225.40 Z" fill="#111"/>
<text x="176.31" y="293.00" font-size="9.02" font-weight="bold" fill="#111" textLength="36.91" lengthAdjust="spacingAndGlyphs">CDw127</text>
<line x1="213.00" y1="290.50" x2="236.00" y2="290.50" stroke="#111" stroke-width="1.3"/>
<path d="M243.10,290.50 L235.00,288.35 L235.00,292.65 Z" fill="#111"/>
<text x="234.34" y="224.90" font-size="6.71" fill="#111" textLength="13.72" lengthAdjust="spacingAndGlyphs">47.7</text>
<text x="231.89" y="231.90" font-size="6.71" fill="#111" textLength="18.42" lengthAdjust="spacingAndGlyphs">(10.5)</text>
<rect x="27.50" y="305.50" width="92.00" height="54.00" fill="none" stroke="#2a2a2a" stroke-width="1"/>
<line x1="54.50" y1="305.50" x2="54.50" y2="359.50" stroke="#3a3a3a" stroke-width="1"/>
<line x1="27.50" y1="341.50" x2="119.50" y2="341.50" stroke="#3a3a3a" stroke-width="1"/>
<path d="M27.0 359.5h-2.4M27.0 355.4h-1.6M27.0 353.1h-1.6M27.0 351.4h-1.6M27.0 350.1h-1.6M27.0 349.0h-1.6M27.0 348.1h-1.6M27.0 347.3h-1.6M27.0 346.6h-1.6M27.0 346.0h-2.4M27.0 341.9h-1.6M27.0 339.6h-1.6M27.0 337.9h-1.6M27.0 336.6h-1.6M27.0 335.5h-1.6M27.0 334.6h-1.6M27.0 333.8h-1.6M27.0 333.1h-1.6M27.0 332.5h-2.4M27.0 328.4h-1.6M27.0 326.1h-1.6M27.0 324.4h-1.6M27.0 323.1h-1.6M27.0 322.0h-1.6M27.0 321.1h-1.6M27.0 320.3h-1.6M27.0 319.6h-1.6M27.0 319.0h-2.4M27.0 314.9h-1.6M27.0 312.6h-1.6M27.0 310.9h-1.6M27.0 309.6h-1.6M27.0 308.5h-1.6M27.0 307.6h-1.6M27.0 306.8h-1.6M27.0 306.1h-1.6M27.0 305.5h-2.4" stroke="#222" stroke-width="0.9"/>
<path d="M27.5 360.0v2.4M34.4 360.0v1.6M38.5 360.0v1.6M41.3 360.0v1.6M43.6 360.0v1.6M45.4 360.0v1.6M46.9 360.0v1.6M48.3 360.0v1.6M49.4 360.0v1.6M50.5 360.0v2.4M57.4 360.0v1.6M61.5 360.0v1.6M64.3 360.0v1.6M66.6 360.0v1.6M68.4 360.0v1.6M69.9 360.0v1.6M71.3 360.0v1.6M72.4 360.0v1.6M73.5 360.0v2.4M80.4 360.0v1.6M84.5 360.0v1.6M87.3 360.0v1.6M89.6 360.0v1.6M91.4 360.0v1.6M92.9 360.0v1.6M94.3 360.0v1.6M95.4 360.0v1.6M96.5 360.0v2.4M103.4 360.0v1.6M107.5 360.0v1.6M110.3 360.0v1.6M112.6 360.0v1.6M114.4 360.0v1.6M115.9 360.0v1.6M117.3 360.0v1.6M118.4 360.0v1.6M119.5 360.0v2.4" stroke="#222" stroke-width="0.9"/>
<text x="22.89" y="369.60" font-size="6.73" fill="#111" textLength="6.02" lengthAdjust="spacingAndGlyphs">10</text>
<text x="29.20" y="365.80" font-size="5.01" fill="#111" textLength="2.79" lengthAdjust="spacingAndGlyphs">0</text>
<text x="45.89" y="369.60" font-size="6.73" fill="#111" textLength="6.02" lengthAdjust="spacingAndGlyphs">10</text>
<text x="52.01" y="365.80" font-size="5.09" fill="#111" textLength="2.83" lengthAdjust="spacingAndGlyphs">1</text>
<text x="68.89" y="369.60" font-size="6.73" fill="#111" textLength="6.02" lengthAdjust="spacingAndGlyphs">10</text>
<text x="75.15" y="365.80" font-size="5.01" fill="#111" textLength="2.79" lengthAdjust="spacingAndGlyphs">2</text>
<text x="91.89" y="369.60" font-size="6.73" fill="#111" textLength="6.02" lengthAdjust="spacingAndGlyphs">10</text>
<text x="98.21" y="365.80" font-size="5.01" fill="#111" textLength="2.79" lengthAdjust="spacingAndGlyphs">3</text>
<text x="114.89" y="369.60" font-size="6.73" fill="#111" textLength="6.02" lengthAdjust="spacingAndGlyphs">10</text>
<text x="121.28" y="365.80" font-size="5.09" fill="#111" textLength="2.83" lengthAdjust="spacingAndGlyphs">4</text>
<g transform="translate(22.50,362.50) rotate(-90)">
<text x="-0.46" y="0.00" font-size="5.44" fill="#111" textLength="6.69" lengthAdjust="spacingAndGlyphs">10</text>
</g>
<g transform="translate(18.50,356.10) rotate(-90)">
<text x="-0.18" y="0.00" font-size="4.58" fill="#111" textLength="2.55" lengthAdjust="spacingAndGlyphs">0</text>
</g>
<g transform="translate(22.50,349.62) rotate(-90)">
<text x="-0.46" y="0.00" font-size="5.44" fill="#111" textLength="6.69" lengthAdjust="spacingAndGlyphs">10</text>
</g>
<g transform="translate(18.50,343.23) rotate(-90)">
<text x="-0.35" y="0.00" font-size="4.65" fill="#111" textLength="2.59" lengthAdjust="spacingAndGlyphs">1</text>
</g>
<g transform="translate(22.50,336.75) rotate(-90)">
<text x="-0.46" y="0.00" font-size="5.44" fill="#111" textLength="6.69" lengthAdjust="spacingAndGlyphs">10</text>
</g>
<g transform="translate(18.50,330.35) rotate(-90)">
<text x="-0.23" y="0.00" font-size="4.58" fill="#111" textLength="2.55" lengthAdjust="spacingAndGlyphs">2</text>
</g>
<g transform="translate(22.50,323.88) rotate(-90)">
<text x="-0.46" y="0.00" font-size="5.44" fill="#111" textLength="6.69" lengthAdjust="spacingAndGlyphs">10</text>
</g>
<g transform="translate(18.50,317.48) rotate(-90)">
<text x="-0.17" y="0.00" font-size="4.58" fill="#111" textLength="2.55" lengthAdjust="spacingAndGlyphs">3</text>
</g>
<g transform="translate(22.50,311.00) rotate(-90)">
<text x="-0.46" y="0.00" font-size="5.44" fill="#111" textLength="6.69" lengthAdjust="spacingAndGlyphs">10</text>
</g>
<g transform="translate(18.50,304.60) rotate(-90)">
<text x="-0.11" y="0.00" font-size="4.65" fill="#111" textLength="2.59" lengthAdjust="spacingAndGlyphs">4</text>
</g>
<g transform="translate(10.20,358.40) rotate(-90)">
<text x="-0.40" y="0.00" font-size="9.31" font-weight="bold" fill="#111" textLength="30.14" lengthAdjust="spacingAndGlyphs">CD79a</text>
</g>
<line x1="6.80" y1="326.90" x2="6.80" y2="308.70" stroke="#111" stroke-width="1.3"/>
<path d="M6.80,304.80 L4.70,311.30 L8.90,311.30 Z" fill="#111"/>
<text x="45.72" y="379.50" font-size="8.74" font-weight="bold" fill="#111" textLength="23.97" lengthAdjust="spacingAndGlyphs">CD10</text>
<line x1="69.50" y1="376.50" x2="93.50" y2="376.50" stroke="#111" stroke-width="1.3"/>
<path d="M99.90,376.50 L92.50,374.35 L92.50,378.65 Z" fill="#111"/>
<text x="104.03" y="312.70" font-size="6.57" fill="#111" textLength="10.05" lengthAdjust="spacingAndGlyphs">4.0</text>
<text x="101.57" y="319.40" font-size="6.57" fill="#111" textLength="14.86" lengthAdjust="spacingAndGlyphs">(0.0)</text>
<rect x="159.50" y="306.50" width="90.00" height="54.00" fill="none" stroke="#2a2a2a" stroke-width="1"/>
<line x1="185.50" y1="306.50" x2="185.50" y2="360.50" stroke="#3a3a3a" stroke-width="1"/>
<line x1="159.50" y1="341.50" x2="249.50" y2="341.50" stroke="#3a3a3a" stroke-width="1"/>
<path d="M159.0 360.5h-2.4M159.0 356.4h-1.6M159.0 354.1h-1.6M159.0 352.4h-1.6M159.0 351.1h-1.6M159.0 350.0h-1.6M159.0 349.1h-1.6M159.0 348.3h-1.6M159.0 347.6h-1.6M159.0 347.0h-2.4M159.0 342.9h-1.6M159.0 340.6h-1.6M159.0 338.9h-1.6M159.0 337.6h-1.6M159.0 336.5h-1.6M159.0 335.6h-1.6M159.0 334.8h-1.6M159.0 334.1h-1.6M159.0 333.5h-2.4M159.0 329.4h-1.6M159.0 327.1h-1.6M159.0 325.4h-1.6M159.0 324.1h-1.6M159.0 323.0h-1.6M159.0 322.1h-1.6M159.0 321.3h-1.6M159.0 320.6h-1.6M159.0 320.0h-2.4M159.0 315.9h-1.6M159.0 313.6h-1.6M159.0 311.9h-1.6M159.0 310.6h-1.6M159.0 309.5h-1.6M159.0 308.6h-1.6M159.0 307.8h-1.6M159.0 307.1h-1.6M159.0 306.5h-2.4" stroke="#222" stroke-width="0.9"/>
<path d="M159.5 361.0v2.4M166.3 361.0v1.6M170.2 361.0v1.6M173.0 361.0v1.6M175.2 361.0v1.6M177.0 361.0v1.6M178.5 361.0v1.6M179.8 361.0v1.6M181.0 361.0v1.6M182.0 361.0v2.4M188.8 361.0v1.6M192.7 361.0v1.6M195.5 361.0v1.6M197.7 361.0v1.6M199.5 361.0v1.6M201.0 361.0v1.6M202.3 361.0v1.6M203.5 361.0v1.6M204.5 361.0v2.4M211.3 361.0v1.6M215.2 361.0v1.6M218.0 361.0v1.6M220.2 361.0v1.6M222.0 361.0v1.6M223.5 361.0v1.6M224.8 361.0v1.6M226.0 361.0v1.6M227.0 361.0v2.4M233.8 361.0v1.6M237.7 361.0v1.6M240.5 361.0v1.6M242.7 361.0v1.6M244.5 361.0v1.6M246.0 361.0v1.6M247.3 361.0v1.6M248.5 361.0v1.6M249.5 361.0v2.4" stroke="#222" stroke-width="0.9"/>
<text x="154.89" y="370.60" font-size="6.73" fill="#111" textLength="6.02" lengthAdjust="spacingAndGlyphs">10</text>
<text x="161.20" y="366.80" font-size="5.01" fill="#111" textLength="2.79" lengthAdjust="spacingAndGlyphs">0</text>
<text x="177.39" y="370.60" font-size="6.73" fill="#111" textLength="6.02" lengthAdjust="spacingAndGlyphs">10</text>
<text x="183.51" y="366.80" font-size="5.09" fill="#111" textLength="2.83" lengthAdjust="spacingAndGlyphs">1</text>
<text x="199.89" y="370.60" font-size="6.73" fill="#111" textLength="6.02" lengthAdjust="spacingAndGlyphs">10</text>
<text x="206.15" y="366.80" font-size="5.01" fill="#111" textLength="2.79" lengthAdjust="spacingAndGlyphs">2</text>
<text x="222.39" y="370.60" font-size="6.73" fill="#111" textLength="6.02" lengthAdjust="spacingAndGlyphs">10</text>
<text x="228.71" y="366.80" font-size="5.01" fill="#111" textLength="2.79" lengthAdjust="spacingAndGlyphs">3</text>
<text x="244.89" y="370.60" font-size="6.73" fill="#111" textLength="6.02" lengthAdjust="spacingAndGlyphs">10</text>
<text x="251.28" y="366.80" font-size="5.09" fill="#111" textLength="2.83" lengthAdjust="spacingAndGlyphs">4</text>
<g transform="translate(154.50,363.50) rotate(-90)">
<text x="-0.46" y="0.00" font-size="5.44" fill="#111" textLength="6.69" lengthAdjust="spacingAndGlyphs">10</text>
</g>
<g transform="translate(150.50,357.10) rotate(-90)">
<text x="-0.18" y="0.00" font-size="4.58" fill="#111" textLength="2.55" lengthAdjust="spacingAndGlyphs">0</text>
</g>
<g transform="translate(154.50,350.62) rotate(-90)">
<text x="-0.46" y="0.00" font-size="5.44" fill="#111" textLength="6.69" lengthAdjust="spacingAndGlyphs">10</text>
</g>
<g transform="translate(150.50,344.23) rotate(-90)">
<text x="-0.35" y="0.00" font-size="4.65" fill="#111" textLength="2.59" lengthAdjust="spacingAndGlyphs">1</text>
</g>
<g transform="translate(154.50,337.75) rotate(-90)">
<text x="-0.46" y="0.00" font-size="5.44" fill="#111" textLength="6.69" lengthAdjust="spacingAndGlyphs">10</text>
</g>
<g transform="translate(150.50,331.35) rotate(-90)">
<text x="-0.23" y="0.00" font-size="4.58" fill="#111" textLength="2.55" lengthAdjust="spacingAndGlyphs">2</text>
</g>
<g transform="translate(154.50,324.88) rotate(-90)">
<text x="-0.46" y="0.00" font-size="5.44" fill="#111" textLength="6.69" lengthAdjust="spacingAndGlyphs">10</text>
</g>
<g transform="translate(150.50,318.48) rotate(-90)">
<text x="-0.17" y="0.00" font-size="4.58" fill="#111" textLength="2.55" lengthAdjust="spacingAndGlyphs">3</text>
</g>
<g transform="translate(154.50,312.00) rotate(-90)">
<text x="-0.46" y="0.00" font-size="5.44" fill="#111" textLength="6.69" lengthAdjust="spacingAndGlyphs">10</text>
</g>
<g transform="translate(150.50,305.60) rotate(-90)">
<text x="-0.11" y="0.00" font-size="4.65" fill="#111" textLength="2.59" lengthAdjust="spacingAndGlyphs">4</text>
</g>
<g transform="translate(143.90,358.40) rotate(-90)">
<text x="-0.41" y="0.00" font-size="9.74" font-weight="bold" fill="#111" textLength="30.94" lengthAdjust="spacingAndGlyphs">CD79a</text>
</g>
<line x1="140.50" y1="326.10" x2="140.50" y2="308.70" stroke="#111" stroke-width="1.3"/>
<path d="M140.50,304.80 L138.40,311.30 L142.60,311.30 Z" fill="#111"/>
<text x="176.30" y="380.10" font-size="8.31" font-weight="bold" fill="#111" textLength="19.74" lengthAdjust="spacingAndGlyphs">CD7</text>
<line x1="198.90" y1="377.00" x2="222.80" y2="377.00" stroke="#111" stroke-width="1.3"/>
<path d="M229.20,377.00 L221.80,374.85 L221.80,379.15 Z" fill="#111"/>
<text x="231.00" y="313.90" font-size="6.43" fill="#111" textLength="13.14" lengthAdjust="spacingAndGlyphs">46.3</text>
<text x="230.56" y="320.00" font-size="6.43" fill="#111" textLength="13.88" lengthAdjust="spacingAndGlyphs">(8.3)</text>
<rect x="294.50" y="131.50" width="92.00" height="56.00" fill="none" stroke="#2a2a2a" stroke-width="1"/>
<path d="M294.0 187.5h-4.2M294.0 185.3h-2.1M294.0 183.0h-2.1M294.0 180.8h-2.1M294.0 178.5h-2.1M294.0 176.3h-4.2M294.0 174.1h-2.1M294.0 171.8h-2.1M294.0 169.6h-2.1M294.0 167.3h-2.1M294.0 165.1h-4.2M294.0 162.9h-2.1M294.0 160.6h-2.1M294.0 158.4h-2.1M294.0 156.1h-2.1M294.0 153.9h-4.2M294.0 151.7h-2.1M294.0 149.4h-2.1M294.0 147.2h-2.1M294.0 144.9h-2.1M294.0 142.7h-4.2M294.0 140.5h-2.1M294.0 138.2h-2.1M294.0 136.0h-2.1M294.0 133.7h-2.1M294.0 131.5h-4.2M296.5 188.0v4.0M299.9 188.0v2.2M303.3 188.0v2.2M306.6 188.0v2.2M310.0 188.0v2.2M313.4 188.0v4.0M316.8 188.0v2.2M320.2 188.0v2.2M323.5 188.0v2.2M326.9 188.0v2.2M330.3 188.0v4.0M333.7 188.0v2.2M337.1 188.0v2.2M340.4 188.0v2.2M343.8 188.0v2.2M347.2 188.0v4.0M350.6 188.0v2.2M354.0 188.0v2.2M357.3 188.0v2.2M360.7 188.0v2.2M364.1 188.0v4.0M367.5 188.0v2.2M370.9 188.0v2.2M374.2 188.0v2.2M377.6 188.0v2.2M381.0 188.0v4.0M384.4 188.0v2.2" stroke="#222" stroke-width="0.9"/>
<text x="294.37" y="198.30" font-size="8.29" fill="#111" textLength="4.47" lengthAdjust="spacingAndGlyphs">0</text>
<text x="307.25" y="198.30" font-size="8.29" fill="#111" textLength="13.41" lengthAdjust="spacingAndGlyphs">200</text>
<text x="323.86" y="198.30" font-size="8.29" fill="#111" textLength="13.41" lengthAdjust="spacingAndGlyphs">400</text>
<text x="340.55" y="198.30" font-size="8.29" fill="#111" textLength="13.41" lengthAdjust="spacingAndGlyphs">600</text>
<text x="358.78" y="198.30" font-size="8.29" fill="#111" textLength="13.41" lengthAdjust="spacingAndGlyphs">800</text>
<text x="375.31" y="198.30" font-size="8.29" fill="#111" textLength="17.88" lengthAdjust="spacingAndGlyphs">1000</text>
<g transform="translate(284.80,187.00) rotate(-90)">
<text x="-0.27" y="0.00" font-size="8.88" font-weight="bold" fill="#111" textLength="19.02" lengthAdjust="spacingAndGlyphs">SSC</text>
</g>
<line x1="281.70" y1="168.00" x2="281.70" y2="147.90" stroke="#111" stroke-width="1.3"/>
<path d="M281.70,143.70 L279.60,150.70 L283.80,150.70 Z" fill="#111"/>
<text x="320.79" y="210.50" font-size="8.88" font-weight="bold" fill="#111" textLength="18.37" lengthAdjust="spacingAndGlyphs">FSC</text>
<line x1="342.30" y1="207.80" x2="366.20" y2="207.80" stroke="#111" stroke-width="1.3"/>
<path d="M371.90,207.80 L365.20,205.65 L365.20,209.95 Z" fill="#111"/>
<rect x="423.50" y="134.50" width="92.00" height="53.00" fill="none" stroke="#2a2a2a" stroke-width="1"/>
<line x1="449.50" y1="134.50" x2="449.50" y2="187.50" stroke="#3a3a3a" stroke-width="1"/>
<line x1="423.50" y1="169.50" x2="515.50" y2="169.50" stroke="#3a3a3a" stroke-width="1"/>
<path d="M423.0 187.5h-2.4M423.0 183.5h-1.6M423.0 181.2h-1.6M423.0 179.5h-1.6M423.0 178.2h-1.6M423.0 177.2h-1.6M423.0 176.3h-1.6M423.0 175.5h-1.6M423.0 174.9h-1.6M423.0 174.2h-2.4M423.0 170.3h-1.6M423.0 167.9h-1.6M423.0 166.3h-1.6M423.0 165.0h-1.6M423.0 163.9h-1.6M423.0 163.1h-1.6M423.0 162.3h-1.6M423.0 161.6h-1.6M423.0 161.0h-2.4M423.0 157.0h-1.6M423.0 154.7h-1.6M423.0 153.0h-1.6M423.0 151.7h-1.6M423.0 150.7h-1.6M423.0 149.8h-1.6M423.0 149.0h-1.6M423.0 148.4h-1.6M423.0 147.8h-2.4M423.0 143.8h-1.6M423.0 141.4h-1.6M423.0 139.8h-1.6M423.0 138.5h-1.6M423.0 137.4h-1.6M423.0 136.6h-1.6M423.0 135.8h-1.6M423.0 135.1h-1.6M423.0 134.5h-2.4" stroke="#222" stroke-width="0.9"/>
<path d="M423.5 188.0v2.4M430.4 188.0v1.6M434.5 188.0v1.6M437.3 188.0v1.6M439.6 188.0v1.6M441.4 188.0v1.6M442.9 188.0v1.6M444.3 188.0v1.6M445.4 188.0v1.6M446.5 188.0v2.4M453.4 188.0v1.6M457.5 188.0v1.6M460.3 188.0v1.6M462.6 188.0v1.6M464.4 188.0v1.6M465.9 188.0v1.6M467.3 188.0v1.6M468.4 188.0v1.6M469.5 188.0v2.4M476.4 188.0v1.6M480.5 188.0v1.6M483.3 188.0v1.6M485.6 188.0v1.6M487.4 188.0v1.6M488.9 188.0v1.6M490.3 188.0v1.6M491.4 188.0v1.6M492.5 188.0v2.4M499.4 188.0v1.6M503.5 188.0v1.6M506.3 188.0v1.6M508.6 188.0v1.6M510.4 188.0v1.6M511.9 188.0v1.6M513.3 188.0v1.6M514.4 188.0v1.6M515.5 188.0v2.4" stroke="#222" stroke-width="0.9"/>
<text x="418.89" y="197.60" font-size="6.73" fill="#111" textLength="6.02" lengthAdjust="spacingAndGlyphs">10</text>
<text x="425.20" y="193.80" font-size="5.01" fill="#111" textLength="2.79" lengthAdjust="spacingAndGlyphs">0</text>
<text x="441.89" y="197.60" font-size="6.73" fill="#111" textLength="6.02" lengthAdjust="spacingAndGlyphs">10</text>
<text x="448.01" y="193.80" font-size="5.09" fill="#111" textLength="2.83" lengthAdjust="spacingAndGlyphs">1</text>
<text x="464.89" y="197.60" font-size="6.73" fill="#111" textLength="6.02" lengthAdjust="spacingAndGlyphs">10</text>
<text x="471.15" y="193.80" font-size="5.01" fill="#111" textLength="2.79" lengthAdjust="spacingAndGlyphs">2</text>
<text x="487.89" y="197.60" font-size="6.73" fill="#111" textLength="6.02" lengthAdjust="spacingAndGlyphs">10</text>
<text x="494.21" y="193.80" font-size="5.01" fill="#111" textLength="2.79" lengthAdjust="spacingAndGlyphs">3</text>
<text x="510.89" y="197.60" font-size="6.73" fill="#111" textLength="6.02" lengthAdjust="spacingAndGlyphs">10</text>
<text x="517.28" y="193.80" font-size="5.09" fill="#111" textLength="2.83" lengthAdjust="spacingAndGlyphs">4</text>
<g transform="translate(418.50,190.50) rotate(-90)">
<text x="-0.46" y="0.00" font-size="5.44" fill="#111" textLength="6.69" lengthAdjust="spacingAndGlyphs">10</text>
</g>
<g transform="translate(414.50,184.10) rotate(-90)">
<text x="-0.18" y="0.00" font-size="4.58" fill="#111" textLength="2.55" lengthAdjust="spacingAndGlyphs">0</text>
</g>
<g transform="translate(418.50,177.88) rotate(-90)">
<text x="-0.46" y="0.00" font-size="5.44" fill="#111" textLength="6.69" lengthAdjust="spacingAndGlyphs">10</text>
</g>
<g transform="translate(414.50,171.47) rotate(-90)">
<text x="-0.35" y="0.00" font-size="4.65" fill="#111" textLength="2.59" lengthAdjust="spacingAndGlyphs">1</text>
</g>
<g transform="translate(418.50,165.25) rotate(-90)">
<text x="-0.46" y="0.00" font-size="5.44" fill="#111" textLength="6.69" lengthAdjust="spacingAndGlyphs">10</text>
</g>
<g transform="translate(414.50,158.85) rotate(-90)">
<text x="-0.23" y="0.00" font-size="4.58" fill="#111" textLength="2.55" lengthAdjust="spacingAndGlyphs">2</text>
</g>
<g transform="translate(418.50,152.62) rotate(-90)">
<text x="-0.46" y="0.00" font-size="5.44" fill="#111" textLength="6.69" lengthAdjust="spacingAndGlyphs">10</text>
</g>
<g transform="translate(414.50,146.22) rotate(-90)">
<text x="-0.17" y="0.00" font-size="4.58" fill="#111" textLength="2.55" lengthAdjust="spacingAndGlyphs">3</text>
</g>
<g transform="translate(418.50,140.00) rotate(-90)">
<text x="-0.46" y="0.00" font-size="5.44" fill="#111" textLength="6.69" lengthAdjust="spacingAndGlyphs">10</text>
</g>
<g transform="translate(414.50,133.60) rotate(-90)">
<text x="-0.11" y="0.00" font-size="4.65" fill="#111" textLength="2.59" lengthAdjust="spacingAndGlyphs">4</text>
</g>
<g transform="translate(406.90,185.80) rotate(-90)">
<text x="-0.40" y="0.00" font-size="9.74" font-weight="bold" fill="#111" textLength="30.03" lengthAdjust="spacingAndGlyphs">CD79a</text>
</g>
<line x1="403.60" y1="153.50" x2="403.60" y2="135.30" stroke="#111" stroke-width="1.3"/>
<path d="M403.60,131.40 L401.50,137.90 L405.70,137.90 Z" fill="#111"/>
<text x="441.02" y="207.20" font-size="9.31" font-weight="bold" fill="#111" textLength="23.93" lengthAdjust="spacingAndGlyphs">CD34</text>
<line x1="467.00" y1="204.70" x2="490.20" y2="204.70" stroke="#111" stroke-width="1.3"/>
<path d="M496.30,204.70 L489.20,202.55 L489.20,206.85 Z" fill="#111"/>
<text x="502.82" y="141.50" font-size="6.43" fill="#111" textLength="3.75" lengthAdjust="spacingAndGlyphs">0</text>
<text x="497.76" y="148.50" font-size="6.43" fill="#111" textLength="13.88" lengthAdjust="spacingAndGlyphs">(0.0)</text>
<rect x="296.50" y="220.50" width="87.00" height="51.00" fill="none" stroke="#2a2a2a" stroke-width="1"/>
<line x1="321.50" y1="220.50" x2="321.50" y2="271.50" stroke="#3a3a3a" stroke-width="1"/>
<line x1="296.50" y1="254.50" x2="383.50" y2="254.50" stroke="#3a3a3a" stroke-width="1"/>
<path d="M296.0 271.5h-2.4M296.0 267.7h-1.6M296.0 265.4h-1.6M296.0 263.8h-1.6M296.0 262.6h-1.6M296.0 261.6h-1.6M296.0 260.7h-1.6M296.0 260.0h-1.6M296.0 259.3h-1.6M296.0 258.8h-2.4M296.0 254.9h-1.6M296.0 252.7h-1.6M296.0 251.1h-1.6M296.0 249.8h-1.6M296.0 248.8h-1.6M296.0 248.0h-1.6M296.0 247.2h-1.6M296.0 246.6h-1.6M296.0 246.0h-2.4M296.0 242.2h-1.6M296.0 239.9h-1.6M296.0 238.3h-1.6M296.0 237.1h-1.6M296.0 236.1h-1.6M296.0 235.2h-1.6M296.0 234.5h-1.6M296.0 233.8h-1.6M296.0 233.2h-2.4M296.0 229.4h-1.6M296.0 227.2h-1.6M296.0 225.6h-1.6M296.0 224.3h-1.6M296.0 223.3h-1.6M296.0 222.5h-1.6M296.0 221.7h-1.6M296.0 221.1h-1.6M296.0 220.5h-2.4" stroke="#222" stroke-width="0.9"/>
<path d="M296.5 272.0v2.4M303.0 272.0v1.6M306.9 272.0v1.6M309.6 272.0v1.6M311.7 272.0v1.6M313.4 272.0v1.6M314.9 272.0v1.6M316.1 272.0v1.6M317.3 272.0v1.6M318.2 272.0v2.4M324.8 272.0v1.6M328.6 272.0v1.6M331.3 272.0v1.6M333.5 272.0v1.6M335.2 272.0v1.6M336.6 272.0v1.6M337.9 272.0v1.6M339.0 272.0v1.6M340.0 272.0v2.4M346.5 272.0v1.6M350.4 272.0v1.6M353.1 272.0v1.6M355.2 272.0v1.6M356.9 272.0v1.6M358.4 272.0v1.6M359.6 272.0v1.6M360.8 272.0v1.6M361.8 272.0v2.4M368.3 272.0v1.6M372.1 272.0v1.6M374.8 272.0v1.6M377.0 272.0v1.6M378.7 272.0v1.6M380.1 272.0v1.6M381.4 272.0v1.6M382.5 272.0v1.6M383.5 272.0v2.4" stroke="#222" stroke-width="0.9"/>
<text x="291.89" y="281.60" font-size="6.73" fill="#111" textLength="6.02" lengthAdjust="spacingAndGlyphs">10</text>
<text x="298.20" y="277.80" font-size="5.01" fill="#111" textLength="2.79" lengthAdjust="spacingAndGlyphs">0</text>
<text x="313.64" y="281.60" font-size="6.73" fill="#111" textLength="6.02" lengthAdjust="spacingAndGlyphs">10</text>
<text x="319.76" y="277.80" font-size="5.09" fill="#111" textLength="2.83" lengthAdjust="spacingAndGlyphs">1</text>
<text x="335.39" y="281.60" font-size="6.73" fill="#111" textLength="6.02" lengthAdjust="spacingAndGlyphs">10</text>
<text x="341.65" y="277.80" font-size="5.01" fill="#111" textLength="2.79" lengthAdjust="spacingAndGlyphs">2</text>
<text x="357.14" y="281.60" font-size="6.73" fill="#111" textLength="6.02" lengthAdjust="spacingAndGlyphs">10</text>
<text x="363.46" y="277.80" font-size="5.01" fill="#111" textLength="2.79" lengthAdjust="spacingAndGlyphs">3</text>
<text x="378.89" y="281.60" font-size="6.73" fill="#111" textLength="6.02" lengthAdjust="spacingAndGlyphs">10</text>
<text x="385.28" y="277.80" font-size="5.09" fill="#111" textLength="2.83" lengthAdjust="spacingAndGlyphs">4</text>
<g transform="translate(291.50,274.50) rotate(-90)">
<text x="-0.46" y="0.00" font-size="5.44" fill="#111" textLength="6.69" lengthAdjust="spacingAndGlyphs">10</text>
</g>
<g transform="translate(287.50,268.10) rotate(-90)">
<text x="-0.18" y="0.00" font-size="4.58" fill="#111" textLength="2.55" lengthAdjust="spacingAndGlyphs">0</text>
</g>
<g transform="translate(291.50,262.38) rotate(-90)">
<text x="-0.46" y="0.00" font-size="5.44" fill="#111" textLength="6.69" lengthAdjust="spacingAndGlyphs">10</text>
</g>
<g transform="translate(287.50,255.97) rotate(-90)">
<text x="-0.35" y="0.00" font-size="4.65" fill="#111" textLength="2.59" lengthAdjust="spacingAndGlyphs">1</text>
</g>
<g transform="translate(291.50,250.25) rotate(-90)">
<text x="-0.46" y="0.00" font-size="5.44" fill="#111" textLength="6.69" lengthAdjust="spacingAndGlyphs">10</text>
</g>
<g transform="translate(287.50,243.85) rotate(-90)">
<text x="-0.23" y="0.00" font-size="4.58" fill="#111" textLength="2.55" lengthAdjust="spacingAndGlyphs">2</text>
</g>
<g transform="translate(291.50,238.12) rotate(-90)">
<text x="-0.46" y="0.00" font-size="5.44" fill="#111" textLength="6.69" lengthAdjust="spacingAndGlyphs">10</text>
</g>
<g transform="translate(287.50,231.72) rotate(-90)">
<text x="-0.17" y="0.00" font-size="4.58" fill="#111" textLength="2.55" lengthAdjust="spacingAndGlyphs">3</text>
</g>
<g transform="translate(291.50,226.00) rotate(-90)">
<text x="-0.46" y="0.00" font-size="5.44" fill="#111" textLength="6.69" lengthAdjust="spacingAndGlyphs">10</text>
</g>
<g transform="translate(287.50,219.60) rotate(-90)">
<text x="-0.11" y="0.00" font-size="4.65" fill="#111" textLength="2.59" lengthAdjust="spacingAndGlyphs">4</text>
</g>
<g transform="translate(282.20,270.30) rotate(-90)">
<text x="-0.40" y="0.00" font-size="9.74" font-weight="bold" fill="#111" textLength="30.14" lengthAdjust="spacingAndGlyphs">CD79a</text>
</g>
<line x1="278.80" y1="238.80" x2="278.80" y2="220.60" stroke="#111" stroke-width="1.3"/>
<path d="M278.80,216.70 L276.70,223.20 L280.90,223.20 Z" fill="#111"/>
<text x="310.87" y="291.70" font-size="9.16" font-weight="bold" fill="#111" textLength="36.33" lengthAdjust="spacingAndGlyphs">HLA-DR</text>
<line x1="347.50" y1="288.10" x2="371.40" y2="288.10" stroke="#111" stroke-width="1.3"/>
<path d="M378.10,288.10 L370.40,285.95 L370.40,290.25 Z" fill="#111"/>
<text x="365.07" y="227.40" font-size="6.71" fill="#111" textLength="16.80" lengthAdjust="spacingAndGlyphs">100.0</text>
<text x="366.70" y="233.40" font-size="6.71" fill="#111" textLength="13.81" lengthAdjust="spacingAndGlyphs">(0.0)</text>
<rect x="423.50" y="220.50" width="92.00" height="51.00" fill="none" stroke="#2a2a2a" stroke-width="1"/>
<line x1="449.50" y1="220.50" x2="449.50" y2="271.50" stroke="#3a3a3a" stroke-width="1"/>
<line x1="423.50" y1="254.50" x2="515.50" y2="254.50" stroke="#3a3a3a" stroke-width="1"/>
<path d="M423.0 271.5h-2.4M423.0 267.7h-1.6M423.0 265.4h-1.6M423.0 263.8h-1.6M423.0 262.6h-1.6M423.0 261.6h-1.6M423.0 260.7h-1.6M423.0 260.0h-1.6M423.0 259.3h-1.6M423.0 258.8h-2.4M423.0 254.9h-1.6M423.0 252.7h-1.6M423.0 251.1h-1.6M423.0 249.8h-1.6M423.0 248.8h-1.6M423.0 248.0h-1.6M423.0 247.2h-1.6M423.0 246.6h-1.6M423.0 246.0h-2.4M423.0 242.2h-1.6M423.0 239.9h-1.6M423.0 238.3h-1.6M423.0 237.1h-1.6M423.0 236.1h-1.6M423.0 235.2h-1.6M423.0 234.5h-1.6M423.0 233.8h-1.6M423.0 233.2h-2.4M423.0 229.4h-1.6M423.0 227.2h-1.6M423.0 225.6h-1.6M423.0 224.3h-1.6M423.0 223.3h-1.6M423.0 222.5h-1.6M423.0 221.7h-1.6M423.0 221.1h-1.6M423.0 220.5h-2.4" stroke="#222" stroke-width="0.9"/>
<path d="M423.5 272.0v2.4M430.4 272.0v1.6M434.5 272.0v1.6M437.3 272.0v1.6M439.6 272.0v1.6M441.4 272.0v1.6M442.9 272.0v1.6M444.3 272.0v1.6M445.4 272.0v1.6M446.5 272.0v2.4M453.4 272.0v1.6M457.5 272.0v1.6M460.3 272.0v1.6M462.6 272.0v1.6M464.4 272.0v1.6M465.9 272.0v1.6M467.3 272.0v1.6M468.4 272.0v1.6M469.5 272.0v2.4M476.4 272.0v1.6M480.5 272.0v1.6M483.3 272.0v1.6M485.6 272.0v1.6M487.4 272.0v1.6M488.9 272.0v1.6M490.3 272.0v1.6M491.4 272.0v1.6M492.5 272.0v2.4M499.4 272.0v1.6M503.5 272.0v1.6M506.3 272.0v1.6M508.6 272.0v1.6M510.4 272.0v1.6M511.9 272.0v1.6M513.3 272.0v1.6M514.4 272.0v1.6M515.5 272.0v2.4" stroke="#222" stroke-width="0.9"/>
<text x="418.89" y="281.60" font-size="6.73" fill="#111" textLength="6.02" lengthAdjust="spacingAndGlyphs">10</text>
<text x="425.20" y="277.80" font-size="5.01" fill="#111" textLength="2.79" lengthAdjust="spacingAndGlyphs">0</text>
<text x="441.89" y="281.60" font-size="6.73" fill="#111" textLength="6.02" lengthAdjust="spacingAndGlyphs">10</text>
<text x="448.01" y="277.80" font-size="5.09" fill="#111" textLength="2.83" lengthAdjust="spacingAndGlyphs">1</text>
<text x="464.89" y="281.60" font-size="6.73" fill="#111" textLength="6.02" lengthAdjust="spacingAndGlyphs">10</text>
<text x="471.15" y="277.80" font-size="5.01" fill="#111" textLength="2.79" lengthAdjust="spacingAndGlyphs">2</text>
<text x="487.89" y="281.60" font-size="6.73" fill="#111" textLength="6.02" lengthAdjust="spacingAndGlyphs">10</text>
<text x="494.21" y="277.80" font-size="5.01" fill="#111" textLength="2.79" lengthAdjust="spacingAndGlyphs">3</text>
<text x="510.89" y="281.60" font-size="6.73" fill="#111" textLength="6.02" lengthAdjust="spacingAndGlyphs">10</text>
<text x="517.28" y="277.80" font-size="5.09" fill="#111" textLength="2.83" lengthAdjust="spacingAndGlyphs">4</text>
<g transform="translate(418.50,274.50) rotate(-90)">
<text x="-0.46" y="0.00" font-size="5.44" fill="#111" textLength="6.69" lengthAdjust="spacingAndGlyphs">10</text>
</g>
<g transform="translate(414.50,268.10) rotate(-90)">
<text x="-0.18" y="0.00" font-size="4.58" fill="#111" textLength="2.55" lengthAdjust="spacingAndGlyphs">0</text>
</g>
<g transform="translate(418.50,262.38) rotate(-90)">
<text x="-0.46" y="0.00" font-size="5.44" fill="#111" textLength="6.69" lengthAdjust="spacingAndGlyphs">10</text>
</g>
<g transform="translate(414.50,255.97) rotate(-90)">
<text x="-0.35" y="0.00" font-size="4.65" fill="#111" textLength="2.59" lengthAdjust="spacingAndGlyphs">1</text>
</g>
<g transform="translate(418.50,250.25) rotate(-90)">
<text x="-0.46" y="0.00" font-size="5.44" fill="#111" textLength="6.69" lengthAdjust="spacingAndGlyphs">10</text>
</g>
<g transform="translate(414.50,243.85) rotate(-90)">
<text x="-0.23" y="0.00" font-size="4.58" fill="#111" textLength="2.55" lengthAdjust="spacingAndGlyphs">2</text>
</g>
<g transform="translate(418.50,238.12) rotate(-90)">
<text x="-0.46" y="0.00" font-size="5.44" fill="#111" textLength="6.69" lengthAdjust="spacingAndGlyphs">10</text>
</g>
<g transform="translate(414.50,231.72) rotate(-90)">
<text x="-0.17" y="0.00" font-size="4.58" fill="#111" textLength="2.55" lengthAdjust="spacingAndGlyphs">3</text>
</g>
<g transform="translate(418.50,226.00) rotate(-90)">
<text x="-0.46" y="0.00" font-size="5.44" fill="#111" textLength="6.69" lengthAdjust="spacingAndGlyphs">10</text>
</g>
<g transform="translate(414.50,219.60) rotate(-90)">
<text x="-0.11" y="0.00" font-size="4.65" fill="#111" textLength="2.59" lengthAdjust="spacingAndGlyphs">4</text>
</g>
<g transform="translate(406.30,271.10) rotate(-90)">
<text x="-0.39" y="0.00" font-size="8.88" font-weight="bold" fill="#111" textLength="29.23" lengthAdjust="spacingAndGlyphs">CD79a</text>
</g>
<line x1="403.50" y1="239.70" x2="403.50" y2="220.60" stroke="#111" stroke-width="1.3"/>
<path d="M403.50,216.70 L401.40,223.20 L405.60,223.20 Z" fill="#111"/>
<text x="442.31" y="291.40" font-size="9.02" font-weight="bold" fill="#111" textLength="36.91" lengthAdjust="spacingAndGlyphs">CDw127</text>
<line x1="479.00" y1="288.20" x2="502.90" y2="288.20" stroke="#111" stroke-width="1.3"/>
<path d="M509.10,288.20 L501.90,286.05 L501.90,290.35 Z" fill="#111"/>
<text x="496.43" y="227.50" font-size="6.43" fill="#111" textLength="13.14" lengthAdjust="spacingAndGlyphs">58.0</text>
<text x="494.18" y="233.70" font-size="6.43" fill="#111" textLength="17.63" lengthAdjust="spacingAndGlyphs">(11.3)</text>
<rect x="296.50" y="306.50" width="87.00" height="53.00" fill="none" stroke="#2a2a2a" stroke-width="1"/>
<line x1="317.50" y1="306.50" x2="317.50" y2="359.50" stroke="#3a3a3a" stroke-width="1"/>
<line x1="296.50" y1="341.50" x2="383.50" y2="341.50" stroke="#3a3a3a" stroke-width="1"/>
<path d="M296.0 359.5h-2.4M296.0 355.5h-1.6M296.0 353.2h-1.6M296.0 351.5h-1.6M296.0 350.2h-1.6M296.0 349.2h-1.6M296.0 348.3h-1.6M296.0 347.5h-1.6M296.0 346.9h-1.6M296.0 346.2h-2.4M296.0 342.3h-1.6M296.0 339.9h-1.6M296.0 338.3h-1.6M296.0 337.0h-1.6M296.0 335.9h-1.6M296.0 335.1h-1.6M296.0 334.3h-1.6M296.0 333.6h-1.6M296.0 333.0h-2.4M296.0 329.0h-1.6M296.0 326.7h-1.6M296.0 325.0h-1.6M296.0 323.7h-1.6M296.0 322.7h-1.6M296.0 321.8h-1.6M296.0 321.0h-1.6M296.0 320.4h-1.6M296.0 319.8h-2.4M296.0 315.8h-1.6M296.0 313.4h-1.6M296.0 311.8h-1.6M296.0 310.5h-1.6M296.0 309.4h-1.6M296.0 308.6h-1.6M296.0 307.8h-1.6M296.0 307.1h-1.6M296.0 306.5h-2.4" stroke="#222" stroke-width="0.9"/>
<path d="M296.5 360.0v2.4M303.0 360.0v1.6M306.9 360.0v1.6M309.6 360.0v1.6M311.7 360.0v1.6M313.4 360.0v1.6M314.9 360.0v1.6M316.1 360.0v1.6M317.3 360.0v1.6M318.2 360.0v2.4M324.8 360.0v1.6M328.6 360.0v1.6M331.3 360.0v1.6M333.5 360.0v1.6M335.2 360.0v1.6M336.6 360.0v1.6M337.9 360.0v1.6M339.0 360.0v1.6M340.0 360.0v2.4M346.5 360.0v1.6M350.4 360.0v1.6M353.1 360.0v1.6M355.2 360.0v1.6M356.9 360.0v1.6M358.4 360.0v1.6M359.6 360.0v1.6M360.8 360.0v1.6M361.8 360.0v2.4M368.3 360.0v1.6M372.1 360.0v1.6M374.8 360.0v1.6M377.0 360.0v1.6M378.7 360.0v1.6M380.1 360.0v1.6M381.4 360.0v1.6M382.5 360.0v1.6M383.5 360.0v2.4" stroke="#222" stroke-width="0.9"/>
<text x="291.89" y="369.60" font-size="6.73" fill="#111" textLength="6.02" lengthAdjust="spacingAndGlyphs">10</text>
<text x="298.20" y="365.80" font-size="5.01" fill="#111" textLength="2.79" lengthAdjust="spacingAndGlyphs">0</text>
<text x="313.64" y="369.60" font-size="6.73" fill="#111" textLength="6.02" lengthAdjust="spacingAndGlyphs">10</text>
<text x="319.76" y="365.80" font-size="5.09" fill="#111" textLength="2.83" lengthAdjust="spacingAndGlyphs">1</text>
<text x="335.39" y="369.60" font-size="6.73" fill="#111" textLength="6.02" lengthAdjust="spacingAndGlyphs">10</text>
<text x="341.65" y="365.80" font-size="5.01" fill="#111" textLength="2.79" lengthAdjust="spacingAndGlyphs">2</text>
<text x="357.14" y="369.60" font-size="6.73" fill="#111" textLength="6.02" lengthAdjust="spacingAndGlyphs">10</text>
<text x="363.46" y="365.80" font-size="5.01" fill="#111" textLength="2.79" lengthAdjust="spacingAndGlyphs">3</text>
<text x="378.89" y="369.60" font-size="6.73" fill="#111" textLength="6.02" lengthAdjust="spacingAndGlyphs">10</text>
<text x="385.28" y="365.80" font-size="5.09" fill="#111" textLength="2.83" lengthAdjust="spacingAndGlyphs">4</text>
<g transform="translate(291.50,362.50) rotate(-90)">
<text x="-0.46" y="0.00" font-size="5.44" fill="#111" textLength="6.69" lengthAdjust="spacingAndGlyphs">10</text>
</g>
<g transform="translate(287.50,356.10) rotate(-90)">
<text x="-0.18" y="0.00" font-size="4.58" fill="#111" textLength="2.55" lengthAdjust="spacingAndGlyphs">0</text>
</g>
<g transform="translate(291.50,349.88) rotate(-90)">
<text x="-0.46" y="0.00" font-size="5.44" fill="#111" textLength="6.69" lengthAdjust="spacingAndGlyphs">10</text>
</g>
<g transform="translate(287.50,343.48) rotate(-90)">
<text x="-0.35" y="0.00" font-size="4.65" fill="#111" textLength="2.59" lengthAdjust="spacingAndGlyphs">1</text>
</g>
<g transform="translate(291.50,337.25) rotate(-90)">
<text x="-0.46" y="0.00" font-size="5.44" fill="#111" textLength="6.69" lengthAdjust="spacingAndGlyphs">10</text>
</g>
<g transform="translate(287.50,330.85) rotate(-90)">
<text x="-0.23" y="0.00" font-size="4.58" fill="#111" textLength="2.55" lengthAdjust="spacingAndGlyphs">2</text>
</g>
<g transform="translate(291.50,324.62) rotate(-90)">
<text x="-0.46" y="0.00" font-size="5.44" fill="#111" textLength="6.69" lengthAdjust="spacingAndGlyphs">10</text>
</g>
<g transform="translate(287.50,318.23) rotate(-90)">
<text x="-0.17" y="0.00" font-size="4.58" fill="#111" textLength="2.55" lengthAdjust="spacingAndGlyphs">3</text>
</g>
<g transform="translate(291.50,312.00) rotate(-90)">
<text x="-0.46" y="0.00" font-size="5.44" fill="#111" textLength="6.69" lengthAdjust="spacingAndGlyphs">10</text>
</g>
<g transform="translate(287.50,305.60) rotate(-90)">
<text x="-0.11" y="0.00" font-size="4.65" fill="#111" textLength="2.59" lengthAdjust="spacingAndGlyphs">4</text>
</g>
<g transform="translate(281.30,356.70) rotate(-90)">
<text x="-0.39" y="0.00" font-size="9.74" font-weight="bold" fill="#111" textLength="29.23" lengthAdjust="spacingAndGlyphs">CD79a</text>
</g>
<line x1="277.90" y1="325.20" x2="277.90" y2="308.70" stroke="#111" stroke-width="1.3"/>
<path d="M277.90,304.80 L275.80,311.30 L280.00,311.30 Z" fill="#111"/>
<text x="312.71" y="379.50" font-size="8.74" font-weight="bold" fill="#111" textLength="24.28" lengthAdjust="spacingAndGlyphs">CD10</text>
<line x1="338.00" y1="376.00" x2="361.90" y2="376.00" stroke="#111" stroke-width="1.3"/>
<path d="M368.30,376.00 L360.90,373.85 L360.90,378.15 Z" fill="#111"/>
<text x="365.62" y="314.20" font-size="6.43" fill="#111" textLength="13.14" lengthAdjust="spacingAndGlyphs">85.0</text>
<text x="363.38" y="320.20" font-size="6.43" fill="#111" textLength="17.63" lengthAdjust="spacingAndGlyphs">(15.0)</text>
<rect x="424.50" y="306.50" width="89.00" height="54.00" fill="none" stroke="#2a2a2a" stroke-width="1"/>
<line x1="450.50" y1="306.50" x2="450.50" y2="360.50" stroke="#3a3a3a" stroke-width="1"/>
<line x1="424.50" y1="341.50" x2="513.50" y2="341.50" stroke="#3a3a3a" stroke-width="1"/>
<path d="M424.0 360.5h-2.4M424.0 356.4h-1.6M424.0 354.1h-1.6M424.0 352.4h-1.6M424.0 351.1h-1.6M424.0 350.0h-1.6M424.0 349.1h-1.6M424.0 348.3h-1.6M424.0 347.6h-1.6M424.0 347.0h-2.4M424.0 342.9h-1.6M424.0 340.6h-1.6M424.0 338.9h-1.6M424.0 337.6h-1.6M424.0 336.5h-1.6M424.0 335.6h-1.6M424.0 334.8h-1.6M424.0 334.1h-1.6M424.0 333.5h-2.4M424.0 329.4h-1.6M424.0 327.1h-1.6M424.0 325.4h-1.6M424.0 324.1h-1.6M424.0 323.0h-1.6M424.0 322.1h-1.6M424.0 321.3h-1.6M424.0 320.6h-1.6M424.0 320.0h-2.4M424.0 315.9h-1.6M424.0 313.6h-1.6M424.0 311.9h-1.6M424.0 310.6h-1.6M424.0 309.5h-1.6M424.0 308.6h-1.6M424.0 307.8h-1.6M424.0 307.1h-1.6M424.0 306.5h-2.4" stroke="#222" stroke-width="0.9"/>
<path d="M424.5 361.0v2.4M431.2 361.0v1.6M435.1 361.0v1.6M437.9 361.0v1.6M440.1 361.0v1.6M441.8 361.0v1.6M443.3 361.0v1.6M444.6 361.0v1.6M445.7 361.0v1.6M446.8 361.0v2.4M453.4 361.0v1.6M457.4 361.0v1.6M460.1 361.0v1.6M462.3 361.0v1.6M464.1 361.0v1.6M465.6 361.0v1.6M466.8 361.0v1.6M468.0 361.0v1.6M469.0 361.0v2.4M475.7 361.0v1.6M479.6 361.0v1.6M482.4 361.0v1.6M484.6 361.0v1.6M486.3 361.0v1.6M487.8 361.0v1.6M489.1 361.0v1.6M490.2 361.0v1.6M491.2 361.0v2.4M497.9 361.0v1.6M501.9 361.0v1.6M504.6 361.0v1.6M506.8 361.0v1.6M508.6 361.0v1.6M510.1 361.0v1.6M511.3 361.0v1.6M512.5 361.0v1.6M513.5 361.0v2.4" stroke="#222" stroke-width="0.9"/>
<text x="419.89" y="370.60" font-size="6.73" fill="#111" textLength="6.02" lengthAdjust="spacingAndGlyphs">10</text>
<text x="426.20" y="366.80" font-size="5.01" fill="#111" textLength="2.79" lengthAdjust="spacingAndGlyphs">0</text>
<text x="442.14" y="370.60" font-size="6.73" fill="#111" textLength="6.02" lengthAdjust="spacingAndGlyphs">10</text>
<text x="448.26" y="366.80" font-size="5.09" fill="#111" textLength="2.83" lengthAdjust="spacingAndGlyphs">1</text>
<text x="464.39" y="370.60" font-size="6.73" fill="#111" textLength="6.02" lengthAdjust="spacingAndGlyphs">10</text>
<text x="470.65" y="366.80" font-size="5.01" fill="#111" textLength="2.79" lengthAdjust="spacingAndGlyphs">2</text>
<text x="486.64" y="370.60" font-size="6.73" fill="#111" textLength="6.02" lengthAdjust="spacingAndGlyphs">10</text>
<text x="492.96" y="366.80" font-size="5.01" fill="#111" textLength="2.79" lengthAdjust="spacingAndGlyphs">3</text>
<text x="508.89" y="370.60" font-size="6.73" fill="#111" textLength="6.02" lengthAdjust="spacingAndGlyphs">10</text>
<text x="515.28" y="366.80" font-size="5.09" fill="#111" textLength="2.83" lengthAdjust="spacingAndGlyphs">4</text>
<g transform="translate(419.50,363.50) rotate(-90)">
<text x="-0.46" y="0.00" font-size="5.44" fill="#111" textLength="6.69" lengthAdjust="spacingAndGlyphs">10</text>
</g>
<g transform="translate(415.50,357.10) rotate(-90)">
<text x="-0.18" y="0.00" font-size="4.58" fill="#111" textLength="2.55" lengthAdjust="spacingAndGlyphs">0</text>
</g>
<g transform="translate(419.50,350.62) rotate(-90)">
<text x="-0.46" y="0.00" font-size="5.44" fill="#111" textLength="6.69" lengthAdjust="spacingAndGlyphs">10</text>
</g>
<g transform="translate(415.50,344.23) rotate(-90)">
<text x="-0.35" y="0.00" font-size="4.65" fill="#111" textLength="2.59" lengthAdjust="spacingAndGlyphs">1</text>
</g>
<g transform="translate(419.50,337.75) rotate(-90)">
<text x="-0.46" y="0.00" font-size="5.44" fill="#111" textLength="6.69" lengthAdjust="spacingAndGlyphs">10</text>
</g>
<g transform="translate(415.50,331.35) rotate(-90)">
<text x="-0.23" y="0.00" font-size="4.58" fill="#111" textLength="2.55" lengthAdjust="spacingAndGlyphs">2</text>
</g>
<g transform="translate(419.50,324.88) rotate(-90)">
<text x="-0.46" y="0.00" font-size="5.44" fill="#111" textLength="6.69" lengthAdjust="spacingAndGlyphs">10</text>
</g>
<g transform="translate(415.50,318.48) rotate(-90)">
<text x="-0.17" y="0.00" font-size="4.58" fill="#111" textLength="2.55" lengthAdjust="spacingAndGlyphs">3</text>
</g>
<g transform="translate(419.50,312.00) rotate(-90)">
<text x="-0.46" y="0.00" font-size="5.44" fill="#111" textLength="6.69" lengthAdjust="spacingAndGlyphs">10</text>
</g>
<g transform="translate(415.50,305.60) rotate(-90)">
<text x="-0.11" y="0.00" font-size="4.65" fill="#111" textLength="2.59" lengthAdjust="spacingAndGlyphs">4</text>
</g>
<g transform="translate(408.90,358.40) rotate(-90)">
<text x="-0.40" y="0.00" font-size="9.74" font-weight="bold" fill="#111" textLength="30.44" lengthAdjust="spacingAndGlyphs">CD79a</text>
</g>
<line x1="405.60" y1="326.10" x2="405.60" y2="307.90" stroke="#111" stroke-width="1.3"/>
<path d="M405.60,304.00 L403.50,310.50 L407.70,310.50 Z" fill="#111"/>
<text x="442.30" y="380.10" font-size="8.59" font-weight="bold" fill="#111" textLength="19.74" lengthAdjust="spacingAndGlyphs">CD7</text>
<line x1="463.60" y1="377.40" x2="486.80" y2="377.40" stroke="#111" stroke-width="1.3"/>
<path d="M493.20,377.40 L485.80,375.25 L485.80,379.55 Z" fill="#111"/>
<text x="496.20" y="313.50" font-size="6.43" fill="#111" textLength="13.14" lengthAdjust="spacingAndGlyphs">21.5</text>
<text x="493.98" y="319.70" font-size="6.43" fill="#111" textLength="17.63" lengthAdjust="spacingAndGlyphs">(10.9)</text>
</g>
</svg></body></html>
